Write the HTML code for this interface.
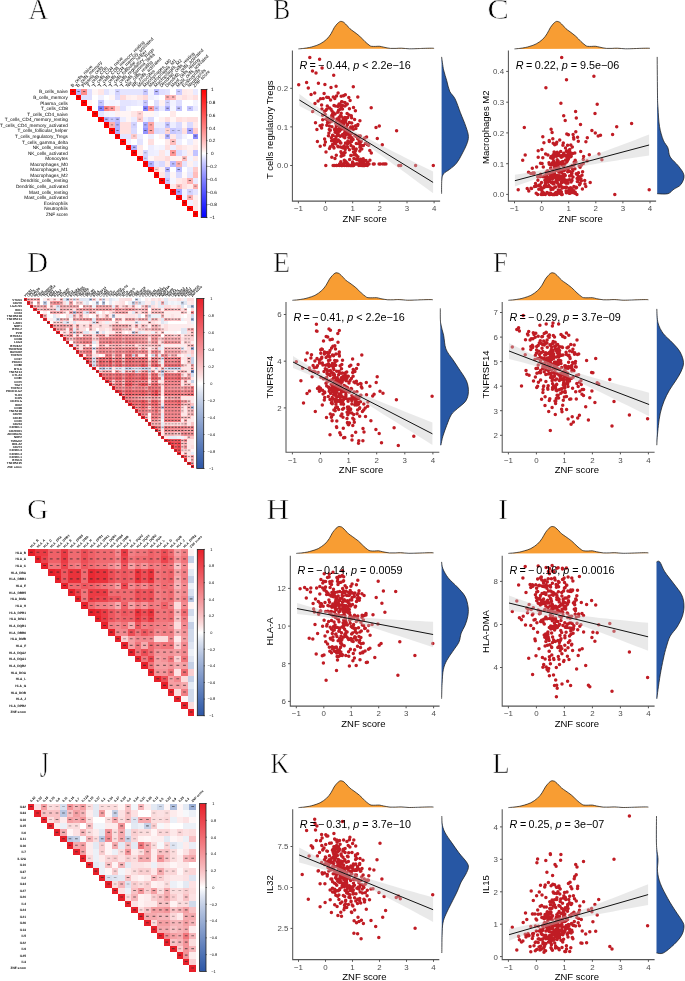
<!DOCTYPE html>
<html><head><meta charset="utf-8"><style>
html,body{margin:0;padding:0;background:#fff;}
svg{display:block;}
.tk{font-family:"Liberation Sans",sans-serif;font-size:7.9px;fill:#4D4D4D;}
.at{font-family:"Liberation Sans",sans-serif;font-size:9.5px;fill:#000;}
.rt{font-family:"Liberation Sans",sans-serif;font-size:10.8px;fill:#000;}
.lt{font-family:"Liberation Serif",serif;font-size:29px;fill:#000;stroke:#fff;stroke-width:0.6px;}
.hl{font-family:"Liberation Sans",sans-serif;fill:#000;text-rendering:geometricPrecision;}
</style></head><body>
<svg style="will-change:transform;filter:blur(0.3px)" width="685" height="981" viewBox="0 0 685 981">
<!-- panel B -->
<path d="M298.4,48.9 C299.3,48.8 302.0,48.6 303.8,48.4 C305.6,48.1 307.6,47.9 309.3,47.5 C310.9,47.2 312.1,46.9 313.9,46.3 C315.7,45.7 318.0,45.1 320.1,43.9 C322.2,42.8 324.8,41.0 326.6,39.3 C328.4,37.6 329.7,35.7 331.0,33.8 C332.2,31.8 333.2,29.3 334.2,27.7 C335.2,26.1 336.2,25.0 336.9,24.1 C337.7,23.3 338.0,23.0 338.6,22.5 C339.2,22.0 339.8,21.5 340.5,21.4 C341.1,21.3 341.8,21.5 342.4,21.7 C343.0,21.9 343.2,21.8 344.0,22.5 C344.8,23.2 346.3,24.7 347.3,25.8 C348.2,26.9 348.8,27.8 350.0,28.8 C351.1,29.8 352.4,30.6 354.0,31.8 C355.7,33.1 357.9,34.6 359.7,36.2 C361.5,37.9 363.4,40.0 364.9,41.5 C366.4,42.9 367.9,44.2 369.0,45.0 C370.0,45.9 370.3,46.1 371.4,46.3 C372.5,46.5 374.3,46.4 375.7,46.4 C377.2,46.4 378.5,46.1 379.8,46.3 C381.2,46.4 382.1,46.9 383.9,47.2 C385.7,47.6 388.4,48.2 390.4,48.4 C392.4,48.5 394.2,48.4 396.1,48.4 C398.0,48.3 399.3,48.1 401.5,48.2 C403.8,48.3 407.0,48.7 409.7,48.8 C412.4,48.8 415.6,48.7 417.8,48.6 C420.1,48.6 421.0,48.4 423.2,48.4 C425.5,48.3 429.6,48.2 431.4,48.2 C433.2,48.2 433.6,48.3 434.1,48.4 Z" fill="#F89D33" stroke="none"/>
<path d="M298.4,48.9 C299.3,48.8 302.0,48.6 303.8,48.4 C305.6,48.1 307.6,47.9 309.3,47.5 C310.9,47.2 312.1,46.9 313.9,46.3 C315.7,45.7 318.0,45.1 320.1,43.9 C322.2,42.8 324.8,41.0 326.6,39.3 C328.4,37.6 329.7,35.7 331.0,33.8 C332.2,31.8 333.2,29.3 334.2,27.7 C335.2,26.1 336.2,25.0 336.9,24.1 C337.7,23.3 338.0,23.0 338.6,22.5 C339.2,22.0 339.8,21.5 340.5,21.4 C341.1,21.3 341.8,21.5 342.4,21.7 C343.0,21.9 343.2,21.8 344.0,22.5 C344.8,23.2 346.3,24.7 347.3,25.8 C348.2,26.9 348.8,27.8 350.0,28.8 C351.1,29.8 352.4,30.6 354.0,31.8 C355.7,33.1 357.9,34.6 359.7,36.2 C361.5,37.9 363.4,40.0 364.9,41.5 C366.4,42.9 367.9,44.2 369.0,45.0 C370.0,45.9 370.3,46.1 371.4,46.3 C372.5,46.5 374.3,46.4 375.7,46.4 C377.2,46.4 378.5,46.1 379.8,46.3 C381.2,46.4 382.1,46.9 383.9,47.2 C385.7,47.6 388.4,48.2 390.4,48.4 C392.4,48.5 394.2,48.4 396.1,48.4 C398.0,48.3 399.3,48.1 401.5,48.2 C403.8,48.3 407.0,48.7 409.7,48.8 C412.4,48.8 415.6,48.7 417.8,48.6 C420.1,48.6 421.0,48.4 423.2,48.4 C425.5,48.3 429.6,48.2 431.4,48.2 C433.2,48.2 433.6,48.3 434.1,48.4" fill="none" stroke="#1a1a1a" stroke-width="0.75"/>
<path d="M441.6,56.9 C441.9,59.1 442.8,66.0 443.6,69.9 C444.5,73.9 445.7,77.0 446.7,80.6 C447.7,84.2 448.3,88.2 449.7,91.3 C451.1,94.3 453.3,95.3 455.1,98.9 C456.9,102.5 458.6,108.1 460.4,112.7 C462.2,117.3 464.5,122.5 465.8,126.4 C467.1,130.3 468.3,133.3 468.4,136.4 C468.5,139.5 467.6,141.9 466.5,144.8 C465.4,147.7 463.6,150.9 462.0,154.0 C460.4,157.1 458.7,160.5 456.6,163.1 C454.6,165.7 451.9,167.5 449.7,169.3 C447.5,171.1 444.9,172.0 443.6,173.8 C442.3,175.6 442.1,176.7 441.8,180.0 C441.5,183.3 441.6,191.4 441.6,193.7 L441.6,193.7 L441.6,56.9 Z" fill="#2757A4" stroke="none"/>
<path d="M441.6,56.9 C441.9,59.1 442.8,66.0 443.6,69.9 C444.5,73.9 445.7,77.0 446.7,80.6 C447.7,84.2 448.3,88.2 449.7,91.3 C451.1,94.3 453.3,95.3 455.1,98.9 C456.9,102.5 458.6,108.1 460.4,112.7 C462.2,117.3 464.5,122.5 465.8,126.4 C467.1,130.3 468.3,133.3 468.4,136.4 C468.5,139.5 467.6,141.9 466.5,144.8 C465.4,147.7 463.6,150.9 462.0,154.0 C460.4,157.1 458.7,160.5 456.6,163.1 C454.6,165.7 451.9,167.5 449.7,169.3 C447.5,171.1 444.9,172.0 443.6,173.8 C442.3,175.6 442.1,176.7 441.8,180.0 C441.5,183.3 441.6,191.4 441.6,193.7" fill="none" stroke="#1a1a1a" stroke-width="0.75"/>
<path d="M339.4 131.0h0M334.7 97.9h0M338.6 105.3h0M339.0 140.9h0M337.2 135.2h0M357.9 156.7h0M331.0 109.3h0M359.8 151.0h0M347.4 124.8h0M326.0 152.1h0M341.6 101.7h0M341.2 135.7h0M359.2 137.9h0M347.1 165.5h0M326.8 125.3h0M333.2 114.2h0M352.2 128.0h0M384.5 164.0h0M337.5 132.2h0M339.3 117.2h0M338.1 146.8h0M336.3 155.2h0M336.9 119.1h0M385.9 164.0h0M331.8 157.3h0M328.4 135.7h0M379.1 164.0h0M334.0 148.1h0M356.7 164.0h0M325.2 114.4h0M345.9 119.7h0M361.1 165.5h0M315.5 122.7h0M343.2 127.2h0M344.3 121.4h0M329.4 126.0h0M346.6 128.1h0M328.4 97.6h0M336.9 132.7h0M333.1 140.5h0M347.3 133.0h0M331.5 116.4h0M347.7 117.5h0M341.1 156.2h0M334.7 139.2h0M345.1 152.6h0M320.2 146.2h0M360.9 149.3h0M360.7 142.0h0M334.7 141.4h0M318.4 83.2h0M343.0 118.1h0M342.2 121.1h0M332.6 114.0h0M326.7 97.3h0M325.8 165.5h0M339.1 118.3h0M354.8 135.3h0M344.7 165.5h0M347.7 133.5h0M346.6 165.5h0M345.6 121.9h0M346.2 147.1h0M338.2 130.4h0M350.1 135.9h0M344.5 152.6h0M333.7 75.2h0M347.8 142.4h0M339.9 121.8h0M356.8 156.2h0M366.6 136.9h0M355.8 135.5h0M334.8 129.0h0M314.7 93.0h0M351.6 117.7h0M338.1 92.9h0M346.9 162.8h0M364.2 138.6h0M363.4 145.6h0M356.2 148.9h0M316.9 129.5h0M341.3 107.3h0M352.3 165.5h0M333.9 112.9h0M333.3 97.0h0M344.9 161.9h0M322.7 119.7h0M330.3 146.7h0M341.9 129.1h0M344.9 105.9h0M379.3 126.1h0M340.8 161.7h0M333.1 135.6h0M367.3 144.5h0M342.1 101.7h0M369.8 150.6h0M351.2 155.5h0M345.7 132.5h0M350.1 142.7h0M340.3 136.3h0M340.5 147.1h0M348.4 133.5h0M338.5 124.0h0M363.4 165.5h0M355.7 150.4h0M325.4 141.9h0M356.5 155.5h0M382.3 144.7h0M338.1 134.0h0M344.3 160.2h0M351.3 115.8h0M349.2 131.5h0M345.3 94.8h0M331.5 120.7h0M339.8 141.4h0M329.5 148.5h0M354.6 119.4h0M357.8 96.9h0M356.6 159.5h0M337.0 141.5h0M346.9 127.9h0M335.7 143.7h0M335.1 132.3h0M341.9 165.5h0M348.8 137.5h0M355.6 125.7h0M344.8 137.7h0M334.0 105.4h0M366.0 160.6h0M348.6 134.6h0M366.4 164.0h0M365.4 164.0h0M350.8 127.1h0M332.6 135.3h0M355.8 136.3h0M342.2 123.2h0M377.3 138.6h0M353.2 129.6h0M330.6 100.1h0M329.2 122.0h0M342.5 147.8h0M380.3 164.0h0M349.4 149.8h0M349.6 159.5h0M358.9 165.5h0M327.3 120.0h0M360.2 146.5h0M336.7 165.5h0M374.2 164.0h0M330.2 122.1h0M356.3 143.6h0M340.2 109.3h0M327.3 105.9h0M345.2 149.4h0M336.8 165.5h0M350.1 100.5h0M343.7 120.8h0M376.0 127.6h0M348.8 97.6h0M333.7 141.0h0M361.4 145.4h0M344.2 127.6h0M335.0 114.0h0M351.6 133.5h0M359.9 147.2h0M340.2 128.9h0M356.0 164.0h0M334.6 129.7h0M358.2 159.8h0M316.0 72.9h0M355.2 154.1h0M346.3 126.9h0M341.1 116.1h0M350.0 165.5h0M351.9 137.8h0M332.4 121.1h0M329.3 129.5h0M334.7 129.0h0M342.2 165.5h0M326.7 109.2h0M350.3 142.5h0M343.5 123.6h0M362.6 164.0h0M306.6 82.5h0M331.3 137.8h0M373.3 164.0h0M331.9 126.8h0M343.6 146.6h0M331.9 115.3h0M354.3 154.8h0M332.5 144.6h0M353.9 158.5h0M334.8 98.4h0M330.8 119.9h0M383.0 164.0h0M328.0 118.5h0M356.0 164.0h0M341.2 96.2h0M346.2 162.1h0M350.9 133.5h0M357.7 138.8h0M354.7 164.0h0M340.1 126.4h0M346.3 117.9h0M359.1 141.1h0M298.7 84.8h0M338.6 110.2h0M340.6 129.5h0M321.6 105.1h0M362.5 165.5h0M367.3 165.5h0M333.1 165.5h0M337.8 112.3h0M340.9 143.0h0M341.5 153.2h0M346.9 132.4h0M344.9 102.5h0M364.9 137.9h0M367.6 162.5h0M365.5 143.3h0M330.3 130.2h0M327.9 121.1h0M336.3 125.9h0M364.1 165.5h0M361.8 149.1h0M340.9 151.8h0M353.4 165.5h0M352.3 164.0h0M324.5 145.1h0M331.6 140.8h0M360.3 136.0h0M331.0 87.6h0M347.9 140.9h0M337.9 106.6h0M338.4 135.2h0M348.0 164.0h0M319.6 59.3h0M342.2 125.4h0M353.5 152.0h0M331.8 115.8h0M329.6 108.1h0M334.5 142.7h0M345.3 161.0h0M353.0 148.5h0M347.6 143.9h0M312.7 111.6h0M341.2 113.2h0M347.3 104.0h0M363.2 158.7h0M350.4 128.8h0M349.3 122.5h0M368.7 145.2h0M364.7 165.5h0M309.8 57.4h0M358.7 136.1h0M336.1 86.2h0M340.3 115.7h0M351.0 165.5h0M361.3 141.3h0M357.9 124.6h0M344.1 128.8h0M362.3 160.1h0M336.5 96.1h0M357.1 164.0h0M346.8 129.1h0M350.2 142.5h0M352.6 161.9h0M342.5 109.1h0M336.7 120.5h0M342.7 155.5h0M355.0 135.2h0M334.8 165.5h0M343.1 164.0h0M369.0 164.0h0M325.7 110.5h0M308.3 87.9h0M315.0 103.4h0M339.7 131.0h0M343.1 125.6h0M335.9 131.6h0M357.6 125.6h0M324.4 111.4h0M332.9 117.1h0M329.6 108.0h0M343.9 154.9h0M362.2 161.5h0M359.9 120.8h0M359.6 143.9h0M345.5 143.0h0M371.3 153.0h0M338.3 140.1h0M340.9 127.2h0M328.9 133.1h0M353.1 139.6h0M358.9 164.0h0M340.0 104.2h0M344.1 146.1h0M317.4 141.4h0M335.1 130.7h0M347.6 147.3h0M321.9 109.1h0M333.6 147.1h0M311.1 94.5h0M322.1 68.0h0M348.6 165.5h0M345.2 131.0h0M339.3 165.5h0M351.9 165.5h0M335.0 158.5h0M324.6 139.1h0M340.7 123.2h0M343.8 137.0h0M346.2 105.0h0M320.1 125.8h0M335.7 123.2h0M353.3 86.7h0M334.1 140.5h0M361.6 163.2h0M327.3 118.3h0M336.0 128.4h0M338.0 111.8h0M339.3 128.6h0M350.8 155.4h0M344.6 132.8h0M371.2 107.8h0M349.0 114.9h0M354.1 164.0h0M351.0 145.5h0M337.8 146.2h0M320.5 98.7h0M338.1 132.8h0M343.5 95.7h0M344.9 117.5h0M352.7 126.8h0M345.8 135.0h0M349.1 142.3h0M343.2 128.7h0M339.1 104.1h0M339.1 119.6h0M354.8 152.0h0M347.1 113.6h0M351.2 139.8h0M322.6 115.2h0M359.8 161.2h0M322.2 125.1h0M343.3 147.7h0M343.8 164.0h0M351.7 123.1h0M332.0 110.9h0M327.5 122.8h0M324.1 93.4h0M318.1 101.0h0M336.9 120.8h0M353.1 164.0h0M369.9 160.2h0M348.3 130.0h0M349.4 108.8h0M353.5 107.6h0M342.6 105.5h0M364.5 164.0h0M339.6 164.0h0M343.7 123.9h0M342.6 134.6h0M355.9 128.6h0M325.9 119.1h0M333.2 119.0h0M346.2 161.9h0M350.3 133.7h0M336.1 136.7h0M339.7 123.8h0M353.7 165.5h0M353.2 146.9h0M358.7 143.8h0M337.7 129.8h0M323.2 98.4h0M312.5 70.9h0M336.7 139.7h0M360.6 159.3h0M355.4 110.7h0M337.2 130.7h0M335.3 106.0h0M345.3 130.4h0M341.4 165.5h0M321.6 128.0h0M351.6 141.6h0M338.7 125.4h0M339.0 117.5h0M357.0 164.0h0M363.6 161.2h0M353.5 147.0h0M324.9 84.6h0M357.8 164.0h0M347.7 132.2h0M340.4 142.9h0M337.3 119.9h0M396.6 130.8h0M398.8 165.5h0M400.7 165.5h0M415.6 165.5h0M433.3 165.5h0" stroke="#C01C24" stroke-width="3.5" stroke-linecap="round" fill="none"/>
<path d="M299.4,94.1 L306.1,98.9 L312.8,103.6 L319.5,108.3 L326.1,113.0 L332.8,117.5 L339.5,122.0 L346.2,126.2 L352.9,130.2 L359.6,134.0 L366.2,137.6 L372.9,141.1 L379.6,144.6 L386.3,148.0 L393.0,151.4 L399.7,154.8 L406.4,158.2 L413.0,161.6 L419.7,164.9 L426.4,168.3 L433.1,171.6 L433.1,193.2 L426.4,188.3 L419.7,183.4 L413.0,178.5 L406.4,173.6 L399.7,168.8 L393.0,163.9 L386.3,159.1 L379.6,154.3 L372.9,149.5 L366.2,144.8 L359.6,140.2 L352.9,135.7 L346.2,131.5 L339.5,127.5 L332.8,123.7 L326.1,120.0 L319.5,116.4 L312.8,112.8 L306.1,109.4 L299.4,105.9 Z" fill="#C8C8C8" fill-opacity="0.4"/>
<line x1="299.4" y1="100.0" x2="433.1" y2="182.4" stroke="#111" stroke-width="1"/>
<path d="M292.4,50.4 V201.1 H440.1" fill="none" stroke="#555" stroke-width="1.05"/>
<line x1="298.4" y1="201.1" x2="298.4" y2="203.29999999999998" stroke="#555" stroke-width="1"/>
<text x="298.4" y="211.4" class="tk" text-anchor="middle">−1</text>
<line x1="325.5" y1="201.1" x2="325.5" y2="203.29999999999998" stroke="#555" stroke-width="1"/>
<text x="325.5" y="211.4" class="tk" text-anchor="middle">0</text>
<line x1="352.7" y1="201.1" x2="352.7" y2="203.29999999999998" stroke="#555" stroke-width="1"/>
<text x="352.7" y="211.4" class="tk" text-anchor="middle">1</text>
<line x1="379.8" y1="201.1" x2="379.8" y2="203.29999999999998" stroke="#555" stroke-width="1"/>
<text x="379.8" y="211.4" class="tk" text-anchor="middle">2</text>
<line x1="407.0" y1="201.1" x2="407.0" y2="203.29999999999998" stroke="#555" stroke-width="1"/>
<text x="407.0" y="211.4" class="tk" text-anchor="middle">3</text>
<line x1="434.1" y1="201.1" x2="434.1" y2="203.29999999999998" stroke="#555" stroke-width="1"/>
<text x="434.1" y="211.4" class="tk" text-anchor="middle">4</text>
<line x1="290.2" y1="165.5" x2="292.4" y2="165.5" stroke="#555" stroke-width="1"/>
<text x="288.1" y="168.3" class="tk" text-anchor="end">0.0</text>
<line x1="290.2" y1="126.9" x2="292.4" y2="126.9" stroke="#555" stroke-width="1"/>
<text x="288.1" y="129.8" class="tk" text-anchor="end">0.1</text>
<line x1="290.2" y1="88.3" x2="292.4" y2="88.3" stroke="#555" stroke-width="1"/>
<text x="288.1" y="91.1" class="tk" text-anchor="end">0.2</text>
<text x="364.6" y="221.8" class="at" text-anchor="middle">ZNF score</text>
<text transform="translate(273.3,129.7) rotate(-90)" class="at" text-anchor="middle">T cells regulatory Tregs</text>
<text x="299.6" y="69.1" class="rt"><tspan font-style="italic">R</tspan><tspan x="309.6">=</tspan><tspan x="318.0">−</tspan><tspan x="326.2">0.44, </tspan><tspan font-style="italic">p</tspan> &lt; 2.2e−16</text>
<!-- panel C -->
<path d="M514.5,48.9 C515.4,48.8 518.1,48.6 519.9,48.4 C521.7,48.1 523.7,47.9 525.3,47.5 C527.0,47.2 528.1,46.9 529.9,46.3 C531.8,45.7 534.1,45.1 536.2,43.9 C538.3,42.8 540.9,41.0 542.7,39.3 C544.5,37.6 545.8,35.7 547.0,33.8 C548.3,31.8 549.3,29.3 550.3,27.7 C551.3,26.1 552.3,25.0 553.0,24.1 C553.7,23.3 554.0,23.0 554.6,22.5 C555.2,22.0 555.9,21.5 556.5,21.4 C557.1,21.3 557.8,21.5 558.4,21.7 C559.0,21.9 559.2,21.8 560.0,22.5 C560.8,23.2 562.3,24.7 563.3,25.8 C564.3,26.9 564.9,27.8 566.0,28.8 C567.1,29.8 568.4,30.6 570.1,31.8 C571.7,33.1 573.9,34.6 575.7,36.2 C577.6,37.9 579.4,40.0 580.9,41.5 C582.4,42.9 583.9,44.2 585.0,45.0 C586.0,45.9 586.3,46.1 587.4,46.3 C588.5,46.5 590.3,46.4 591.7,46.4 C593.1,46.4 594.4,46.1 595.8,46.3 C597.2,46.4 598.1,46.9 599.9,47.2 C601.6,47.6 604.3,48.2 606.4,48.4 C608.4,48.5 610.2,48.4 612.1,48.4 C613.9,48.3 615.2,48.1 617.5,48.2 C619.7,48.3 622.9,48.7 625.6,48.8 C628.3,48.8 631.5,48.7 633.7,48.6 C636.0,48.6 636.9,48.4 639.2,48.4 C641.4,48.3 645.5,48.2 647.3,48.2 C649.1,48.2 649.5,48.3 650.0,48.4 Z" fill="#F89D33" stroke="none"/>
<path d="M514.5,48.9 C515.4,48.8 518.1,48.6 519.9,48.4 C521.7,48.1 523.7,47.9 525.3,47.5 C527.0,47.2 528.1,46.9 529.9,46.3 C531.8,45.7 534.1,45.1 536.2,43.9 C538.3,42.8 540.9,41.0 542.7,39.3 C544.5,37.6 545.8,35.7 547.0,33.8 C548.3,31.8 549.3,29.3 550.3,27.7 C551.3,26.1 552.3,25.0 553.0,24.1 C553.7,23.3 554.0,23.0 554.6,22.5 C555.2,22.0 555.9,21.5 556.5,21.4 C557.1,21.3 557.8,21.5 558.4,21.7 C559.0,21.9 559.2,21.8 560.0,22.5 C560.8,23.2 562.3,24.7 563.3,25.8 C564.3,26.9 564.9,27.8 566.0,28.8 C567.1,29.8 568.4,30.6 570.1,31.8 C571.7,33.1 573.9,34.6 575.7,36.2 C577.6,37.9 579.4,40.0 580.9,41.5 C582.4,42.9 583.9,44.2 585.0,45.0 C586.0,45.9 586.3,46.1 587.4,46.3 C588.5,46.5 590.3,46.4 591.7,46.4 C593.1,46.4 594.4,46.1 595.8,46.3 C597.2,46.4 598.1,46.9 599.9,47.2 C601.6,47.6 604.3,48.2 606.4,48.4 C608.4,48.5 610.2,48.4 612.1,48.4 C613.9,48.3 615.2,48.1 617.5,48.2 C619.7,48.3 622.9,48.7 625.6,48.8 C628.3,48.8 631.5,48.7 633.7,48.6 C636.0,48.6 636.9,48.4 639.2,48.4 C641.4,48.3 645.5,48.2 647.3,48.2 C649.1,48.2 649.5,48.3 650.0,48.4" fill="none" stroke="#1a1a1a" stroke-width="0.75"/>
<path d="M657.2,56.9 C657.2,63.4 657.4,87.4 657.5,95.9 C657.6,104.4 657.7,102.9 658.0,108.0 C658.3,113.1 658.6,121.0 659.5,126.4 C660.4,131.8 661.9,136.6 663.3,140.2 C664.7,143.8 666.8,145.0 667.9,147.8 C669.0,150.6 668.4,153.9 670.2,157.0 C672.0,160.1 676.3,163.1 678.6,166.2 C680.9,169.3 683.6,172.3 684.0,175.4 C684.4,178.5 682.6,182.2 680.9,184.5 C679.2,186.8 676.2,187.6 674.0,189.1 C671.8,190.6 670.7,192.9 667.9,193.7 C665.1,194.5 659.0,193.7 657.2,193.7 L657.2,193.7 L657.2,56.9 Z" fill="#2757A4" stroke="none"/>
<path d="M657.2,56.9 C657.2,63.4 657.4,87.4 657.5,95.9 C657.6,104.4 657.7,102.9 658.0,108.0 C658.3,113.1 658.6,121.0 659.5,126.4 C660.4,131.8 661.9,136.6 663.3,140.2 C664.7,143.8 666.8,145.0 667.9,147.8 C669.0,150.6 668.4,153.9 670.2,157.0 C672.0,160.1 676.3,163.1 678.6,166.2 C680.9,169.3 683.6,172.3 684.0,175.4 C684.4,178.5 682.6,182.2 680.9,184.5 C679.2,186.8 676.2,187.6 674.0,189.1 C671.8,190.6 670.7,192.9 667.9,193.7 C665.1,194.5 659.0,193.7 657.2,193.7" fill="none" stroke="#1a1a1a" stroke-width="0.75"/>
<path d="M555.4 176.0h0M550.7 157.8h0M554.6 162.7h0M555.0 163.2h0M553.2 143.2h0M573.9 186.4h0M547.0 186.6h0M575.8 187.2h0M563.4 174.8h0M542.1 163.6h0M557.7 175.4h0M557.2 166.7h0M575.2 192.2h0M563.1 170.8h0M542.9 194.4h0M549.3 141.6h0M568.2 152.8h0M600.5 135.3h0M553.5 177.6h0M555.3 165.1h0M554.1 164.9h0M552.3 181.8h0M553.0 183.7h0M601.9 159.8h0M547.9 186.2h0M544.5 186.9h0M595.0 113.5h0M550.0 186.9h0M572.7 153.4h0M541.2 194.4h0M561.9 157.1h0M577.1 178.4h0M531.6 188.6h0M559.2 190.6h0M560.3 176.6h0M545.4 182.6h0M562.6 170.2h0M544.4 186.1h0M553.0 175.5h0M549.2 140.6h0M563.3 165.8h0M547.6 185.9h0M563.7 153.3h0M557.2 177.1h0M550.7 168.0h0M561.2 162.2h0M536.2 186.3h0M576.9 194.4h0M576.7 174.3h0M550.7 168.4h0M534.5 186.6h0M559.0 167.0h0M558.2 155.6h0M548.7 185.4h0M542.8 157.8h0M541.9 149.4h0M555.2 154.8h0M570.8 145.0h0M560.7 151.6h0M563.7 115.7h0M562.6 170.0h0M561.7 57.6h0M562.2 161.8h0M554.2 187.7h0M566.1 191.0h0M560.5 185.8h0M549.7 172.3h0M563.9 164.1h0M555.9 192.5h0M572.8 192.4h0M582.6 171.7h0M571.9 173.5h0M550.8 178.5h0M530.8 173.6h0M567.6 145.2h0M554.2 172.7h0M562.9 161.6h0M580.2 183.6h0M579.5 184.7h0M572.2 165.6h0M533.0 172.9h0M557.3 161.7h0M568.3 159.3h0M549.9 164.4h0M549.3 164.2h0M560.9 193.2h0M538.8 189.2h0M546.4 172.1h0M557.9 164.4h0M560.9 191.5h0M595.3 132.9h0M556.8 181.6h0M549.2 181.4h0M583.3 159.6h0M558.1 160.8h0M585.8 186.4h0M567.2 151.0h0M561.7 172.4h0M566.1 183.2h0M556.4 179.7h0M556.5 193.2h0M564.4 182.0h0M554.5 173.4h0M579.4 178.9h0M571.7 175.7h0M541.5 182.4h0M572.5 168.9h0M598.2 136.0h0M554.2 176.8h0M560.4 178.0h0M567.3 161.1h0M565.2 120.5h0M561.3 178.8h0M547.5 170.7h0M555.8 192.7h0M545.6 153.9h0M570.6 156.8h0M573.8 139.1h0M572.7 171.1h0M553.0 189.2h0M562.9 155.0h0M551.8 164.1h0M551.2 188.0h0M558.0 191.7h0M564.8 164.3h0M571.6 173.1h0M560.9 103.3h0M550.0 194.4h0M582.0 175.3h0M564.6 174.5h0M582.4 189.1h0M581.4 180.7h0M566.8 134.0h0M548.7 180.3h0M571.8 179.7h0M558.3 190.1h0M593.9 76.3h0M569.2 157.3h0M546.6 175.3h0M545.3 184.3h0M558.6 169.7h0M597.2 104.3h0M565.4 182.4h0M565.6 159.9h0M574.9 193.2h0M543.4 192.7h0M576.3 173.7h0M552.7 178.5h0M590.2 182.5h0M546.2 174.3h0M572.3 147.1h0M556.3 168.1h0M543.4 176.7h0M561.3 157.2h0M552.8 170.5h0M566.1 187.5h0M559.8 177.4h0M591.9 130.6h0M564.9 187.5h0M549.8 177.2h0M577.4 174.6h0M560.2 186.1h0M551.0 189.4h0M567.7 169.8h0M575.9 162.1h0M556.2 170.6h0M572.1 189.0h0M550.7 181.5h0M574.2 162.3h0M532.3 168.2h0M571.2 156.2h0M562.4 156.4h0M557.1 153.4h0M566.0 155.3h0M567.9 183.3h0M548.5 177.6h0M545.3 194.4h0M550.7 193.2h0M558.3 193.1h0M542.8 136.8h0M566.4 187.0h0M559.5 193.2h0M578.7 177.3h0M522.7 160.2h0M547.4 179.4h0M589.3 154.8h0M547.9 182.2h0M559.6 175.7h0M547.9 154.9h0M570.3 154.0h0M548.6 179.6h0M570.0 152.0h0M550.8 157.4h0M546.9 181.9h0M599.0 153.9h0M544.1 176.0h0M572.0 180.4h0M557.2 152.3h0M562.2 176.1h0M566.9 181.2h0M573.7 190.8h0M570.7 187.7h0M556.1 143.7h0M562.3 188.1h0M575.2 160.2h0M518.2 189.7h0M554.6 167.7h0M556.6 164.9h0M537.7 194.4h0M578.5 172.7h0M583.3 163.5h0M549.2 194.4h0M553.9 177.1h0M556.9 194.4h0M557.5 163.9h0M562.9 145.3h0M560.9 164.1h0M580.9 178.8h0M583.6 156.5h0M581.5 165.1h0M546.3 172.1h0M543.9 142.8h0M552.3 194.4h0M580.1 167.2h0M577.9 181.5h0M557.0 179.6h0M569.4 179.7h0M568.4 134.7h0M540.6 176.6h0M547.6 186.0h0M576.3 118.0h0M547.0 192.6h0M564.0 155.2h0M553.9 157.0h0M554.5 166.8h0M564.0 176.8h0M535.5 183.5h0M558.2 179.9h0M569.5 154.6h0M547.9 193.2h0M545.9 87.7h0M550.5 175.5h0M561.3 182.1h0M569.1 192.5h0M563.6 176.9h0M528.8 190.9h0M557.2 159.7h0M563.3 143.1h0M579.2 166.0h0M566.5 79.7h0M565.3 175.6h0M584.7 180.4h0M580.7 151.6h0M525.2 154.9h0M574.7 162.7h0M552.1 132.4h0M556.3 143.9h0M567.1 157.7h0M577.3 181.4h0M573.9 165.3h0M560.1 190.3h0M578.3 141.3h0M552.5 173.2h0M573.1 134.6h0M562.8 165.8h0M566.3 192.8h0M568.7 154.7h0M558.5 153.3h0M552.8 138.7h0M558.8 185.6h0M571.1 182.0h0M550.8 174.4h0M559.2 186.5h0M585.0 184.1h0M541.8 190.6h0M524.3 127.4h0M531.0 188.3h0M555.7 187.1h0M559.1 179.6h0M552.0 175.6h0M573.6 137.5h0M540.5 163.2h0M549.0 162.7h0M545.7 177.4h0M560.0 169.9h0M578.2 176.8h0M575.9 187.9h0M575.6 111.4h0M561.5 194.4h0M587.3 137.8h0M554.3 194.4h0M557.0 175.4h0M544.9 180.3h0M569.1 188.2h0M574.9 168.8h0M556.0 167.8h0M560.2 155.8h0M533.5 174.0h0M551.2 156.5h0M563.6 165.8h0M537.9 180.2h0M549.6 193.2h0M527.2 188.6h0M538.2 150.7h0M564.6 169.0h0M561.2 156.1h0M555.4 177.8h0M567.9 180.3h0M551.1 129.3h0M540.7 174.2h0M556.8 142.2h0M559.9 163.1h0M562.2 194.4h0M536.2 193.2h0M551.7 174.7h0M569.4 189.9h0M550.2 193.2h0M577.6 137.2h0M543.3 167.0h0M552.0 164.7h0M554.1 174.5h0M555.3 175.3h0M566.8 162.0h0M560.7 170.2h0M587.1 161.0h0M565.0 155.7h0M570.1 193.2h0M567.0 151.6h0M553.9 184.0h0M536.6 167.0h0M554.1 152.1h0M559.5 184.9h0M561.0 156.9h0M568.8 153.6h0M561.8 182.8h0M565.1 179.8h0M559.2 172.2h0M555.2 193.2h0M555.1 182.0h0M570.8 166.8h0M563.1 179.5h0M567.2 191.1h0M538.6 185.6h0M575.8 131.8h0M538.2 157.3h0M559.3 176.2h0M559.8 185.1h0M567.7 171.8h0M548.1 178.2h0M543.5 187.7h0M540.1 184.8h0M534.2 173.0h0M553.0 159.1h0M569.1 193.2h0M585.9 141.8h0M564.3 170.5h0M565.5 147.9h0M569.5 171.3h0M558.7 167.0h0M580.5 124.4h0M555.6 193.2h0M559.7 140.1h0M558.6 171.6h0M571.9 192.1h0M541.9 193.2h0M549.3 173.5h0M562.3 187.0h0M566.3 151.2h0M552.2 173.8h0M555.7 178.0h0M569.7 149.5h0M569.2 167.6h0M574.8 153.1h0M553.7 161.2h0M539.3 176.4h0M528.5 172.2h0M552.7 162.6h0M576.6 187.5h0M571.4 175.1h0M553.3 194.4h0M551.3 182.4h0M561.4 191.9h0M557.4 183.0h0M537.7 176.8h0M567.6 168.2h0M554.7 144.7h0M555.0 194.4h0M573.0 176.9h0M579.6 176.7h0M569.6 176.0h0M541.0 187.5h0M573.8 192.2h0M563.7 166.6h0M556.5 156.2h0M553.3 154.8h0M612.6 134.4h0M614.8 194.4h0M616.7 126.8h0M631.6 123.4h0M649.2 189.8h0" stroke="#C01C24" stroke-width="3.5" stroke-linecap="round" fill="none"/>
<path d="M514.9,174.8 L521.6,173.7 L528.3,172.6 L535.0,171.4 L541.7,170.1 L548.5,168.7 L555.2,167.3 L561.9,165.6 L568.6,163.7 L575.3,161.6 L582.0,159.3 L588.7,157.0 L595.4,154.6 L602.1,152.2 L608.8,149.7 L615.5,147.2 L622.3,144.7 L629.0,142.2 L635.7,139.7 L642.4,137.1 L649.1,134.6 L649.1,155.4 L642.4,156.4 L635.7,157.5 L629.0,158.5 L622.3,159.6 L615.5,160.7 L608.8,161.7 L602.1,162.8 L595.4,164.0 L588.7,165.1 L582.0,166.4 L575.3,167.7 L568.6,169.2 L561.9,170.8 L555.2,172.7 L548.5,174.8 L541.7,177.0 L535.0,179.3 L528.3,181.7 L521.6,184.1 L514.9,186.5 Z" fill="#C8C8C8" fill-opacity="0.4"/>
<line x1="514.9" y1="180.7" x2="649.1" y2="145.0" stroke="#111" stroke-width="1"/>
<path d="M508.4,50.5 V201.1 H656.1" fill="none" stroke="#555" stroke-width="1.05"/>
<line x1="514.5" y1="201.1" x2="514.5" y2="203.29999999999998" stroke="#555" stroke-width="1"/>
<text x="514.5" y="211.4" class="tk" text-anchor="middle">−1</text>
<line x1="541.6" y1="201.1" x2="541.6" y2="203.29999999999998" stroke="#555" stroke-width="1"/>
<text x="541.6" y="211.4" class="tk" text-anchor="middle">0</text>
<line x1="568.7" y1="201.1" x2="568.7" y2="203.29999999999998" stroke="#555" stroke-width="1"/>
<text x="568.7" y="211.4" class="tk" text-anchor="middle">1</text>
<line x1="595.8" y1="201.1" x2="595.8" y2="203.29999999999998" stroke="#555" stroke-width="1"/>
<text x="595.8" y="211.4" class="tk" text-anchor="middle">2</text>
<line x1="622.9" y1="201.1" x2="622.9" y2="203.29999999999998" stroke="#555" stroke-width="1"/>
<text x="622.9" y="211.4" class="tk" text-anchor="middle">3</text>
<line x1="650.0" y1="201.1" x2="650.0" y2="203.29999999999998" stroke="#555" stroke-width="1"/>
<text x="650.0" y="211.4" class="tk" text-anchor="middle">4</text>
<line x1="506.2" y1="194.4" x2="508.4" y2="194.4" stroke="#555" stroke-width="1"/>
<text x="504.1" y="197.2" class="tk" text-anchor="end">0.0</text>
<line x1="506.2" y1="163.7" x2="508.4" y2="163.7" stroke="#555" stroke-width="1"/>
<text x="504.1" y="166.5" class="tk" text-anchor="end">0.1</text>
<line x1="506.2" y1="132.9" x2="508.4" y2="132.9" stroke="#555" stroke-width="1"/>
<text x="504.1" y="135.8" class="tk" text-anchor="end">0.2</text>
<line x1="506.2" y1="102.2" x2="508.4" y2="102.2" stroke="#555" stroke-width="1"/>
<text x="504.1" y="105.0" class="tk" text-anchor="end">0.3</text>
<line x1="506.2" y1="71.4" x2="508.4" y2="71.4" stroke="#555" stroke-width="1"/>
<text x="504.1" y="74.2" class="tk" text-anchor="end">0.4</text>
<text x="580.6" y="221.8" class="at" text-anchor="middle">ZNF score</text>
<text transform="translate(489.3,127.2) rotate(-90)" class="at" text-anchor="middle">Macrophages M2</text>
<text x="515.7" y="69.1" class="rt"><tspan font-style="italic">R</tspan><tspan x="526.1">=</tspan><tspan x="534.7">0.22, </tspan><tspan font-style="italic">p</tspan> = 9.5e−06</text>
<!-- panel E -->
<path d="M292.4,300.3 C293.3,300.2 296.1,300.0 298.0,299.8 C299.9,299.5 301.9,299.3 303.6,298.9 C305.4,298.6 306.5,298.3 308.4,297.7 C310.3,297.1 312.7,296.5 314.9,295.4 C317.1,294.2 319.8,292.4 321.6,290.7 C323.5,289.0 324.8,287.1 326.1,285.2 C327.4,283.2 328.5,280.7 329.5,279.1 C330.5,277.5 331.6,276.4 332.3,275.6 C333.1,274.7 333.4,274.4 334.0,273.9 C334.6,273.4 335.3,272.9 336.0,272.8 C336.6,272.7 337.3,272.9 337.9,273.1 C338.5,273.3 338.8,273.2 339.6,273.9 C340.5,274.6 341.9,276.1 343.0,277.2 C344.0,278.3 344.6,279.2 345.8,280.2 C347.0,281.2 348.3,282.0 350.0,283.2 C351.7,284.5 354.0,286.0 355.9,287.7 C357.8,289.3 359.7,291.4 361.2,292.9 C362.8,294.3 364.3,295.6 365.5,296.4 C366.6,297.3 366.8,297.5 368.0,297.7 C369.2,297.9 371.0,297.8 372.5,297.8 C373.9,297.8 375.3,297.6 376.7,297.7 C378.1,297.8 379.1,298.3 380.9,298.7 C382.7,299.0 385.6,299.6 387.7,299.8 C389.8,299.9 391.6,299.8 393.6,299.8 C395.5,299.7 396.8,299.5 399.2,299.6 C401.5,299.7 404.8,300.1 407.6,300.2 C410.4,300.2 413.7,300.1 416.0,300.0 C418.4,300.0 419.3,299.8 421.7,299.8 C424.0,299.7 428.2,299.6 430.1,299.6 C432.0,299.6 432.4,299.7 432.9,299.8 Z" fill="#F89D33" stroke="none"/>
<path d="M292.4,300.3 C293.3,300.2 296.1,300.0 298.0,299.8 C299.9,299.5 301.9,299.3 303.6,298.9 C305.4,298.6 306.5,298.3 308.4,297.7 C310.3,297.1 312.7,296.5 314.9,295.4 C317.1,294.2 319.8,292.4 321.6,290.7 C323.5,289.0 324.8,287.1 326.1,285.2 C327.4,283.2 328.5,280.7 329.5,279.1 C330.5,277.5 331.6,276.4 332.3,275.6 C333.1,274.7 333.4,274.4 334.0,273.9 C334.6,273.4 335.3,272.9 336.0,272.8 C336.6,272.7 337.3,272.9 337.9,273.1 C338.5,273.3 338.8,273.2 339.6,273.9 C340.5,274.6 341.9,276.1 343.0,277.2 C344.0,278.3 344.6,279.2 345.8,280.2 C347.0,281.2 348.3,282.0 350.0,283.2 C351.7,284.5 354.0,286.0 355.9,287.7 C357.8,289.3 359.7,291.4 361.2,292.9 C362.8,294.3 364.3,295.6 365.5,296.4 C366.6,297.3 366.8,297.5 368.0,297.7 C369.2,297.9 371.0,297.8 372.5,297.8 C373.9,297.8 375.3,297.6 376.7,297.7 C378.1,297.8 379.1,298.3 380.9,298.7 C382.7,299.0 385.6,299.6 387.7,299.8 C389.8,299.9 391.6,299.8 393.6,299.8 C395.5,299.7 396.8,299.5 399.2,299.6 C401.5,299.7 404.8,300.1 407.6,300.2 C410.4,300.2 413.7,300.1 416.0,300.0 C418.4,300.0 419.3,299.8 421.7,299.8 C424.0,299.7 428.2,299.6 430.1,299.6 C432.0,299.6 432.4,299.7 432.9,299.8" fill="none" stroke="#1a1a1a" stroke-width="0.75"/>
<path d="M440.3,308.4 C440.4,310.8 440.1,318.4 440.6,322.9 C441.2,327.4 442.7,330.9 443.6,335.2 C444.5,339.5 444.4,344.8 445.9,348.9 C447.4,353.0 450.6,356.3 452.8,359.6 C455.0,362.9 456.6,365.2 458.9,368.8 C461.2,372.4 464.9,377.2 466.5,381.0 C468.1,384.8 468.5,388.4 468.4,391.7 C468.3,395.0 467.6,398.1 465.8,400.9 C464.0,403.7 459.8,406.3 457.4,408.6 C455.0,410.9 453.1,411.9 451.3,414.7 C449.5,417.5 448.1,421.8 446.7,425.4 C445.3,429.0 443.9,432.8 442.9,436.1 C441.9,439.4 441.2,443.7 440.9,445.2 L440.3,445.2 L440.3,308.4 Z" fill="#2757A4" stroke="none"/>
<path d="M440.3,308.4 C440.4,310.8 440.1,318.4 440.6,322.9 C441.2,327.4 442.7,330.9 443.6,335.2 C444.5,339.5 444.4,344.8 445.9,348.9 C447.4,353.0 450.6,356.3 452.8,359.6 C455.0,362.9 456.6,365.2 458.9,368.8 C461.2,372.4 464.9,377.2 466.5,381.0 C468.1,384.8 468.5,388.4 468.4,391.7 C468.3,395.0 467.6,398.1 465.8,400.9 C464.0,403.7 459.8,406.3 457.4,408.6 C455.0,410.9 453.1,411.9 451.3,414.7 C449.5,417.5 448.1,421.8 446.7,425.4 C445.3,429.0 443.9,432.8 442.9,436.1 C441.9,439.4 441.2,443.7 440.9,445.2" fill="none" stroke="#1a1a1a" stroke-width="0.75"/>
<path d="M334.8 345.7h0M330.0 434.7h0M334.0 364.1h0M334.4 381.7h0M332.5 355.0h0M354.0 392.1h0M326.2 336.6h0M355.9 399.8h0M343.1 400.3h0M321.0 359.1h0M337.2 377.7h0M336.7 392.2h0M355.3 404.4h0M342.8 376.7h0M321.8 357.3h0M328.5 387.2h0M348.1 401.2h0M381.5 442.8h0M332.9 346.3h0M334.7 388.2h0M333.5 355.7h0M331.6 372.4h0M332.3 339.3h0M383.0 393.3h0M327.0 369.8h0M323.5 340.9h0M375.9 429.6h0M329.3 352.5h0M352.8 425.6h0M320.1 363.1h0M341.5 368.8h0M357.3 397.5h0M310.1 370.3h0M338.7 401.3h0M339.9 394.2h0M324.5 352.0h0M342.3 372.9h0M323.4 378.7h0M332.3 403.7h0M328.4 363.8h0M343.0 417.3h0M326.7 385.9h0M343.5 404.2h0M336.7 371.3h0M330.0 374.2h0M340.8 380.5h0M314.9 360.9h0M357.1 413.7h0M356.9 391.7h0M330.0 350.4h0M313.1 365.6h0M338.6 374.8h0M337.8 388.5h0M327.9 355.4h0M321.7 358.0h0M320.8 353.2h0M334.6 376.9h0M350.8 365.2h0M340.3 395.4h0M343.4 397.2h0M342.3 401.3h0M341.3 377.7h0M341.9 401.4h0M333.6 394.5h0M346.0 379.4h0M340.1 365.8h0M328.9 366.4h0M343.6 437.7h0M335.3 401.6h0M352.8 418.3h0M363.0 428.4h0M351.9 404.0h0M330.1 339.8h0M309.3 368.0h0M347.5 406.9h0M333.6 368.7h0M342.6 389.0h0M360.5 401.8h0M359.7 416.2h0M352.2 397.8h0M311.5 354.8h0M336.8 420.9h0M348.2 424.5h0M329.1 356.4h0M328.5 360.6h0M340.5 397.5h0M317.5 388.4h0M325.4 378.5h0M337.4 407.2h0M340.6 395.0h0M376.2 382.6h0M336.3 382.5h0M328.4 353.3h0M363.7 410.1h0M337.6 379.1h0M366.3 382.4h0M347.0 418.5h0M341.4 395.9h0M345.9 396.0h0M335.8 378.8h0M336.0 354.0h0M344.2 378.9h0M333.9 409.9h0M359.7 407.8h0M351.7 413.1h0M320.4 388.3h0M352.6 359.0h0M379.2 433.6h0M333.5 377.9h0M340.0 401.4h0M347.2 377.6h0M345.0 386.0h0M340.9 387.3h0M326.6 377.4h0M335.2 361.7h0M324.6 392.1h0M350.6 409.1h0M353.9 419.5h0M352.7 372.4h0M332.4 386.9h0M342.6 409.2h0M331.1 388.2h0M330.4 330.2h0M337.5 388.5h0M344.5 375.7h0M351.6 388.9h0M340.5 389.5h0M329.2 391.2h0M362.4 411.4h0M344.3 398.2h0M362.9 440.8h0M361.8 355.0h0M346.6 376.0h0M327.8 374.3h0M351.8 400.8h0M337.8 400.6h0M374.1 394.3h0M349.1 399.0h0M325.7 365.3h0M324.3 399.9h0M338.1 379.4h0M377.2 376.8h0M345.2 397.5h0M345.4 377.5h0M355.1 399.4h0M322.3 349.2h0M356.4 381.3h0M332.0 379.7h0M370.9 420.8h0M325.3 368.8h0M352.3 397.2h0M335.7 395.8h0M322.3 363.0h0M340.9 380.9h0M332.2 397.4h0M345.9 394.6h0M339.3 330.4h0M372.7 396.1h0M344.6 390.5h0M329.0 328.9h0M357.6 410.0h0M339.8 432.8h0M330.3 414.1h0M347.5 422.5h0M356.1 396.2h0M335.7 365.2h0M352.1 435.8h0M329.9 356.7h0M354.3 422.2h0M310.9 358.0h0M351.2 388.5h0M342.0 382.3h0M336.6 385.3h0M345.8 389.7h0M347.8 414.8h0M327.6 371.2h0M324.4 353.9h0M329.9 360.0h0M337.8 333.5h0M321.7 349.0h0M346.2 379.7h0M339.1 353.9h0M358.9 398.5h0M300.9 380.8h0M326.5 417.4h0M369.9 386.3h0M327.0 364.8h0M339.2 371.2h0M327.1 382.0h0M350.3 389.8h0M327.7 337.1h0M349.9 389.9h0M330.0 399.6h0M326.0 383.3h0M380.0 391.2h0M323.1 394.0h0M352.0 440.1h0M336.7 427.6h0M341.9 414.0h0M346.7 378.3h0M353.8 397.2h0M350.6 409.6h0M335.6 407.7h0M342.0 392.0h0M355.3 402.2h0M296.3 361.7h0M334.0 387.4h0M336.1 398.8h0M316.5 331.1h0M358.8 440.8h0M363.8 404.1h0M328.3 396.4h0M333.2 367.8h0M336.4 389.7h0M337.0 378.6h0M342.6 380.5h0M340.5 385.0h0M361.3 386.8h0M364.0 432.0h0M361.9 388.0h0M325.4 378.8h0M322.9 365.1h0M331.6 348.1h0M360.5 383.4h0M358.1 364.6h0M336.5 426.7h0M349.3 412.7h0M348.3 376.3h0M319.4 391.3h0M326.7 379.0h0M356.5 368.6h0M326.1 357.4h0M343.7 408.3h0M333.3 373.2h0M333.8 369.5h0M343.8 390.5h0M314.2 367.7h0M337.7 383.7h0M349.5 423.1h0M327.0 373.6h0M324.7 392.8h0M329.8 370.8h0M340.9 380.8h0M349.0 411.0h0M343.3 379.3h0M307.2 353.0h0M336.7 386.8h0M343.0 376.8h0M359.5 408.4h0M346.2 398.4h0M345.1 391.0h0M365.2 407.9h0M361.0 383.8h0M303.5 402.9h0M354.9 405.0h0M331.4 417.2h0M335.7 394.7h0M346.9 389.3h0M357.5 402.1h0M354.0 381.9h0M339.7 382.3h0M358.5 443.2h0M331.8 402.2h0M353.2 369.6h0M342.5 360.3h0M346.1 392.0h0M348.6 424.7h0M338.0 342.2h0M332.1 420.7h0M338.3 382.3h0M351.0 398.7h0M330.1 375.5h0M338.7 409.5h0M365.5 416.4h0M320.7 349.7h0M302.6 368.2h0M309.5 391.1h0M335.1 385.9h0M338.7 386.8h0M331.2 384.3h0M353.7 414.4h0M319.3 360.2h0M328.2 381.2h0M324.7 397.5h0M339.5 385.7h0M358.5 404.2h0M356.1 399.6h0M355.7 432.2h0M341.1 404.1h0M367.9 402.0h0M333.7 365.9h0M336.4 379.8h0M324.0 371.6h0M349.0 382.9h0M355.0 382.8h0M335.5 349.0h0M339.8 380.1h0M312.1 376.8h0M330.4 370.5h0M343.3 428.2h0M316.7 367.2h0M328.8 387.3h0M305.6 359.9h0M317.0 358.4h0M344.3 391.6h0M340.9 415.8h0M334.8 390.9h0M347.8 409.0h0M330.3 380.4h0M319.5 362.9h0M336.2 402.5h0M339.4 373.6h0M341.8 364.6h0M314.9 371.8h0M331.0 365.5h0M349.3 423.1h0M329.4 388.7h0M357.9 384.3h0M322.3 405.0h0M331.3 390.0h0M333.4 399.0h0M334.7 360.6h0M346.7 371.9h0M340.3 399.8h0M367.7 406.2h0M344.8 437.4h0M350.1 380.5h0M346.9 387.3h0M333.2 355.2h0M315.3 411.4h0M333.5 375.1h0M339.1 394.1h0M340.6 434.8h0M348.7 407.0h0M341.4 391.4h0M344.9 377.2h0M338.8 383.6h0M334.6 393.2h0M334.5 374.8h0M350.7 398.7h0M342.8 402.7h0M347.1 412.2h0M317.4 365.8h0M356.0 397.8h0M317.0 331.3h0M338.9 396.0h0M339.4 356.0h0M347.5 387.8h0M327.2 352.6h0M322.5 390.3h0M319.0 386.9h0M312.8 371.6h0M332.3 363.6h0M349.0 391.9h0M366.5 394.8h0M344.0 385.6h0M345.2 373.1h0M349.5 392.1h0M338.2 396.6h0M360.9 395.2h0M335.1 382.0h0M339.3 352.1h0M338.2 389.7h0M351.9 395.5h0M320.9 377.3h0M328.4 353.7h0M341.9 373.2h0M346.1 380.8h0M331.4 403.1h0M335.2 410.8h0M349.6 391.4h0M349.1 382.0h0M354.9 371.5h0M333.1 414.8h0M318.1 372.4h0M307.0 393.4h0M332.1 399.1h0M356.8 404.9h0M351.4 378.5h0M332.6 391.2h0M330.6 393.4h0M341.0 395.3h0M336.9 360.7h0M316.4 324.2h0M347.4 422.8h0M334.1 388.4h0M334.4 391.2h0M353.1 376.2h0M359.9 396.0h0M349.5 366.2h0M319.9 390.2h0M353.9 398.8h0M343.4 399.8h0M335.9 404.2h0M332.7 384.8h0M394.1 427.7h0M396.4 399.7h0M398.3 445.5h0M413.8 436.2h0M432.1 396.2h0" stroke="#C01C24" stroke-width="3.5" stroke-linecap="round" fill="none"/>
<path d="M293.0,356.1 L300.0,360.4 L306.9,364.6 L313.9,368.8 L320.9,372.9 L327.9,376.9 L334.8,380.8 L341.8,384.5 L348.8,387.9 L355.7,391.2 L362.7,394.2 L369.7,397.2 L376.6,400.1 L383.6,403.0 L390.6,405.8 L397.5,408.6 L404.5,411.4 L411.5,414.2 L418.5,417.0 L425.4,419.8 L432.4,422.6 L432.4,445.1 L425.4,440.6 L418.5,436.2 L411.5,431.8 L404.5,427.5 L397.5,423.1 L390.6,418.7 L383.6,414.4 L376.6,410.1 L369.7,405.8 L362.7,401.6 L355.7,397.5 L348.8,393.5 L341.8,389.8 L334.8,386.3 L327.9,383.0 L320.9,379.8 L313.9,376.8 L306.9,373.8 L300.0,370.8 L293.0,367.9 Z" fill="#C8C8C8" fill-opacity="0.4"/>
<line x1="293" y1="362" x2="432.4" y2="433.8" stroke="#111" stroke-width="1"/>
<path d="M286.0,302.0 V452.2 H439.3" fill="none" stroke="#555" stroke-width="1.05"/>
<line x1="292.4" y1="452.2" x2="292.4" y2="454.4" stroke="#555" stroke-width="1"/>
<text x="292.4" y="462.5" class="tk" text-anchor="middle">−1</text>
<line x1="320.5" y1="452.2" x2="320.5" y2="454.4" stroke="#555" stroke-width="1"/>
<text x="320.5" y="462.5" class="tk" text-anchor="middle">0</text>
<line x1="348.6" y1="452.2" x2="348.6" y2="454.4" stroke="#555" stroke-width="1"/>
<text x="348.6" y="462.5" class="tk" text-anchor="middle">1</text>
<line x1="376.7" y1="452.2" x2="376.7" y2="454.4" stroke="#555" stroke-width="1"/>
<text x="376.7" y="462.5" class="tk" text-anchor="middle">2</text>
<line x1="404.8" y1="452.2" x2="404.8" y2="454.4" stroke="#555" stroke-width="1"/>
<text x="404.8" y="462.5" class="tk" text-anchor="middle">3</text>
<line x1="432.9" y1="452.2" x2="432.9" y2="454.4" stroke="#555" stroke-width="1"/>
<text x="432.9" y="462.5" class="tk" text-anchor="middle">4</text>
<line x1="283.8" y1="407.9" x2="286.0" y2="407.9" stroke="#555" stroke-width="1"/>
<text x="281.7" y="410.8" class="tk" text-anchor="end">2</text>
<line x1="283.8" y1="361.2" x2="286.0" y2="361.2" stroke="#555" stroke-width="1"/>
<text x="281.7" y="364.1" class="tk" text-anchor="end">4</text>
<line x1="283.8" y1="314.5" x2="286.0" y2="314.5" stroke="#555" stroke-width="1"/>
<text x="281.7" y="317.4" class="tk" text-anchor="end">6</text>
<text x="361.0" y="472.9" class="at" text-anchor="middle">ZNF score</text>
<text transform="translate(273.0,377.0) rotate(-90)" class="at" text-anchor="middle">TNFRSF4</text>
<text x="293.6" y="320.8" class="rt"><tspan font-style="italic">R</tspan><tspan x="303.6">=</tspan><tspan x="312.0">−</tspan><tspan x="320.2">0.41, </tspan><tspan font-style="italic">p</tspan> &lt; 2.2e−16</text>
<!-- panel F -->
<path d="M508.4,300.3 C509.3,300.2 512.1,300.0 514.0,299.8 C515.9,299.5 517.9,299.3 519.6,298.9 C521.3,298.6 522.5,298.3 524.4,297.7 C526.2,297.1 528.6,296.5 530.8,295.4 C533.0,294.2 535.7,292.4 537.5,290.7 C539.4,289.0 540.7,287.1 542.0,285.2 C543.3,283.2 544.3,280.7 545.4,279.1 C546.4,277.5 547.4,276.4 548.2,275.6 C548.9,274.7 549.2,274.4 549.8,273.9 C550.4,273.4 551.1,272.9 551.8,272.8 C552.5,272.7 553.2,272.9 553.8,273.1 C554.4,273.3 554.6,273.2 555.4,273.9 C556.3,274.6 557.8,276.1 558.8,277.2 C559.8,278.3 560.4,279.2 561.6,280.2 C562.8,281.2 564.1,282.0 565.8,283.2 C567.5,284.5 569.8,286.0 571.7,287.7 C573.5,289.3 575.4,291.4 577.0,292.9 C578.6,294.3 580.1,295.6 581.2,296.4 C582.3,297.3 582.6,297.5 583.7,297.7 C584.9,297.9 586.8,297.8 588.2,297.8 C589.6,297.8 591.0,297.6 592.4,297.7 C593.8,297.8 594.8,298.3 596.6,298.7 C598.4,299.0 601.2,299.6 603.3,299.8 C605.4,299.9 607.3,299.8 609.2,299.8 C611.1,299.7 612.5,299.5 614.8,299.6 C617.1,299.7 620.4,300.1 623.2,300.2 C626.0,300.2 629.3,300.1 631.6,300.0 C633.9,300.0 634.9,299.8 637.2,299.8 C639.5,299.7 643.7,299.6 645.6,299.6 C647.5,299.6 647.9,299.7 648.4,299.8 Z" fill="#F89D33" stroke="none"/>
<path d="M508.4,300.3 C509.3,300.2 512.1,300.0 514.0,299.8 C515.9,299.5 517.9,299.3 519.6,298.9 C521.3,298.6 522.5,298.3 524.4,297.7 C526.2,297.1 528.6,296.5 530.8,295.4 C533.0,294.2 535.7,292.4 537.5,290.7 C539.4,289.0 540.7,287.1 542.0,285.2 C543.3,283.2 544.3,280.7 545.4,279.1 C546.4,277.5 547.4,276.4 548.2,275.6 C548.9,274.7 549.2,274.4 549.8,273.9 C550.4,273.4 551.1,272.9 551.8,272.8 C552.5,272.7 553.2,272.9 553.8,273.1 C554.4,273.3 554.6,273.2 555.4,273.9 C556.3,274.6 557.8,276.1 558.8,277.2 C559.8,278.3 560.4,279.2 561.6,280.2 C562.8,281.2 564.1,282.0 565.8,283.2 C567.5,284.5 569.8,286.0 571.7,287.7 C573.5,289.3 575.4,291.4 577.0,292.9 C578.6,294.3 580.1,295.6 581.2,296.4 C582.3,297.3 582.6,297.5 583.7,297.7 C584.9,297.9 586.8,297.8 588.2,297.8 C589.6,297.8 591.0,297.6 592.4,297.7 C593.8,297.8 594.8,298.3 596.6,298.7 C598.4,299.0 601.2,299.6 603.3,299.8 C605.4,299.9 607.3,299.8 609.2,299.8 C611.1,299.7 612.5,299.5 614.8,299.6 C617.1,299.7 620.4,300.1 623.2,300.2 C626.0,300.2 629.3,300.1 631.6,300.0 C633.9,300.0 634.9,299.8 637.2,299.8 C639.5,299.7 643.7,299.6 645.6,299.6 C647.5,299.6 647.9,299.7 648.4,299.8" fill="none" stroke="#1a1a1a" stroke-width="0.75"/>
<path d="M656.8,308.9 C657.0,311.2 656.9,318.8 658.0,322.9 C659.1,327.0 660.9,330.3 663.3,333.6 C665.7,336.9 669.7,339.7 672.5,342.8 C675.3,345.9 678.3,348.7 680.1,352.0 C681.9,355.3 683.4,359.4 683.5,362.7 C683.6,366.0 682.2,368.8 680.9,371.9 C679.6,374.9 677.4,377.9 675.5,381.0 C673.6,384.1 671.3,386.9 669.4,390.2 C667.5,393.5 665.6,397.1 664.1,400.9 C662.6,404.7 661.2,409.0 660.3,413.1 C659.3,417.2 658.9,421.3 658.4,425.4 C657.9,429.5 657.5,434.3 657.2,437.6 C656.9,440.9 656.9,443.9 656.8,445.2 L656.8,445.2 L656.8,308.9 Z" fill="#2757A4" stroke="none"/>
<path d="M656.8,308.9 C657.0,311.2 656.9,318.8 658.0,322.9 C659.1,327.0 660.9,330.3 663.3,333.6 C665.7,336.9 669.7,339.7 672.5,342.8 C675.3,345.9 678.3,348.7 680.1,352.0 C681.9,355.3 683.4,359.4 683.5,362.7 C683.6,366.0 682.2,368.8 680.9,371.9 C679.6,374.9 677.4,377.9 675.5,381.0 C673.6,384.1 671.3,386.9 669.4,390.2 C667.5,393.5 665.6,397.1 664.1,400.9 C662.6,404.7 661.2,409.0 660.3,413.1 C659.3,417.2 658.9,421.3 658.4,425.4 C657.9,429.5 657.5,434.3 657.2,437.6 C656.9,440.9 656.9,443.9 656.8,445.2" fill="none" stroke="#1a1a1a" stroke-width="0.75"/>
<path d="M550.7 351.2h0M545.9 381.4h0M549.8 398.7h0M550.3 430.4h0M548.4 369.6h0M569.7 350.9h0M542.0 358.0h0M571.7 365.4h0M558.9 349.8h0M536.9 373.3h0M553.0 323.1h0M552.6 383.7h0M571.1 368.1h0M558.6 324.1h0M537.7 358.6h0M544.3 357.9h0M563.9 382.7h0M597.2 382.8h0M548.7 411.4h0M550.6 377.4h0M549.4 335.0h0M547.5 357.9h0M548.1 366.5h0M598.7 384.0h0M542.9 351.6h0M539.4 354.4h0M591.6 372.5h0M545.1 396.7h0M568.6 362.3h0M536.0 368.4h0M557.4 353.0h0M573.1 377.2h0M526.0 370.4h0M554.6 367.4h0M555.7 388.6h0M540.3 340.7h0M558.1 368.9h0M539.3 343.0h0M548.2 385.7h0M544.2 333.5h0M558.9 375.0h0M542.5 336.4h0M559.3 352.9h0M552.5 389.2h0M545.8 354.8h0M556.6 379.1h0M530.8 346.5h0M572.9 349.3h0M572.6 362.6h0M545.8 342.8h0M529.1 375.3h0M554.4 362.2h0M553.6 358.6h0M543.7 340.9h0M537.6 368.3h0M536.7 346.4h0M550.4 355.8h0M566.6 409.6h0M556.1 390.2h0M559.2 360.3h0M558.1 395.2h0M557.1 395.3h0M557.7 351.6h0M549.5 357.7h0M561.8 375.3h0M556.0 365.1h0M544.8 368.1h0M559.4 380.6h0M551.2 373.6h0M568.6 366.5h0M578.7 353.9h0M567.7 383.7h0M545.9 361.9h0M525.2 354.7h0M563.3 400.3h0M549.4 358.4h0M558.4 352.0h0M576.3 398.9h0M575.5 361.4h0M568.0 386.6h0M527.5 334.0h0M552.6 343.6h0M564.0 379.9h0M545.0 405.6h0M544.4 366.8h0M556.3 398.4h0M533.5 380.9h0M541.3 363.1h0M553.2 341.6h0M556.4 369.1h0M591.9 391.1h0M552.1 407.4h0M544.2 371.7h0M579.4 415.2h0M553.5 355.7h0M582.0 394.3h0M562.8 372.0h0M557.2 368.2h0M561.7 374.4h0M551.7 347.1h0M551.8 355.7h0M560.0 376.2h0M549.8 360.5h0M575.4 366.7h0M567.5 347.7h0M536.3 353.3h0M568.4 347.1h0M594.9 402.4h0M549.4 367.7h0M555.8 401.1h0M563.0 355.1h0M560.8 393.3h0M556.8 390.8h0M542.5 344.4h0M551.1 375.3h0M540.5 372.8h0M566.4 354.4h0M569.7 378.7h0M568.5 355.8h0M548.2 370.4h0M558.4 354.9h0M546.9 342.9h0M546.3 359.7h0M553.3 335.4h0M560.4 377.9h0M567.4 378.1h0M556.3 366.1h0M545.1 342.9h0M578.2 386.6h0M560.2 378.7h0M578.6 374.7h0M577.5 354.6h0M562.4 379.7h0M543.7 386.1h0M567.6 376.3h0M553.6 353.9h0M589.8 397.8h0M564.9 369.8h0M541.6 399.3h0M540.2 357.3h0M553.9 363.8h0M592.9 372.8h0M561.0 363.6h0M561.2 355.2h0M570.8 399.0h0M538.2 345.6h0M572.2 416.7h0M547.9 374.1h0M586.6 360.6h0M541.2 343.6h0M568.1 418.9h0M551.6 353.3h0M538.2 365.0h0M556.7 384.3h0M548.0 358.2h0M561.7 367.4h0M555.2 342.2h0M588.4 420.1h0M560.4 378.9h0M544.8 362.8h0M573.4 422.1h0M555.6 345.8h0M546.1 332.3h0M563.3 385.1h0M571.8 368.3h0M551.5 369.9h0M567.9 368.5h0M545.8 374.6h0M570.1 358.5h0M526.8 374.2h0M567.0 347.7h0M557.9 361.5h0M552.4 326.1h0M561.6 409.2h0M563.6 373.3h0M543.5 386.4h0M540.3 360.5h0M545.8 352.7h0M553.6 385.5h0M537.6 386.2h0M562.0 411.8h0M554.9 362.0h0M574.7 352.7h0M516.8 329.5h0M542.4 358.3h0M585.7 406.8h0M542.9 366.2h0M555.0 401.0h0M542.9 392.4h0M566.1 352.2h0M543.6 364.9h0M565.7 366.1h0M545.9 366.1h0M541.8 336.7h0M595.7 358.5h0M539.0 372.5h0M567.8 381.7h0M552.5 379.1h0M557.7 344.4h0M562.5 347.5h0M569.5 381.0h0M566.4 333.1h0M551.4 364.0h0M557.8 395.4h0M571.1 424.3h0M512.3 347.1h0M549.8 357.2h0M551.9 376.7h0M532.4 347.6h0M574.5 354.3h0M579.5 382.1h0M544.2 345.1h0M549.1 335.1h0M552.2 355.5h0M552.9 377.2h0M558.4 360.2h0M556.4 357.1h0M577.0 340.0h0M579.8 391.2h0M577.7 418.0h0M541.3 352.7h0M538.8 351.3h0M547.5 370.1h0M576.2 366.9h0M573.9 370.8h0M552.3 343.5h0M565.1 391.2h0M564.1 386.9h0M535.3 355.5h0M542.6 368.5h0M572.3 351.7h0M542.0 348.3h0M559.5 369.6h0M549.2 337.2h0M549.7 353.6h0M559.6 350.6h0M530.1 340.0h0M553.6 368.6h0M565.3 375.0h0M542.9 359.0h0M540.6 380.1h0M545.6 367.4h0M556.8 351.5h0M564.8 365.7h0M559.1 389.7h0M523.2 315.6h0M552.6 387.6h0M558.9 356.7h0M575.2 363.2h0M562.0 346.9h0M560.9 388.9h0M580.9 380.8h0M576.8 383.5h0M519.4 331.1h0M570.6 367.3h0M547.3 353.6h0M551.6 354.3h0M562.7 336.4h0M573.3 363.0h0M569.8 357.2h0M555.5 386.2h0M574.3 362.8h0M547.7 388.1h0M569.0 355.2h0M558.3 364.6h0M561.9 388.8h0M564.4 397.1h0M553.9 366.6h0M547.9 358.7h0M554.1 376.6h0M566.8 378.9h0M545.9 365.7h0M554.5 376.0h0M581.3 384.5h0M536.6 350.0h0M518.6 327.7h0M525.5 339.8h0M551.0 374.1h0M554.5 337.1h0M547.1 340.0h0M569.5 378.2h0M535.2 337.3h0M544.0 368.2h0M540.6 370.4h0M555.4 380.0h0M574.2 345.0h0M571.8 371.0h0M571.5 366.8h0M556.9 363.9h0M583.6 389.5h0M549.6 352.2h0M552.3 350.2h0M539.9 325.3h0M564.8 388.0h0M570.8 344.6h0M551.3 349.6h0M555.6 403.4h0M528.0 334.9h0M546.3 332.4h0M559.1 346.7h0M532.6 347.5h0M544.7 354.8h0M521.5 386.0h0M532.9 346.4h0M560.2 363.3h0M556.7 384.5h0M550.6 357.6h0M563.6 382.9h0M546.2 323.9h0M535.4 376.9h0M552.1 380.8h0M555.3 414.5h0M557.7 374.0h0M530.8 349.5h0M546.9 359.4h0M565.1 384.1h0M545.2 343.7h0M573.6 370.2h0M538.2 336.2h0M547.1 362.3h0M549.3 400.6h0M550.6 365.1h0M562.5 391.9h0M556.1 350.4h0M583.5 395.4h0M560.6 373.5h0M565.8 371.9h0M562.7 405.2h0M549.1 369.5h0M531.2 338.8h0M549.3 373.2h0M554.9 369.0h0M556.4 363.1h0M564.5 385.7h0M557.3 373.4h0M560.7 360.7h0M554.6 373.4h0M550.4 362.2h0M550.4 366.0h0M566.5 396.6h0M558.6 397.9h0M562.9 336.3h0M533.3 332.7h0M571.7 378.2h0M532.9 338.8h0M554.7 346.2h0M555.2 348.8h0M563.3 378.6h0M543.1 389.4h0M538.4 382.3h0M534.9 359.4h0M528.7 331.5h0M548.2 336.2h0M564.8 376.5h0M582.2 389.4h0M559.8 346.8h0M561.0 334.6h0M565.3 392.6h0M554.0 356.7h0M576.6 375.4h0M550.9 369.8h0M555.1 372.3h0M554.0 372.2h0M567.7 373.2h0M536.7 387.4h0M544.3 359.4h0M557.8 352.8h0M561.9 355.3h0M547.3 347.2h0M551.0 357.0h0M565.4 368.1h0M564.9 337.5h0M570.7 378.4h0M548.9 359.2h0M534.0 334.6h0M522.9 348.9h0M547.9 389.3h0M572.6 388.3h0M567.2 381.6h0M548.5 364.6h0M546.4 369.6h0M556.8 349.0h0M552.8 351.6h0M532.3 345.2h0M563.2 379.1h0M550.0 344.8h0M550.3 345.3h0M568.8 335.3h0M575.7 391.7h0M565.3 373.9h0M535.8 333.2h0M569.7 399.2h0M559.2 363.3h0M551.8 359.4h0M548.5 360.8h0M609.8 379.5h0M612.0 426.0h0M614.0 401.4h0M629.4 414.9h0M647.6 418.8h0" stroke="#C01C24" stroke-width="3.5" stroke-linecap="round" fill="none"/>
<path d="M509.0,343.0 L516.0,346.6 L523.0,350.1 L530.0,353.6 L537.0,357.0 L544.0,360.2 L551.0,363.3 L558.0,366.1 L565.0,368.7 L572.0,371.1 L579.0,373.3 L586.1,375.4 L593.1,377.5 L600.1,379.5 L607.1,381.4 L614.1,383.3 L621.1,385.2 L628.1,387.1 L635.1,389.0 L642.1,390.8 L649.1,392.7 L649.1,416.3 L642.1,412.8 L635.1,409.3 L628.1,405.8 L621.1,402.4 L614.1,398.9 L607.1,395.5 L600.1,392.1 L593.1,388.7 L586.1,385.4 L579.0,382.2 L572.0,379.1 L565.0,376.1 L558.0,373.3 L551.0,370.8 L544.0,368.5 L537.0,366.4 L530.0,364.5 L523.0,362.6 L516.0,360.8 L509.0,359.0 Z" fill="#C8C8C8" fill-opacity="0.4"/>
<line x1="509" y1="351" x2="649.1" y2="404.5" stroke="#111" stroke-width="1"/>
<path d="M502.2,302.0 V452.2 H654.6" fill="none" stroke="#555" stroke-width="1.05"/>
<line x1="508.4" y1="452.2" x2="508.4" y2="454.4" stroke="#555" stroke-width="1"/>
<text x="508.4" y="462.5" class="tk" text-anchor="middle">−1</text>
<line x1="536.4" y1="452.2" x2="536.4" y2="454.4" stroke="#555" stroke-width="1"/>
<text x="536.4" y="462.5" class="tk" text-anchor="middle">0</text>
<line x1="564.4" y1="452.2" x2="564.4" y2="454.4" stroke="#555" stroke-width="1"/>
<text x="564.4" y="462.5" class="tk" text-anchor="middle">1</text>
<line x1="592.4" y1="452.2" x2="592.4" y2="454.4" stroke="#555" stroke-width="1"/>
<text x="592.4" y="462.5" class="tk" text-anchor="middle">2</text>
<line x1="620.4" y1="452.2" x2="620.4" y2="454.4" stroke="#555" stroke-width="1"/>
<text x="620.4" y="462.5" class="tk" text-anchor="middle">3</text>
<line x1="648.4" y1="452.2" x2="648.4" y2="454.4" stroke="#555" stroke-width="1"/>
<text x="648.4" y="462.5" class="tk" text-anchor="middle">4</text>
<line x1="500.0" y1="435.3" x2="502.2" y2="435.3" stroke="#555" stroke-width="1"/>
<text x="497.9" y="438.2" class="tk" text-anchor="end">2</text>
<line x1="500.0" y1="410.7" x2="502.2" y2="410.7" stroke="#555" stroke-width="1"/>
<text x="497.9" y="413.6" class="tk" text-anchor="end">3</text>
<line x1="500.0" y1="386.2" x2="502.2" y2="386.2" stroke="#555" stroke-width="1"/>
<text x="497.9" y="389.0" class="tk" text-anchor="end">4</text>
<line x1="500.0" y1="361.6" x2="502.2" y2="361.6" stroke="#555" stroke-width="1"/>
<text x="497.9" y="364.5" class="tk" text-anchor="end">5</text>
<line x1="500.0" y1="337.1" x2="502.2" y2="337.1" stroke="#555" stroke-width="1"/>
<text x="497.9" y="339.9" class="tk" text-anchor="end">6</text>
<line x1="500.0" y1="312.5" x2="502.2" y2="312.5" stroke="#555" stroke-width="1"/>
<text x="497.9" y="315.4" class="tk" text-anchor="end">7</text>
<text x="576.8" y="472.9" class="at" text-anchor="middle">ZNF score</text>
<text transform="translate(489.3,374.5) rotate(-90)" class="at" text-anchor="middle">TNFRSF14</text>
<text x="509.6" y="320.8" class="rt"><tspan font-style="italic">R</tspan><tspan x="519.6">=</tspan><tspan x="528.0">−</tspan><tspan x="536.2">0.29, </tspan><tspan font-style="italic">p</tspan> = 3.7e−09</text>
<!-- panel H -->
<path d="M296.3,553.4 C297.2,553.3 300.0,553.1 301.8,552.9 C303.6,552.6 305.6,552.4 307.3,552.1 C309.0,551.7 310.1,551.4 312.0,550.8 C313.8,550.3 316.1,549.7 318.3,548.6 C320.4,547.4 323.0,545.6 324.9,544.0 C326.7,542.3 328.0,540.5 329.3,538.6 C330.5,536.7 331.5,534.3 332.5,532.7 C333.6,531.1 334.6,530.0 335.3,529.2 C336.0,528.3 336.3,528.0 336.9,527.6 C337.5,527.1 338.2,526.6 338.9,526.5 C339.5,526.4 340.2,526.6 340.8,526.8 C341.4,526.9 341.6,526.9 342.4,527.6 C343.3,528.2 344.7,529.8 345.7,530.8 C346.7,531.8 347.3,532.8 348.5,533.8 C349.6,534.7 350.9,535.5 352.6,536.7 C354.2,537.9 356.5,539.5 358.4,541.0 C360.2,542.6 362.0,544.7 363.6,546.1 C365.1,547.6 366.6,548.8 367.7,549.6 C368.8,550.4 369.0,550.6 370.2,550.8 C371.3,551.1 373.1,551.0 374.6,551.0 C376.0,551.0 377.3,550.7 378.7,550.8 C380.1,551.0 381.0,551.4 382.8,551.8 C384.6,552.1 387.3,552.7 389.4,552.9 C391.4,553.0 393.3,552.9 395.2,552.9 C397.0,552.8 398.4,552.7 400.6,552.7 C402.9,552.8 406.1,553.2 408.9,553.3 C411.6,553.3 414.8,553.2 417.1,553.1 C419.4,553.1 420.3,552.9 422.6,552.9 C424.9,552.8 429.0,552.7 430.9,552.7 C432.7,552.7 433.1,552.8 433.6,552.9 Z" fill="#F89D33" stroke="none"/>
<path d="M296.3,553.4 C297.2,553.3 300.0,553.1 301.8,552.9 C303.6,552.6 305.6,552.4 307.3,552.1 C309.0,551.7 310.1,551.4 312.0,550.8 C313.8,550.3 316.1,549.7 318.3,548.6 C320.4,547.4 323.0,545.6 324.9,544.0 C326.7,542.3 328.0,540.5 329.3,538.6 C330.5,536.7 331.5,534.3 332.5,532.7 C333.6,531.1 334.6,530.0 335.3,529.2 C336.0,528.3 336.3,528.0 336.9,527.6 C337.5,527.1 338.2,526.6 338.9,526.5 C339.5,526.4 340.2,526.6 340.8,526.8 C341.4,526.9 341.6,526.9 342.4,527.6 C343.3,528.2 344.7,529.8 345.7,530.8 C346.7,531.8 347.3,532.8 348.5,533.8 C349.6,534.7 350.9,535.5 352.6,536.7 C354.2,537.9 356.5,539.5 358.4,541.0 C360.2,542.6 362.0,544.7 363.6,546.1 C365.1,547.6 366.6,548.8 367.7,549.6 C368.8,550.4 369.0,550.6 370.2,550.8 C371.3,551.1 373.1,551.0 374.6,551.0 C376.0,551.0 377.3,550.7 378.7,550.8 C380.1,551.0 381.0,551.4 382.8,551.8 C384.6,552.1 387.3,552.7 389.4,552.9 C391.4,553.0 393.3,552.9 395.2,552.9 C397.0,552.8 398.4,552.7 400.6,552.7 C402.9,552.8 406.1,553.2 408.9,553.3 C411.6,553.3 414.8,553.2 417.1,553.1 C419.4,553.1 420.3,552.9 422.6,552.9 C424.9,552.8 429.0,552.7 430.9,552.7 C432.7,552.7 433.1,552.8 433.6,552.9" fill="none" stroke="#1a1a1a" stroke-width="0.75"/>
<path d="M441.6,561.9 C441.8,563.0 441.8,566.1 442.9,568.8 C444.0,571.5 445.8,574.8 448.2,577.9 C450.6,581.0 454.6,584.0 457.4,587.1 C460.2,590.2 463.2,593.0 465.0,596.3 C466.8,599.6 467.6,603.7 468.1,607.0 C468.6,610.3 468.3,613.1 467.8,616.2 C467.3,619.3 466.1,622.6 465.0,625.4 C463.9,628.2 462.2,630.2 461.2,633.0 C460.2,635.8 460.3,639.2 458.9,642.2 C457.5,645.2 454.8,648.2 452.8,651.3 C450.8,654.3 448.3,657.4 446.7,660.5 C445.1,663.6 444.1,665.9 443.3,669.7 C442.5,673.5 442.4,678.6 442.1,683.4 C441.8,688.2 441.7,696.2 441.6,698.7 L441.6,698.7 L441.6,561.9 Z" fill="#2757A4" stroke="none"/>
<path d="M441.6,561.9 C441.8,563.0 441.8,566.1 442.9,568.8 C444.0,571.5 445.8,574.8 448.2,577.9 C450.6,581.0 454.6,584.0 457.4,587.1 C460.2,590.2 463.2,593.0 465.0,596.3 C466.8,599.6 467.6,603.7 468.1,607.0 C468.6,610.3 468.3,613.1 467.8,616.2 C467.3,619.3 466.1,622.6 465.0,625.4 C463.9,628.2 462.2,630.2 461.2,633.0 C460.2,635.8 460.3,639.2 458.9,642.2 C457.5,645.2 454.8,648.2 452.8,651.3 C450.8,654.3 448.3,657.4 446.7,660.5 C445.1,663.6 444.1,665.9 443.3,669.7 C442.5,673.5 442.4,678.6 442.1,683.4 C441.8,688.2 441.7,696.2 441.6,698.7" fill="none" stroke="#1a1a1a" stroke-width="0.75"/>
<path d="M337.8 649.7h0M333.0 637.0h0M336.9 605.0h0M337.4 627.6h0M335.5 601.6h0M356.5 601.5h0M329.3 647.2h0M358.4 597.6h0M345.9 632.8h0M324.2 573.7h0M340.0 598.7h0M339.6 629.0h0M357.8 616.1h0M345.5 611.8h0M325.0 602.6h0M331.5 584.6h0M350.7 606.0h0M383.4 591.0h0M335.9 599.3h0M337.7 619.0h0M336.5 651.2h0M334.6 651.3h0M335.3 608.4h0M384.9 612.3h0M330.1 583.5h0M326.7 626.0h0M377.9 624.1h0M332.3 633.4h0M355.3 631.3h0M323.4 663.0h0M344.3 599.7h0M359.7 640.3h0M313.6 608.9h0M341.6 605.1h0M342.7 607.9h0M327.6 643.9h0M345.1 585.7h0M326.6 594.5h0M335.3 601.9h0M331.4 628.9h0M345.8 655.4h0M329.8 651.2h0M346.2 622.8h0M339.5 611.4h0M333.0 630.6h0M343.6 580.8h0M318.3 601.6h0M359.6 598.3h0M359.3 600.2h0M333.0 640.3h0M316.6 588.0h0M341.4 605.1h0M340.6 646.9h0M331.0 595.9h0M324.9 588.4h0M324.0 589.9h0M337.5 591.9h0M353.3 653.5h0M343.1 622.7h0M346.2 631.5h0M345.0 615.9h0M344.0 614.1h0M344.7 592.4h0M336.6 597.1h0M348.6 639.6h0M343.0 596.1h0M332.0 581.2h0M346.3 610.0h0M338.3 651.4h0M355.4 637.2h0M365.3 628.2h0M354.4 657.9h0M333.1 616.0h0M312.8 638.9h0M350.1 600.0h0M336.5 598.5h0M345.4 618.9h0M362.8 652.8h0M362.1 615.3h0M354.8 636.7h0M315.0 624.5h0M339.7 591.4h0M350.9 638.5h0M332.2 646.7h0M331.6 595.0h0M343.3 581.3h0M320.9 579.5h0M328.6 594.4h0M340.3 576.4h0M343.4 625.5h0M378.2 581.3h0M339.2 576.2h0M331.5 620.6h0M366.0 613.4h0M340.5 647.4h0M368.5 649.3h0M349.7 605.0h0M344.2 645.8h0M348.6 612.9h0M338.7 603.8h0M338.9 611.7h0M346.9 595.6h0M336.9 577.6h0M362.0 617.5h0M354.3 596.4h0M323.7 581.2h0M355.1 631.7h0M381.1 643.6h0M336.5 670.4h0M342.8 605.6h0M349.8 594.4h0M347.7 606.8h0M343.7 576.7h0M329.8 581.8h0M338.2 595.9h0M327.8 611.2h0M353.2 641.4h0M356.4 617.1h0M355.2 607.1h0M335.3 614.5h0M345.4 624.3h0M334.1 622.1h0M333.5 596.7h0M340.3 655.6h0M347.3 625.1h0M354.1 617.4h0M343.3 599.8h0M332.3 596.2h0M364.7 628.6h0M347.1 632.0h0M365.1 651.0h0M364.1 595.5h0M349.3 603.7h0M330.9 606.3h0M354.4 638.0h0M340.6 643.3h0M376.2 597.4h0M351.7 618.7h0M328.9 599.9h0M327.5 577.4h0M340.9 652.0h0M379.2 645.2h0M347.9 608.1h0M348.1 602.4h0M357.5 646.2h0M325.6 611.6h0M358.9 636.5h0M335.0 627.4h0M373.0 614.7h0M328.5 605.8h0M354.9 593.1h0M338.6 600.1h0M325.6 581.4h0M343.7 637.1h0M335.2 603.2h0M348.6 651.8h0M342.2 655.4h0M374.8 657.5h0M347.3 600.8h0M332.0 607.3h0M360.0 659.8h0M342.6 588.5h0M333.3 592.0h0M350.2 623.3h0M358.5 627.7h0M338.6 615.1h0M354.6 650.0h0M333.0 572.3h0M356.8 633.1h0M314.4 612.0h0M353.8 628.3h0M344.8 634.6h0M339.5 638.7h0M348.5 609.9h0M350.4 649.2h0M330.7 638.9h0M327.5 631.8h0M333.0 595.1h0M340.6 641.3h0M325.0 635.9h0M348.9 610.5h0M341.9 644.6h0M361.3 631.0h0M304.6 587.5h0M329.6 602.3h0M372.1 624.5h0M330.2 582.4h0M342.0 627.0h0M330.2 627.2h0M352.9 660.7h0M330.8 611.5h0M352.5 604.5h0M333.1 630.1h0M329.1 577.1h0M381.9 603.2h0M326.3 591.5h0M354.6 649.8h0M339.6 608.4h0M344.6 608.3h0M349.4 665.9h0M356.3 621.5h0M353.2 626.1h0M338.5 656.5h0M344.7 605.4h0M357.8 580.2h0M300.1 588.8h0M336.9 636.5h0M339.0 621.8h0M319.8 586.6h0M361.1 643.7h0M366.0 615.1h0M331.4 611.6h0M336.2 609.7h0M339.3 582.5h0M339.9 652.4h0M345.3 591.8h0M343.3 610.2h0M363.6 625.6h0M366.3 662.5h0M364.2 615.6h0M328.6 621.5h0M326.1 680.3h0M334.6 647.6h0M362.8 651.9h0M360.5 647.4h0M339.3 631.1h0M351.9 641.0h0M350.9 586.2h0M322.7 588.0h0M329.9 613.6h0M359.0 590.8h0M329.3 573.9h0M346.4 605.8h0M336.3 647.0h0M336.8 605.2h0M346.5 587.5h0M317.6 633.6h0M340.6 615.8h0M352.1 597.5h0M330.1 587.6h0M327.9 593.0h0M332.8 604.0h0M343.7 620.1h0M351.6 634.0h0M346.0 594.9h0M310.8 588.1h0M339.6 627.9h0M345.8 635.3h0M361.9 593.8h0M348.9 595.6h0M347.8 637.9h0M367.4 662.2h0M363.4 620.1h0M307.1 589.4h0M357.3 598.5h0M334.4 595.2h0M338.6 652.5h0M349.5 617.3h0M360.0 632.0h0M356.5 640.0h0M342.5 570.8h0M360.9 622.3h0M334.8 607.6h0M355.7 628.4h0M345.3 601.1h0M348.7 592.5h0M351.2 626.4h0M340.9 616.5h0M335.1 624.9h0M341.1 642.1h0M353.6 624.6h0M333.1 604.8h0M341.6 615.7h0M367.8 630.9h0M324.0 655.1h0M306.3 598.1h0M313.1 603.5h0M338.1 584.1h0M341.5 632.8h0M334.3 647.9h0M356.2 665.5h0M322.6 626.2h0M331.3 614.4h0M327.9 605.5h0M342.4 654.7h0M360.9 637.5h0M358.5 598.3h0M358.2 620.1h0M343.9 625.9h0M370.1 635.2h0M336.7 653.0h0M339.3 650.1h0M327.1 624.6h0M351.6 592.5h0M357.5 595.3h0M338.4 619.2h0M342.6 602.2h0M315.5 599.0h0M333.5 589.2h0M346.1 636.5h0M320.0 603.3h0M331.9 592.6h0M309.2 638.2h0M320.3 611.1h0M347.1 612.1h0M343.7 607.0h0M337.7 602.8h0M350.5 605.0h0M333.4 591.9h0M322.8 583.1h0M339.1 606.2h0M342.3 575.5h0M344.6 629.3h0M318.3 613.1h0M334.0 605.5h0M351.9 639.5h0M332.4 648.9h0M360.3 653.3h0M325.5 587.0h0M334.3 630.0h0M336.4 647.3h0M337.7 578.7h0M349.3 609.4h0M343.1 611.6h0M369.9 648.3h0M347.5 611.2h0M352.6 632.9h0M349.5 612.6h0M336.2 614.7h0M318.7 614.3h0M336.4 608.9h0M341.9 639.6h0M343.4 627.6h0M351.3 639.8h0M344.2 607.9h0M347.6 601.7h0M341.6 597.9h0M337.5 660.1h0M337.5 581.2h0M353.3 625.8h0M345.6 621.0h0M349.7 620.3h0M320.7 611.1h0M358.4 593.5h0M320.4 606.4h0M341.7 609.2h0M342.2 595.3h0M350.2 590.4h0M330.3 638.3h0M325.7 641.7h0M322.3 655.7h0M316.2 654.0h0M335.3 606.7h0M351.6 617.0h0M368.7 625.6h0M346.7 609.6h0M347.9 610.8h0M352.1 592.8h0M341.0 582.2h0M363.2 643.3h0M338.0 584.5h0M342.1 592.6h0M341.0 636.2h0M354.5 615.2h0M324.1 620.3h0M331.5 652.8h0M344.7 615.6h0M348.8 656.3h0M334.5 611.9h0M338.1 640.7h0M352.2 627.6h0M351.7 600.0h0M357.4 617.5h0M336.0 634.1h0M321.4 603.7h0M310.5 592.0h0M335.1 592.5h0M359.3 642.3h0M354.0 594.0h0M335.6 617.4h0M333.6 626.6h0M343.8 591.0h0M339.8 600.5h0M319.8 594.0h0M350.1 615.0h0M337.1 656.5h0M337.4 603.0h0M355.6 606.2h0M362.3 625.1h0M352.1 584.1h0M323.2 606.2h0M356.4 584.8h0M346.1 591.2h0M338.8 631.2h0M335.7 634.2h0M395.7 591.4h0M397.9 675.2h0M399.8 641.7h0M414.9 655.6h0M432.8 643.6h0" stroke="#C01C24" stroke-width="3.5" stroke-linecap="round" fill="none"/>
<path d="M297.1,603.1 L303.9,605.0 L310.7,606.9 L317.5,608.7 L324.3,610.5 L331.1,612.2 L337.9,613.8 L344.7,615.2 L351.5,616.3 L358.3,617.1 L365.1,617.7 L371.9,618.3 L378.7,618.7 L385.5,619.2 L392.3,619.6 L399.1,619.9 L405.9,620.3 L412.7,620.7 L419.5,621.0 L426.3,621.4 L433.1,621.8 L433.1,647.2 L426.3,645.0 L419.5,642.8 L412.7,640.5 L405.9,638.3 L399.1,636.1 L392.3,633.9 L385.5,631.7 L378.7,629.5 L371.9,627.4 L365.1,625.4 L358.3,623.4 L351.5,621.6 L344.7,620.1 L337.9,618.9 L331.1,617.9 L324.3,617.0 L317.5,616.2 L310.7,615.5 L303.9,614.8 L297.1,614.1 Z" fill="#C8C8C8" fill-opacity="0.4"/>
<line x1="297.1" y1="608.6" x2="433.1" y2="634.5" stroke="#111" stroke-width="1"/>
<path d="M290.3,555.7 V706.1 H439.6" fill="none" stroke="#555" stroke-width="1.05"/>
<line x1="296.3" y1="706.1" x2="296.3" y2="708.3000000000001" stroke="#555" stroke-width="1"/>
<text x="296.3" y="716.4" class="tk" text-anchor="middle">−1</text>
<line x1="323.8" y1="706.1" x2="323.8" y2="708.3000000000001" stroke="#555" stroke-width="1"/>
<text x="323.8" y="716.4" class="tk" text-anchor="middle">0</text>
<line x1="351.2" y1="706.1" x2="351.2" y2="708.3000000000001" stroke="#555" stroke-width="1"/>
<text x="351.2" y="716.4" class="tk" text-anchor="middle">1</text>
<line x1="378.7" y1="706.1" x2="378.7" y2="708.3000000000001" stroke="#555" stroke-width="1"/>
<text x="378.7" y="716.4" class="tk" text-anchor="middle">2</text>
<line x1="406.1" y1="706.1" x2="406.1" y2="708.3000000000001" stroke="#555" stroke-width="1"/>
<text x="406.1" y="716.4" class="tk" text-anchor="middle">3</text>
<line x1="433.6" y1="706.1" x2="433.6" y2="708.3000000000001" stroke="#555" stroke-width="1"/>
<text x="433.6" y="716.4" class="tk" text-anchor="middle">4</text>
<line x1="288.1" y1="701.4" x2="290.3" y2="701.4" stroke="#555" stroke-width="1"/>
<text x="286.0" y="704.2" class="tk" text-anchor="end">6</text>
<line x1="288.1" y1="663.7" x2="290.3" y2="663.7" stroke="#555" stroke-width="1"/>
<text x="286.0" y="666.6" class="tk" text-anchor="end">8</text>
<line x1="288.1" y1="626.1" x2="290.3" y2="626.1" stroke="#555" stroke-width="1"/>
<text x="286.0" y="628.9" class="tk" text-anchor="end">10</text>
<line x1="288.1" y1="588.4" x2="290.3" y2="588.4" stroke="#555" stroke-width="1"/>
<text x="286.0" y="591.2" class="tk" text-anchor="end">12</text>
<text x="363.4" y="726.8" class="at" text-anchor="middle">ZNF score</text>
<text transform="translate(273.0,631.5) rotate(-90)" class="at" text-anchor="middle">HLA-A</text>
<text x="297.5" y="574.3" class="rt"><tspan font-style="italic">R</tspan><tspan x="307.5">=</tspan><tspan x="315.9">−</tspan><tspan x="324.1">0.14, </tspan><tspan font-style="italic">p</tspan> = 0.0059</text>
<!-- panel I -->
<path d="M508.4,553.4 C509.3,553.3 512.1,553.1 514.0,552.9 C515.9,552.6 517.9,552.4 519.6,552.1 C521.3,551.7 522.5,551.4 524.4,550.8 C526.2,550.3 528.6,549.7 530.8,548.6 C533.0,547.4 535.7,545.6 537.5,544.0 C539.4,542.3 540.7,540.5 542.0,538.6 C543.3,536.7 544.3,534.3 545.4,532.7 C546.4,531.1 547.4,530.0 548.2,529.2 C548.9,528.3 549.2,528.0 549.8,527.6 C550.4,527.1 551.1,526.6 551.8,526.5 C552.5,526.4 553.2,526.6 553.8,526.8 C554.4,526.9 554.6,526.9 555.4,527.6 C556.3,528.2 557.8,529.8 558.8,530.8 C559.8,531.8 560.4,532.8 561.6,533.8 C562.8,534.7 564.1,535.5 565.8,536.7 C567.5,537.9 569.8,539.5 571.7,541.0 C573.5,542.6 575.4,544.7 577.0,546.1 C578.6,547.6 580.1,548.8 581.2,549.6 C582.3,550.4 582.6,550.6 583.7,550.8 C584.9,551.1 586.8,551.0 588.2,551.0 C589.6,551.0 591.0,550.7 592.4,550.8 C593.8,551.0 594.8,551.4 596.6,551.8 C598.4,552.1 601.2,552.7 603.3,552.9 C605.4,553.0 607.3,552.9 609.2,552.9 C611.1,552.8 612.5,552.7 614.8,552.7 C617.1,552.8 620.4,553.2 623.2,553.3 C626.0,553.3 629.3,553.2 631.6,553.1 C633.9,553.1 634.9,552.9 637.2,552.9 C639.5,552.8 643.7,552.7 645.6,552.7 C647.5,552.7 647.9,552.8 648.4,552.9 Z" fill="#F89D33" stroke="none"/>
<path d="M508.4,553.4 C509.3,553.3 512.1,553.1 514.0,552.9 C515.9,552.6 517.9,552.4 519.6,552.1 C521.3,551.7 522.5,551.4 524.4,550.8 C526.2,550.3 528.6,549.7 530.8,548.6 C533.0,547.4 535.7,545.6 537.5,544.0 C539.4,542.3 540.7,540.5 542.0,538.6 C543.3,536.7 544.3,534.3 545.4,532.7 C546.4,531.1 547.4,530.0 548.2,529.2 C548.9,528.3 549.2,528.0 549.8,527.6 C550.4,527.1 551.1,526.6 551.8,526.5 C552.5,526.4 553.2,526.6 553.8,526.8 C554.4,526.9 554.6,526.9 555.4,527.6 C556.3,528.2 557.8,529.8 558.8,530.8 C559.8,531.8 560.4,532.8 561.6,533.8 C562.8,534.7 564.1,535.5 565.8,536.7 C567.5,537.9 569.8,539.5 571.7,541.0 C573.5,542.6 575.4,544.7 577.0,546.1 C578.6,547.6 580.1,548.8 581.2,549.6 C582.3,550.4 582.6,550.6 583.7,550.8 C584.9,551.1 586.8,551.0 588.2,551.0 C589.6,551.0 591.0,550.7 592.4,550.8 C593.8,551.0 594.8,551.4 596.6,551.8 C598.4,552.1 601.2,552.7 603.3,552.9 C605.4,553.0 607.3,552.9 609.2,552.9 C611.1,552.8 612.5,552.7 614.8,552.7 C617.1,552.8 620.4,553.2 623.2,553.3 C626.0,553.3 629.3,553.2 631.6,553.1 C633.9,553.1 634.9,552.9 637.2,552.9 C639.5,552.8 643.7,552.7 645.6,552.7 C647.5,552.7 647.9,552.8 648.4,552.9" fill="none" stroke="#1a1a1a" stroke-width="0.75"/>
<path d="M656.5,561.9 C657.0,561.9 658.4,560.2 659.8,561.9 C661.2,563.5 662.4,568.1 664.8,571.8 C667.2,575.5 671.2,580.2 674.0,584.0 C676.8,587.8 679.9,591.1 681.6,594.7 C683.3,598.3 683.9,601.9 684.0,605.5 C684.1,609.1 683.5,612.6 682.4,616.2 C681.2,619.8 679.1,623.6 677.1,626.9 C675.1,630.2 672.0,632.8 670.2,636.1 C668.4,639.4 667.5,643.0 666.4,646.8 C665.2,650.6 664.3,654.4 663.3,659.0 C662.3,663.6 661.2,669.2 660.3,674.3 C659.4,679.4 658.6,685.5 658.0,689.6 C657.4,693.7 657.1,697.2 656.9,698.7 L656.5,698.7 L656.5,561.9 Z" fill="#2757A4" stroke="none"/>
<path d="M656.5,561.9 C657.0,561.9 658.4,560.2 659.8,561.9 C661.2,563.5 662.4,568.1 664.8,571.8 C667.2,575.5 671.2,580.2 674.0,584.0 C676.8,587.8 679.9,591.1 681.6,594.7 C683.3,598.3 683.9,601.9 684.0,605.5 C684.1,609.1 683.5,612.6 682.4,616.2 C681.2,619.8 679.1,623.6 677.1,626.9 C675.1,630.2 672.0,632.8 670.2,636.1 C668.4,639.4 667.5,643.0 666.4,646.8 C665.2,650.6 664.3,654.4 663.3,659.0 C662.3,663.6 661.2,669.2 660.3,674.3 C659.4,679.4 658.6,685.5 658.0,689.6 C657.4,693.7 657.1,697.2 656.9,698.7" fill="none" stroke="#1a1a1a" stroke-width="0.75"/>
<path d="M550.7 626.0h0M545.9 593.0h0M549.8 585.7h0M550.3 585.8h0M548.4 571.4h0M569.7 628.0h0M542.0 593.4h0M571.7 628.2h0M558.9 659.3h0M536.9 622.8h0M553.0 607.4h0M552.6 637.1h0M571.1 623.1h0M558.6 586.7h0M537.7 591.5h0M544.3 593.6h0M563.9 606.2h0M597.2 632.7h0M548.7 668.4h0M550.6 587.0h0M549.4 656.8h0M547.5 603.1h0M548.1 611.2h0M598.7 624.8h0M542.9 600.3h0M539.4 613.7h0M591.6 600.5h0M545.1 646.0h0M568.6 597.0h0M536.0 655.8h0M557.4 585.0h0M573.1 633.3h0M526.0 592.5h0M554.6 577.9h0M555.7 680.1h0M540.3 613.6h0M558.1 598.6h0M539.3 585.2h0M548.2 578.8h0M544.2 592.8h0M558.9 600.3h0M542.5 603.7h0M559.3 606.5h0M552.5 609.0h0M545.8 585.1h0M556.6 608.3h0M530.8 587.5h0M572.9 581.0h0M572.6 590.0h0M545.8 616.9h0M529.1 604.4h0M554.4 593.7h0M553.6 628.5h0M543.7 664.4h0M537.6 632.2h0M536.7 592.0h0M550.4 615.3h0M566.6 626.0h0M556.1 594.1h0M559.2 645.8h0M558.1 567.7h0M557.1 611.9h0M557.7 621.6h0M549.5 568.6h0M561.8 648.5h0M556.0 625.6h0M544.8 609.5h0M559.4 642.6h0M551.2 619.1h0M568.6 602.1h0M578.7 616.2h0M567.7 617.5h0M545.9 585.1h0M525.2 566.5h0M563.3 579.3h0M549.4 675.8h0M558.4 581.6h0M576.3 600.0h0M575.5 608.8h0M568.0 647.8h0M527.5 612.8h0M552.6 616.2h0M564.0 660.6h0M545.0 580.2h0M544.4 586.8h0M556.3 612.3h0M533.5 628.6h0M541.3 577.1h0M553.2 595.3h0M556.4 587.3h0M591.9 637.4h0M552.1 565.5h0M544.2 610.5h0M579.4 576.5h0M553.5 675.1h0M582.0 613.4h0M562.8 612.5h0M557.2 688.3h0M561.7 632.6h0M551.7 647.6h0M551.8 654.9h0M560.0 635.5h0M549.8 644.7h0M575.4 610.8h0M567.5 604.3h0M536.3 597.6h0M568.4 642.5h0M594.9 641.2h0M549.4 573.8h0M555.8 621.3h0M563.0 615.2h0M560.8 630.4h0M556.8 599.5h0M542.5 586.3h0M551.1 591.3h0M540.5 595.5h0M566.4 598.1h0M569.7 623.0h0M568.5 600.8h0M548.2 637.1h0M558.4 610.5h0M546.9 588.3h0M546.3 637.0h0M553.3 592.5h0M560.4 605.6h0M567.4 656.3h0M556.3 667.6h0M545.1 659.1h0M578.2 655.5h0M560.2 605.5h0M578.6 614.1h0M577.5 590.2h0M562.4 568.3h0M543.7 619.2h0M567.6 681.3h0M553.6 658.5h0M589.8 686.7h0M564.9 635.7h0M541.6 620.2h0M540.2 578.1h0M553.9 659.4h0M592.9 632.2h0M561.0 620.6h0M561.2 617.6h0M570.8 634.6h0M538.2 566.1h0M572.2 623.4h0M547.9 607.7h0M586.6 604.4h0M541.2 600.6h0M568.1 576.9h0M551.6 647.0h0M538.2 610.0h0M556.7 626.3h0M548.0 610.7h0M561.7 592.4h0M555.2 628.6h0M588.4 685.3h0M560.4 612.1h0M544.8 637.2h0M573.4 603.0h0M555.6 606.3h0M546.1 567.4h0M563.3 601.3h0M571.8 644.3h0M551.5 601.2h0M567.9 590.9h0M545.8 605.9h0M570.1 618.2h0M526.8 607.9h0M567.0 627.6h0M557.9 640.6h0M552.4 583.2h0M561.6 604.0h0M563.6 661.6h0M543.5 582.8h0M540.3 605.1h0M545.8 602.0h0M553.6 607.2h0M537.6 579.0h0M562.0 683.9h0M554.9 611.9h0M574.7 604.7h0M516.8 601.0h0M542.4 657.6h0M585.7 665.6h0M542.9 601.2h0M555.0 579.7h0M542.9 667.2h0M566.1 632.3h0M543.6 598.9h0M565.7 609.1h0M545.9 594.4h0M541.8 580.1h0M595.7 605.0h0M539.0 648.7h0M567.8 623.9h0M552.5 642.5h0M557.7 612.2h0M562.5 579.5h0M569.5 591.3h0M566.4 567.9h0M551.4 578.8h0M557.8 586.1h0M571.1 591.4h0M512.3 611.5h0M549.8 611.6h0M551.9 594.7h0M532.4 584.7h0M574.5 602.2h0M579.5 650.1h0M544.2 635.1h0M549.1 640.6h0M552.2 571.0h0M552.9 612.1h0M558.4 591.7h0M556.4 612.2h0M577.0 623.2h0M579.8 626.3h0M577.7 629.7h0M541.3 602.7h0M538.8 585.8h0M547.5 645.3h0M576.2 617.2h0M573.9 625.7h0M552.3 620.7h0M565.1 597.9h0M564.1 578.0h0M535.3 640.8h0M542.6 601.3h0M572.3 590.8h0M542.0 585.9h0M559.5 664.4h0M549.2 596.0h0M549.7 618.5h0M559.6 624.3h0M530.1 584.6h0M553.6 639.9h0M565.3 608.1h0M542.9 586.1h0M540.6 621.5h0M545.6 634.1h0M556.8 568.3h0M564.8 645.2h0M559.1 582.2h0M523.2 616.3h0M552.6 605.1h0M558.9 625.5h0M575.2 614.3h0M562.0 609.2h0M560.9 646.6h0M580.9 624.7h0M576.8 595.8h0M519.4 617.7h0M570.6 685.6h0M547.3 600.7h0M551.6 633.1h0M562.7 604.5h0M573.3 629.2h0M569.8 640.7h0M555.5 618.1h0M574.3 609.2h0M547.7 600.3h0M569.0 659.4h0M558.3 656.6h0M561.9 653.8h0M564.4 587.9h0M553.9 606.7h0M547.9 634.3h0M554.1 618.7h0M566.8 585.2h0M545.9 641.5h0M554.5 623.3h0M581.3 602.5h0M536.6 588.2h0M518.6 585.0h0M525.5 625.0h0M551.0 610.5h0M554.5 685.5h0M547.1 618.8h0M569.5 635.9h0M535.2 619.5h0M544.0 581.4h0M540.6 611.3h0M555.4 618.2h0M574.2 601.9h0M571.8 578.0h0M571.5 644.9h0M556.9 595.4h0M583.6 632.0h0M549.6 659.8h0M552.3 626.6h0M539.9 598.1h0M564.8 622.7h0M570.8 631.1h0M551.3 611.0h0M555.6 620.0h0M528.0 609.3h0M546.3 638.0h0M559.1 599.6h0M532.6 674.6h0M544.7 603.4h0M521.5 619.7h0M532.9 586.3h0M560.2 650.8h0M556.7 685.3h0M550.6 598.4h0M563.6 591.0h0M546.2 667.0h0M535.4 594.8h0M552.1 603.9h0M555.3 641.6h0M557.7 597.8h0M530.8 625.5h0M546.9 585.7h0M565.1 587.5h0M545.2 618.7h0M573.6 628.6h0M538.2 603.3h0M547.1 669.5h0M549.3 627.5h0M550.6 610.2h0M562.5 568.9h0M556.1 584.6h0M583.5 615.6h0M560.6 640.3h0M565.8 606.4h0M562.7 612.6h0M549.1 651.2h0M531.2 609.5h0M549.3 651.2h0M554.9 625.7h0M556.4 696.8h0M564.5 582.6h0M557.3 627.5h0M560.7 648.6h0M554.6 630.1h0M550.4 663.7h0M550.4 615.1h0M566.5 585.1h0M558.6 606.8h0M562.9 625.6h0M533.3 607.8h0M571.7 616.2h0M532.9 614.0h0M554.7 628.9h0M555.2 612.2h0M563.3 608.9h0M543.1 622.2h0M538.4 599.0h0M534.9 639.0h0M528.7 658.2h0M548.2 670.9h0M564.8 607.2h0M582.2 648.7h0M559.8 616.3h0M561.0 638.7h0M565.3 627.3h0M554.0 608.3h0M576.6 669.1h0M550.9 629.1h0M555.1 580.0h0M554.0 571.7h0M567.7 613.5h0M536.7 600.8h0M544.3 624.1h0M557.8 647.4h0M561.9 596.0h0M547.3 582.0h0M551.0 599.2h0M565.4 602.8h0M564.9 637.7h0M570.7 589.9h0M548.9 602.7h0M534.0 619.9h0M522.9 578.1h0M547.9 632.0h0M572.6 650.5h0M567.2 612.9h0M548.5 638.6h0M546.4 638.7h0M556.8 597.4h0M552.8 606.6h0M532.3 615.0h0M563.2 599.2h0M550.0 606.0h0M550.3 591.0h0M568.8 596.4h0M575.7 599.0h0M565.3 650.3h0M535.8 584.7h0M569.7 616.3h0M559.2 602.0h0M551.8 608.9h0M548.5 591.0h0M609.8 623.6h0M612.0 691.2h0M614.0 631.3h0M629.4 652.0h0M647.6 677.6h0" stroke="#C01C24" stroke-width="3.5" stroke-linecap="round" fill="none"/>
<path d="M509.0,595.4 L516.0,597.9 L522.9,600.4 L529.9,602.9 L536.8,605.3 L543.8,607.5 L550.7,609.6 L557.7,611.4 L564.6,612.9 L571.6,614.2 L578.5,615.3 L585.5,616.2 L592.5,617.1 L599.4,617.9 L606.4,618.6 L613.3,619.4 L620.3,620.1 L627.2,620.8 L634.2,621.5 L641.1,622.2 L648.1,622.8 L648.1,650.8 L641.1,648.1 L634.2,645.4 L627.2,642.7 L620.3,640.0 L613.3,637.3 L606.4,634.7 L599.4,632.1 L592.5,629.5 L585.5,627.0 L578.5,624.5 L571.6,622.2 L564.6,620.1 L557.7,618.2 L550.7,616.7 L543.8,615.4 L536.8,614.2 L529.9,613.2 L522.9,612.3 L516.0,611.4 L509.0,610.6 Z" fill="#C8C8C8" fill-opacity="0.4"/>
<line x1="509" y1="603" x2="648.1" y2="636.8" stroke="#111" stroke-width="1"/>
<path d="M502.2,555.7 V706.1 H654.6" fill="none" stroke="#555" stroke-width="1.05"/>
<line x1="508.4" y1="706.1" x2="508.4" y2="708.3000000000001" stroke="#555" stroke-width="1"/>
<text x="508.4" y="716.4" class="tk" text-anchor="middle">−1</text>
<line x1="536.4" y1="706.1" x2="536.4" y2="708.3000000000001" stroke="#555" stroke-width="1"/>
<text x="536.4" y="716.4" class="tk" text-anchor="middle">0</text>
<line x1="564.4" y1="706.1" x2="564.4" y2="708.3000000000001" stroke="#555" stroke-width="1"/>
<text x="564.4" y="716.4" class="tk" text-anchor="middle">1</text>
<line x1="592.4" y1="706.1" x2="592.4" y2="708.3000000000001" stroke="#555" stroke-width="1"/>
<text x="592.4" y="716.4" class="tk" text-anchor="middle">2</text>
<line x1="620.4" y1="706.1" x2="620.4" y2="708.3000000000001" stroke="#555" stroke-width="1"/>
<text x="620.4" y="716.4" class="tk" text-anchor="middle">3</text>
<line x1="648.4" y1="706.1" x2="648.4" y2="708.3000000000001" stroke="#555" stroke-width="1"/>
<text x="648.4" y="716.4" class="tk" text-anchor="middle">4</text>
<line x1="500.0" y1="667.5" x2="502.2" y2="667.5" stroke="#555" stroke-width="1"/>
<text x="497.9" y="670.4" class="tk" text-anchor="end">4</text>
<line x1="500.0" y1="624.5" x2="502.2" y2="624.5" stroke="#555" stroke-width="1"/>
<text x="497.9" y="627.3" class="tk" text-anchor="end">6</text>
<line x1="500.0" y1="581.4" x2="502.2" y2="581.4" stroke="#555" stroke-width="1"/>
<text x="497.9" y="584.2" class="tk" text-anchor="end">8</text>
<text x="576.8" y="726.8" class="at" text-anchor="middle">ZNF score</text>
<text transform="translate(489.3,631.5) rotate(-90)" class="at" text-anchor="middle">HLA-DMA</text>
<text x="509.6" y="574.3" class="rt"><tspan font-style="italic">R</tspan><tspan x="519.6">=</tspan><tspan x="528.0">−</tspan><tspan x="536.2">0.16, </tspan><tspan font-style="italic">p</tspan> = 0.0016</text>
<!-- panel K -->
<path d="M298.5,807.6 C299.4,807.5 302.1,807.3 303.9,807.1 C305.7,806.8 307.6,806.6 309.3,806.3 C311.0,805.9 312.1,805.6 313.9,805.1 C315.7,804.5 318.0,803.9 320.1,802.8 C322.2,801.6 324.8,799.9 326.6,798.2 C328.4,796.6 329.6,794.7 330.9,792.9 C332.2,791.0 333.1,788.5 334.1,787.0 C335.1,785.4 336.1,784.3 336.8,783.5 C337.6,782.6 337.9,782.3 338.5,781.9 C339.0,781.4 339.7,780.9 340.4,780.8 C341.0,780.7 341.7,780.9 342.2,781.1 C342.8,781.2 343.1,781.2 343.9,781.9 C344.7,782.5 346.1,784.1 347.1,785.1 C348.1,786.1 348.7,787.1 349.8,788.0 C350.9,789.0 352.2,789.8 353.9,791.0 C355.5,792.2 357.7,793.7 359.5,795.3 C361.3,796.8 363.1,798.9 364.6,800.4 C366.2,801.8 367.6,803.1 368.7,803.8 C369.8,804.6 370.0,804.8 371.1,805.1 C372.3,805.3 374.1,805.2 375.4,805.2 C376.8,805.2 378.1,804.9 379.5,805.1 C380.9,805.2 381.8,805.7 383.6,806.0 C385.3,806.3 388.0,806.9 390.0,807.1 C392.1,807.2 393.9,807.1 395.7,807.1 C397.5,807.0 398.9,806.9 401.1,806.9 C403.4,807.0 406.5,807.4 409.2,807.5 C411.9,807.5 415.1,807.4 417.3,807.3 C419.6,807.3 420.4,807.1 422.7,807.1 C424.9,807.0 429.0,806.9 430.8,806.9 C432.6,806.9 433.1,807.0 433.5,807.1 Z" fill="#F89D33" stroke="none"/>
<path d="M298.5,807.6 C299.4,807.5 302.1,807.3 303.9,807.1 C305.7,806.8 307.6,806.6 309.3,806.3 C311.0,805.9 312.1,805.6 313.9,805.1 C315.7,804.5 318.0,803.9 320.1,802.8 C322.2,801.6 324.8,799.9 326.6,798.2 C328.4,796.6 329.6,794.7 330.9,792.9 C332.2,791.0 333.1,788.5 334.1,787.0 C335.1,785.4 336.1,784.3 336.8,783.5 C337.6,782.6 337.9,782.3 338.5,781.9 C339.0,781.4 339.7,780.9 340.4,780.8 C341.0,780.7 341.7,780.9 342.2,781.1 C342.8,781.2 343.1,781.2 343.9,781.9 C344.7,782.5 346.1,784.1 347.1,785.1 C348.1,786.1 348.7,787.1 349.8,788.0 C350.9,789.0 352.2,789.8 353.9,791.0 C355.5,792.2 357.7,793.7 359.5,795.3 C361.3,796.8 363.1,798.9 364.6,800.4 C366.2,801.8 367.6,803.1 368.7,803.8 C369.8,804.6 370.0,804.8 371.1,805.1 C372.3,805.3 374.1,805.2 375.4,805.2 C376.8,805.2 378.1,804.9 379.5,805.1 C380.9,805.2 381.8,805.7 383.6,806.0 C385.3,806.3 388.0,806.9 390.0,807.1 C392.1,807.2 393.9,807.1 395.7,807.1 C397.5,807.0 398.9,806.9 401.1,806.9 C403.4,807.0 406.5,807.4 409.2,807.5 C411.9,807.5 415.1,807.4 417.3,807.3 C419.6,807.3 420.4,807.1 422.7,807.1 C424.9,807.0 429.0,806.9 430.8,806.9 C432.6,806.9 433.1,807.0 433.5,807.1" fill="none" stroke="#1a1a1a" stroke-width="0.75"/>
<path d="M441.8,816.1 C441.9,817.6 441.8,822.5 442.4,825.3 C443.0,828.1 443.7,830.1 445.2,832.9 C446.7,835.7 449.0,838.8 451.3,842.1 C453.6,845.4 456.4,849.5 458.9,852.8 C461.4,856.1 464.9,859.6 466.5,862.0 C468.1,864.4 468.5,865.3 468.4,867.3 C468.3,869.3 467.0,871.8 465.8,874.2 C464.6,876.6 462.6,879.1 461.2,881.9 C459.8,884.7 459.0,887.4 457.4,891.0 C455.8,894.6 453.2,899.5 451.3,903.3 C449.4,907.1 447.4,910.7 446.0,914.0 C444.6,917.3 443.5,919.6 442.9,923.2 C442.2,926.8 442.3,930.4 442.1,935.4 C441.9,940.4 441.9,950.1 441.8,953.0 L441.8,953.0 L441.8,816.1 Z" fill="#2757A4" stroke="none"/>
<path d="M441.8,816.1 C441.9,817.6 441.8,822.5 442.4,825.3 C443.0,828.1 443.7,830.1 445.2,832.9 C446.7,835.7 449.0,838.8 451.3,842.1 C453.6,845.4 456.4,849.5 458.9,852.8 C461.4,856.1 464.9,859.6 466.5,862.0 C468.1,864.4 468.5,865.3 468.4,867.3 C468.3,869.3 467.0,871.8 465.8,874.2 C464.6,876.6 462.6,879.1 461.2,881.9 C459.8,884.7 459.0,887.4 457.4,891.0 C455.8,894.6 453.2,899.5 451.3,903.3 C449.4,907.1 447.4,910.7 446.0,914.0 C444.6,917.3 443.5,919.6 442.9,923.2 C442.2,926.8 442.3,930.4 442.1,935.4 C441.9,940.4 441.9,950.1 441.8,953.0" fill="none" stroke="#1a1a1a" stroke-width="0.75"/>
<path d="M339.3 849.7h0M334.6 860.3h0M338.5 879.3h0M338.9 895.0h0M337.1 906.5h0M357.7 880.2h0M330.9 879.0h0M359.5 900.5h0M347.2 878.7h0M326.0 861.9h0M341.5 916.2h0M341.1 853.9h0M359.0 921.4h0M346.9 841.6h0M326.8 851.1h0M333.2 873.8h0M352.0 852.6h0M384.1 896.6h0M337.4 855.5h0M339.2 867.2h0M338.0 849.1h0M336.2 848.4h0M336.8 885.2h0M385.6 910.6h0M331.7 858.2h0M328.4 865.9h0M378.8 937.6h0M333.9 833.6h0M356.5 922.7h0M325.1 902.4h0M345.7 900.2h0M360.9 871.1h0M315.5 830.1h0M343.0 875.7h0M344.1 879.8h0M329.3 859.7h0M346.4 881.1h0M328.3 861.1h0M336.9 890.8h0M333.0 857.3h0M347.2 866.7h0M331.4 912.4h0M347.6 876.6h0M341.0 867.4h0M334.6 856.0h0M345.0 890.3h0M320.1 883.7h0M360.7 903.0h0M360.4 871.3h0M334.6 883.3h0M318.4 870.8h0M342.9 851.1h0M342.1 887.1h0M332.6 881.8h0M326.7 863.0h0M325.8 857.7h0M339.0 850.7h0M354.6 897.8h0M344.5 905.3h0M347.5 876.8h0M346.4 862.2h0M345.4 904.1h0M346.1 884.0h0M338.1 862.7h0M350.0 871.2h0M344.4 870.8h0M333.6 869.9h0M347.7 891.7h0M339.8 888.8h0M356.6 858.5h0M366.3 909.3h0M355.6 856.2h0M334.7 892.6h0M314.7 819.3h0M351.4 912.0h0M338.0 841.1h0M346.7 892.9h0M363.9 887.6h0M363.2 886.0h0M356.0 893.8h0M316.9 826.1h0M341.1 868.5h0M352.2 905.0h0M333.8 854.2h0M333.2 852.6h0M344.7 896.6h0M322.7 850.1h0M330.3 862.1h0M341.7 856.0h0M344.8 859.7h0M379.0 892.5h0M340.6 877.9h0M333.1 848.9h0M367.0 880.1h0M341.9 902.0h0M369.5 899.7h0M351.0 887.0h0M345.6 878.4h0M349.9 837.2h0M340.2 876.6h0M340.4 861.6h0M348.2 845.6h0M338.4 859.6h0M363.1 875.1h0M355.5 855.1h0M325.4 857.1h0M356.3 876.1h0M381.9 879.0h0M338.0 860.9h0M344.2 886.7h0M351.1 901.3h0M349.1 877.7h0M345.1 848.4h0M331.4 868.0h0M339.7 849.3h0M329.4 855.7h0M354.4 885.2h0M357.6 933.8h0M356.4 874.9h0M336.9 872.5h0M346.7 907.4h0M335.7 857.7h0M335.0 866.8h0M341.8 864.1h0M348.6 887.9h0M355.4 875.0h0M344.7 882.8h0M333.9 846.8h0M365.8 883.6h0M348.4 904.4h0M366.2 881.8h0M365.2 884.3h0M350.6 880.4h0M332.6 891.9h0M355.6 859.4h0M342.1 886.0h0M377.0 859.8h0M353.0 892.3h0M330.5 862.9h0M329.2 863.5h0M342.4 868.2h0M380.0 843.3h0M349.2 885.8h0M349.4 839.8h0M358.7 869.0h0M327.3 874.6h0M360.0 858.5h0M336.6 852.4h0M373.9 870.0h0M330.1 890.0h0M356.1 869.6h0M340.1 877.3h0M327.3 864.3h0M345.1 875.4h0M336.7 866.4h0M349.9 847.0h0M343.6 865.1h0M375.7 926.6h0M348.7 852.7h0M333.6 863.6h0M361.1 880.4h0M344.0 909.8h0M334.9 859.1h0M351.5 887.7h0M359.7 863.6h0M340.1 861.5h0M355.8 863.9h0M334.6 873.0h0M358.0 917.2h0M316.3 840.5h0M355.0 870.5h0M346.2 880.6h0M341.0 881.5h0M349.8 894.7h0M351.7 912.6h0M332.4 888.2h0M329.2 864.1h0M334.6 839.1h0M342.1 862.8h0M326.7 836.0h0M350.2 897.8h0M343.4 849.2h0M362.4 893.0h0M306.6 830.6h0M331.3 843.0h0M373.0 888.8h0M331.8 861.9h0M343.5 850.2h0M331.8 878.9h0M354.1 920.8h0M332.4 850.3h0M353.8 840.1h0M334.7 904.7h0M330.7 859.7h0M382.7 917.3h0M328.0 867.4h0M355.8 900.9h0M341.0 854.7h0M346.0 884.9h0M350.7 880.0h0M357.5 903.4h0M354.5 864.4h0M340.0 879.8h0M346.1 881.1h0M358.9 882.7h0M302.2 874.4h0M338.5 868.7h0M340.4 903.3h0M321.6 862.5h0M362.3 888.9h0M367.1 895.8h0M333.0 868.4h0M337.7 881.2h0M340.7 861.0h0M341.4 870.4h0M346.7 883.8h0M344.8 877.1h0M364.7 900.0h0M367.3 890.2h0M365.3 892.8h0M330.2 899.8h0M327.8 835.9h0M336.2 875.4h0M363.9 899.3h0M361.6 877.1h0M340.8 912.3h0M353.2 886.6h0M352.2 870.8h0M324.5 864.6h0M331.5 862.6h0M360.1 892.1h0M330.9 870.1h0M347.8 875.2h0M337.8 865.3h0M338.3 890.8h0M347.8 869.3h0M319.5 852.6h0M342.1 883.6h0M353.3 890.1h0M331.8 862.1h0M329.6 843.2h0M334.4 846.8h0M345.1 890.5h0M352.9 889.4h0M347.4 886.2h0M312.7 848.1h0M341.1 873.6h0M347.2 867.9h0M363.0 860.2h0M350.2 871.7h0M349.1 867.8h0M368.4 880.3h0M364.5 902.0h0M309.1 856.0h0M358.5 887.0h0M336.0 876.8h0M340.1 844.2h0M350.9 866.1h0M361.1 938.7h0M357.7 899.3h0M343.9 874.5h0M362.0 884.7h0M336.4 884.8h0M356.9 888.3h0M346.6 882.8h0M350.1 886.8h0M352.5 866.1h0M342.3 872.7h0M336.6 878.9h0M342.6 878.0h0M354.9 879.7h0M334.7 889.3h0M343.0 883.9h0M368.8 875.8h0M325.7 844.5h0M308.3 899.3h0M315.0 823.3h0M339.6 882.4h0M343.0 857.3h0M335.8 895.2h0M357.4 866.7h0M324.4 859.7h0M332.9 866.1h0M329.6 867.9h0M343.8 877.1h0M362.0 868.5h0M359.7 898.4h0M359.4 887.1h0M345.3 880.8h0M371.0 920.4h0M338.2 866.7h0M340.8 870.6h0M328.8 871.0h0M352.9 906.1h0M358.7 889.0h0M339.9 872.3h0M344.0 872.2h0M317.4 856.1h0M335.0 890.6h0M347.4 856.2h0M321.8 845.4h0M333.5 851.5h0M311.2 845.8h0M322.1 837.9h0M348.4 861.6h0M345.1 852.6h0M339.2 863.3h0M351.8 874.0h0M334.9 855.3h0M324.6 873.0h0M340.6 874.1h0M343.7 867.8h0M346.0 885.9h0M320.1 906.7h0M335.6 877.7h0M353.2 893.9h0M334.0 850.4h0M361.4 920.3h0M327.2 875.9h0M335.9 840.1h0M337.9 915.4h0M339.2 874.1h0M350.6 890.4h0M344.5 907.9h0M370.9 888.9h0M348.9 894.3h0M353.9 933.2h0M350.9 889.7h0M337.7 896.2h0M320.5 840.7h0M338.0 867.6h0M343.3 895.4h0M344.8 868.6h0M352.6 843.6h0M345.6 900.9h0M348.9 897.2h0M343.0 873.6h0M339.0 868.1h0M339.0 866.0h0M354.6 910.0h0M346.9 872.5h0M351.0 901.8h0M322.5 874.1h0M359.6 864.5h0M322.1 872.7h0M343.2 861.3h0M343.7 879.0h0M351.5 873.7h0M331.9 862.2h0M327.4 851.2h0M324.0 847.9h0M318.1 871.0h0M336.8 840.0h0M352.9 866.1h0M369.7 869.0h0M348.1 856.8h0M349.3 886.0h0M353.3 879.2h0M342.5 869.7h0M364.3 879.1h0M339.5 840.4h0M343.6 840.0h0M342.5 821.6h0M355.7 846.1h0M325.8 834.7h0M333.1 866.0h0M346.1 891.3h0M350.1 875.2h0M336.0 871.8h0M339.6 889.7h0M353.5 883.3h0M353.0 869.0h0M358.5 879.8h0M337.6 851.9h0M323.2 848.9h0M312.5 847.0h0M336.6 845.4h0M360.4 884.6h0M355.2 876.6h0M337.1 842.2h0M335.2 849.4h0M345.2 904.3h0M341.3 867.8h0M321.6 834.6h0M351.4 867.2h0M338.6 846.9h0M338.9 899.6h0M356.8 870.3h0M363.4 923.4h0M353.4 864.0h0M324.9 883.7h0M357.6 853.8h0M347.5 888.6h0M340.3 866.6h0M337.2 862.2h0M396.2 897.4h0M398.4 896.0h0M400.3 898.8h0M415.1 928.2h0M432.7 894.8h0" stroke="#C01C24" stroke-width="3.5" stroke-linecap="round" fill="none"/>
<path d="M299.1,847.4 L305.8,851.0 L312.5,854.5 L319.2,858.0 L325.9,861.4 L332.6,864.7 L339.3,867.8 L346.0,870.7 L352.7,873.3 L359.4,875.7 L366.1,878.0 L372.8,880.1 L379.5,882.1 L386.2,884.1 L392.9,886.1 L399.6,888.0 L406.3,889.9 L413.0,891.8 L419.7,893.7 L426.4,895.6 L433.1,897.5 L433.1,922.0 L426.4,918.3 L419.7,914.7 L413.0,911.1 L406.3,907.6 L399.6,904.0 L392.9,900.4 L386.2,896.9 L379.5,893.4 L372.8,890.0 L366.1,886.6 L359.4,883.4 L352.7,880.3 L346.0,877.5 L339.3,874.8 L332.6,872.5 L325.9,870.3 L319.2,868.2 L312.5,866.2 L305.8,864.3 L299.1,862.4 Z" fill="#C8C8C8" fill-opacity="0.4"/>
<line x1="299.1" y1="854.9" x2="433.1" y2="909.7" stroke="#111" stroke-width="1"/>
<path d="M292.7,809.3 V959.6 H439.3" fill="none" stroke="#555" stroke-width="1.05"/>
<line x1="298.5" y1="959.6" x2="298.5" y2="961.8000000000001" stroke="#555" stroke-width="1"/>
<text x="298.5" y="969.9" class="tk" text-anchor="middle">−1</text>
<line x1="325.5" y1="959.6" x2="325.5" y2="961.8000000000001" stroke="#555" stroke-width="1"/>
<text x="325.5" y="969.9" class="tk" text-anchor="middle">0</text>
<line x1="352.5" y1="959.6" x2="352.5" y2="961.8000000000001" stroke="#555" stroke-width="1"/>
<text x="352.5" y="969.9" class="tk" text-anchor="middle">1</text>
<line x1="379.5" y1="959.6" x2="379.5" y2="961.8000000000001" stroke="#555" stroke-width="1"/>
<text x="379.5" y="969.9" class="tk" text-anchor="middle">2</text>
<line x1="406.5" y1="959.6" x2="406.5" y2="961.8000000000001" stroke="#555" stroke-width="1"/>
<text x="406.5" y="969.9" class="tk" text-anchor="middle">3</text>
<line x1="433.5" y1="959.6" x2="433.5" y2="961.8000000000001" stroke="#555" stroke-width="1"/>
<text x="433.5" y="969.9" class="tk" text-anchor="middle">4</text>
<line x1="290.5" y1="928.4" x2="292.7" y2="928.4" stroke="#555" stroke-width="1"/>
<text x="288.4" y="931.2" class="tk" text-anchor="end">2.5</text>
<line x1="290.5" y1="887.5" x2="292.7" y2="887.5" stroke="#555" stroke-width="1"/>
<text x="288.4" y="890.3" class="tk" text-anchor="end">5.0</text>
<line x1="290.5" y1="846.5" x2="292.7" y2="846.5" stroke="#555" stroke-width="1"/>
<text x="288.4" y="849.4" class="tk" text-anchor="end">7.5</text>
<text x="364.4" y="980.3" class="at" text-anchor="middle">ZNF score</text>
<text transform="translate(273.0,884.4) rotate(-90)" class="at" text-anchor="middle">IL32</text>
<text x="299.7" y="828.1" class="rt"><tspan font-style="italic">R</tspan><tspan x="309.7">=</tspan><tspan x="318.1">−</tspan><tspan x="326.3">0.31, </tspan><tspan font-style="italic">p</tspan> = 3.7e−10</text>
<!-- panel L -->
<path d="M508.4,807.6 C509.3,807.5 512.1,807.3 514.0,807.1 C515.9,806.8 517.9,806.6 519.6,806.3 C521.3,805.9 522.5,805.6 524.4,805.1 C526.2,804.5 528.6,803.9 530.8,802.8 C533.0,801.6 535.7,799.9 537.5,798.2 C539.4,796.6 540.7,794.7 542.0,792.9 C543.3,791.0 544.3,788.5 545.4,787.0 C546.4,785.4 547.4,784.3 548.2,783.5 C548.9,782.6 549.2,782.3 549.8,781.9 C550.4,781.4 551.1,780.9 551.8,780.8 C552.5,780.7 553.2,780.9 553.8,781.1 C554.4,781.2 554.6,781.2 555.4,781.9 C556.3,782.5 557.8,784.1 558.8,785.1 C559.8,786.1 560.4,787.1 561.6,788.0 C562.8,789.0 564.1,789.8 565.8,791.0 C567.5,792.2 569.8,793.7 571.7,795.3 C573.5,796.8 575.4,798.9 577.0,800.4 C578.6,801.8 580.1,803.1 581.2,803.8 C582.3,804.6 582.6,804.8 583.7,805.1 C584.9,805.3 586.8,805.2 588.2,805.2 C589.6,805.2 591.0,804.9 592.4,805.1 C593.8,805.2 594.8,805.7 596.6,806.0 C598.4,806.3 601.2,806.9 603.3,807.1 C605.4,807.2 607.3,807.1 609.2,807.1 C611.1,807.0 612.5,806.9 614.8,806.9 C617.1,807.0 620.4,807.4 623.2,807.5 C626.0,807.5 629.3,807.4 631.6,807.3 C633.9,807.3 634.9,807.1 637.2,807.1 C639.5,807.0 643.7,806.9 645.6,806.9 C647.5,806.9 647.9,807.0 648.4,807.1 Z" fill="#F89D33" stroke="none"/>
<path d="M508.4,807.6 C509.3,807.5 512.1,807.3 514.0,807.1 C515.9,806.8 517.9,806.6 519.6,806.3 C521.3,805.9 522.5,805.6 524.4,805.1 C526.2,804.5 528.6,803.9 530.8,802.8 C533.0,801.6 535.7,799.9 537.5,798.2 C539.4,796.6 540.7,794.7 542.0,792.9 C543.3,791.0 544.3,788.5 545.4,787.0 C546.4,785.4 547.4,784.3 548.2,783.5 C548.9,782.6 549.2,782.3 549.8,781.9 C550.4,781.4 551.1,780.9 551.8,780.8 C552.5,780.7 553.2,780.9 553.8,781.1 C554.4,781.2 554.6,781.2 555.4,781.9 C556.3,782.5 557.8,784.1 558.8,785.1 C559.8,786.1 560.4,787.1 561.6,788.0 C562.8,789.0 564.1,789.8 565.8,791.0 C567.5,792.2 569.8,793.7 571.7,795.3 C573.5,796.8 575.4,798.9 577.0,800.4 C578.6,801.8 580.1,803.1 581.2,803.8 C582.3,804.6 582.6,804.8 583.7,805.1 C584.9,805.3 586.8,805.2 588.2,805.2 C589.6,805.2 591.0,804.9 592.4,805.1 C593.8,805.2 594.8,805.7 596.6,806.0 C598.4,806.3 601.2,806.9 603.3,807.1 C605.4,807.2 607.3,807.1 609.2,807.1 C611.1,807.0 612.5,806.9 614.8,806.9 C617.1,807.0 620.4,807.4 623.2,807.5 C626.0,807.5 629.3,807.4 631.6,807.3 C633.9,807.3 634.9,807.1 637.2,807.1 C639.5,807.0 643.7,806.9 645.6,806.9 C647.5,806.9 647.9,807.0 648.4,807.1" fill="none" stroke="#1a1a1a" stroke-width="0.75"/>
<path d="M656.5,816.1 C656.5,821.0 656.2,838.1 656.5,845.2 C656.8,852.3 657.8,854.6 658.0,858.9 C658.2,863.2 657.1,867.1 657.5,871.2 C657.9,875.3 658.6,878.8 660.3,883.4 C662.0,888.0 665.4,894.1 667.9,898.7 C670.4,903.3 673.2,907.4 675.5,911.0 C677.8,914.6 680.2,917.6 681.6,920.1 C683.0,922.6 684.0,923.7 684.0,926.2 C684.0,928.8 683.3,932.4 681.6,935.4 C679.9,938.4 677.0,941.6 674.0,944.5 C671.0,947.4 666.2,951.6 663.3,953.0 C660.4,954.4 657.6,953.0 656.5,953.0 L656.5,953.0 L656.5,816.1 Z" fill="#2757A4" stroke="none"/>
<path d="M656.5,816.1 C656.5,821.0 656.2,838.1 656.5,845.2 C656.8,852.3 657.8,854.6 658.0,858.9 C658.2,863.2 657.1,867.1 657.5,871.2 C657.9,875.3 658.6,878.8 660.3,883.4 C662.0,888.0 665.4,894.1 667.9,898.7 C670.4,903.3 673.2,907.4 675.5,911.0 C677.8,914.6 680.2,917.6 681.6,920.1 C683.0,922.6 684.0,923.7 684.0,926.2 C684.0,928.8 683.3,932.4 681.6,935.4 C679.9,938.4 677.0,941.6 674.0,944.5 C671.0,947.4 666.2,951.6 663.3,953.0 C660.4,954.4 657.6,953.0 656.5,953.0" fill="none" stroke="#1a1a1a" stroke-width="0.75"/>
<path d="M550.7 932.0h0M545.9 943.4h0M549.8 912.1h0M550.3 941.9h0M548.4 882.4h0M569.7 896.3h0M542.0 934.6h0M571.7 903.4h0M558.9 886.0h0M536.9 862.8h0M553.0 938.4h0M552.6 902.2h0M571.1 904.6h0M558.6 926.3h0M537.7 910.0h0M544.3 918.7h0M563.9 895.8h0M597.2 915.1h0M548.7 926.0h0M550.6 917.4h0M549.4 925.0h0M547.5 926.1h0M548.1 938.4h0M598.7 899.4h0M542.9 925.3h0M539.4 931.0h0M591.6 908.5h0M545.1 914.5h0M568.6 928.8h0M536.0 919.0h0M557.4 924.6h0M573.1 913.7h0M526.0 937.1h0M554.6 905.1h0M555.7 907.4h0M540.3 929.5h0M558.1 929.1h0M539.3 891.9h0M548.2 916.2h0M544.2 944.1h0M558.9 921.2h0M542.5 930.6h0M559.3 906.1h0M552.5 927.7h0M545.8 938.7h0M556.6 893.6h0M530.8 951.8h0M572.9 938.7h0M572.6 924.8h0M545.8 935.2h0M529.1 935.4h0M554.4 923.3h0M553.6 903.3h0M543.7 947.9h0M537.6 859.0h0M536.7 920.0h0M550.4 937.3h0M566.6 928.0h0M556.1 930.5h0M559.2 949.8h0M558.1 913.3h0M557.1 939.6h0M557.7 930.8h0M549.5 942.0h0M561.8 930.3h0M556.0 921.9h0M544.8 945.4h0M559.4 888.0h0M551.2 943.4h0M568.6 925.9h0M578.7 912.6h0M567.7 904.5h0M545.9 923.7h0M525.2 934.2h0M563.3 909.4h0M549.4 918.8h0M558.4 937.5h0M576.3 900.9h0M575.5 926.1h0M568.0 936.9h0M527.5 935.6h0M552.6 932.8h0M564.0 914.6h0M545.0 922.8h0M544.4 937.7h0M556.3 917.2h0M533.5 933.4h0M541.3 949.2h0M553.2 891.9h0M556.4 923.1h0M591.9 911.8h0M552.1 908.1h0M544.2 947.1h0M579.4 925.7h0M553.5 905.7h0M582.0 943.2h0M562.8 934.7h0M557.2 887.2h0M561.7 908.6h0M551.7 940.5h0M551.8 924.0h0M560.0 906.3h0M549.8 938.4h0M575.4 914.2h0M567.5 911.3h0M536.3 931.1h0M568.4 883.4h0M594.9 904.6h0M549.4 928.8h0M555.8 918.9h0M563.0 926.9h0M560.8 934.5h0M556.8 926.5h0M542.5 938.9h0M551.1 885.7h0M540.5 885.3h0M566.4 925.4h0M569.7 951.5h0M568.5 924.4h0M548.2 913.8h0M558.4 932.2h0M546.9 914.1h0M546.3 915.4h0M553.3 934.1h0M560.4 925.2h0M567.4 934.6h0M556.3 929.5h0M545.1 943.7h0M578.2 922.8h0M560.2 888.9h0M578.6 918.6h0M577.5 888.5h0M562.4 913.2h0M543.7 947.7h0M567.6 919.4h0M553.6 931.4h0M589.8 931.7h0M564.9 926.9h0M541.6 905.4h0M540.2 906.2h0M553.9 930.5h0M592.9 921.7h0M561.0 921.3h0M561.2 913.5h0M570.8 886.8h0M538.2 939.0h0M572.2 932.1h0M547.9 927.2h0M586.6 942.8h0M541.2 931.5h0M568.1 908.4h0M551.6 949.1h0M538.2 914.2h0M556.7 932.8h0M548.0 929.9h0M561.7 925.5h0M555.2 925.5h0M588.4 909.9h0M560.4 931.0h0M544.8 950.7h0M573.4 895.8h0M555.6 925.0h0M546.1 917.7h0M563.3 914.6h0M571.8 888.8h0M551.5 925.1h0M567.9 926.9h0M545.8 860.6h0M570.1 882.3h0M526.8 919.4h0M567.0 891.9h0M557.9 891.7h0M552.4 950.2h0M561.6 929.7h0M563.6 916.4h0M543.5 917.2h0M540.3 939.4h0M545.8 924.9h0M553.6 939.9h0M537.6 935.1h0M562.0 947.6h0M554.9 931.0h0M574.7 876.4h0M516.8 950.1h0M542.4 917.7h0M585.7 933.9h0M542.9 943.8h0M555.0 864.5h0M542.9 941.9h0M566.1 920.7h0M543.6 935.3h0M565.7 951.6h0M545.9 930.9h0M541.8 917.5h0M595.7 931.3h0M539.0 947.1h0M567.8 933.1h0M552.5 915.8h0M557.7 937.2h0M562.5 903.3h0M569.5 902.7h0M566.4 945.8h0M551.4 944.8h0M557.8 923.8h0M571.1 932.9h0M512.3 927.2h0M549.8 901.7h0M551.9 935.0h0M532.4 913.9h0M574.5 898.7h0M579.5 910.3h0M544.2 907.0h0M549.1 931.6h0M552.2 916.4h0M552.9 933.9h0M558.4 935.7h0M556.4 887.2h0M577.0 866.9h0M579.8 906.0h0M577.7 886.2h0M541.3 933.5h0M538.8 938.8h0M547.5 914.2h0M576.2 874.8h0M573.9 912.3h0M552.3 919.8h0M565.1 916.9h0M564.1 933.1h0M535.3 950.8h0M542.6 925.9h0M572.3 937.4h0M542.0 895.0h0M559.5 916.5h0M549.2 913.0h0M549.7 908.5h0M559.6 937.4h0M530.1 946.6h0M553.6 893.1h0M565.3 907.7h0M542.9 926.0h0M540.6 914.0h0M545.6 950.7h0M556.8 899.4h0M564.8 914.0h0M559.1 911.5h0M523.2 922.6h0M552.6 875.5h0M558.9 905.6h0M575.2 914.0h0M562.0 933.3h0M560.9 854.5h0M580.9 943.0h0M576.8 917.4h0M519.4 939.7h0M570.6 932.8h0M547.3 937.7h0M551.6 928.5h0M562.7 941.9h0M573.3 925.6h0M569.8 915.5h0M555.5 948.1h0M574.3 921.4h0M547.7 929.0h0M569.0 925.4h0M558.3 929.5h0M561.9 927.6h0M564.4 932.3h0M553.9 939.7h0M547.9 918.9h0M554.1 925.7h0M566.8 918.8h0M545.9 897.5h0M554.5 899.7h0M581.3 919.6h0M536.6 895.8h0M518.6 936.3h0M525.5 913.0h0M551.0 947.8h0M554.5 884.7h0M547.1 927.8h0M569.5 929.1h0M535.2 942.6h0M544.0 952.2h0M540.6 946.3h0M555.4 934.7h0M574.2 878.7h0M571.8 914.0h0M571.5 923.5h0M556.9 897.8h0M583.6 901.7h0M549.6 935.6h0M552.3 937.9h0M539.9 950.0h0M564.8 921.6h0M570.8 947.7h0M551.3 908.7h0M555.6 946.1h0M528.0 933.4h0M546.3 906.9h0M559.1 934.6h0M532.6 933.8h0M544.7 887.1h0M521.5 941.9h0M532.9 914.1h0M560.2 901.5h0M556.7 947.4h0M550.6 918.9h0M563.6 939.2h0M546.2 922.8h0M535.4 926.1h0M552.1 900.0h0M555.3 923.1h0M557.7 918.2h0M530.8 926.5h0M546.9 872.2h0M565.1 910.0h0M545.2 884.9h0M573.6 925.3h0M538.2 942.6h0M547.1 912.2h0M549.3 937.0h0M550.6 919.2h0M562.5 919.1h0M556.1 866.2h0M583.5 861.6h0M560.6 860.3h0M565.8 899.4h0M562.7 920.3h0M549.1 926.5h0M531.2 891.0h0M549.3 941.4h0M554.9 930.0h0M556.4 936.5h0M564.5 892.5h0M557.3 921.0h0M560.7 899.0h0M554.6 893.2h0M550.4 854.4h0M550.4 904.7h0M566.5 949.1h0M558.6 948.5h0M562.9 921.6h0M533.3 900.4h0M571.7 930.3h0M532.9 936.1h0M554.7 943.1h0M555.2 931.9h0M563.3 911.6h0M543.1 928.3h0M538.4 926.2h0M534.9 913.9h0M528.7 935.8h0M548.2 937.2h0M564.8 951.5h0M582.2 931.0h0M559.8 894.1h0M561.0 940.3h0M565.3 929.5h0M554.0 938.2h0M576.6 914.5h0M550.9 914.3h0M555.1 936.0h0M554.0 938.2h0M567.7 905.8h0M536.7 949.4h0M544.3 923.1h0M557.8 935.2h0M561.9 924.3h0M547.3 911.7h0M551.0 912.2h0M565.4 897.6h0M564.9 930.8h0M570.7 916.3h0M548.9 937.9h0M534.0 945.8h0M522.9 940.9h0M547.9 920.8h0M572.6 913.9h0M567.2 919.3h0M548.5 942.0h0M546.4 927.0h0M556.8 914.8h0M552.8 884.2h0M532.3 938.5h0M563.2 897.9h0M550.0 923.7h0M550.3 853.7h0M568.8 899.4h0M575.7 864.4h0M565.3 898.8h0M535.8 942.1h0M569.7 930.2h0M559.2 918.8h0M551.8 938.9h0M548.5 917.9h0M609.8 946.5h0M612.0 949.1h0M614.0 859.3h0M629.4 815.9h0M647.6 925.8h0" stroke="#C01C24" stroke-width="3.5" stroke-linecap="round" fill="none"/>
<path d="M509.0,928.7 L516.0,927.4 L522.9,926.0 L529.9,924.6 L536.8,923.1 L543.8,921.6 L550.7,919.9 L557.7,918.0 L564.6,915.9 L571.6,913.5 L578.5,911.1 L585.5,908.5 L592.5,905.9 L599.4,903.3 L606.4,900.6 L613.3,897.9 L620.3,895.2 L627.2,892.4 L634.2,889.7 L641.1,886.9 L648.1,884.2 L648.1,905.0 L641.1,906.3 L634.2,907.5 L627.2,908.8 L620.3,910.1 L613.3,911.4 L606.4,912.7 L599.4,914.0 L592.5,915.4 L585.5,916.7 L578.5,918.2 L571.6,919.8 L564.6,921.5 L557.7,923.4 L550.7,925.5 L543.8,927.8 L536.8,930.2 L529.9,932.8 L522.9,935.4 L516.0,938.0 L509.0,940.7 Z" fill="#C8C8C8" fill-opacity="0.4"/>
<line x1="509" y1="934.7" x2="648.1" y2="894.6" stroke="#111" stroke-width="1"/>
<path d="M502.2,809.3 V959.6 H654.6" fill="none" stroke="#555" stroke-width="1.05"/>
<line x1="508.4" y1="959.6" x2="508.4" y2="961.8000000000001" stroke="#555" stroke-width="1"/>
<text x="508.4" y="969.9" class="tk" text-anchor="middle">−1</text>
<line x1="536.4" y1="959.6" x2="536.4" y2="961.8000000000001" stroke="#555" stroke-width="1"/>
<text x="536.4" y="969.9" class="tk" text-anchor="middle">0</text>
<line x1="564.4" y1="959.6" x2="564.4" y2="961.8000000000001" stroke="#555" stroke-width="1"/>
<text x="564.4" y="969.9" class="tk" text-anchor="middle">1</text>
<line x1="592.4" y1="959.6" x2="592.4" y2="961.8000000000001" stroke="#555" stroke-width="1"/>
<text x="592.4" y="969.9" class="tk" text-anchor="middle">2</text>
<line x1="620.4" y1="959.6" x2="620.4" y2="961.8000000000001" stroke="#555" stroke-width="1"/>
<text x="620.4" y="969.9" class="tk" text-anchor="middle">3</text>
<line x1="648.4" y1="959.6" x2="648.4" y2="961.8000000000001" stroke="#555" stroke-width="1"/>
<text x="648.4" y="969.9" class="tk" text-anchor="middle">4</text>
<line x1="500.0" y1="956.6" x2="502.2" y2="956.6" stroke="#555" stroke-width="1"/>
<text x="497.9" y="959.5" class="tk" text-anchor="end">0</text>
<line x1="500.0" y1="924.2" x2="502.2" y2="924.2" stroke="#555" stroke-width="1"/>
<text x="497.9" y="927.0" class="tk" text-anchor="end">1</text>
<line x1="500.0" y1="891.8" x2="502.2" y2="891.8" stroke="#555" stroke-width="1"/>
<text x="497.9" y="894.6" class="tk" text-anchor="end">2</text>
<line x1="500.0" y1="859.3" x2="502.2" y2="859.3" stroke="#555" stroke-width="1"/>
<text x="497.9" y="862.2" class="tk" text-anchor="end">3</text>
<line x1="500.0" y1="826.9" x2="502.2" y2="826.9" stroke="#555" stroke-width="1"/>
<text x="497.9" y="829.8" class="tk" text-anchor="end">4</text>
<text x="576.8" y="980.3" class="at" text-anchor="middle">ZNF score</text>
<text transform="translate(489.3,884.4) rotate(-90)" class="at" text-anchor="middle">IL15</text>
<text x="509.6" y="828.1" class="rt"><tspan font-style="italic">R</tspan><tspan x="520.0">=</tspan><tspan x="528.6">0.25, </tspan><tspan font-style="italic">p</tspan> = 3e−07</text>
<text transform="translate(28.53,19.40) scale(0.946,1.029)" class="lt">A</text>
<text transform="translate(273.24,19.20) scale(0.877,1.008)" class="lt">B</text>
<text transform="translate(487.52,18.91) scale(1.101,1.014)" class="lt">C</text>
<text transform="translate(27.02,271.90) scale(1.008,1.013)" class="lt">D</text>
<text transform="translate(273.06,271.90) scale(0.969,0.997)" class="lt">E</text>
<text transform="translate(493.10,271.90) scale(0.922,1.013)" class="lt">F</text>
<text transform="translate(27.02,518.91) scale(1.019,1.009)" class="lt">G</text>
<text transform="translate(266.35,518.90) scale(1.097,0.987)" class="lt">H</text>
<text transform="translate(497.88,519.00) scale(1.048,0.997)" class="lt">I</text>
<text transform="translate(39.65,776.55) scale(0.778,1.202)" class="lt">J</text>
<text transform="translate(270.21,772.80) scale(0.913,1.003)" class="lt">K</text>
<text transform="translate(492.14,772.60) scale(0.988,1.003)" class="lt">L</text>
<g shape-rendering="crispEdges"><path fill="#FF0000" d="M70.20 89.00h5.57v5.57h-5.57zM75.77 94.56h5.57v5.57h-5.57zM81.33 100.13h5.57v5.57h-5.57zM86.90 105.69h5.57v5.57h-5.57zM92.46 111.26h5.57v5.57h-5.57zM98.03 116.83h5.57v5.57h-5.57zM103.59 122.39h5.57v5.57h-5.57zM109.16 127.96h5.57v5.57h-5.57zM114.72 133.52h5.57v5.57h-5.57zM120.28 139.09h5.57v5.57h-5.57zM125.85 144.65h5.57v5.57h-5.57zM131.42 150.22h5.57v5.57h-5.57zM136.98 155.78h5.57v5.57h-5.57zM142.55 161.34h5.57v5.57h-5.57zM148.11 166.91h5.57v5.57h-5.57zM153.68 172.48h5.57v5.57h-5.57zM159.24 178.04h5.57v5.57h-5.57zM164.81 183.61h5.57v5.57h-5.57zM170.37 189.17h5.57v5.57h-5.57zM175.94 194.74h5.57v5.57h-5.57zM181.50 200.30h5.57v5.57h-5.57zM187.06 205.87h5.57v5.57h-5.57zM192.63 211.43h5.57v5.57h-5.57z"/><path fill="#BCBCFF" d="M75.77 89.00h5.57v5.57h-5.57zM153.68 89.00h5.57v5.57h-5.57zM114.72 116.83h5.57v5.57h-5.57zM170.37 161.34h5.57v5.57h-5.57zM175.94 166.91h5.57v5.57h-5.57z"/><path fill="#FF8C8C" d="M81.33 89.00h5.57v5.57h-5.57z"/><path fill="#DFDFFF" d="M86.90 89.00h5.57v5.57h-5.57zM159.24 89.00h5.57v5.57h-5.57zM81.33 94.56h5.57v5.57h-5.57zM86.90 94.56h5.57v5.57h-5.57zM153.68 100.13h5.57v5.57h-5.57zM175.94 100.13h5.57v5.57h-5.57zM120.28 105.69h5.57v5.57h-5.57zM159.24 127.96h5.57v5.57h-5.57zM175.94 133.52h5.57v5.57h-5.57z"/><path fill="#FFF5F5" d="M92.46 89.00h5.57v5.57h-5.57zM109.16 94.56h5.57v5.57h-5.57zM86.90 100.13h5.57v5.57h-5.57zM120.28 111.26h5.57v5.57h-5.57zM125.85 111.26h5.57v5.57h-5.57zM142.55 111.26h5.57v5.57h-5.57zM148.11 111.26h5.57v5.57h-5.57zM125.85 116.83h5.57v5.57h-5.57zM170.37 116.83h5.57v5.57h-5.57zM181.50 122.39h5.57v5.57h-5.57zM148.11 155.78h5.57v5.57h-5.57zM170.37 172.48h5.57v5.57h-5.57z"/><path fill="#FFE6E6" d="M98.03 89.00h5.57v5.57h-5.57zM136.98 94.56h5.57v5.57h-5.57zM131.42 111.26h5.57v5.57h-5.57zM181.50 116.83h5.57v5.57h-5.57zM159.24 150.22h5.57v5.57h-5.57zM153.68 155.78h5.57v5.57h-5.57zM159.24 155.78h5.57v5.57h-5.57zM159.24 172.48h5.57v5.57h-5.57zM192.63 200.30h5.57v5.57h-5.57z"/><path fill="#E4E4FF" d="M103.59 89.00h5.57v5.57h-5.57zM120.28 89.00h5.57v5.57h-5.57zM125.85 89.00h5.57v5.57h-5.57zM131.42 89.00h5.57v5.57h-5.57zM136.98 89.00h5.57v5.57h-5.57zM164.81 89.00h5.57v5.57h-5.57zM120.28 100.13h5.57v5.57h-5.57zM125.85 100.13h5.57v5.57h-5.57zM98.03 111.26h5.57v5.57h-5.57zM120.28 133.52h5.57v5.57h-5.57zM125.85 133.52h5.57v5.57h-5.57zM136.98 139.09h5.57v5.57h-5.57zM153.68 161.34h5.57v5.57h-5.57zM181.50 161.34h5.57v5.57h-5.57zM187.06 172.48h5.57v5.57h-5.57zM192.63 189.17h5.57v5.57h-5.57z"/><path fill="#F3F3FF" d="M109.16 89.00h5.57v5.57h-5.57zM148.11 89.00h5.57v5.57h-5.57zM109.16 100.13h5.57v5.57h-5.57zM170.37 100.13h5.57v5.57h-5.57zM192.63 100.13h5.57v5.57h-5.57zM103.59 111.26h5.57v5.57h-5.57zM181.50 133.52h5.57v5.57h-5.57zM159.24 144.65h5.57v5.57h-5.57zM164.81 150.22h5.57v5.57h-5.57zM187.06 155.78h5.57v5.57h-5.57zM181.50 189.17h5.57v5.57h-5.57zM181.50 194.74h5.57v5.57h-5.57z"/><path fill="#D3D3FF" d="M114.72 89.00h5.57v5.57h-5.57zM164.81 100.13h5.57v5.57h-5.57zM131.42 122.39h5.57v5.57h-5.57zM175.94 127.96h5.57v5.57h-5.57zM142.55 150.22h5.57v5.57h-5.57zM142.55 155.78h5.57v5.57h-5.57zM187.06 189.17h5.57v5.57h-5.57z"/><path fill="#C7C7FF" d="M142.55 89.00h5.57v5.57h-5.57zM98.03 100.13h5.57v5.57h-5.57zM142.55 100.13h5.57v5.57h-5.57zM153.68 105.69h5.57v5.57h-5.57zM187.06 105.69h5.57v5.57h-5.57zM109.16 116.83h5.57v5.57h-5.57zM170.37 127.96h5.57v5.57h-5.57zM164.81 178.04h5.57v5.57h-5.57z"/><path fill="#FFFFFF" d="M170.37 89.00h5.57v5.57h-5.57zM92.46 94.56h5.57v5.57h-5.57zM103.59 94.56h5.57v5.57h-5.57zM159.24 94.56h5.57v5.57h-5.57zM92.46 100.13h5.57v5.57h-5.57zM148.11 100.13h5.57v5.57h-5.57zM181.50 100.13h5.57v5.57h-5.57zM187.06 100.13h5.57v5.57h-5.57zM92.46 105.69h5.57v5.57h-5.57zM131.42 105.69h5.57v5.57h-5.57zM136.98 105.69h5.57v5.57h-5.57zM181.50 105.69h5.57v5.57h-5.57zM159.24 111.26h5.57v5.57h-5.57zM164.81 111.26h5.57v5.57h-5.57zM175.94 111.26h5.57v5.57h-5.57zM181.50 111.26h5.57v5.57h-5.57zM187.06 111.26h5.57v5.57h-5.57zM192.63 111.26h5.57v5.57h-5.57zM153.68 116.83h5.57v5.57h-5.57zM136.98 122.39h5.57v5.57h-5.57zM136.98 127.96h5.57v5.57h-5.57zM142.55 133.52h5.57v5.57h-5.57zM153.68 133.52h5.57v5.57h-5.57zM187.06 133.52h5.57v5.57h-5.57zM131.42 139.09h5.57v5.57h-5.57zM142.55 139.09h5.57v5.57h-5.57zM153.68 139.09h5.57v5.57h-5.57zM159.24 139.09h5.57v5.57h-5.57zM181.50 139.09h5.57v5.57h-5.57zM142.55 144.65h5.57v5.57h-5.57zM170.37 166.91h5.57v5.57h-5.57zM181.50 166.91h5.57v5.57h-5.57z"/><path fill="#CCCCFF" d="M175.94 89.00h5.57v5.57h-5.57z"/><path fill="#FFE9E9" d="M181.50 89.00h5.57v5.57h-5.57zM175.94 94.56h5.57v5.57h-5.57zM187.06 94.56h5.57v5.57h-5.57zM170.37 111.26h5.57v5.57h-5.57zM192.63 122.39h5.57v5.57h-5.57zM170.37 133.52h5.57v5.57h-5.57zM164.81 139.09h5.57v5.57h-5.57zM136.98 144.65h5.57v5.57h-5.57zM181.50 144.65h5.57v5.57h-5.57zM192.63 144.65h5.57v5.57h-5.57zM136.98 150.22h5.57v5.57h-5.57zM192.63 155.78h5.57v5.57h-5.57zM164.81 161.34h5.57v5.57h-5.57zM175.94 178.04h5.57v5.57h-5.57zM170.37 183.61h5.57v5.57h-5.57zM192.63 205.87h5.57v5.57h-5.57z"/><path fill="#FFEDED" d="M187.06 89.00h5.57v5.57h-5.57zM125.85 94.56h5.57v5.57h-5.57zM187.06 150.22h5.57v5.57h-5.57zM187.06 183.61h5.57v5.57h-5.57zM192.63 194.74h5.57v5.57h-5.57z"/><path fill="#EAEAFF" d="M192.63 89.00h5.57v5.57h-5.57zM159.24 105.69h5.57v5.57h-5.57zM192.63 105.69h5.57v5.57h-5.57zM187.06 166.91h5.57v5.57h-5.57zM192.63 178.04h5.57v5.57h-5.57z"/><path fill="#F0F0FF" d="M98.03 94.56h5.57v5.57h-5.57zM148.11 94.56h5.57v5.57h-5.57zM153.68 150.22h5.57v5.57h-5.57zM187.06 200.30h5.57v5.57h-5.57z"/><path fill="#DADAFF" d="M114.72 94.56h5.57v5.57h-5.57zM148.11 116.83h5.57v5.57h-5.57zM175.94 122.39h5.57v5.57h-5.57zM187.06 122.39h5.57v5.57h-5.57zM131.42 127.96h5.57v5.57h-5.57zM153.68 127.96h5.57v5.57h-5.57zM175.94 150.22h5.57v5.57h-5.57zM159.24 161.34h5.57v5.57h-5.57zM164.81 172.48h5.57v5.57h-5.57zM175.94 172.48h5.57v5.57h-5.57z"/><path fill="#FFD9D9" d="M120.28 94.56h5.57v5.57h-5.57zM142.55 94.56h5.57v5.57h-5.57zM114.72 105.69h5.57v5.57h-5.57zM164.81 155.78h5.57v5.57h-5.57z"/><path fill="#FFF1F1" d="M131.42 94.56h5.57v5.57h-5.57zM159.24 100.13h5.57v5.57h-5.57zM114.72 111.26h5.57v5.57h-5.57zM159.24 116.83h5.57v5.57h-5.57zM159.24 133.52h5.57v5.57h-5.57zM192.63 139.09h5.57v5.57h-5.57zM187.06 144.65h5.57v5.57h-5.57zM170.37 155.78h5.57v5.57h-5.57zM175.94 155.78h5.57v5.57h-5.57zM187.06 161.34h5.57v5.57h-5.57zM159.24 166.91h5.57v5.57h-5.57z"/><path fill="#F6F6FF" d="M153.68 94.56h5.57v5.57h-5.57zM103.59 100.13h5.57v5.57h-5.57zM114.72 100.13h5.57v5.57h-5.57zM125.85 105.69h5.57v5.57h-5.57zM170.37 105.69h5.57v5.57h-5.57zM109.16 111.26h5.57v5.57h-5.57zM153.68 111.26h5.57v5.57h-5.57zM153.68 144.65h5.57v5.57h-5.57zM170.37 178.04h5.57v5.57h-5.57z"/><path fill="#FFB0B0" d="M164.81 94.56h5.57v5.57h-5.57zM109.16 122.39h5.57v5.57h-5.57zM175.94 161.34h5.57v5.57h-5.57zM187.06 178.04h5.57v5.57h-5.57zM192.63 183.61h5.57v5.57h-5.57zM187.06 194.74h5.57v5.57h-5.57z"/><path fill="#FFB8B8" d="M170.37 94.56h5.57v5.57h-5.57z"/><path fill="#FFDFDF" d="M181.50 94.56h5.57v5.57h-5.57zM192.63 94.56h5.57v5.57h-5.57zM164.81 116.83h5.57v5.57h-5.57zM175.94 116.83h5.57v5.57h-5.57zM187.06 116.83h5.57v5.57h-5.57zM192.63 116.83h5.57v5.57h-5.57zM120.28 122.39h5.57v5.57h-5.57zM125.85 122.39h5.57v5.57h-5.57zM120.28 127.96h5.57v5.57h-5.57zM125.85 127.96h5.57v5.57h-5.57zM181.50 127.96h5.57v5.57h-5.57zM148.11 139.09h5.57v5.57h-5.57zM164.81 144.65h5.57v5.57h-5.57zM175.94 144.65h5.57v5.57h-5.57zM181.50 178.04h5.57v5.57h-5.57zM181.50 183.61h5.57v5.57h-5.57z"/><path fill="#E7E7FF" d="M131.42 100.13h5.57v5.57h-5.57z"/><path fill="#EDEDFF" d="M136.98 100.13h5.57v5.57h-5.57zM120.28 116.83h5.57v5.57h-5.57zM131.42 116.83h5.57v5.57h-5.57zM142.55 116.83h5.57v5.57h-5.57zM153.68 122.39h5.57v5.57h-5.57zM159.24 122.39h5.57v5.57h-5.57zM170.37 122.39h5.57v5.57h-5.57zM136.98 133.52h5.57v5.57h-5.57zM148.11 133.52h5.57v5.57h-5.57zM125.85 139.09h5.57v5.57h-5.57zM175.94 139.09h5.57v5.57h-5.57zM187.06 139.09h5.57v5.57h-5.57zM148.11 144.65h5.57v5.57h-5.57zM170.37 144.65h5.57v5.57h-5.57zM148.11 150.22h5.57v5.57h-5.57zM181.50 150.22h5.57v5.57h-5.57zM192.63 161.34h5.57v5.57h-5.57z"/><path fill="#8181FF" d="M98.03 105.69h5.57v5.57h-5.57zM142.55 105.69h5.57v5.57h-5.57z"/><path fill="#FF8181" d="M103.59 105.69h5.57v5.57h-5.57z"/><path fill="#FF9898" d="M109.16 105.69h5.57v5.57h-5.57zM148.11 105.69h5.57v5.57h-5.57zM170.37 150.22h5.57v5.57h-5.57z"/><path fill="#B2B2FF" d="M164.81 105.69h5.57v5.57h-5.57zM103.59 116.83h5.57v5.57h-5.57zM114.72 122.39h5.57v5.57h-5.57zM114.72 127.96h5.57v5.57h-5.57zM164.81 133.52h5.57v5.57h-5.57zM131.42 144.65h5.57v5.57h-5.57zM148.11 161.34h5.57v5.57h-5.57zM164.81 166.91h5.57v5.57h-5.57z"/><path fill="#C3C3FF" d="M175.94 105.69h5.57v5.57h-5.57zM164.81 122.39h5.57v5.57h-5.57zM192.63 150.22h5.57v5.57h-5.57z"/><path fill="#FFD3D3" d="M136.98 111.26h5.57v5.57h-5.57zM164.81 127.96h5.57v5.57h-5.57zM153.68 166.91h5.57v5.57h-5.57z"/><path fill="#FFCBCB" d="M136.98 116.83h5.57v5.57h-5.57zM192.63 127.96h5.57v5.57h-5.57zM131.42 133.52h5.57v5.57h-5.57zM192.63 166.91h5.57v5.57h-5.57z"/><path fill="#A8A8FF" d="M142.55 122.39h5.57v5.57h-5.57zM187.06 127.96h5.57v5.57h-5.57zM175.94 189.17h5.57v5.57h-5.57z"/><path fill="#FFA4A4" d="M148.11 122.39h5.57v5.57h-5.57zM148.11 127.96h5.57v5.57h-5.57z"/><path fill="#9494FF" d="M142.55 127.96h5.57v5.57h-5.57z"/><path fill="#8B8BFF" d="M192.63 133.52h5.57v5.57h-5.57z"/><path fill="#FFBDBD" d="M170.37 139.09h5.57v5.57h-5.57zM181.50 155.78h5.57v5.57h-5.57zM192.63 172.48h5.57v5.57h-5.57zM175.94 183.61h5.57v5.57h-5.57z"/><path fill="#FFF9F9" d="M181.50 172.48h5.57v5.57h-5.57z"/></g>
<g fill="#2a2a2a"><path fill-opacity="0.6" d="M71.81 91.03h2.34v0.95h-2.34zM77.38 91.03h2.34v0.95h-2.34zM82.94 91.03h2.34v0.95h-2.34zM155.29 91.03h2.34v0.95h-2.34zM77.38 96.60h2.34v0.95h-2.34zM166.42 96.60h2.34v0.95h-2.34zM171.98 96.60h2.34v0.95h-2.34zM82.94 102.16h2.34v0.95h-2.34zM88.51 107.73h2.34v0.95h-2.34zM99.64 107.73h2.34v0.95h-2.34zM105.20 107.73h2.34v0.95h-2.34zM110.77 107.73h2.34v0.95h-2.34zM144.16 107.73h2.34v0.95h-2.34zM149.72 107.73h2.34v0.95h-2.34zM166.42 107.73h2.34v0.95h-2.34zM177.55 107.73h2.34v0.95h-2.34zM94.07 113.29h2.34v0.95h-2.34zM99.64 118.86h2.34v0.95h-2.34zM105.20 118.86h2.34v0.95h-2.34zM116.33 118.86h2.34v0.95h-2.34zM105.20 124.42h2.34v0.95h-2.34zM110.77 124.42h2.34v0.95h-2.34zM116.33 124.42h2.34v0.95h-2.34zM144.16 124.42h2.34v0.95h-2.34zM149.72 124.42h2.34v0.95h-2.34zM166.42 124.42h2.34v0.95h-2.34zM110.77 129.99h2.34v0.95h-2.34zM116.33 129.99h2.34v0.95h-2.34zM144.16 129.99h2.34v0.95h-2.34zM149.72 129.99h2.34v0.95h-2.34zM188.68 129.99h2.34v0.95h-2.34zM116.33 135.55h2.34v0.95h-2.34zM166.42 135.55h2.34v0.95h-2.34zM194.24 135.55h2.34v0.95h-2.34zM121.90 141.12h2.34v0.95h-2.34zM171.98 141.12h2.34v0.95h-2.34zM127.46 146.68h2.34v0.95h-2.34zM133.03 146.68h2.34v0.95h-2.34zM133.03 152.25h2.34v0.95h-2.34zM171.98 152.25h2.34v0.95h-2.34zM138.59 157.81h2.34v0.95h-2.34zM183.11 157.81h2.34v0.95h-2.34zM144.16 163.38h2.34v0.95h-2.34zM149.72 163.38h2.34v0.95h-2.34zM171.98 163.38h2.34v0.95h-2.34zM177.55 163.38h2.34v0.95h-2.34zM149.72 168.94h2.34v0.95h-2.34zM166.42 168.94h2.34v0.95h-2.34zM177.55 168.94h2.34v0.95h-2.34zM155.29 174.51h2.34v0.95h-2.34zM160.85 180.07h2.34v0.95h-2.34zM188.68 180.07h2.34v0.95h-2.34zM166.42 185.64h2.34v0.95h-2.34zM177.55 185.64h2.34v0.95h-2.34zM194.24 185.64h2.34v0.95h-2.34zM171.98 191.20h2.34v0.95h-2.34zM177.55 191.20h2.34v0.95h-2.34zM177.55 196.77h2.34v0.95h-2.34zM188.68 196.77h2.34v0.95h-2.34zM183.11 202.33h2.34v0.95h-2.34zM188.68 207.90h2.34v0.95h-2.34zM194.24 213.46h2.34v0.95h-2.34z"/><path fill-opacity="0.3" d="M116.33 91.03h2.34v0.95h-2.34zM144.16 91.03h2.34v0.95h-2.34zM177.55 91.03h2.34v0.95h-2.34zM99.64 102.16h2.34v0.95h-2.34zM144.16 102.16h2.34v0.95h-2.34zM166.42 102.16h2.34v0.95h-2.34zM155.29 107.73h2.34v0.95h-2.34zM188.68 107.73h2.34v0.95h-2.34zM138.59 113.29h2.34v0.95h-2.34zM110.77 118.86h2.34v0.95h-2.34zM138.59 118.86h2.34v0.95h-2.34zM133.03 124.42h2.34v0.95h-2.34zM166.42 129.99h2.34v0.95h-2.34zM171.98 129.99h2.34v0.95h-2.34zM177.55 129.99h2.34v0.95h-2.34zM133.03 135.55h2.34v0.95h-2.34zM144.16 152.25h2.34v0.95h-2.34zM144.16 157.81h2.34v0.95h-2.34zM155.29 168.94h2.34v0.95h-2.34zM166.42 180.07h2.34v0.95h-2.34zM188.68 191.20h2.34v0.95h-2.34z"/></g>
<text transform="translate(67.90,93.43) scale(0.1)" text-anchor="end" class="hl" font-size="47.0" font-weight="normal">B_cells_naive</text>
<text transform="translate(67.90,98.99) scale(0.1)" text-anchor="end" class="hl" font-size="47.0" font-weight="normal">B_cells_memory</text>
<text transform="translate(67.90,104.56) scale(0.1)" text-anchor="end" class="hl" font-size="47.0" font-weight="normal">Plasma_cells</text>
<text transform="translate(67.90,110.12) scale(0.1)" text-anchor="end" class="hl" font-size="47.0" font-weight="normal">T_cells_CD8</text>
<text transform="translate(67.90,115.69) scale(0.1)" text-anchor="end" class="hl" font-size="47.0" font-weight="normal">T_cells_CD4_naive</text>
<text transform="translate(67.90,121.25) scale(0.1)" text-anchor="end" class="hl" font-size="47.0" font-weight="normal">T_cells_CD4_memory_resting</text>
<text transform="translate(67.90,126.82) scale(0.1)" text-anchor="end" class="hl" font-size="47.0" font-weight="normal">T_cells_CD4_memory_activated</text>
<text transform="translate(67.90,132.38) scale(0.1)" text-anchor="end" class="hl" font-size="47.0" font-weight="normal">T_cells_follicular_helper</text>
<text transform="translate(67.90,137.95) scale(0.1)" text-anchor="end" class="hl" font-size="47.0" font-weight="normal">T_cells_regulatory_Tregs</text>
<text transform="translate(67.90,143.51) scale(0.1)" text-anchor="end" class="hl" font-size="47.0" font-weight="normal">T_cells_gamma_delta</text>
<text transform="translate(67.90,149.08) scale(0.1)" text-anchor="end" class="hl" font-size="47.0" font-weight="normal">NK_cells_resting</text>
<text transform="translate(67.90,154.64) scale(0.1)" text-anchor="end" class="hl" font-size="47.0" font-weight="normal">NK_cells_activated</text>
<text transform="translate(67.90,160.21) scale(0.1)" text-anchor="end" class="hl" font-size="47.0" font-weight="normal">Monocytes</text>
<text transform="translate(67.90,165.77) scale(0.1)" text-anchor="end" class="hl" font-size="47.0" font-weight="normal">Macrophages_M0</text>
<text transform="translate(67.90,171.34) scale(0.1)" text-anchor="end" class="hl" font-size="47.0" font-weight="normal">Macrophages_M1</text>
<text transform="translate(67.90,176.90) scale(0.1)" text-anchor="end" class="hl" font-size="47.0" font-weight="normal">Macrophages_M2</text>
<text transform="translate(67.90,182.47) scale(0.1)" text-anchor="end" class="hl" font-size="47.0" font-weight="normal">Dendritic_cells_resting</text>
<text transform="translate(67.90,188.03) scale(0.1)" text-anchor="end" class="hl" font-size="47.0" font-weight="normal">Dendritic_cells_activated</text>
<text transform="translate(67.90,193.60) scale(0.1)" text-anchor="end" class="hl" font-size="47.0" font-weight="normal">Mast_cells_resting</text>
<text transform="translate(67.90,199.16) scale(0.1)" text-anchor="end" class="hl" font-size="47.0" font-weight="normal">Mast_cells_activated</text>
<text transform="translate(67.90,204.73) scale(0.1)" text-anchor="end" class="hl" font-size="47.0" font-weight="normal">Eosinophils</text>
<text transform="translate(67.90,210.29) scale(0.1)" text-anchor="end" class="hl" font-size="47.0" font-weight="normal">Neutrophils</text>
<text transform="translate(67.90,215.86) scale(0.1)" text-anchor="end" class="hl" font-size="47.0" font-weight="normal">ZNF score</text>
<text transform="translate(72.38,87.40) rotate(-45) scale(0.1)" class="hl" font-size="47.0" font-weight="normal">B_cells_naive</text>
<text transform="translate(77.95,87.40) rotate(-45) scale(0.1)" class="hl" font-size="47.0" font-weight="normal">B_cells_memory</text>
<text transform="translate(83.51,87.40) rotate(-45) scale(0.1)" class="hl" font-size="47.0" font-weight="normal">Plasma_cells</text>
<text transform="translate(89.08,87.40) rotate(-45) scale(0.1)" class="hl" font-size="47.0" font-weight="normal">T_cells_CD8</text>
<text transform="translate(94.64,87.40) rotate(-45) scale(0.1)" class="hl" font-size="47.0" font-weight="normal">T_cells_CD4_naive</text>
<text transform="translate(100.21,87.40) rotate(-45) scale(0.1)" class="hl" font-size="47.0" font-weight="normal">T_cells_CD4_memory_resting</text>
<text transform="translate(105.77,87.40) rotate(-45) scale(0.1)" class="hl" font-size="47.0" font-weight="normal">T_cells_CD4_memory_activated</text>
<text transform="translate(111.34,87.40) rotate(-45) scale(0.1)" class="hl" font-size="47.0" font-weight="normal">T_cells_follicular_helper</text>
<text transform="translate(116.90,87.40) rotate(-45) scale(0.1)" class="hl" font-size="47.0" font-weight="normal">T_cells_regulatory_Tregs</text>
<text transform="translate(122.47,87.40) rotate(-45) scale(0.1)" class="hl" font-size="47.0" font-weight="normal">T_cells_gamma_delta</text>
<text transform="translate(128.03,87.40) rotate(-45) scale(0.1)" class="hl" font-size="47.0" font-weight="normal">NK_cells_resting</text>
<text transform="translate(133.60,87.40) rotate(-45) scale(0.1)" class="hl" font-size="47.0" font-weight="normal">NK_cells_activated</text>
<text transform="translate(139.16,87.40) rotate(-45) scale(0.1)" class="hl" font-size="47.0" font-weight="normal">Monocytes</text>
<text transform="translate(144.73,87.40) rotate(-45) scale(0.1)" class="hl" font-size="47.0" font-weight="normal">Macrophages_M0</text>
<text transform="translate(150.29,87.40) rotate(-45) scale(0.1)" class="hl" font-size="47.0" font-weight="normal">Macrophages_M1</text>
<text transform="translate(155.86,87.40) rotate(-45) scale(0.1)" class="hl" font-size="47.0" font-weight="normal">Macrophages_M2</text>
<text transform="translate(161.42,87.40) rotate(-45) scale(0.1)" class="hl" font-size="47.0" font-weight="normal">Dendritic_cells_resting</text>
<text transform="translate(166.99,87.40) rotate(-45) scale(0.1)" class="hl" font-size="47.0" font-weight="normal">Dendritic_cells_activated</text>
<text transform="translate(172.55,87.40) rotate(-45) scale(0.1)" class="hl" font-size="47.0" font-weight="normal">Mast_cells_resting</text>
<text transform="translate(178.12,87.40) rotate(-45) scale(0.1)" class="hl" font-size="47.0" font-weight="normal">Mast_cells_activated</text>
<text transform="translate(183.68,87.40) rotate(-45) scale(0.1)" class="hl" font-size="47.0" font-weight="normal">Eosinophils</text>
<text transform="translate(189.25,87.40) rotate(-45) scale(0.1)" class="hl" font-size="47.0" font-weight="normal">Neutrophils</text>
<text transform="translate(194.81,87.40) rotate(-45) scale(0.1)" class="hl" font-size="47.0" font-weight="normal">ZNF score</text>
<defs><linearGradient id="g7089" x1="0" y1="0" x2="0" y2="1"><stop offset="0.0" stop-color="#FF0000"/><stop offset="0.05" stop-color="#FF1515"/><stop offset="0.1" stop-color="#FF2A2A"/><stop offset="0.15" stop-color="#FF3F3F"/><stop offset="0.2" stop-color="#FF5656"/><stop offset="0.25" stop-color="#FF6D6D"/><stop offset="0.3" stop-color="#FF8484"/><stop offset="0.35" stop-color="#FF9E9E"/><stop offset="0.4" stop-color="#FFB9B9"/><stop offset="0.45" stop-color="#FFD7D7"/><stop offset="0.5" stop-color="#FFFFFF"/><stop offset="0.55" stop-color="#D7D7FF"/><stop offset="0.6" stop-color="#B9B9FF"/><stop offset="0.65" stop-color="#9E9EFF"/><stop offset="0.7" stop-color="#8484FF"/><stop offset="0.75" stop-color="#6D6DFF"/><stop offset="0.8" stop-color="#5656FF"/><stop offset="0.85" stop-color="#3F3FFF"/><stop offset="0.9" stop-color="#2A2AFF"/><stop offset="0.95" stop-color="#1515FF"/><stop offset="1.0" stop-color="#0000FF"/></linearGradient></defs>
<rect x="201.2" y="89.4" width="5.5" height="128.2" fill="url(#g7089)" stroke="#222" stroke-width="0.8"/>
<line x1="206.39999999999998" y1="89.40" x2="207.6" y2="89.40" stroke="#222" stroke-width="0.6"/>
<text transform="translate(212.20,91.09) scale(0.1)" class="hl" text-anchor="middle" font-size="47.0">1</text>
<line x1="206.39999999999998" y1="102.22" x2="207.6" y2="102.22" stroke="#222" stroke-width="0.6"/>
<text transform="translate(212.20,103.91) scale(0.1)" class="hl" text-anchor="middle" font-size="47.0">0.8</text>
<line x1="206.39999999999998" y1="115.04" x2="207.6" y2="115.04" stroke="#222" stroke-width="0.6"/>
<text transform="translate(212.20,116.73) scale(0.1)" class="hl" text-anchor="middle" font-size="47.0">0.6</text>
<line x1="206.39999999999998" y1="127.86" x2="207.6" y2="127.86" stroke="#222" stroke-width="0.6"/>
<text transform="translate(212.20,129.55) scale(0.1)" class="hl" text-anchor="middle" font-size="47.0">0.4</text>
<line x1="206.39999999999998" y1="140.68" x2="207.6" y2="140.68" stroke="#222" stroke-width="0.6"/>
<text transform="translate(212.20,142.37) scale(0.1)" class="hl" text-anchor="middle" font-size="47.0">0.2</text>
<line x1="206.39999999999998" y1="153.50" x2="207.6" y2="153.50" stroke="#222" stroke-width="0.6"/>
<text transform="translate(212.20,155.19) scale(0.1)" class="hl" text-anchor="middle" font-size="47.0">0</text>
<line x1="206.39999999999998" y1="166.32" x2="207.6" y2="166.32" stroke="#222" stroke-width="0.6"/>
<text transform="translate(212.20,168.01) scale(0.1)" class="hl" text-anchor="middle" font-size="47.0">−0.2</text>
<line x1="206.39999999999998" y1="179.14" x2="207.6" y2="179.14" stroke="#222" stroke-width="0.6"/>
<text transform="translate(212.20,180.83) scale(0.1)" class="hl" text-anchor="middle" font-size="47.0">−0.4</text>
<line x1="206.39999999999998" y1="191.96" x2="207.6" y2="191.96" stroke="#222" stroke-width="0.6"/>
<text transform="translate(212.20,193.65) scale(0.1)" class="hl" text-anchor="middle" font-size="47.0">−0.6</text>
<line x1="206.39999999999998" y1="204.78" x2="207.6" y2="204.78" stroke="#222" stroke-width="0.6"/>
<text transform="translate(212.20,206.47) scale(0.1)" class="hl" text-anchor="middle" font-size="47.0">−0.8</text>
<line x1="206.39999999999998" y1="217.60" x2="207.6" y2="217.60" stroke="#222" stroke-width="0.6"/>
<text transform="translate(212.20,219.29) scale(0.1)" class="hl" text-anchor="middle" font-size="47.0">−1</text>
<g shape-rendering="crispEdges"><path fill="#E8202A" d="M23.60 298.10h3.27v3.27h-3.27zM26.87 301.37h3.27v3.27h-3.27zM30.15 304.65h3.27v3.27h-3.27zM33.42 307.92h3.27v3.27h-3.27zM36.69 311.19h3.27v3.27h-3.27zM39.97 314.47h3.27v3.27h-3.27zM43.24 317.74h3.27v3.27h-3.27zM46.51 321.01h3.27v3.27h-3.27zM49.78 324.28h3.27v3.27h-3.27zM53.06 327.56h3.27v3.27h-3.27zM56.33 330.83h3.27v3.27h-3.27zM59.60 334.10h3.27v3.27h-3.27zM62.88 337.38h3.27v3.27h-3.27zM66.15 340.65h3.27v3.27h-3.27zM69.42 343.92h3.27v3.27h-3.27zM72.69 347.20h3.27v3.27h-3.27zM75.97 350.47h3.27v3.27h-3.27zM79.24 353.74h3.27v3.27h-3.27zM82.51 357.01h3.27v3.27h-3.27zM85.79 360.29h3.27v3.27h-3.27zM89.06 363.56h3.27v3.27h-3.27zM92.33 366.83h3.27v3.27h-3.27zM95.61 370.11h3.27v3.27h-3.27zM98.88 373.38h3.27v3.27h-3.27zM102.15 376.65h3.27v3.27h-3.27zM105.43 379.93h3.27v3.27h-3.27zM108.70 383.20h3.27v3.27h-3.27zM111.97 386.47h3.27v3.27h-3.27zM115.24 389.74h3.27v3.27h-3.27zM118.52 393.02h3.27v3.27h-3.27zM121.79 396.29h3.27v3.27h-3.27zM125.06 399.56h3.27v3.27h-3.27zM128.34 402.84h3.27v3.27h-3.27zM131.61 406.11h3.27v3.27h-3.27zM134.88 409.38h3.27v3.27h-3.27zM138.16 412.66h3.27v3.27h-3.27zM141.43 415.93h3.27v3.27h-3.27zM144.70 419.20h3.27v3.27h-3.27zM147.97 422.47h3.27v3.27h-3.27zM151.25 425.75h3.27v3.27h-3.27zM154.52 429.02h3.27v3.27h-3.27zM157.79 432.29h3.27v3.27h-3.27zM161.07 435.57h3.27v3.27h-3.27zM164.34 438.84h3.27v3.27h-3.27zM167.61 442.11h3.27v3.27h-3.27zM170.88 445.38h3.27v3.27h-3.27zM174.16 448.66h3.27v3.27h-3.27zM177.43 451.93h3.27v3.27h-3.27zM180.70 455.20h3.27v3.27h-3.27zM183.98 458.48h3.27v3.27h-3.27zM187.25 461.75h3.27v3.27h-3.27zM190.52 465.02h3.27v3.27h-3.27z"/><path fill="#F7AFB3" d="M26.87 298.10h3.27v3.27h-3.27zM30.15 298.10h3.27v3.27h-3.27zM30.15 301.37h3.27v3.27h-3.27zM36.69 301.37h3.27v3.27h-3.27zM59.60 301.37h3.27v3.27h-3.27zM161.07 301.37h3.27v3.27h-3.27zM33.42 304.65h3.27v3.27h-3.27zM36.69 304.65h3.27v3.27h-3.27zM59.60 304.65h3.27v3.27h-3.27zM62.88 304.65h3.27v3.27h-3.27zM69.42 304.65h3.27v3.27h-3.27zM72.69 304.65h3.27v3.27h-3.27zM75.97 304.65h3.27v3.27h-3.27zM82.51 304.65h3.27v3.27h-3.27zM89.06 304.65h3.27v3.27h-3.27zM98.88 304.65h3.27v3.27h-3.27zM102.15 304.65h3.27v3.27h-3.27zM105.43 304.65h3.27v3.27h-3.27zM115.24 304.65h3.27v3.27h-3.27zM43.24 307.92h3.27v3.27h-3.27zM59.60 307.92h3.27v3.27h-3.27zM75.97 307.92h3.27v3.27h-3.27zM121.79 307.92h3.27v3.27h-3.27zM164.34 307.92h3.27v3.27h-3.27zM49.78 311.19h3.27v3.27h-3.27zM56.33 311.19h3.27v3.27h-3.27zM75.97 311.19h3.27v3.27h-3.27zM79.24 311.19h3.27v3.27h-3.27zM89.06 311.19h3.27v3.27h-3.27zM115.24 311.19h3.27v3.27h-3.27zM118.52 311.19h3.27v3.27h-3.27zM125.06 311.19h3.27v3.27h-3.27zM144.70 311.19h3.27v3.27h-3.27zM43.24 314.47h3.27v3.27h-3.27zM79.24 314.47h3.27v3.27h-3.27zM59.60 317.74h3.27v3.27h-3.27zM66.15 317.74h3.27v3.27h-3.27zM75.97 317.74h3.27v3.27h-3.27zM118.52 317.74h3.27v3.27h-3.27zM138.16 317.74h3.27v3.27h-3.27zM141.43 317.74h3.27v3.27h-3.27zM144.70 317.74h3.27v3.27h-3.27zM164.34 317.74h3.27v3.27h-3.27zM56.33 324.28h3.27v3.27h-3.27zM111.97 324.28h3.27v3.27h-3.27zM118.52 324.28h3.27v3.27h-3.27zM121.79 324.28h3.27v3.27h-3.27zM154.52 324.28h3.27v3.27h-3.27zM111.97 327.56h3.27v3.27h-3.27zM118.52 327.56h3.27v3.27h-3.27zM151.25 327.56h3.27v3.27h-3.27zM154.52 327.56h3.27v3.27h-3.27zM69.42 330.83h3.27v3.27h-3.27zM75.97 330.83h3.27v3.27h-3.27zM75.97 334.10h3.27v3.27h-3.27zM85.79 334.10h3.27v3.27h-3.27zM121.79 334.10h3.27v3.27h-3.27zM134.88 334.10h3.27v3.27h-3.27zM138.16 334.10h3.27v3.27h-3.27zM157.79 334.10h3.27v3.27h-3.27zM72.69 337.38h3.27v3.27h-3.27zM167.61 337.38h3.27v3.27h-3.27zM170.88 337.38h3.27v3.27h-3.27zM174.16 337.38h3.27v3.27h-3.27zM177.43 337.38h3.27v3.27h-3.27zM72.69 340.65h3.27v3.27h-3.27zM75.97 343.92h3.27v3.27h-3.27zM98.88 343.92h3.27v3.27h-3.27zM115.24 343.92h3.27v3.27h-3.27zM190.52 343.92h3.27v3.27h-3.27zM75.97 347.20h3.27v3.27h-3.27zM95.61 347.20h3.27v3.27h-3.27zM111.97 347.20h3.27v3.27h-3.27zM154.52 347.20h3.27v3.27h-3.27zM164.34 347.20h3.27v3.27h-3.27z"/><path fill="#F8BABD" d="M33.42 298.10h3.27v3.27h-3.27zM59.60 298.10h3.27v3.27h-3.27zM39.97 304.65h3.27v3.27h-3.27zM49.78 304.65h3.27v3.27h-3.27zM66.15 304.65h3.27v3.27h-3.27zM108.70 304.65h3.27v3.27h-3.27zM125.06 304.65h3.27v3.27h-3.27zM131.61 304.65h3.27v3.27h-3.27zM46.51 307.92h3.27v3.27h-3.27zM62.88 307.92h3.27v3.27h-3.27zM66.15 307.92h3.27v3.27h-3.27zM92.33 307.92h3.27v3.27h-3.27zM134.88 307.92h3.27v3.27h-3.27zM141.43 307.92h3.27v3.27h-3.27zM151.25 307.92h3.27v3.27h-3.27zM154.52 307.92h3.27v3.27h-3.27zM167.61 307.92h3.27v3.27h-3.27zM170.88 307.92h3.27v3.27h-3.27zM177.43 307.92h3.27v3.27h-3.27zM92.33 311.19h3.27v3.27h-3.27zM151.25 311.19h3.27v3.27h-3.27zM154.52 311.19h3.27v3.27h-3.27zM157.79 311.19h3.27v3.27h-3.27zM161.07 311.19h3.27v3.27h-3.27zM180.70 311.19h3.27v3.27h-3.27zM72.69 314.47h3.27v3.27h-3.27zM95.61 314.47h3.27v3.27h-3.27zM105.43 314.47h3.27v3.27h-3.27zM144.70 314.47h3.27v3.27h-3.27zM161.07 314.47h3.27v3.27h-3.27zM151.25 317.74h3.27v3.27h-3.27zM154.52 317.74h3.27v3.27h-3.27zM167.61 317.74h3.27v3.27h-3.27zM177.43 317.74h3.27v3.27h-3.27zM95.61 321.01h3.27v3.27h-3.27zM66.15 324.28h3.27v3.27h-3.27zM141.43 324.28h3.27v3.27h-3.27zM151.25 324.28h3.27v3.27h-3.27zM62.88 327.56h3.27v3.27h-3.27zM89.06 327.56h3.27v3.27h-3.27zM144.70 327.56h3.27v3.27h-3.27zM157.79 327.56h3.27v3.27h-3.27zM187.25 327.56h3.27v3.27h-3.27zM79.24 330.83h3.27v3.27h-3.27zM161.07 330.83h3.27v3.27h-3.27zM190.52 330.83h3.27v3.27h-3.27zM66.15 334.10h3.27v3.27h-3.27zM164.34 334.10h3.27v3.27h-3.27zM167.61 334.10h3.27v3.27h-3.27zM177.43 334.10h3.27v3.27h-3.27zM190.52 334.10h3.27v3.27h-3.27zM89.06 343.92h3.27v3.27h-3.27zM102.15 343.92h3.27v3.27h-3.27zM108.70 343.92h3.27v3.27h-3.27zM111.97 343.92h3.27v3.27h-3.27zM118.52 343.92h3.27v3.27h-3.27zM125.06 343.92h3.27v3.27h-3.27zM131.61 343.92h3.27v3.27h-3.27zM154.52 343.92h3.27v3.27h-3.27zM167.61 347.20h3.27v3.27h-3.27zM170.88 347.20h3.27v3.27h-3.27zM174.16 347.20h3.27v3.27h-3.27zM177.43 347.20h3.27v3.27h-3.27zM157.79 350.47h3.27v3.27h-3.27z"/><path fill="#F6A5A9" d="M36.69 298.10h3.27v3.27h-3.27zM49.78 301.37h3.27v3.27h-3.27zM69.42 301.37h3.27v3.27h-3.27zM43.24 304.65h3.27v3.27h-3.27zM95.61 304.65h3.27v3.27h-3.27zM144.70 304.65h3.27v3.27h-3.27zM79.24 307.92h3.27v3.27h-3.27zM82.51 307.92h3.27v3.27h-3.27zM85.79 307.92h3.27v3.27h-3.27zM95.61 307.92h3.27v3.27h-3.27zM98.88 307.92h3.27v3.27h-3.27zM102.15 307.92h3.27v3.27h-3.27zM105.43 307.92h3.27v3.27h-3.27zM108.70 307.92h3.27v3.27h-3.27zM118.52 307.92h3.27v3.27h-3.27zM131.61 307.92h3.27v3.27h-3.27zM144.70 307.92h3.27v3.27h-3.27zM53.06 311.19h3.27v3.27h-3.27zM59.60 311.19h3.27v3.27h-3.27zM69.42 311.19h3.27v3.27h-3.27zM121.79 311.19h3.27v3.27h-3.27zM72.69 317.74h3.27v3.27h-3.27zM79.24 317.74h3.27v3.27h-3.27zM115.24 317.74h3.27v3.27h-3.27zM125.06 317.74h3.27v3.27h-3.27zM128.34 317.74h3.27v3.27h-3.27zM131.61 317.74h3.27v3.27h-3.27zM53.06 324.28h3.27v3.27h-3.27zM59.60 324.28h3.27v3.27h-3.27zM62.88 324.28h3.27v3.27h-3.27zM69.42 324.28h3.27v3.27h-3.27zM75.97 324.28h3.27v3.27h-3.27zM89.06 324.28h3.27v3.27h-3.27zM115.24 324.28h3.27v3.27h-3.27zM125.06 324.28h3.27v3.27h-3.27zM134.88 324.28h3.27v3.27h-3.27zM56.33 327.56h3.27v3.27h-3.27zM59.60 327.56h3.27v3.27h-3.27zM115.24 327.56h3.27v3.27h-3.27zM190.52 327.56h3.27v3.27h-3.27zM82.51 334.10h3.27v3.27h-3.27zM89.06 334.10h3.27v3.27h-3.27zM95.61 334.10h3.27v3.27h-3.27zM98.88 334.10h3.27v3.27h-3.27zM108.70 334.10h3.27v3.27h-3.27zM111.97 334.10h3.27v3.27h-3.27zM128.34 334.10h3.27v3.27h-3.27zM131.61 334.10h3.27v3.27h-3.27zM141.43 334.10h3.27v3.27h-3.27zM144.70 334.10h3.27v3.27h-3.27zM151.25 334.10h3.27v3.27h-3.27zM154.52 334.10h3.27v3.27h-3.27zM121.79 337.38h3.27v3.27h-3.27zM144.70 337.38h3.27v3.27h-3.27zM164.34 337.38h3.27v3.27h-3.27zM121.79 347.20h3.27v3.27h-3.27zM141.43 347.20h3.27v3.27h-3.27zM95.61 350.47h3.27v3.27h-3.27zM111.97 350.47h3.27v3.27h-3.27zM167.61 350.47h3.27v3.27h-3.27zM170.88 350.47h3.27v3.27h-3.27zM174.16 350.47h3.27v3.27h-3.27zM177.43 350.47h3.27v3.27h-3.27z"/><path fill="#FFFFFF" d="M39.97 298.10h3.27v3.27h-3.27zM131.61 298.10h3.27v3.27h-3.27zM141.43 298.10h3.27v3.27h-3.27zM33.42 301.37h3.27v3.27h-3.27zM39.97 301.37h3.27v3.27h-3.27zM89.06 301.37h3.27v3.27h-3.27zM98.88 301.37h3.27v3.27h-3.27zM105.43 301.37h3.27v3.27h-3.27zM125.06 301.37h3.27v3.27h-3.27zM79.24 304.65h3.27v3.27h-3.27zM183.98 304.65h3.27v3.27h-3.27zM147.97 307.92h3.27v3.27h-3.27zM187.25 307.92h3.27v3.27h-3.27zM39.97 311.19h3.27v3.27h-3.27zM46.51 311.19h3.27v3.27h-3.27zM98.88 311.19h3.27v3.27h-3.27zM49.78 314.47h3.27v3.27h-3.27zM59.60 314.47h3.27v3.27h-3.27zM62.88 314.47h3.27v3.27h-3.27zM89.06 314.47h3.27v3.27h-3.27zM141.43 314.47h3.27v3.27h-3.27zM183.98 314.47h3.27v3.27h-3.27zM111.97 317.74h3.27v3.27h-3.27zM49.78 321.01h3.27v3.27h-3.27zM167.61 321.01h3.27v3.27h-3.27zM170.88 321.01h3.27v3.27h-3.27zM174.16 321.01h3.27v3.27h-3.27zM177.43 321.01h3.27v3.27h-3.27zM180.70 321.01h3.27v3.27h-3.27zM183.98 321.01h3.27v3.27h-3.27zM85.79 327.56h3.27v3.27h-3.27zM95.61 327.56h3.27v3.27h-3.27zM125.06 330.83h3.27v3.27h-3.27zM177.43 330.83h3.27v3.27h-3.27zM161.07 334.10h3.27v3.27h-3.27zM69.42 340.65h3.27v3.27h-3.27zM92.33 343.92h3.27v3.27h-3.27zM98.88 353.74h3.27v3.27h-3.27zM147.97 353.74h3.27v3.27h-3.27zM161.07 396.29h3.27v3.27h-3.27zM147.97 412.66h3.27v3.27h-3.27zM147.97 419.20h3.27v3.27h-3.27z"/><path fill="#FDECED" d="M43.24 298.10h3.27v3.27h-3.27zM56.33 298.10h3.27v3.27h-3.27zM105.43 298.10h3.27v3.27h-3.27zM144.70 298.10h3.27v3.27h-3.27zM154.52 298.10h3.27v3.27h-3.27zM161.07 298.10h3.27v3.27h-3.27zM167.61 298.10h3.27v3.27h-3.27zM170.88 298.10h3.27v3.27h-3.27zM174.16 298.10h3.27v3.27h-3.27zM180.70 298.10h3.27v3.27h-3.27zM115.24 301.37h3.27v3.27h-3.27zM144.70 301.37h3.27v3.27h-3.27zM147.97 301.37h3.27v3.27h-3.27zM154.52 301.37h3.27v3.27h-3.27zM187.25 301.37h3.27v3.27h-3.27zM134.88 304.65h3.27v3.27h-3.27zM154.52 304.65h3.27v3.27h-3.27zM170.88 304.65h3.27v3.27h-3.27zM174.16 304.65h3.27v3.27h-3.27zM161.07 307.92h3.27v3.27h-3.27zM43.24 311.19h3.27v3.27h-3.27zM66.15 311.19h3.27v3.27h-3.27zM128.34 311.19h3.27v3.27h-3.27zM164.34 311.19h3.27v3.27h-3.27zM167.61 311.19h3.27v3.27h-3.27zM170.88 311.19h3.27v3.27h-3.27zM174.16 311.19h3.27v3.27h-3.27zM177.43 311.19h3.27v3.27h-3.27zM56.33 314.47h3.27v3.27h-3.27zM82.51 314.47h3.27v3.27h-3.27zM98.88 314.47h3.27v3.27h-3.27zM108.70 314.47h3.27v3.27h-3.27zM115.24 314.47h3.27v3.27h-3.27zM118.52 314.47h3.27v3.27h-3.27zM121.79 314.47h3.27v3.27h-3.27zM134.88 314.47h3.27v3.27h-3.27zM164.34 314.47h3.27v3.27h-3.27zM167.61 314.47h3.27v3.27h-3.27zM174.16 314.47h3.27v3.27h-3.27zM177.43 314.47h3.27v3.27h-3.27zM187.25 314.47h3.27v3.27h-3.27zM46.51 317.74h3.27v3.27h-3.27zM49.78 317.74h3.27v3.27h-3.27zM121.79 317.74h3.27v3.27h-3.27zM183.98 317.74h3.27v3.27h-3.27zM187.25 317.74h3.27v3.27h-3.27zM69.42 321.01h3.27v3.27h-3.27zM75.97 321.01h3.27v3.27h-3.27zM79.24 321.01h3.27v3.27h-3.27zM82.51 321.01h3.27v3.27h-3.27zM85.79 321.01h3.27v3.27h-3.27zM102.15 321.01h3.27v3.27h-3.27zM108.70 321.01h3.27v3.27h-3.27zM111.97 321.01h3.27v3.27h-3.27zM118.52 321.01h3.27v3.27h-3.27zM125.06 321.01h3.27v3.27h-3.27zM128.34 321.01h3.27v3.27h-3.27zM131.61 321.01h3.27v3.27h-3.27zM141.43 321.01h3.27v3.27h-3.27zM144.70 321.01h3.27v3.27h-3.27zM154.52 321.01h3.27v3.27h-3.27zM187.25 321.01h3.27v3.27h-3.27zM147.97 324.28h3.27v3.27h-3.27zM161.07 324.28h3.27v3.27h-3.27zM167.61 324.28h3.27v3.27h-3.27zM170.88 324.28h3.27v3.27h-3.27zM174.16 324.28h3.27v3.27h-3.27zM177.43 324.28h3.27v3.27h-3.27zM180.70 324.28h3.27v3.27h-3.27zM183.98 324.28h3.27v3.27h-3.27zM187.25 324.28h3.27v3.27h-3.27zM190.52 324.28h3.27v3.27h-3.27zM66.15 327.56h3.27v3.27h-3.27zM105.43 327.56h3.27v3.27h-3.27zM131.61 327.56h3.27v3.27h-3.27zM167.61 327.56h3.27v3.27h-3.27zM170.88 327.56h3.27v3.27h-3.27zM174.16 327.56h3.27v3.27h-3.27zM177.43 327.56h3.27v3.27h-3.27zM59.60 330.83h3.27v3.27h-3.27zM89.06 330.83h3.27v3.27h-3.27zM98.88 330.83h3.27v3.27h-3.27zM108.70 330.83h3.27v3.27h-3.27zM111.97 330.83h3.27v3.27h-3.27zM121.79 330.83h3.27v3.27h-3.27zM128.34 330.83h3.27v3.27h-3.27zM144.70 330.83h3.27v3.27h-3.27zM147.97 330.83h3.27v3.27h-3.27zM157.79 330.83h3.27v3.27h-3.27zM72.69 334.10h3.27v3.27h-3.27zM79.24 334.10h3.27v3.27h-3.27zM180.70 334.10h3.27v3.27h-3.27zM180.70 340.65h3.27v3.27h-3.27zM190.52 340.65h3.27v3.27h-3.27zM85.79 343.92h3.27v3.27h-3.27zM95.61 343.92h3.27v3.27h-3.27zM164.34 343.92h3.27v3.27h-3.27zM167.61 343.92h3.27v3.27h-3.27zM170.88 343.92h3.27v3.27h-3.27zM174.16 343.92h3.27v3.27h-3.27zM177.43 343.92h3.27v3.27h-3.27zM180.70 343.92h3.27v3.27h-3.27zM183.98 343.92h3.27v3.27h-3.27zM147.97 347.20h3.27v3.27h-3.27zM183.98 347.20h3.27v3.27h-3.27zM92.33 350.47h3.27v3.27h-3.27zM161.07 350.47h3.27v3.27h-3.27z"/><path fill="#FAD1D3" d="M46.51 298.10h3.27v3.27h-3.27zM53.06 298.10h3.27v3.27h-3.27zM69.42 298.10h3.27v3.27h-3.27zM75.97 298.10h3.27v3.27h-3.27zM92.33 298.10h3.27v3.27h-3.27zM98.88 298.10h3.27v3.27h-3.27zM75.97 301.37h3.27v3.27h-3.27zM79.24 301.37h3.27v3.27h-3.27zM134.88 301.37h3.27v3.27h-3.27zM121.79 304.65h3.27v3.27h-3.27zM141.43 304.65h3.27v3.27h-3.27zM62.88 311.19h3.27v3.27h-3.27zM111.97 311.19h3.27v3.27h-3.27zM183.98 311.19h3.27v3.27h-3.27zM134.88 317.74h3.27v3.27h-3.27zM53.06 321.01h3.27v3.27h-3.27zM56.33 321.01h3.27v3.27h-3.27zM59.60 321.01h3.27v3.27h-3.27zM115.24 321.01h3.27v3.27h-3.27zM82.51 324.28h3.27v3.27h-3.27zM98.88 324.28h3.27v3.27h-3.27zM108.70 324.28h3.27v3.27h-3.27zM144.70 324.28h3.27v3.27h-3.27zM157.79 324.28h3.27v3.27h-3.27zM121.79 327.56h3.27v3.27h-3.27zM125.06 327.56h3.27v3.27h-3.27zM138.16 327.56h3.27v3.27h-3.27zM141.43 327.56h3.27v3.27h-3.27zM147.97 327.56h3.27v3.27h-3.27zM161.07 327.56h3.27v3.27h-3.27zM62.88 330.83h3.27v3.27h-3.27zM154.52 330.83h3.27v3.27h-3.27zM147.97 334.10h3.27v3.27h-3.27zM174.16 334.10h3.27v3.27h-3.27zM183.98 334.10h3.27v3.27h-3.27zM187.25 334.10h3.27v3.27h-3.27zM92.33 337.38h3.27v3.27h-3.27zM157.79 337.38h3.27v3.27h-3.27zM183.98 337.38h3.27v3.27h-3.27zM187.25 337.38h3.27v3.27h-3.27zM190.52 337.38h3.27v3.27h-3.27zM147.97 340.65h3.27v3.27h-3.27zM187.25 340.65h3.27v3.27h-3.27zM121.79 343.92h3.27v3.27h-3.27zM138.16 343.92h3.27v3.27h-3.27zM147.97 343.92h3.27v3.27h-3.27zM138.16 347.20h3.27v3.27h-3.27zM151.25 347.20h3.27v3.27h-3.27zM180.70 350.47h3.27v3.27h-3.27zM183.98 350.47h3.27v3.27h-3.27z"/><path fill="#FCE3E5" d="M49.78 298.10h3.27v3.27h-3.27zM118.52 298.10h3.27v3.27h-3.27zM121.79 298.10h3.27v3.27h-3.27zM151.25 298.10h3.27v3.27h-3.27zM118.52 301.37h3.27v3.27h-3.27zM190.52 301.37h3.27v3.27h-3.27zM85.79 314.47h3.27v3.27h-3.27zM125.06 314.47h3.27v3.27h-3.27zM128.34 314.47h3.27v3.27h-3.27zM131.61 314.47h3.27v3.27h-3.27zM170.88 314.47h3.27v3.27h-3.27zM66.15 330.83h3.27v3.27h-3.27z"/><path fill="#E0E6F2" d="M62.88 298.10h3.27v3.27h-3.27zM79.24 298.10h3.27v3.27h-3.27zM82.51 298.10h3.27v3.27h-3.27zM108.70 298.10h3.27v3.27h-3.27zM85.79 301.37h3.27v3.27h-3.27zM151.25 301.37h3.27v3.27h-3.27zM164.34 301.37h3.27v3.27h-3.27zM183.98 301.37h3.27v3.27h-3.27zM180.70 304.65h3.27v3.27h-3.27zM187.25 304.65h3.27v3.27h-3.27zM56.33 307.92h3.27v3.27h-3.27zM82.51 311.19h3.27v3.27h-3.27zM131.61 311.19h3.27v3.27h-3.27zM138.16 314.47h3.27v3.27h-3.27zM92.33 317.74h3.27v3.27h-3.27zM147.97 317.74h3.27v3.27h-3.27zM161.07 317.74h3.27v3.27h-3.27zM62.88 321.01h3.27v3.27h-3.27zM72.69 321.01h3.27v3.27h-3.27zM161.07 321.01h3.27v3.27h-3.27zM180.70 327.56h3.27v3.27h-3.27zM183.98 327.56h3.27v3.27h-3.27zM82.51 330.83h3.27v3.27h-3.27zM85.79 330.83h3.27v3.27h-3.27zM102.15 330.83h3.27v3.27h-3.27zM138.16 330.83h3.27v3.27h-3.27zM180.70 330.83h3.27v3.27h-3.27zM92.33 340.65h3.27v3.27h-3.27zM72.69 343.92h3.27v3.27h-3.27zM157.79 347.20h3.27v3.27h-3.27z"/><path fill="#B4C3DF" d="M66.15 298.10h3.27v3.27h-3.27zM102.15 301.37h3.27v3.27h-3.27zM111.97 314.47h3.27v3.27h-3.27zM131.61 330.83h3.27v3.27h-3.27z"/><path fill="#D4DCED" d="M72.69 298.10h3.27v3.27h-3.27zM102.15 298.10h3.27v3.27h-3.27zM138.16 301.37h3.27v3.27h-3.27zM56.33 304.65h3.27v3.27h-3.27zM147.97 304.65h3.27v3.27h-3.27zM85.79 311.19h3.27v3.27h-3.27zM147.97 314.47h3.27v3.27h-3.27zM190.52 314.47h3.27v3.27h-3.27zM66.15 321.01h3.27v3.27h-3.27zM92.33 321.01h3.27v3.27h-3.27zM134.88 321.01h3.27v3.27h-3.27zM180.70 347.20h3.27v3.27h-3.27z"/><path fill="#E5EAF4" d="M85.79 298.10h3.27v3.27h-3.27zM164.34 298.10h3.27v3.27h-3.27zM108.70 301.37h3.27v3.27h-3.27zM141.43 301.37h3.27v3.27h-3.27zM157.79 301.37h3.27v3.27h-3.27zM111.97 304.65h3.27v3.27h-3.27zM157.79 304.65h3.27v3.27h-3.27zM161.07 304.65h3.27v3.27h-3.27zM53.06 314.47h3.27v3.27h-3.27zM69.42 314.47h3.27v3.27h-3.27zM72.69 327.56h3.27v3.27h-3.27zM183.98 330.83h3.27v3.27h-3.27z"/><path fill="#BECBE4" d="M89.06 298.10h3.27v3.27h-3.27zM43.24 301.37h3.27v3.27h-3.27zM95.61 301.37h3.27v3.27h-3.27zM131.61 301.37h3.27v3.27h-3.27z"/><path fill="#F3F5FA" d="M95.61 298.10h3.27v3.27h-3.27zM115.24 298.10h3.27v3.27h-3.27zM92.33 301.37h3.27v3.27h-3.27zM167.61 301.37h3.27v3.27h-3.27zM174.16 301.37h3.27v3.27h-3.27z"/><path fill="#EDF1F7" d="M111.97 298.10h3.27v3.27h-3.27zM138.16 298.10h3.27v3.27h-3.27zM183.98 298.10h3.27v3.27h-3.27zM66.15 301.37h3.27v3.27h-3.27zM82.51 301.37h3.27v3.27h-3.27zM128.34 301.37h3.27v3.27h-3.27zM170.88 301.37h3.27v3.27h-3.27zM177.43 301.37h3.27v3.27h-3.27zM92.33 304.65h3.27v3.27h-3.27zM95.61 311.19h3.27v3.27h-3.27zM151.25 314.47h3.27v3.27h-3.27zM154.52 314.47h3.27v3.27h-3.27zM157.79 314.47h3.27v3.27h-3.27zM53.06 317.74h3.27v3.27h-3.27zM180.70 317.74h3.27v3.27h-3.27zM105.43 321.01h3.27v3.27h-3.27zM138.16 321.01h3.27v3.27h-3.27zM164.34 321.01h3.27v3.27h-3.27zM190.52 321.01h3.27v3.27h-3.27zM92.33 330.83h3.27v3.27h-3.27zM141.43 330.83h3.27v3.27h-3.27zM151.25 330.83h3.27v3.27h-3.27zM161.07 343.92h3.27v3.27h-3.27zM161.07 347.20h3.27v3.27h-3.27z"/><path fill="#FCDEDF" d="M125.06 298.10h3.27v3.27h-3.27zM128.34 298.10h3.27v3.27h-3.27zM157.79 298.10h3.27v3.27h-3.27zM177.43 298.10h3.27v3.27h-3.27zM187.25 298.10h3.27v3.27h-3.27zM190.52 298.10h3.27v3.27h-3.27zM62.88 301.37h3.27v3.27h-3.27zM121.79 301.37h3.27v3.27h-3.27zM53.06 304.65h3.27v3.27h-3.27zM118.52 304.65h3.27v3.27h-3.27zM128.34 304.65h3.27v3.27h-3.27zM151.25 304.65h3.27v3.27h-3.27zM164.34 304.65h3.27v3.27h-3.27zM167.61 304.65h3.27v3.27h-3.27zM177.43 304.65h3.27v3.27h-3.27zM72.69 307.92h3.27v3.27h-3.27zM180.70 307.92h3.27v3.27h-3.27zM190.52 307.92h3.27v3.27h-3.27zM102.15 311.19h3.27v3.27h-3.27zM108.70 311.19h3.27v3.27h-3.27zM138.16 311.19h3.27v3.27h-3.27zM66.15 314.47h3.27v3.27h-3.27zM75.97 314.47h3.27v3.27h-3.27zM102.15 314.47h3.27v3.27h-3.27zM157.79 317.74h3.27v3.27h-3.27zM89.06 321.01h3.27v3.27h-3.27zM98.88 321.01h3.27v3.27h-3.27zM151.25 321.01h3.27v3.27h-3.27zM72.69 324.28h3.27v3.27h-3.27zM79.24 324.28h3.27v3.27h-3.27zM85.79 324.28h3.27v3.27h-3.27zM92.33 324.28h3.27v3.27h-3.27zM95.61 324.28h3.27v3.27h-3.27zM102.15 324.28h3.27v3.27h-3.27zM105.43 324.28h3.27v3.27h-3.27zM131.61 324.28h3.27v3.27h-3.27zM138.16 324.28h3.27v3.27h-3.27zM164.34 324.28h3.27v3.27h-3.27zM79.24 327.56h3.27v3.27h-3.27zM82.51 327.56h3.27v3.27h-3.27zM92.33 327.56h3.27v3.27h-3.27zM98.88 327.56h3.27v3.27h-3.27zM102.15 327.56h3.27v3.27h-3.27zM108.70 327.56h3.27v3.27h-3.27zM134.88 327.56h3.27v3.27h-3.27zM164.34 327.56h3.27v3.27h-3.27zM187.25 330.83h3.27v3.27h-3.27zM92.33 334.10h3.27v3.27h-3.27zM105.43 334.10h3.27v3.27h-3.27zM147.97 337.38h3.27v3.27h-3.27zM180.70 337.38h3.27v3.27h-3.27zM95.61 340.65h3.27v3.27h-3.27zM157.79 340.65h3.27v3.27h-3.27zM79.24 343.92h3.27v3.27h-3.27zM105.43 343.92h3.27v3.27h-3.27zM134.88 343.92h3.27v3.27h-3.27zM79.24 347.20h3.27v3.27h-3.27zM187.25 347.20h3.27v3.27h-3.27zM147.97 350.47h3.27v3.27h-3.27zM187.25 350.47h3.27v3.27h-3.27z"/><path fill="#C9D3E8" d="M134.88 298.10h3.27v3.27h-3.27zM180.70 301.37h3.27v3.27h-3.27zM56.33 317.74h3.27v3.27h-3.27zM72.69 330.83h3.27v3.27h-3.27zM92.33 347.20h3.27v3.27h-3.27z"/><path fill="#FEF6F6" d="M147.97 298.10h3.27v3.27h-3.27zM46.51 301.37h3.27v3.27h-3.27zM72.69 301.37h3.27v3.27h-3.27zM111.97 301.37h3.27v3.27h-3.27zM46.51 304.65h3.27v3.27h-3.27zM105.43 311.19h3.27v3.27h-3.27zM147.97 311.19h3.27v3.27h-3.27zM187.25 311.19h3.27v3.27h-3.27zM92.33 314.47h3.27v3.27h-3.27zM180.70 314.47h3.27v3.27h-3.27zM69.42 317.74h3.27v3.27h-3.27zM121.79 321.01h3.27v3.27h-3.27zM105.43 330.83h3.27v3.27h-3.27zM167.61 330.83h3.27v3.27h-3.27zM170.88 330.83h3.27v3.27h-3.27z"/><path fill="#F49196" d="M53.06 301.37h3.27v3.27h-3.27zM56.33 301.37h3.27v3.27h-3.27zM115.24 307.92h3.27v3.27h-3.27zM69.42 327.56h3.27v3.27h-3.27zM69.42 334.10h3.27v3.27h-3.27zM115.24 334.10h3.27v3.27h-3.27zM118.52 334.10h3.27v3.27h-3.27zM75.97 337.38h3.27v3.27h-3.27zM79.24 337.38h3.27v3.27h-3.27zM85.79 337.38h3.27v3.27h-3.27zM98.88 337.38h3.27v3.27h-3.27zM102.15 337.38h3.27v3.27h-3.27zM105.43 337.38h3.27v3.27h-3.27zM111.97 337.38h3.27v3.27h-3.27zM128.34 337.38h3.27v3.27h-3.27zM131.61 337.38h3.27v3.27h-3.27zM134.88 337.38h3.27v3.27h-3.27zM154.52 337.38h3.27v3.27h-3.27zM79.24 340.65h3.27v3.27h-3.27zM111.97 340.65h3.27v3.27h-3.27zM134.88 340.65h3.27v3.27h-3.27zM141.43 340.65h3.27v3.27h-3.27zM154.52 340.65h3.27v3.27h-3.27zM164.34 340.65h3.27v3.27h-3.27zM82.51 347.20h3.27v3.27h-3.27zM85.79 347.20h3.27v3.27h-3.27zM89.06 347.20h3.27v3.27h-3.27zM98.88 347.20h3.27v3.27h-3.27zM102.15 347.20h3.27v3.27h-3.27zM108.70 347.20h3.27v3.27h-3.27zM115.24 347.20h3.27v3.27h-3.27zM118.52 347.20h3.27v3.27h-3.27zM125.06 347.20h3.27v3.27h-3.27zM128.34 347.20h3.27v3.27h-3.27zM131.61 347.20h3.27v3.27h-3.27zM79.24 350.47h3.27v3.27h-3.27zM105.43 350.47h3.27v3.27h-3.27zM134.88 350.47h3.27v3.27h-3.27zM144.70 350.47h3.27v3.27h-3.27zM151.25 350.47h3.27v3.27h-3.27z"/><path fill="#F9C5C8" d="M85.79 304.65h3.27v3.27h-3.27zM36.69 307.92h3.27v3.27h-3.27zM39.97 307.92h3.27v3.27h-3.27zM49.78 307.92h3.27v3.27h-3.27zM53.06 307.92h3.27v3.27h-3.27zM69.42 307.92h3.27v3.27h-3.27zM111.97 307.92h3.27v3.27h-3.27zM138.16 307.92h3.27v3.27h-3.27zM157.79 307.92h3.27v3.27h-3.27zM174.16 307.92h3.27v3.27h-3.27zM183.98 307.92h3.27v3.27h-3.27zM134.88 311.19h3.27v3.27h-3.27zM141.43 311.19h3.27v3.27h-3.27zM62.88 317.74h3.27v3.27h-3.27zM170.88 317.74h3.27v3.27h-3.27zM174.16 317.74h3.27v3.27h-3.27zM147.97 321.01h3.27v3.27h-3.27zM128.34 324.28h3.27v3.27h-3.27zM75.97 327.56h3.27v3.27h-3.27zM128.34 327.56h3.27v3.27h-3.27zM115.24 330.83h3.27v3.27h-3.27zM118.52 330.83h3.27v3.27h-3.27zM134.88 330.83h3.27v3.27h-3.27zM62.88 334.10h3.27v3.27h-3.27zM170.88 334.10h3.27v3.27h-3.27zM69.42 337.38h3.27v3.27h-3.27zM95.61 337.38h3.27v3.27h-3.27zM161.07 337.38h3.27v3.27h-3.27zM161.07 340.65h3.27v3.27h-3.27zM183.98 340.65h3.27v3.27h-3.27zM82.51 343.92h3.27v3.27h-3.27zM128.34 343.92h3.27v3.27h-3.27zM141.43 343.92h3.27v3.27h-3.27zM144.70 343.92h3.27v3.27h-3.27zM151.25 343.92h3.27v3.27h-3.27zM157.79 343.92h3.27v3.27h-3.27zM187.25 343.92h3.27v3.27h-3.27zM144.70 347.20h3.27v3.27h-3.27zM190.52 350.47h3.27v3.27h-3.27z"/><path fill="#F6F8FB" d="M138.16 304.65h3.27v3.27h-3.27zM46.51 314.47h3.27v3.27h-3.27zM164.34 330.83h3.27v3.27h-3.27zM174.16 330.83h3.27v3.27h-3.27z"/><path fill="#A0B3D7" d="M190.52 304.65h3.27v3.27h-3.27zM190.52 317.74h3.27v3.27h-3.27z"/><path fill="#F59B9F" d="M89.06 307.92h3.27v3.27h-3.27zM125.06 307.92h3.27v3.27h-3.27zM128.34 307.92h3.27v3.27h-3.27zM82.51 317.74h3.27v3.27h-3.27zM85.79 317.74h3.27v3.27h-3.27zM89.06 317.74h3.27v3.27h-3.27zM95.61 317.74h3.27v3.27h-3.27zM98.88 317.74h3.27v3.27h-3.27zM102.15 317.74h3.27v3.27h-3.27zM105.43 317.74h3.27v3.27h-3.27zM108.70 317.74h3.27v3.27h-3.27zM102.15 334.10h3.27v3.27h-3.27zM125.06 334.10h3.27v3.27h-3.27zM66.15 337.38h3.27v3.27h-3.27zM138.16 337.38h3.27v3.27h-3.27zM141.43 337.38h3.27v3.27h-3.27zM151.25 337.38h3.27v3.27h-3.27zM75.97 340.65h3.27v3.27h-3.27zM121.79 340.65h3.27v3.27h-3.27zM138.16 340.65h3.27v3.27h-3.27zM144.70 340.65h3.27v3.27h-3.27zM151.25 340.65h3.27v3.27h-3.27zM167.61 340.65h3.27v3.27h-3.27zM170.88 340.65h3.27v3.27h-3.27zM174.16 340.65h3.27v3.27h-3.27zM177.43 340.65h3.27v3.27h-3.27zM105.43 347.20h3.27v3.27h-3.27zM134.88 347.20h3.27v3.27h-3.27zM121.79 350.47h3.27v3.27h-3.27zM138.16 350.47h3.27v3.27h-3.27zM164.34 350.47h3.27v3.27h-3.27z"/><path fill="#AABBDB" d="M72.69 311.19h3.27v3.27h-3.27zM95.61 330.83h3.27v3.27h-3.27z"/><path fill="#F3878D" d="M190.52 311.19h3.27v3.27h-3.27zM82.51 337.38h3.27v3.27h-3.27zM89.06 337.38h3.27v3.27h-3.27zM108.70 337.38h3.27v3.27h-3.27zM115.24 337.38h3.27v3.27h-3.27zM118.52 337.38h3.27v3.27h-3.27zM125.06 337.38h3.27v3.27h-3.27zM89.06 340.65h3.27v3.27h-3.27zM98.88 340.65h3.27v3.27h-3.27zM102.15 340.65h3.27v3.27h-3.27zM105.43 340.65h3.27v3.27h-3.27zM115.24 340.65h3.27v3.27h-3.27zM118.52 340.65h3.27v3.27h-3.27zM125.06 340.65h3.27v3.27h-3.27zM131.61 340.65h3.27v3.27h-3.27zM82.51 350.47h3.27v3.27h-3.27zM98.88 350.47h3.27v3.27h-3.27zM102.15 350.47h3.27v3.27h-3.27zM108.70 350.47h3.27v3.27h-3.27zM115.24 350.47h3.27v3.27h-3.27zM118.52 350.47h3.27v3.27h-3.27zM125.06 350.47h3.27v3.27h-3.27zM131.61 350.47h3.27v3.27h-3.27zM141.43 350.47h3.27v3.27h-3.27zM154.52 350.47h3.27v3.27h-3.27z"/><path fill="#FEF2F3" d="M157.79 321.01h3.27v3.27h-3.27z"/><path fill="#F27E83" d="M82.51 340.65h3.27v3.27h-3.27zM85.79 340.65h3.27v3.27h-3.27zM128.34 340.65h3.27v3.27h-3.27zM85.79 350.47h3.27v3.27h-3.27zM128.34 350.47h3.27v3.27h-3.27z"/><path fill="#F1747B" d="M108.70 340.65h3.27v3.27h-3.27zM89.06 350.47h3.27v3.27h-3.27z"/><path fill="#8EA4CF" d="M190.52 347.20h3.27v3.27h-3.27z"/><path fill="#FCE6E7" d="M82.51 353.74h3.27v3.27h-3.27zM92.33 353.74h3.27v3.27h-3.27zM95.61 353.74h3.27v3.27h-3.27zM121.79 353.74h3.27v3.27h-3.27zM138.16 353.74h3.27v3.27h-3.27zM141.43 353.74h3.27v3.27h-3.27zM177.43 353.74h3.27v3.27h-3.27zM183.98 353.74h3.27v3.27h-3.27zM147.97 357.01h3.27v3.27h-3.27zM180.70 357.01h3.27v3.27h-3.27zM183.98 357.01h3.27v3.27h-3.27zM183.98 360.29h3.27v3.27h-3.27zM161.07 363.56h3.27v3.27h-3.27zM187.25 363.56h3.27v3.27h-3.27zM111.97 366.83h3.27v3.27h-3.27zM151.25 366.83h3.27v3.27h-3.27zM157.79 366.83h3.27v3.27h-3.27zM180.70 366.83h3.27v3.27h-3.27zM183.98 366.83h3.27v3.27h-3.27zM187.25 366.83h3.27v3.27h-3.27zM154.52 370.11h3.27v3.27h-3.27zM174.16 370.11h3.27v3.27h-3.27zM187.25 370.11h3.27v3.27h-3.27zM183.98 373.38h3.27v3.27h-3.27zM190.52 376.65h3.27v3.27h-3.27zM147.97 379.93h3.27v3.27h-3.27zM157.79 379.93h3.27v3.27h-3.27zM161.07 379.93h3.27v3.27h-3.27zM180.70 379.93h3.27v3.27h-3.27zM187.25 379.93h3.27v3.27h-3.27zM180.70 383.20h3.27v3.27h-3.27zM190.52 383.20h3.27v3.27h-3.27zM161.07 386.47h3.27v3.27h-3.27zM161.07 389.74h3.27v3.27h-3.27zM161.07 393.02h3.27v3.27h-3.27zM180.70 396.29h3.27v3.27h-3.27zM183.98 396.29h3.27v3.27h-3.27zM187.25 396.29h3.27v3.27h-3.27zM190.52 396.29h3.27v3.27h-3.27zM161.07 399.56h3.27v3.27h-3.27zM190.52 399.56h3.27v3.27h-3.27zM183.98 406.11h3.27v3.27h-3.27zM161.07 409.38h3.27v3.27h-3.27zM183.98 409.38h3.27v3.27h-3.27zM180.70 412.66h3.27v3.27h-3.27zM183.98 412.66h3.27v3.27h-3.27zM190.52 415.93h3.27v3.27h-3.27zM180.70 419.20h3.27v3.27h-3.27zM187.25 419.20h3.27v3.27h-3.27zM190.52 419.20h3.27v3.27h-3.27zM187.25 422.47h3.27v3.27h-3.27zM161.07 429.02h3.27v3.27h-3.27zM161.07 432.29h3.27v3.27h-3.27zM164.34 435.57h3.27v3.27h-3.27zM183.98 435.57h3.27v3.27h-3.27zM187.25 438.84h3.27v3.27h-3.27zM190.52 438.84h3.27v3.27h-3.27zM187.25 442.11h3.27v3.27h-3.27zM190.52 442.11h3.27v3.27h-3.27zM187.25 445.38h3.27v3.27h-3.27zM180.70 451.93h3.27v3.27h-3.27zM187.25 451.93h3.27v3.27h-3.27zM187.25 458.48h3.27v3.27h-3.27z"/><path fill="#F4969B" d="M85.79 353.74h3.27v3.27h-3.27zM89.06 353.74h3.27v3.27h-3.27zM144.70 353.74h3.27v3.27h-3.27zM154.52 353.74h3.27v3.27h-3.27zM161.07 353.74h3.27v3.27h-3.27zM164.34 353.74h3.27v3.27h-3.27zM95.61 357.01h3.27v3.27h-3.27zM95.61 360.29h3.27v3.27h-3.27zM111.97 360.29h3.27v3.27h-3.27zM95.61 363.56h3.27v3.27h-3.27zM111.97 363.56h3.27v3.27h-3.27zM121.79 363.56h3.27v3.27h-3.27zM131.61 370.11h3.27v3.27h-3.27zM144.70 370.11h3.27v3.27h-3.27zM121.79 373.38h3.27v3.27h-3.27zM121.79 376.65h3.27v3.27h-3.27zM183.98 376.65h3.27v3.27h-3.27zM151.25 379.93h3.27v3.27h-3.27zM131.61 386.47h3.27v3.27h-3.27zM167.61 386.47h3.27v3.27h-3.27zM170.88 386.47h3.27v3.27h-3.27zM174.16 386.47h3.27v3.27h-3.27zM177.43 386.47h3.27v3.27h-3.27zM183.98 386.47h3.27v3.27h-3.27zM180.70 389.74h3.27v3.27h-3.27zM121.79 393.02h3.27v3.27h-3.27zM131.61 396.29h3.27v3.27h-3.27zM134.88 396.29h3.27v3.27h-3.27zM157.79 399.56h3.27v3.27h-3.27zM183.98 399.56h3.27v3.27h-3.27zM147.97 402.84h3.27v3.27h-3.27zM157.79 402.84h3.27v3.27h-3.27zM134.88 406.11h3.27v3.27h-3.27zM157.79 406.11h3.27v3.27h-3.27zM144.70 412.66h3.27v3.27h-3.27zM157.79 412.66h3.27v3.27h-3.27zM151.25 419.20h3.27v3.27h-3.27zM154.52 419.20h3.27v3.27h-3.27zM187.25 425.75h3.27v3.27h-3.27zM157.79 429.02h3.27v3.27h-3.27zM167.61 429.02h3.27v3.27h-3.27zM170.88 429.02h3.27v3.27h-3.27zM174.16 429.02h3.27v3.27h-3.27zM177.43 429.02h3.27v3.27h-3.27zM180.70 429.02h3.27v3.27h-3.27zM190.52 429.02h3.27v3.27h-3.27zM180.70 432.29h3.27v3.27h-3.27zM187.25 432.29h3.27v3.27h-3.27zM190.52 432.29h3.27v3.27h-3.27zM183.98 445.38h3.27v3.27h-3.27z"/><path fill="#FEF3F4" d="M102.15 353.74h3.27v3.27h-3.27zM180.70 353.74h3.27v3.27h-3.27zM180.70 360.29h3.27v3.27h-3.27zM95.61 366.83h3.27v3.27h-3.27zM111.97 370.11h3.27v3.27h-3.27zM147.97 415.93h3.27v3.27h-3.27zM190.52 448.66h3.27v3.27h-3.27z"/><path fill="#F3888E" d="M105.43 353.74h3.27v3.27h-3.27zM108.70 353.74h3.27v3.27h-3.27zM115.24 353.74h3.27v3.27h-3.27zM118.52 353.74h3.27v3.27h-3.27zM134.88 353.74h3.27v3.27h-3.27zM134.88 357.01h3.27v3.27h-3.27zM151.25 357.01h3.27v3.27h-3.27zM154.52 357.01h3.27v3.27h-3.27zM167.61 357.01h3.27v3.27h-3.27zM170.88 357.01h3.27v3.27h-3.27zM174.16 357.01h3.27v3.27h-3.27zM167.61 360.29h3.27v3.27h-3.27zM170.88 360.29h3.27v3.27h-3.27zM174.16 360.29h3.27v3.27h-3.27zM157.79 363.56h3.27v3.27h-3.27zM111.97 373.38h3.27v3.27h-3.27zM111.97 376.65h3.27v3.27h-3.27zM157.79 376.65h3.27v3.27h-3.27zM115.24 379.93h3.27v3.27h-3.27zM118.52 379.93h3.27v3.27h-3.27zM134.88 379.93h3.27v3.27h-3.27zM138.16 379.93h3.27v3.27h-3.27zM141.43 379.93h3.27v3.27h-3.27zM144.70 379.93h3.27v3.27h-3.27zM154.52 379.93h3.27v3.27h-3.27zM164.34 379.93h3.27v3.27h-3.27zM167.61 379.93h3.27v3.27h-3.27zM170.88 379.93h3.27v3.27h-3.27zM174.16 379.93h3.27v3.27h-3.27zM177.43 379.93h3.27v3.27h-3.27zM134.88 383.20h3.27v3.27h-3.27zM167.61 383.20h3.27v3.27h-3.27zM170.88 383.20h3.27v3.27h-3.27zM174.16 383.20h3.27v3.27h-3.27zM177.43 383.20h3.27v3.27h-3.27zM115.24 386.47h3.27v3.27h-3.27zM118.52 386.47h3.27v3.27h-3.27zM134.88 386.47h3.27v3.27h-3.27zM138.16 386.47h3.27v3.27h-3.27zM141.43 386.47h3.27v3.27h-3.27zM157.79 386.47h3.27v3.27h-3.27zM164.34 386.47h3.27v3.27h-3.27zM121.79 389.74h3.27v3.27h-3.27zM147.97 389.74h3.27v3.27h-3.27zM157.79 389.74h3.27v3.27h-3.27zM183.98 389.74h3.27v3.27h-3.27zM187.25 389.74h3.27v3.27h-3.27zM147.97 393.02h3.27v3.27h-3.27zM157.79 393.02h3.27v3.27h-3.27zM180.70 393.02h3.27v3.27h-3.27zM183.98 393.02h3.27v3.27h-3.27zM125.06 396.29h3.27v3.27h-3.27zM128.34 396.29h3.27v3.27h-3.27zM138.16 406.11h3.27v3.27h-3.27zM144.70 406.11h3.27v3.27h-3.27zM151.25 406.11h3.27v3.27h-3.27zM164.34 406.11h3.27v3.27h-3.27zM167.61 406.11h3.27v3.27h-3.27zM170.88 406.11h3.27v3.27h-3.27zM174.16 406.11h3.27v3.27h-3.27zM177.43 406.11h3.27v3.27h-3.27zM138.16 409.38h3.27v3.27h-3.27zM144.70 409.38h3.27v3.27h-3.27zM151.25 409.38h3.27v3.27h-3.27zM164.34 409.38h3.27v3.27h-3.27zM167.61 409.38h3.27v3.27h-3.27zM170.88 409.38h3.27v3.27h-3.27zM174.16 409.38h3.27v3.27h-3.27zM177.43 409.38h3.27v3.27h-3.27zM141.43 412.66h3.27v3.27h-3.27zM151.25 412.66h3.27v3.27h-3.27zM154.52 412.66h3.27v3.27h-3.27zM164.34 412.66h3.27v3.27h-3.27zM167.61 412.66h3.27v3.27h-3.27zM170.88 412.66h3.27v3.27h-3.27zM174.16 412.66h3.27v3.27h-3.27zM177.43 412.66h3.27v3.27h-3.27zM164.34 415.93h3.27v3.27h-3.27zM167.61 415.93h3.27v3.27h-3.27zM170.88 415.93h3.27v3.27h-3.27zM174.16 415.93h3.27v3.27h-3.27zM177.43 415.93h3.27v3.27h-3.27zM157.79 425.75h3.27v3.27h-3.27zM167.61 425.75h3.27v3.27h-3.27zM170.88 425.75h3.27v3.27h-3.27zM174.16 425.75h3.27v3.27h-3.27zM177.43 425.75h3.27v3.27h-3.27zM180.70 425.75h3.27v3.27h-3.27zM183.98 425.75h3.27v3.27h-3.27zM190.52 425.75h3.27v3.27h-3.27zM164.34 429.02h3.27v3.27h-3.27zM183.98 432.29h3.27v3.27h-3.27zM183.98 438.84h3.27v3.27h-3.27z"/><path fill="#FBD3D5" d="M111.97 353.74h3.27v3.27h-3.27zM167.61 353.74h3.27v3.27h-3.27zM190.52 353.74h3.27v3.27h-3.27zM147.97 360.29h3.27v3.27h-3.27zM157.79 360.29h3.27v3.27h-3.27zM147.97 363.56h3.27v3.27h-3.27zM183.98 363.56h3.27v3.27h-3.27zM98.88 370.11h3.27v3.27h-3.27zM118.52 370.11h3.27v3.27h-3.27zM138.16 370.11h3.27v3.27h-3.27zM167.61 370.11h3.27v3.27h-3.27zM170.88 370.11h3.27v3.27h-3.27zM147.97 373.38h3.27v3.27h-3.27zM157.79 373.38h3.27v3.27h-3.27zM180.70 373.38h3.27v3.27h-3.27zM147.97 376.65h3.27v3.27h-3.27zM111.97 379.93h3.27v3.27h-3.27zM161.07 383.20h3.27v3.27h-3.27zM147.97 406.11h3.27v3.27h-3.27zM180.70 406.11h3.27v3.27h-3.27zM180.70 409.38h3.27v3.27h-3.27zM164.34 422.47h3.27v3.27h-3.27zM167.61 422.47h3.27v3.27h-3.27zM174.16 422.47h3.27v3.27h-3.27zM180.70 422.47h3.27v3.27h-3.27zM180.70 448.66h3.27v3.27h-3.27zM183.98 448.66h3.27v3.27h-3.27zM187.25 455.20h3.27v3.27h-3.27z"/><path fill="#F17B81" d="M125.06 353.74h3.27v3.27h-3.27zM128.34 353.74h3.27v3.27h-3.27zM89.06 357.01h3.27v3.27h-3.27zM105.43 357.01h3.27v3.27h-3.27zM115.24 357.01h3.27v3.27h-3.27zM118.52 357.01h3.27v3.27h-3.27zM138.16 357.01h3.27v3.27h-3.27zM144.70 357.01h3.27v3.27h-3.27zM164.34 357.01h3.27v3.27h-3.27zM177.43 357.01h3.27v3.27h-3.27zM89.06 360.29h3.27v3.27h-3.27zM105.43 360.29h3.27v3.27h-3.27zM131.61 360.29h3.27v3.27h-3.27zM134.88 360.29h3.27v3.27h-3.27zM138.16 360.29h3.27v3.27h-3.27zM144.70 360.29h3.27v3.27h-3.27zM151.25 360.29h3.27v3.27h-3.27zM154.52 360.29h3.27v3.27h-3.27zM164.34 360.29h3.27v3.27h-3.27zM177.43 360.29h3.27v3.27h-3.27zM105.43 363.56h3.27v3.27h-3.27zM134.88 363.56h3.27v3.27h-3.27zM138.16 363.56h3.27v3.27h-3.27zM102.15 373.38h3.27v3.27h-3.27zM105.43 373.38h3.27v3.27h-3.27zM134.88 373.38h3.27v3.27h-3.27zM138.16 373.38h3.27v3.27h-3.27zM167.61 373.38h3.27v3.27h-3.27zM170.88 373.38h3.27v3.27h-3.27zM174.16 373.38h3.27v3.27h-3.27zM108.70 379.93h3.27v3.27h-3.27zM131.61 379.93h3.27v3.27h-3.27zM115.24 383.20h3.27v3.27h-3.27zM131.61 383.20h3.27v3.27h-3.27zM164.34 383.20h3.27v3.27h-3.27zM125.06 386.47h3.27v3.27h-3.27zM128.34 386.47h3.27v3.27h-3.27zM147.97 386.47h3.27v3.27h-3.27zM151.25 386.47h3.27v3.27h-3.27zM154.52 386.47h3.27v3.27h-3.27zM190.52 386.47h3.27v3.27h-3.27zM164.34 389.74h3.27v3.27h-3.27zM167.61 389.74h3.27v3.27h-3.27zM170.88 389.74h3.27v3.27h-3.27zM174.16 389.74h3.27v3.27h-3.27zM177.43 389.74h3.27v3.27h-3.27zM190.52 389.74h3.27v3.27h-3.27zM167.61 393.02h3.27v3.27h-3.27zM170.88 393.02h3.27v3.27h-3.27zM174.16 393.02h3.27v3.27h-3.27zM177.43 393.02h3.27v3.27h-3.27zM187.25 393.02h3.27v3.27h-3.27zM138.16 402.84h3.27v3.27h-3.27zM164.34 402.84h3.27v3.27h-3.27zM167.61 402.84h3.27v3.27h-3.27zM170.88 402.84h3.27v3.27h-3.27zM174.16 402.84h3.27v3.27h-3.27zM154.52 406.11h3.27v3.27h-3.27zM141.43 409.38h3.27v3.27h-3.27zM151.25 415.93h3.27v3.27h-3.27zM154.52 415.93h3.27v3.27h-3.27zM164.34 419.20h3.27v3.27h-3.27zM167.61 419.20h3.27v3.27h-3.27zM170.88 419.20h3.27v3.27h-3.27zM174.16 419.20h3.27v3.27h-3.27zM177.43 419.20h3.27v3.27h-3.27zM164.34 425.75h3.27v3.27h-3.27z"/><path fill="#D6DEEE" d="M131.61 353.74h3.27v3.27h-3.27zM92.33 357.01h3.27v3.27h-3.27zM161.07 357.01h3.27v3.27h-3.27zM92.33 360.29h3.27v3.27h-3.27zM92.33 363.56h3.27v3.27h-3.27zM138.16 366.83h3.27v3.27h-3.27zM147.97 366.83h3.27v3.27h-3.27zM154.52 366.83h3.27v3.27h-3.27zM164.34 366.83h3.27v3.27h-3.27zM134.88 370.11h3.27v3.27h-3.27zM147.97 370.11h3.27v3.27h-3.27zM161.07 373.38h3.27v3.27h-3.27zM190.52 373.38h3.27v3.27h-3.27z"/><path fill="#DCE3F0" d="M151.25 353.74h3.27v3.27h-3.27zM105.43 366.83h3.27v3.27h-3.27zM115.24 366.83h3.27v3.27h-3.27zM118.52 366.83h3.27v3.27h-3.27zM131.61 366.83h3.27v3.27h-3.27zM134.88 366.83h3.27v3.27h-3.27zM161.07 425.75h3.27v3.27h-3.27z"/><path fill="#E7ECF5" d="M157.79 353.74h3.27v3.27h-3.27zM187.25 353.74h3.27v3.27h-3.27zM161.07 360.29h3.27v3.27h-3.27zM121.79 366.83h3.27v3.27h-3.27zM121.79 370.11h3.27v3.27h-3.27zM161.07 376.65h3.27v3.27h-3.27zM161.07 402.84h3.27v3.27h-3.27zM161.07 412.66h3.27v3.27h-3.27zM161.07 415.93h3.27v3.27h-3.27zM161.07 422.47h3.27v3.27h-3.27zM167.61 435.57h3.27v3.27h-3.27zM170.88 435.57h3.27v3.27h-3.27zM174.16 435.57h3.27v3.27h-3.27zM190.52 451.93h3.27v3.27h-3.27z"/><path fill="#F7B3B6" d="M170.88 353.74h3.27v3.27h-3.27zM174.16 353.74h3.27v3.27h-3.27zM111.97 357.01h3.27v3.27h-3.27zM157.79 357.01h3.27v3.27h-3.27zM187.25 357.01h3.27v3.27h-3.27zM121.79 360.29h3.27v3.27h-3.27zM180.70 363.56h3.27v3.27h-3.27zM161.07 366.83h3.27v3.27h-3.27zM190.52 366.83h3.27v3.27h-3.27zM102.15 370.11h3.27v3.27h-3.27zM105.43 370.11h3.27v3.27h-3.27zM108.70 370.11h3.27v3.27h-3.27zM180.70 370.11h3.27v3.27h-3.27zM187.25 373.38h3.27v3.27h-3.27zM121.79 383.20h3.27v3.27h-3.27zM180.70 386.47h3.27v3.27h-3.27zM144.70 396.29h3.27v3.27h-3.27zM164.34 396.29h3.27v3.27h-3.27zM170.88 396.29h3.27v3.27h-3.27zM147.97 399.56h3.27v3.27h-3.27zM180.70 402.84h3.27v3.27h-3.27zM187.25 402.84h3.27v3.27h-3.27zM187.25 406.11h3.27v3.27h-3.27zM190.52 409.38h3.27v3.27h-3.27zM190.52 412.66h3.27v3.27h-3.27zM144.70 415.93h3.27v3.27h-3.27zM157.79 419.20h3.27v3.27h-3.27zM151.25 422.47h3.27v3.27h-3.27zM154.52 422.47h3.27v3.27h-3.27zM157.79 422.47h3.27v3.27h-3.27zM164.34 432.29h3.27v3.27h-3.27zM167.61 432.29h3.27v3.27h-3.27zM170.88 432.29h3.27v3.27h-3.27zM180.70 438.84h3.27v3.27h-3.27zM183.98 442.11h3.27v3.27h-3.27zM183.98 451.93h3.27v3.27h-3.27zM190.52 458.48h3.27v3.27h-3.27z"/><path fill="#F06E74" d="M85.79 357.01h3.27v3.27h-3.27zM98.88 357.01h3.27v3.27h-3.27zM102.15 357.01h3.27v3.27h-3.27zM125.06 357.01h3.27v3.27h-3.27zM128.34 357.01h3.27v3.27h-3.27zM131.61 357.01h3.27v3.27h-3.27zM141.43 357.01h3.27v3.27h-3.27zM102.15 360.29h3.27v3.27h-3.27zM115.24 360.29h3.27v3.27h-3.27zM118.52 360.29h3.27v3.27h-3.27zM125.06 360.29h3.27v3.27h-3.27zM128.34 360.29h3.27v3.27h-3.27zM141.43 360.29h3.27v3.27h-3.27zM98.88 363.56h3.27v3.27h-3.27zM102.15 363.56h3.27v3.27h-3.27zM115.24 363.56h3.27v3.27h-3.27zM125.06 363.56h3.27v3.27h-3.27zM128.34 363.56h3.27v3.27h-3.27zM131.61 363.56h3.27v3.27h-3.27zM144.70 363.56h3.27v3.27h-3.27zM151.25 363.56h3.27v3.27h-3.27zM164.34 363.56h3.27v3.27h-3.27zM167.61 363.56h3.27v3.27h-3.27zM170.88 363.56h3.27v3.27h-3.27zM174.16 363.56h3.27v3.27h-3.27zM177.43 363.56h3.27v3.27h-3.27zM108.70 373.38h3.27v3.27h-3.27zM115.24 373.38h3.27v3.27h-3.27zM118.52 373.38h3.27v3.27h-3.27zM125.06 373.38h3.27v3.27h-3.27zM131.61 373.38h3.27v3.27h-3.27zM144.70 373.38h3.27v3.27h-3.27zM151.25 373.38h3.27v3.27h-3.27zM154.52 373.38h3.27v3.27h-3.27zM164.34 373.38h3.27v3.27h-3.27zM177.43 373.38h3.27v3.27h-3.27zM105.43 376.65h3.27v3.27h-3.27zM131.61 376.65h3.27v3.27h-3.27zM134.88 376.65h3.27v3.27h-3.27zM138.16 376.65h3.27v3.27h-3.27zM167.61 376.65h3.27v3.27h-3.27zM170.88 376.65h3.27v3.27h-3.27zM174.16 376.65h3.27v3.27h-3.27zM125.06 379.93h3.27v3.27h-3.27zM128.34 379.93h3.27v3.27h-3.27zM118.52 383.20h3.27v3.27h-3.27zM138.16 383.20h3.27v3.27h-3.27zM151.25 383.20h3.27v3.27h-3.27zM131.61 389.74h3.27v3.27h-3.27zM134.88 389.74h3.27v3.27h-3.27zM138.16 389.74h3.27v3.27h-3.27zM144.70 389.74h3.27v3.27h-3.27zM131.61 393.02h3.27v3.27h-3.27zM134.88 393.02h3.27v3.27h-3.27zM138.16 393.02h3.27v3.27h-3.27zM144.70 393.02h3.27v3.27h-3.27zM164.34 393.02h3.27v3.27h-3.27zM190.52 393.02h3.27v3.27h-3.27zM131.61 399.56h3.27v3.27h-3.27zM134.88 399.56h3.27v3.27h-3.27zM138.16 399.56h3.27v3.27h-3.27zM144.70 399.56h3.27v3.27h-3.27zM164.34 399.56h3.27v3.27h-3.27zM167.61 399.56h3.27v3.27h-3.27zM170.88 399.56h3.27v3.27h-3.27zM174.16 399.56h3.27v3.27h-3.27zM131.61 402.84h3.27v3.27h-3.27zM134.88 402.84h3.27v3.27h-3.27zM144.70 402.84h3.27v3.27h-3.27zM151.25 402.84h3.27v3.27h-3.27zM177.43 402.84h3.27v3.27h-3.27zM141.43 406.11h3.27v3.27h-3.27zM154.52 409.38h3.27v3.27h-3.27zM154.52 425.75h3.27v3.27h-3.27zM183.98 455.20h3.27v3.27h-3.27z"/><path fill="#EF6168" d="M108.70 357.01h3.27v3.27h-3.27zM98.88 360.29h3.27v3.27h-3.27zM108.70 363.56h3.27v3.27h-3.27zM118.52 363.56h3.27v3.27h-3.27zM128.34 373.38h3.27v3.27h-3.27zM141.43 373.38h3.27v3.27h-3.27zM108.70 376.65h3.27v3.27h-3.27zM115.24 376.65h3.27v3.27h-3.27zM118.52 376.65h3.27v3.27h-3.27zM125.06 376.65h3.27v3.27h-3.27zM128.34 376.65h3.27v3.27h-3.27zM144.70 376.65h3.27v3.27h-3.27zM151.25 376.65h3.27v3.27h-3.27zM154.52 376.65h3.27v3.27h-3.27zM164.34 376.65h3.27v3.27h-3.27zM177.43 376.65h3.27v3.27h-3.27zM144.70 383.20h3.27v3.27h-3.27zM154.52 383.20h3.27v3.27h-3.27zM125.06 389.74h3.27v3.27h-3.27zM128.34 389.74h3.27v3.27h-3.27zM141.43 389.74h3.27v3.27h-3.27zM151.25 389.74h3.27v3.27h-3.27zM125.06 393.02h3.27v3.27h-3.27zM128.34 393.02h3.27v3.27h-3.27zM141.43 393.02h3.27v3.27h-3.27zM151.25 393.02h3.27v3.27h-3.27zM128.34 399.56h3.27v3.27h-3.27zM151.25 399.56h3.27v3.27h-3.27zM154.52 399.56h3.27v3.27h-3.27zM177.43 399.56h3.27v3.27h-3.27zM141.43 402.84h3.27v3.27h-3.27zM154.52 402.84h3.27v3.27h-3.27zM174.16 445.38h3.27v3.27h-3.27z"/><path fill="#F9C3C5" d="M121.79 357.01h3.27v3.27h-3.27zM187.25 360.29h3.27v3.27h-3.27zM128.34 370.11h3.27v3.27h-3.27zM157.79 370.11h3.27v3.27h-3.27zM164.34 370.11h3.27v3.27h-3.27zM177.43 370.11h3.27v3.27h-3.27zM183.98 370.11h3.27v3.27h-3.27zM121.79 379.93h3.27v3.27h-3.27zM147.97 383.20h3.27v3.27h-3.27zM183.98 383.20h3.27v3.27h-3.27zM187.25 383.20h3.27v3.27h-3.27zM147.97 396.29h3.27v3.27h-3.27zM157.79 396.29h3.27v3.27h-3.27zM187.25 399.56h3.27v3.27h-3.27zM183.98 402.84h3.27v3.27h-3.27zM190.52 402.84h3.27v3.27h-3.27zM187.25 409.38h3.27v3.27h-3.27zM187.25 412.66h3.27v3.27h-3.27zM180.70 415.93h3.27v3.27h-3.27zM183.98 415.93h3.27v3.27h-3.27zM187.25 415.93h3.27v3.27h-3.27zM183.98 422.47h3.27v3.27h-3.27zM190.52 422.47h3.27v3.27h-3.27zM174.16 432.29h3.27v3.27h-3.27zM177.43 432.29h3.27v3.27h-3.27zM187.25 435.57h3.27v3.27h-3.27zM190.52 435.57h3.27v3.27h-3.27zM180.70 442.11h3.27v3.27h-3.27zM180.70 445.38h3.27v3.27h-3.27z"/><path fill="#C6D1E7" d="M190.52 357.01h3.27v3.27h-3.27zM190.52 360.29h3.27v3.27h-3.27zM98.88 366.83h3.27v3.27h-3.27zM108.70 366.83h3.27v3.27h-3.27zM125.06 366.83h3.27v3.27h-3.27zM128.34 366.83h3.27v3.27h-3.27zM141.43 366.83h3.27v3.27h-3.27zM144.70 366.83h3.27v3.27h-3.27zM167.61 366.83h3.27v3.27h-3.27zM170.88 366.83h3.27v3.27h-3.27zM174.16 366.83h3.27v3.27h-3.27zM177.43 366.83h3.27v3.27h-3.27zM190.52 379.93h3.27v3.27h-3.27z"/><path fill="#ED545C" d="M108.70 360.29h3.27v3.27h-3.27zM141.43 363.56h3.27v3.27h-3.27zM154.52 363.56h3.27v3.27h-3.27zM141.43 376.65h3.27v3.27h-3.27zM125.06 383.20h3.27v3.27h-3.27zM128.34 383.20h3.27v3.27h-3.27zM141.43 383.20h3.27v3.27h-3.27zM118.52 389.74h3.27v3.27h-3.27zM141.43 399.56h3.27v3.27h-3.27zM170.88 438.84h3.27v3.27h-3.27zM174.16 438.84h3.27v3.27h-3.27zM177.43 438.84h3.27v3.27h-3.27zM174.16 442.11h3.27v3.27h-3.27z"/><path fill="#F6A4A8" d="M190.52 363.56h3.27v3.27h-3.27zM115.24 370.11h3.27v3.27h-3.27zM125.06 370.11h3.27v3.27h-3.27zM141.43 370.11h3.27v3.27h-3.27zM151.25 370.11h3.27v3.27h-3.27zM180.70 376.65h3.27v3.27h-3.27zM187.25 376.65h3.27v3.27h-3.27zM183.98 379.93h3.27v3.27h-3.27zM111.97 383.20h3.27v3.27h-3.27zM157.79 383.20h3.27v3.27h-3.27zM121.79 386.47h3.27v3.27h-3.27zM144.70 386.47h3.27v3.27h-3.27zM187.25 386.47h3.27v3.27h-3.27zM138.16 396.29h3.27v3.27h-3.27zM141.43 396.29h3.27v3.27h-3.27zM151.25 396.29h3.27v3.27h-3.27zM154.52 396.29h3.27v3.27h-3.27zM167.61 396.29h3.27v3.27h-3.27zM174.16 396.29h3.27v3.27h-3.27zM177.43 396.29h3.27v3.27h-3.27zM180.70 399.56h3.27v3.27h-3.27zM147.97 409.38h3.27v3.27h-3.27zM157.79 409.38h3.27v3.27h-3.27zM157.79 415.93h3.27v3.27h-3.27zM183.98 419.20h3.27v3.27h-3.27zM183.98 429.02h3.27v3.27h-3.27zM187.25 429.02h3.27v3.27h-3.27zM190.52 455.20h3.27v3.27h-3.27zM190.52 461.75h3.27v3.27h-3.27z"/><path fill="#B7C5E1" d="M102.15 366.83h3.27v3.27h-3.27zM161.07 406.11h3.27v3.27h-3.27z"/><path fill="#A9BADB" d="M161.07 370.11h3.27v3.27h-3.27zM190.52 406.11h3.27v3.27h-3.27z"/><path fill="#6A87C0" d="M190.52 370.11h3.27v3.27h-3.27z"/><path fill="#EC4850" d="M154.52 389.74h3.27v3.27h-3.27zM154.52 393.02h3.27v3.27h-3.27zM167.61 438.84h3.27v3.27h-3.27zM170.88 442.11h3.27v3.27h-3.27zM177.43 442.11h3.27v3.27h-3.27zM177.43 445.38h3.27v3.27h-3.27zM177.43 448.66h3.27v3.27h-3.27z"/><path fill="#F4F6FA" d="M161.07 419.20h3.27v3.27h-3.27z"/><path fill="#FBDBDC" d="M170.88 422.47h3.27v3.27h-3.27zM177.43 422.47h3.27v3.27h-3.27zM190.52 445.38h3.27v3.27h-3.27zM187.25 448.66h3.27v3.27h-3.27z"/><path fill="#EFF2F8" d="M177.43 435.57h3.27v3.27h-3.27zM180.70 435.57h3.27v3.27h-3.27z"/></g>
<g fill="#2a2a2a"><path fill-opacity="0.9" d="M24.24 299.17h1.99v0.81h-1.99zM27.51 302.44h1.99v0.81h-1.99zM30.79 305.72h1.99v0.81h-1.99zM34.06 308.99h1.99v0.81h-1.99zM37.33 312.26h1.99v0.81h-1.99zM40.60 315.53h1.99v0.81h-1.99zM43.88 318.81h1.99v0.81h-1.99zM47.15 322.08h1.99v0.81h-1.99zM50.42 325.35h1.99v0.81h-1.99zM53.70 328.63h1.99v0.81h-1.99zM56.97 331.90h1.99v0.81h-1.99zM60.24 335.17h1.99v0.81h-1.99zM63.52 338.45h1.99v0.81h-1.99zM66.79 341.72h1.99v0.81h-1.99zM70.06 344.99h1.99v0.81h-1.99zM73.33 348.26h1.99v0.81h-1.99zM76.61 351.54h1.99v0.81h-1.99zM79.88 354.81h1.99v0.81h-1.99zM83.15 358.08h1.99v0.81h-1.99zM86.43 361.36h1.99v0.81h-1.99zM89.70 364.63h1.99v0.81h-1.99zM92.97 367.90h1.99v0.81h-1.99zM96.25 371.18h1.99v0.81h-1.99zM99.52 374.45h1.99v0.81h-1.99zM102.79 377.72h1.99v0.81h-1.99zM106.06 380.99h1.99v0.81h-1.99zM109.34 384.27h1.99v0.81h-1.99zM112.61 387.54h1.99v0.81h-1.99zM115.88 390.81h1.99v0.81h-1.99zM119.16 394.09h1.99v0.81h-1.99zM122.43 397.36h1.99v0.81h-1.99zM125.70 400.63h1.99v0.81h-1.99zM128.98 403.91h1.99v0.81h-1.99zM132.25 407.18h1.99v0.81h-1.99zM135.52 410.45h1.99v0.81h-1.99zM138.79 413.72h1.99v0.81h-1.99zM142.07 417.00h1.99v0.81h-1.99zM145.34 420.27h1.99v0.81h-1.99zM148.61 423.54h1.99v0.81h-1.99zM151.89 426.82h1.99v0.81h-1.99zM155.16 430.09h1.99v0.81h-1.99zM158.43 433.36h1.99v0.81h-1.99zM161.71 436.64h1.99v0.81h-1.99zM164.98 439.91h1.99v0.81h-1.99zM168.25 443.18h1.99v0.81h-1.99zM171.52 446.45h1.99v0.81h-1.99zM174.80 449.73h1.99v0.81h-1.99zM178.07 453.00h1.99v0.81h-1.99zM181.34 456.27h1.99v0.81h-1.99zM184.62 459.55h1.99v0.81h-1.99zM187.89 462.82h1.99v0.81h-1.99zM191.16 466.09h1.99v0.81h-1.99z"/><path fill-opacity="0.8" d="M27.51 299.17h1.99v0.81h-1.99zM30.79 299.17h1.99v0.81h-1.99zM34.06 299.17h1.99v0.81h-1.99zM37.33 299.17h1.99v0.81h-1.99zM60.24 299.17h1.99v0.81h-1.99zM66.79 299.17h1.99v0.81h-1.99zM89.70 299.17h1.99v0.81h-1.99zM135.52 299.17h1.99v0.81h-1.99zM30.79 302.44h1.99v0.81h-1.99zM37.33 302.44h1.99v0.81h-1.99zM43.88 302.44h1.99v0.81h-1.99zM50.42 302.44h1.99v0.81h-1.99zM53.70 302.44h1.99v0.81h-1.99zM56.97 302.44h1.99v0.81h-1.99zM60.24 302.44h1.99v0.81h-1.99zM70.06 302.44h1.99v0.81h-1.99zM96.25 302.44h1.99v0.81h-1.99zM102.79 302.44h1.99v0.81h-1.99zM132.25 302.44h1.99v0.81h-1.99zM161.71 302.44h1.99v0.81h-1.99zM181.34 302.44h1.99v0.81h-1.99zM34.06 305.72h1.99v0.81h-1.99zM37.33 305.72h1.99v0.81h-1.99zM40.60 305.72h1.99v0.81h-1.99zM43.88 305.72h1.99v0.81h-1.99zM50.42 305.72h1.99v0.81h-1.99zM60.24 305.72h1.99v0.81h-1.99zM63.52 305.72h1.99v0.81h-1.99zM66.79 305.72h1.99v0.81h-1.99zM70.06 305.72h1.99v0.81h-1.99zM73.33 305.72h1.99v0.81h-1.99zM76.61 305.72h1.99v0.81h-1.99zM83.15 305.72h1.99v0.81h-1.99zM86.43 305.72h1.99v0.81h-1.99zM89.70 305.72h1.99v0.81h-1.99zM96.25 305.72h1.99v0.81h-1.99zM99.52 305.72h1.99v0.81h-1.99zM102.79 305.72h1.99v0.81h-1.99zM106.06 305.72h1.99v0.81h-1.99zM109.34 305.72h1.99v0.81h-1.99zM115.88 305.72h1.99v0.81h-1.99zM125.70 305.72h1.99v0.81h-1.99zM132.25 305.72h1.99v0.81h-1.99zM145.34 305.72h1.99v0.81h-1.99zM191.16 305.72h1.99v0.81h-1.99zM37.33 308.99h1.99v0.81h-1.99zM40.60 308.99h1.99v0.81h-1.99zM43.88 308.99h1.99v0.81h-1.99zM47.15 308.99h1.99v0.81h-1.99zM50.42 308.99h1.99v0.81h-1.99zM53.70 308.99h1.99v0.81h-1.99zM60.24 308.99h1.99v0.81h-1.99zM63.52 308.99h1.99v0.81h-1.99zM66.79 308.99h1.99v0.81h-1.99zM70.06 308.99h1.99v0.81h-1.99zM76.61 308.99h1.99v0.81h-1.99zM79.88 308.99h1.99v0.81h-1.99zM83.15 308.99h1.99v0.81h-1.99zM86.43 308.99h1.99v0.81h-1.99zM89.70 308.99h1.99v0.81h-1.99zM92.97 308.99h1.99v0.81h-1.99zM96.25 308.99h1.99v0.81h-1.99zM99.52 308.99h1.99v0.81h-1.99zM102.79 308.99h1.99v0.81h-1.99zM106.06 308.99h1.99v0.81h-1.99zM109.34 308.99h1.99v0.81h-1.99zM112.61 308.99h1.99v0.81h-1.99zM115.88 308.99h1.99v0.81h-1.99zM119.16 308.99h1.99v0.81h-1.99zM122.43 308.99h1.99v0.81h-1.99zM125.70 308.99h1.99v0.81h-1.99zM128.98 308.99h1.99v0.81h-1.99zM132.25 308.99h1.99v0.81h-1.99zM135.52 308.99h1.99v0.81h-1.99zM138.79 308.99h1.99v0.81h-1.99zM142.07 308.99h1.99v0.81h-1.99zM145.34 308.99h1.99v0.81h-1.99zM151.89 308.99h1.99v0.81h-1.99zM155.16 308.99h1.99v0.81h-1.99zM158.43 308.99h1.99v0.81h-1.99zM164.98 308.99h1.99v0.81h-1.99zM168.25 308.99h1.99v0.81h-1.99zM171.52 308.99h1.99v0.81h-1.99zM174.80 308.99h1.99v0.81h-1.99zM178.07 308.99h1.99v0.81h-1.99zM184.62 308.99h1.99v0.81h-1.99zM50.42 312.26h1.99v0.81h-1.99zM53.70 312.26h1.99v0.81h-1.99zM56.97 312.26h1.99v0.81h-1.99zM60.24 312.26h1.99v0.81h-1.99zM70.06 312.26h1.99v0.81h-1.99zM73.33 312.26h1.99v0.81h-1.99zM76.61 312.26h1.99v0.81h-1.99zM79.88 312.26h1.99v0.81h-1.99zM89.70 312.26h1.99v0.81h-1.99zM92.97 312.26h1.99v0.81h-1.99zM115.88 312.26h1.99v0.81h-1.99zM119.16 312.26h1.99v0.81h-1.99zM122.43 312.26h1.99v0.81h-1.99zM125.70 312.26h1.99v0.81h-1.99zM135.52 312.26h1.99v0.81h-1.99zM142.07 312.26h1.99v0.81h-1.99zM145.34 312.26h1.99v0.81h-1.99zM151.89 312.26h1.99v0.81h-1.99zM155.16 312.26h1.99v0.81h-1.99zM158.43 312.26h1.99v0.81h-1.99zM161.71 312.26h1.99v0.81h-1.99zM181.34 312.26h1.99v0.81h-1.99zM191.16 312.26h1.99v0.81h-1.99zM43.88 315.53h1.99v0.81h-1.99zM73.33 315.53h1.99v0.81h-1.99zM79.88 315.53h1.99v0.81h-1.99zM96.25 315.53h1.99v0.81h-1.99zM106.06 315.53h1.99v0.81h-1.99zM112.61 315.53h1.99v0.81h-1.99zM145.34 315.53h1.99v0.81h-1.99zM161.71 315.53h1.99v0.81h-1.99zM56.97 318.81h1.99v0.81h-1.99zM60.24 318.81h1.99v0.81h-1.99zM63.52 318.81h1.99v0.81h-1.99zM66.79 318.81h1.99v0.81h-1.99zM73.33 318.81h1.99v0.81h-1.99zM76.61 318.81h1.99v0.81h-1.99zM79.88 318.81h1.99v0.81h-1.99zM83.15 318.81h1.99v0.81h-1.99zM86.43 318.81h1.99v0.81h-1.99zM89.70 318.81h1.99v0.81h-1.99zM96.25 318.81h1.99v0.81h-1.99zM99.52 318.81h1.99v0.81h-1.99zM102.79 318.81h1.99v0.81h-1.99zM106.06 318.81h1.99v0.81h-1.99zM109.34 318.81h1.99v0.81h-1.99zM115.88 318.81h1.99v0.81h-1.99zM119.16 318.81h1.99v0.81h-1.99zM125.70 318.81h1.99v0.81h-1.99zM128.98 318.81h1.99v0.81h-1.99zM132.25 318.81h1.99v0.81h-1.99zM138.79 318.81h1.99v0.81h-1.99zM142.07 318.81h1.99v0.81h-1.99zM145.34 318.81h1.99v0.81h-1.99zM151.89 318.81h1.99v0.81h-1.99zM155.16 318.81h1.99v0.81h-1.99zM164.98 318.81h1.99v0.81h-1.99zM168.25 318.81h1.99v0.81h-1.99zM171.52 318.81h1.99v0.81h-1.99zM174.80 318.81h1.99v0.81h-1.99zM178.07 318.81h1.99v0.81h-1.99zM191.16 318.81h1.99v0.81h-1.99zM96.25 322.08h1.99v0.81h-1.99zM148.61 322.08h1.99v0.81h-1.99zM53.70 325.35h1.99v0.81h-1.99zM56.97 325.35h1.99v0.81h-1.99zM60.24 325.35h1.99v0.81h-1.99zM63.52 325.35h1.99v0.81h-1.99zM66.79 325.35h1.99v0.81h-1.99zM70.06 325.35h1.99v0.81h-1.99zM76.61 325.35h1.99v0.81h-1.99zM89.70 325.35h1.99v0.81h-1.99zM112.61 325.35h1.99v0.81h-1.99zM115.88 325.35h1.99v0.81h-1.99zM119.16 325.35h1.99v0.81h-1.99zM122.43 325.35h1.99v0.81h-1.99zM125.70 325.35h1.99v0.81h-1.99zM128.98 325.35h1.99v0.81h-1.99zM135.52 325.35h1.99v0.81h-1.99zM142.07 325.35h1.99v0.81h-1.99zM151.89 325.35h1.99v0.81h-1.99zM155.16 325.35h1.99v0.81h-1.99zM56.97 328.63h1.99v0.81h-1.99zM60.24 328.63h1.99v0.81h-1.99zM63.52 328.63h1.99v0.81h-1.99zM70.06 328.63h1.99v0.81h-1.99zM76.61 328.63h1.99v0.81h-1.99zM89.70 328.63h1.99v0.81h-1.99zM112.61 328.63h1.99v0.81h-1.99zM115.88 328.63h1.99v0.81h-1.99zM119.16 328.63h1.99v0.81h-1.99zM128.98 328.63h1.99v0.81h-1.99zM145.34 328.63h1.99v0.81h-1.99zM151.89 328.63h1.99v0.81h-1.99zM155.16 328.63h1.99v0.81h-1.99zM158.43 328.63h1.99v0.81h-1.99zM187.89 328.63h1.99v0.81h-1.99zM191.16 328.63h1.99v0.81h-1.99zM70.06 331.90h1.99v0.81h-1.99zM73.33 331.90h1.99v0.81h-1.99zM76.61 331.90h1.99v0.81h-1.99zM79.88 331.90h1.99v0.81h-1.99zM96.25 331.90h1.99v0.81h-1.99zM115.88 331.90h1.99v0.81h-1.99zM119.16 331.90h1.99v0.81h-1.99zM132.25 331.90h1.99v0.81h-1.99zM135.52 331.90h1.99v0.81h-1.99zM161.71 331.90h1.99v0.81h-1.99zM191.16 331.90h1.99v0.81h-1.99zM63.52 335.17h1.99v0.81h-1.99zM66.79 335.17h1.99v0.81h-1.99zM70.06 335.17h1.99v0.81h-1.99zM76.61 335.17h1.99v0.81h-1.99zM83.15 335.17h1.99v0.81h-1.99zM86.43 335.17h1.99v0.81h-1.99zM89.70 335.17h1.99v0.81h-1.99zM96.25 335.17h1.99v0.81h-1.99zM99.52 335.17h1.99v0.81h-1.99zM102.79 335.17h1.99v0.81h-1.99zM109.34 335.17h1.99v0.81h-1.99zM112.61 335.17h1.99v0.81h-1.99zM115.88 335.17h1.99v0.81h-1.99zM119.16 335.17h1.99v0.81h-1.99zM122.43 335.17h1.99v0.81h-1.99zM125.70 335.17h1.99v0.81h-1.99zM128.98 335.17h1.99v0.81h-1.99zM132.25 335.17h1.99v0.81h-1.99zM135.52 335.17h1.99v0.81h-1.99zM138.79 335.17h1.99v0.81h-1.99zM142.07 335.17h1.99v0.81h-1.99zM145.34 335.17h1.99v0.81h-1.99zM151.89 335.17h1.99v0.81h-1.99zM155.16 335.17h1.99v0.81h-1.99zM158.43 335.17h1.99v0.81h-1.99zM164.98 335.17h1.99v0.81h-1.99zM168.25 335.17h1.99v0.81h-1.99zM171.52 335.17h1.99v0.81h-1.99zM178.07 335.17h1.99v0.81h-1.99zM191.16 335.17h1.99v0.81h-1.99zM66.79 338.45h1.99v0.81h-1.99zM70.06 338.45h1.99v0.81h-1.99zM73.33 338.45h1.99v0.81h-1.99zM76.61 338.45h1.99v0.81h-1.99zM79.88 338.45h1.99v0.81h-1.99zM83.15 338.45h1.99v0.81h-1.99zM86.43 338.45h1.99v0.81h-1.99zM89.70 338.45h1.99v0.81h-1.99zM96.25 338.45h1.99v0.81h-1.99zM99.52 338.45h1.99v0.81h-1.99zM102.79 338.45h1.99v0.81h-1.99zM106.06 338.45h1.99v0.81h-1.99zM109.34 338.45h1.99v0.81h-1.99zM112.61 338.45h1.99v0.81h-1.99zM115.88 338.45h1.99v0.81h-1.99zM119.16 338.45h1.99v0.81h-1.99zM122.43 338.45h1.99v0.81h-1.99zM125.70 338.45h1.99v0.81h-1.99zM128.98 338.45h1.99v0.81h-1.99zM132.25 338.45h1.99v0.81h-1.99zM135.52 338.45h1.99v0.81h-1.99zM138.79 338.45h1.99v0.81h-1.99zM142.07 338.45h1.99v0.81h-1.99zM145.34 338.45h1.99v0.81h-1.99zM151.89 338.45h1.99v0.81h-1.99zM155.16 338.45h1.99v0.81h-1.99zM161.71 338.45h1.99v0.81h-1.99zM164.98 338.45h1.99v0.81h-1.99zM168.25 338.45h1.99v0.81h-1.99zM171.52 338.45h1.99v0.81h-1.99zM174.80 338.45h1.99v0.81h-1.99zM178.07 338.45h1.99v0.81h-1.99zM73.33 341.72h1.99v0.81h-1.99zM76.61 341.72h1.99v0.81h-1.99zM79.88 341.72h1.99v0.81h-1.99zM83.15 341.72h1.99v0.81h-1.99zM86.43 341.72h1.99v0.81h-1.99zM89.70 341.72h1.99v0.81h-1.99zM99.52 341.72h1.99v0.81h-1.99zM102.79 341.72h1.99v0.81h-1.99zM106.06 341.72h1.99v0.81h-1.99zM109.34 341.72h1.99v0.81h-1.99zM112.61 341.72h1.99v0.81h-1.99zM115.88 341.72h1.99v0.81h-1.99zM119.16 341.72h1.99v0.81h-1.99zM122.43 341.72h1.99v0.81h-1.99zM125.70 341.72h1.99v0.81h-1.99zM128.98 341.72h1.99v0.81h-1.99zM132.25 341.72h1.99v0.81h-1.99zM135.52 341.72h1.99v0.81h-1.99zM138.79 341.72h1.99v0.81h-1.99zM142.07 341.72h1.99v0.81h-1.99zM145.34 341.72h1.99v0.81h-1.99zM151.89 341.72h1.99v0.81h-1.99zM155.16 341.72h1.99v0.81h-1.99zM161.71 341.72h1.99v0.81h-1.99zM164.98 341.72h1.99v0.81h-1.99zM168.25 341.72h1.99v0.81h-1.99zM171.52 341.72h1.99v0.81h-1.99zM174.80 341.72h1.99v0.81h-1.99zM178.07 341.72h1.99v0.81h-1.99zM184.62 341.72h1.99v0.81h-1.99zM76.61 344.99h1.99v0.81h-1.99zM83.15 344.99h1.99v0.81h-1.99zM89.70 344.99h1.99v0.81h-1.99zM99.52 344.99h1.99v0.81h-1.99zM102.79 344.99h1.99v0.81h-1.99zM109.34 344.99h1.99v0.81h-1.99zM112.61 344.99h1.99v0.81h-1.99zM115.88 344.99h1.99v0.81h-1.99zM119.16 344.99h1.99v0.81h-1.99zM125.70 344.99h1.99v0.81h-1.99zM128.98 344.99h1.99v0.81h-1.99zM132.25 344.99h1.99v0.81h-1.99zM142.07 344.99h1.99v0.81h-1.99zM145.34 344.99h1.99v0.81h-1.99zM151.89 344.99h1.99v0.81h-1.99zM155.16 344.99h1.99v0.81h-1.99zM158.43 344.99h1.99v0.81h-1.99zM187.89 344.99h1.99v0.81h-1.99zM191.16 344.99h1.99v0.81h-1.99zM76.61 348.26h1.99v0.81h-1.99zM83.15 348.26h1.99v0.81h-1.99zM86.43 348.26h1.99v0.81h-1.99zM89.70 348.26h1.99v0.81h-1.99zM92.97 348.26h1.99v0.81h-1.99zM96.25 348.26h1.99v0.81h-1.99zM99.52 348.26h1.99v0.81h-1.99zM102.79 348.26h1.99v0.81h-1.99zM106.06 348.26h1.99v0.81h-1.99zM109.34 348.26h1.99v0.81h-1.99zM112.61 348.26h1.99v0.81h-1.99zM115.88 348.26h1.99v0.81h-1.99zM119.16 348.26h1.99v0.81h-1.99zM122.43 348.26h1.99v0.81h-1.99zM125.70 348.26h1.99v0.81h-1.99zM128.98 348.26h1.99v0.81h-1.99zM132.25 348.26h1.99v0.81h-1.99zM135.52 348.26h1.99v0.81h-1.99zM142.07 348.26h1.99v0.81h-1.99zM145.34 348.26h1.99v0.81h-1.99zM155.16 348.26h1.99v0.81h-1.99zM164.98 348.26h1.99v0.81h-1.99zM168.25 348.26h1.99v0.81h-1.99zM171.52 348.26h1.99v0.81h-1.99zM174.80 348.26h1.99v0.81h-1.99zM178.07 348.26h1.99v0.81h-1.99zM191.16 348.26h1.99v0.81h-1.99zM79.88 351.54h1.99v0.81h-1.99zM83.15 351.54h1.99v0.81h-1.99zM86.43 351.54h1.99v0.81h-1.99zM89.70 351.54h1.99v0.81h-1.99zM96.25 351.54h1.99v0.81h-1.99zM99.52 351.54h1.99v0.81h-1.99zM102.79 351.54h1.99v0.81h-1.99zM106.06 351.54h1.99v0.81h-1.99zM109.34 351.54h1.99v0.81h-1.99zM112.61 351.54h1.99v0.81h-1.99zM115.88 351.54h1.99v0.81h-1.99zM119.16 351.54h1.99v0.81h-1.99zM122.43 351.54h1.99v0.81h-1.99zM125.70 351.54h1.99v0.81h-1.99zM128.98 351.54h1.99v0.81h-1.99zM132.25 351.54h1.99v0.81h-1.99zM135.52 351.54h1.99v0.81h-1.99zM138.79 351.54h1.99v0.81h-1.99zM142.07 351.54h1.99v0.81h-1.99zM145.34 351.54h1.99v0.81h-1.99zM151.89 351.54h1.99v0.81h-1.99zM155.16 351.54h1.99v0.81h-1.99zM158.43 351.54h1.99v0.81h-1.99zM164.98 351.54h1.99v0.81h-1.99zM168.25 351.54h1.99v0.81h-1.99zM171.52 351.54h1.99v0.81h-1.99zM174.80 351.54h1.99v0.81h-1.99zM178.07 351.54h1.99v0.81h-1.99zM86.43 354.81h1.99v0.81h-1.99zM89.70 354.81h1.99v0.81h-1.99zM106.06 354.81h1.99v0.81h-1.99zM109.34 354.81h1.99v0.81h-1.99zM115.88 354.81h1.99v0.81h-1.99zM119.16 354.81h1.99v0.81h-1.99zM125.70 354.81h1.99v0.81h-1.99zM128.98 354.81h1.99v0.81h-1.99zM135.52 354.81h1.99v0.81h-1.99zM145.34 354.81h1.99v0.81h-1.99zM155.16 354.81h1.99v0.81h-1.99zM161.71 354.81h1.99v0.81h-1.99zM164.98 354.81h1.99v0.81h-1.99zM171.52 354.81h1.99v0.81h-1.99zM174.80 354.81h1.99v0.81h-1.99zM86.43 358.08h1.99v0.81h-1.99zM89.70 358.08h1.99v0.81h-1.99zM96.25 358.08h1.99v0.81h-1.99zM99.52 358.08h1.99v0.81h-1.99zM102.79 358.08h1.99v0.81h-1.99zM106.06 358.08h1.99v0.81h-1.99zM109.34 358.08h1.99v0.81h-1.99zM112.61 358.08h1.99v0.81h-1.99zM115.88 358.08h1.99v0.81h-1.99zM119.16 358.08h1.99v0.81h-1.99zM122.43 358.08h1.99v0.81h-1.99zM125.70 358.08h1.99v0.81h-1.99zM128.98 358.08h1.99v0.81h-1.99zM132.25 358.08h1.99v0.81h-1.99zM135.52 358.08h1.99v0.81h-1.99zM138.79 358.08h1.99v0.81h-1.99zM142.07 358.08h1.99v0.81h-1.99zM145.34 358.08h1.99v0.81h-1.99zM151.89 358.08h1.99v0.81h-1.99zM155.16 358.08h1.99v0.81h-1.99zM158.43 358.08h1.99v0.81h-1.99zM164.98 358.08h1.99v0.81h-1.99zM168.25 358.08h1.99v0.81h-1.99zM171.52 358.08h1.99v0.81h-1.99zM174.80 358.08h1.99v0.81h-1.99zM178.07 358.08h1.99v0.81h-1.99zM187.89 358.08h1.99v0.81h-1.99zM89.70 361.36h1.99v0.81h-1.99zM96.25 361.36h1.99v0.81h-1.99zM99.52 361.36h1.99v0.81h-1.99zM102.79 361.36h1.99v0.81h-1.99zM106.06 361.36h1.99v0.81h-1.99zM109.34 361.36h1.99v0.81h-1.99zM112.61 361.36h1.99v0.81h-1.99zM115.88 361.36h1.99v0.81h-1.99zM119.16 361.36h1.99v0.81h-1.99zM122.43 361.36h1.99v0.81h-1.99zM125.70 361.36h1.99v0.81h-1.99zM128.98 361.36h1.99v0.81h-1.99zM132.25 361.36h1.99v0.81h-1.99zM135.52 361.36h1.99v0.81h-1.99zM138.79 361.36h1.99v0.81h-1.99zM142.07 361.36h1.99v0.81h-1.99zM145.34 361.36h1.99v0.81h-1.99zM151.89 361.36h1.99v0.81h-1.99zM155.16 361.36h1.99v0.81h-1.99zM164.98 361.36h1.99v0.81h-1.99zM168.25 361.36h1.99v0.81h-1.99zM171.52 361.36h1.99v0.81h-1.99zM174.80 361.36h1.99v0.81h-1.99zM178.07 361.36h1.99v0.81h-1.99zM187.89 361.36h1.99v0.81h-1.99zM96.25 364.63h1.99v0.81h-1.99zM99.52 364.63h1.99v0.81h-1.99zM102.79 364.63h1.99v0.81h-1.99zM106.06 364.63h1.99v0.81h-1.99zM109.34 364.63h1.99v0.81h-1.99zM112.61 364.63h1.99v0.81h-1.99zM115.88 364.63h1.99v0.81h-1.99zM119.16 364.63h1.99v0.81h-1.99zM122.43 364.63h1.99v0.81h-1.99zM125.70 364.63h1.99v0.81h-1.99zM128.98 364.63h1.99v0.81h-1.99zM132.25 364.63h1.99v0.81h-1.99zM135.52 364.63h1.99v0.81h-1.99zM138.79 364.63h1.99v0.81h-1.99zM142.07 364.63h1.99v0.81h-1.99zM145.34 364.63h1.99v0.81h-1.99zM151.89 364.63h1.99v0.81h-1.99zM155.16 364.63h1.99v0.81h-1.99zM158.43 364.63h1.99v0.81h-1.99zM164.98 364.63h1.99v0.81h-1.99zM168.25 364.63h1.99v0.81h-1.99zM171.52 364.63h1.99v0.81h-1.99zM174.80 364.63h1.99v0.81h-1.99zM178.07 364.63h1.99v0.81h-1.99zM181.34 364.63h1.99v0.81h-1.99zM191.16 364.63h1.99v0.81h-1.99zM99.52 367.90h1.99v0.81h-1.99zM102.79 367.90h1.99v0.81h-1.99zM109.34 367.90h1.99v0.81h-1.99zM125.70 367.90h1.99v0.81h-1.99zM128.98 367.90h1.99v0.81h-1.99zM142.07 367.90h1.99v0.81h-1.99zM145.34 367.90h1.99v0.81h-1.99zM161.71 367.90h1.99v0.81h-1.99zM168.25 367.90h1.99v0.81h-1.99zM171.52 367.90h1.99v0.81h-1.99zM174.80 367.90h1.99v0.81h-1.99zM178.07 367.90h1.99v0.81h-1.99zM191.16 367.90h1.99v0.81h-1.99zM102.79 371.18h1.99v0.81h-1.99zM106.06 371.18h1.99v0.81h-1.99zM109.34 371.18h1.99v0.81h-1.99zM115.88 371.18h1.99v0.81h-1.99zM125.70 371.18h1.99v0.81h-1.99zM128.98 371.18h1.99v0.81h-1.99zM132.25 371.18h1.99v0.81h-1.99zM142.07 371.18h1.99v0.81h-1.99zM145.34 371.18h1.99v0.81h-1.99zM151.89 371.18h1.99v0.81h-1.99zM158.43 371.18h1.99v0.81h-1.99zM161.71 371.18h1.99v0.81h-1.99zM164.98 371.18h1.99v0.81h-1.99zM178.07 371.18h1.99v0.81h-1.99zM181.34 371.18h1.99v0.81h-1.99zM184.62 371.18h1.99v0.81h-1.99zM191.16 371.18h1.99v0.81h-1.99zM102.79 374.45h1.99v0.81h-1.99zM106.06 374.45h1.99v0.81h-1.99zM109.34 374.45h1.99v0.81h-1.99zM112.61 374.45h1.99v0.81h-1.99zM115.88 374.45h1.99v0.81h-1.99zM119.16 374.45h1.99v0.81h-1.99zM122.43 374.45h1.99v0.81h-1.99zM125.70 374.45h1.99v0.81h-1.99zM128.98 374.45h1.99v0.81h-1.99zM132.25 374.45h1.99v0.81h-1.99zM135.52 374.45h1.99v0.81h-1.99zM138.79 374.45h1.99v0.81h-1.99zM142.07 374.45h1.99v0.81h-1.99zM145.34 374.45h1.99v0.81h-1.99zM151.89 374.45h1.99v0.81h-1.99zM155.16 374.45h1.99v0.81h-1.99zM164.98 374.45h1.99v0.81h-1.99zM168.25 374.45h1.99v0.81h-1.99zM171.52 374.45h1.99v0.81h-1.99zM174.80 374.45h1.99v0.81h-1.99zM178.07 374.45h1.99v0.81h-1.99zM187.89 374.45h1.99v0.81h-1.99zM106.06 377.72h1.99v0.81h-1.99zM109.34 377.72h1.99v0.81h-1.99zM112.61 377.72h1.99v0.81h-1.99zM115.88 377.72h1.99v0.81h-1.99zM119.16 377.72h1.99v0.81h-1.99zM122.43 377.72h1.99v0.81h-1.99zM125.70 377.72h1.99v0.81h-1.99zM128.98 377.72h1.99v0.81h-1.99zM132.25 377.72h1.99v0.81h-1.99zM135.52 377.72h1.99v0.81h-1.99zM138.79 377.72h1.99v0.81h-1.99zM142.07 377.72h1.99v0.81h-1.99zM145.34 377.72h1.99v0.81h-1.99zM151.89 377.72h1.99v0.81h-1.99zM155.16 377.72h1.99v0.81h-1.99zM158.43 377.72h1.99v0.81h-1.99zM164.98 377.72h1.99v0.81h-1.99zM168.25 377.72h1.99v0.81h-1.99zM171.52 377.72h1.99v0.81h-1.99zM174.80 377.72h1.99v0.81h-1.99zM178.07 377.72h1.99v0.81h-1.99zM181.34 377.72h1.99v0.81h-1.99zM184.62 377.72h1.99v0.81h-1.99zM187.89 377.72h1.99v0.81h-1.99zM109.34 380.99h1.99v0.81h-1.99zM115.88 380.99h1.99v0.81h-1.99zM119.16 380.99h1.99v0.81h-1.99zM122.43 380.99h1.99v0.81h-1.99zM125.70 380.99h1.99v0.81h-1.99zM128.98 380.99h1.99v0.81h-1.99zM132.25 380.99h1.99v0.81h-1.99zM135.52 380.99h1.99v0.81h-1.99zM138.79 380.99h1.99v0.81h-1.99zM142.07 380.99h1.99v0.81h-1.99zM145.34 380.99h1.99v0.81h-1.99zM151.89 380.99h1.99v0.81h-1.99zM155.16 380.99h1.99v0.81h-1.99zM164.98 380.99h1.99v0.81h-1.99zM168.25 380.99h1.99v0.81h-1.99zM171.52 380.99h1.99v0.81h-1.99zM174.80 380.99h1.99v0.81h-1.99zM178.07 380.99h1.99v0.81h-1.99zM184.62 380.99h1.99v0.81h-1.99zM112.61 384.27h1.99v0.81h-1.99zM115.88 384.27h1.99v0.81h-1.99zM119.16 384.27h1.99v0.81h-1.99zM122.43 384.27h1.99v0.81h-1.99zM125.70 384.27h1.99v0.81h-1.99zM128.98 384.27h1.99v0.81h-1.99zM132.25 384.27h1.99v0.81h-1.99zM135.52 384.27h1.99v0.81h-1.99zM138.79 384.27h1.99v0.81h-1.99zM142.07 384.27h1.99v0.81h-1.99zM145.34 384.27h1.99v0.81h-1.99zM148.61 384.27h1.99v0.81h-1.99zM151.89 384.27h1.99v0.81h-1.99zM155.16 384.27h1.99v0.81h-1.99zM158.43 384.27h1.99v0.81h-1.99zM164.98 384.27h1.99v0.81h-1.99zM168.25 384.27h1.99v0.81h-1.99zM171.52 384.27h1.99v0.81h-1.99zM174.80 384.27h1.99v0.81h-1.99zM178.07 384.27h1.99v0.81h-1.99zM184.62 384.27h1.99v0.81h-1.99zM187.89 384.27h1.99v0.81h-1.99zM115.88 387.54h1.99v0.81h-1.99zM119.16 387.54h1.99v0.81h-1.99zM122.43 387.54h1.99v0.81h-1.99zM125.70 387.54h1.99v0.81h-1.99zM128.98 387.54h1.99v0.81h-1.99zM132.25 387.54h1.99v0.81h-1.99zM135.52 387.54h1.99v0.81h-1.99zM138.79 387.54h1.99v0.81h-1.99zM142.07 387.54h1.99v0.81h-1.99zM145.34 387.54h1.99v0.81h-1.99zM148.61 387.54h1.99v0.81h-1.99zM151.89 387.54h1.99v0.81h-1.99zM155.16 387.54h1.99v0.81h-1.99zM158.43 387.54h1.99v0.81h-1.99zM164.98 387.54h1.99v0.81h-1.99zM168.25 387.54h1.99v0.81h-1.99zM171.52 387.54h1.99v0.81h-1.99zM174.80 387.54h1.99v0.81h-1.99zM178.07 387.54h1.99v0.81h-1.99zM181.34 387.54h1.99v0.81h-1.99zM184.62 387.54h1.99v0.81h-1.99zM187.89 387.54h1.99v0.81h-1.99zM191.16 387.54h1.99v0.81h-1.99zM119.16 390.81h1.99v0.81h-1.99zM122.43 390.81h1.99v0.81h-1.99zM125.70 390.81h1.99v0.81h-1.99zM128.98 390.81h1.99v0.81h-1.99zM132.25 390.81h1.99v0.81h-1.99zM135.52 390.81h1.99v0.81h-1.99zM138.79 390.81h1.99v0.81h-1.99zM142.07 390.81h1.99v0.81h-1.99zM145.34 390.81h1.99v0.81h-1.99zM148.61 390.81h1.99v0.81h-1.99zM151.89 390.81h1.99v0.81h-1.99zM155.16 390.81h1.99v0.81h-1.99zM158.43 390.81h1.99v0.81h-1.99zM164.98 390.81h1.99v0.81h-1.99zM168.25 390.81h1.99v0.81h-1.99zM171.52 390.81h1.99v0.81h-1.99zM174.80 390.81h1.99v0.81h-1.99zM178.07 390.81h1.99v0.81h-1.99zM181.34 390.81h1.99v0.81h-1.99zM184.62 390.81h1.99v0.81h-1.99zM187.89 390.81h1.99v0.81h-1.99zM191.16 390.81h1.99v0.81h-1.99zM122.43 394.09h1.99v0.81h-1.99zM125.70 394.09h1.99v0.81h-1.99zM128.98 394.09h1.99v0.81h-1.99zM132.25 394.09h1.99v0.81h-1.99zM135.52 394.09h1.99v0.81h-1.99zM138.79 394.09h1.99v0.81h-1.99zM142.07 394.09h1.99v0.81h-1.99zM145.34 394.09h1.99v0.81h-1.99zM148.61 394.09h1.99v0.81h-1.99zM151.89 394.09h1.99v0.81h-1.99zM155.16 394.09h1.99v0.81h-1.99zM158.43 394.09h1.99v0.81h-1.99zM164.98 394.09h1.99v0.81h-1.99zM168.25 394.09h1.99v0.81h-1.99zM171.52 394.09h1.99v0.81h-1.99zM174.80 394.09h1.99v0.81h-1.99zM178.07 394.09h1.99v0.81h-1.99zM181.34 394.09h1.99v0.81h-1.99zM184.62 394.09h1.99v0.81h-1.99zM187.89 394.09h1.99v0.81h-1.99zM191.16 394.09h1.99v0.81h-1.99zM125.70 397.36h1.99v0.81h-1.99zM128.98 397.36h1.99v0.81h-1.99zM132.25 397.36h1.99v0.81h-1.99zM135.52 397.36h1.99v0.81h-1.99zM138.79 397.36h1.99v0.81h-1.99zM142.07 397.36h1.99v0.81h-1.99zM145.34 397.36h1.99v0.81h-1.99zM148.61 397.36h1.99v0.81h-1.99zM151.89 397.36h1.99v0.81h-1.99zM155.16 397.36h1.99v0.81h-1.99zM158.43 397.36h1.99v0.81h-1.99zM164.98 397.36h1.99v0.81h-1.99zM168.25 397.36h1.99v0.81h-1.99zM171.52 397.36h1.99v0.81h-1.99zM174.80 397.36h1.99v0.81h-1.99zM178.07 397.36h1.99v0.81h-1.99zM128.98 400.63h1.99v0.81h-1.99zM132.25 400.63h1.99v0.81h-1.99zM135.52 400.63h1.99v0.81h-1.99zM138.79 400.63h1.99v0.81h-1.99zM142.07 400.63h1.99v0.81h-1.99zM145.34 400.63h1.99v0.81h-1.99zM148.61 400.63h1.99v0.81h-1.99zM151.89 400.63h1.99v0.81h-1.99zM155.16 400.63h1.99v0.81h-1.99zM158.43 400.63h1.99v0.81h-1.99zM164.98 400.63h1.99v0.81h-1.99zM168.25 400.63h1.99v0.81h-1.99zM171.52 400.63h1.99v0.81h-1.99zM174.80 400.63h1.99v0.81h-1.99zM178.07 400.63h1.99v0.81h-1.99zM181.34 400.63h1.99v0.81h-1.99zM184.62 400.63h1.99v0.81h-1.99zM187.89 400.63h1.99v0.81h-1.99zM132.25 403.91h1.99v0.81h-1.99zM135.52 403.91h1.99v0.81h-1.99zM138.79 403.91h1.99v0.81h-1.99zM142.07 403.91h1.99v0.81h-1.99zM145.34 403.91h1.99v0.81h-1.99zM148.61 403.91h1.99v0.81h-1.99zM151.89 403.91h1.99v0.81h-1.99zM155.16 403.91h1.99v0.81h-1.99zM158.43 403.91h1.99v0.81h-1.99zM164.98 403.91h1.99v0.81h-1.99zM168.25 403.91h1.99v0.81h-1.99zM171.52 403.91h1.99v0.81h-1.99zM174.80 403.91h1.99v0.81h-1.99zM178.07 403.91h1.99v0.81h-1.99zM181.34 403.91h1.99v0.81h-1.99zM184.62 403.91h1.99v0.81h-1.99zM187.89 403.91h1.99v0.81h-1.99zM135.52 407.18h1.99v0.81h-1.99zM138.79 407.18h1.99v0.81h-1.99zM142.07 407.18h1.99v0.81h-1.99zM145.34 407.18h1.99v0.81h-1.99zM151.89 407.18h1.99v0.81h-1.99zM155.16 407.18h1.99v0.81h-1.99zM158.43 407.18h1.99v0.81h-1.99zM161.71 407.18h1.99v0.81h-1.99zM164.98 407.18h1.99v0.81h-1.99zM168.25 407.18h1.99v0.81h-1.99zM171.52 407.18h1.99v0.81h-1.99zM174.80 407.18h1.99v0.81h-1.99zM178.07 407.18h1.99v0.81h-1.99zM187.89 407.18h1.99v0.81h-1.99zM191.16 407.18h1.99v0.81h-1.99zM138.79 410.45h1.99v0.81h-1.99zM142.07 410.45h1.99v0.81h-1.99zM145.34 410.45h1.99v0.81h-1.99zM148.61 410.45h1.99v0.81h-1.99zM151.89 410.45h1.99v0.81h-1.99zM155.16 410.45h1.99v0.81h-1.99zM158.43 410.45h1.99v0.81h-1.99zM164.98 410.45h1.99v0.81h-1.99zM168.25 410.45h1.99v0.81h-1.99zM171.52 410.45h1.99v0.81h-1.99zM174.80 410.45h1.99v0.81h-1.99zM178.07 410.45h1.99v0.81h-1.99zM187.89 410.45h1.99v0.81h-1.99zM191.16 410.45h1.99v0.81h-1.99zM142.07 413.72h1.99v0.81h-1.99zM145.34 413.72h1.99v0.81h-1.99zM151.89 413.72h1.99v0.81h-1.99zM155.16 413.72h1.99v0.81h-1.99zM158.43 413.72h1.99v0.81h-1.99zM164.98 413.72h1.99v0.81h-1.99zM168.25 413.72h1.99v0.81h-1.99zM171.52 413.72h1.99v0.81h-1.99zM174.80 413.72h1.99v0.81h-1.99zM178.07 413.72h1.99v0.81h-1.99zM187.89 413.72h1.99v0.81h-1.99zM191.16 413.72h1.99v0.81h-1.99zM145.34 417.00h1.99v0.81h-1.99zM151.89 417.00h1.99v0.81h-1.99zM155.16 417.00h1.99v0.81h-1.99zM158.43 417.00h1.99v0.81h-1.99zM164.98 417.00h1.99v0.81h-1.99zM168.25 417.00h1.99v0.81h-1.99zM171.52 417.00h1.99v0.81h-1.99zM174.80 417.00h1.99v0.81h-1.99zM178.07 417.00h1.99v0.81h-1.99zM181.34 417.00h1.99v0.81h-1.99zM184.62 417.00h1.99v0.81h-1.99zM187.89 417.00h1.99v0.81h-1.99zM151.89 420.27h1.99v0.81h-1.99zM155.16 420.27h1.99v0.81h-1.99zM158.43 420.27h1.99v0.81h-1.99zM164.98 420.27h1.99v0.81h-1.99zM168.25 420.27h1.99v0.81h-1.99zM171.52 420.27h1.99v0.81h-1.99zM174.80 420.27h1.99v0.81h-1.99zM178.07 420.27h1.99v0.81h-1.99zM184.62 420.27h1.99v0.81h-1.99zM151.89 423.54h1.99v0.81h-1.99zM155.16 423.54h1.99v0.81h-1.99zM158.43 423.54h1.99v0.81h-1.99zM184.62 423.54h1.99v0.81h-1.99zM155.16 426.82h1.99v0.81h-1.99zM158.43 426.82h1.99v0.81h-1.99zM164.98 426.82h1.99v0.81h-1.99zM168.25 426.82h1.99v0.81h-1.99zM171.52 426.82h1.99v0.81h-1.99zM174.80 426.82h1.99v0.81h-1.99zM178.07 426.82h1.99v0.81h-1.99zM181.34 426.82h1.99v0.81h-1.99zM184.62 426.82h1.99v0.81h-1.99zM187.89 426.82h1.99v0.81h-1.99zM191.16 426.82h1.99v0.81h-1.99zM158.43 430.09h1.99v0.81h-1.99zM164.98 430.09h1.99v0.81h-1.99zM168.25 430.09h1.99v0.81h-1.99zM171.52 430.09h1.99v0.81h-1.99zM174.80 430.09h1.99v0.81h-1.99zM178.07 430.09h1.99v0.81h-1.99zM181.34 430.09h1.99v0.81h-1.99zM184.62 430.09h1.99v0.81h-1.99zM187.89 430.09h1.99v0.81h-1.99zM191.16 430.09h1.99v0.81h-1.99zM164.98 433.36h1.99v0.81h-1.99zM168.25 433.36h1.99v0.81h-1.99zM171.52 433.36h1.99v0.81h-1.99zM174.80 433.36h1.99v0.81h-1.99zM178.07 433.36h1.99v0.81h-1.99zM181.34 433.36h1.99v0.81h-1.99zM184.62 433.36h1.99v0.81h-1.99zM187.89 433.36h1.99v0.81h-1.99zM191.16 433.36h1.99v0.81h-1.99zM187.89 436.64h1.99v0.81h-1.99zM168.25 439.91h1.99v0.81h-1.99zM171.52 439.91h1.99v0.81h-1.99zM174.80 439.91h1.99v0.81h-1.99zM178.07 439.91h1.99v0.81h-1.99zM181.34 439.91h1.99v0.81h-1.99zM184.62 439.91h1.99v0.81h-1.99zM171.52 443.18h1.99v0.81h-1.99zM174.80 443.18h1.99v0.81h-1.99zM178.07 443.18h1.99v0.81h-1.99zM181.34 443.18h1.99v0.81h-1.99zM184.62 443.18h1.99v0.81h-1.99zM174.80 446.45h1.99v0.81h-1.99zM178.07 446.45h1.99v0.81h-1.99zM181.34 446.45h1.99v0.81h-1.99zM184.62 446.45h1.99v0.81h-1.99zM178.07 449.73h1.99v0.81h-1.99zM184.62 453.00h1.99v0.81h-1.99zM184.62 456.27h1.99v0.81h-1.99zM191.16 456.27h1.99v0.81h-1.99zM191.16 459.55h1.99v0.81h-1.99zM191.16 462.82h1.99v0.81h-1.99z"/><path fill-opacity="0.5" d="M47.15 299.17h1.99v0.81h-1.99zM53.70 299.17h1.99v0.81h-1.99zM70.06 299.17h1.99v0.81h-1.99zM73.33 299.17h1.99v0.81h-1.99zM76.61 299.17h1.99v0.81h-1.99zM92.97 299.17h1.99v0.81h-1.99zM99.52 299.17h1.99v0.81h-1.99zM102.79 299.17h1.99v0.81h-1.99zM76.61 302.44h1.99v0.81h-1.99zM79.88 302.44h1.99v0.81h-1.99zM135.52 302.44h1.99v0.81h-1.99zM138.79 302.44h1.99v0.81h-1.99zM56.97 305.72h1.99v0.81h-1.99zM122.43 305.72h1.99v0.81h-1.99zM142.07 305.72h1.99v0.81h-1.99zM148.61 305.72h1.99v0.81h-1.99zM63.52 312.26h1.99v0.81h-1.99zM86.43 312.26h1.99v0.81h-1.99zM112.61 312.26h1.99v0.81h-1.99zM184.62 312.26h1.99v0.81h-1.99zM148.61 315.53h1.99v0.81h-1.99zM135.52 318.81h1.99v0.81h-1.99zM53.70 322.08h1.99v0.81h-1.99zM56.97 322.08h1.99v0.81h-1.99zM60.24 322.08h1.99v0.81h-1.99zM66.79 322.08h1.99v0.81h-1.99zM92.97 322.08h1.99v0.81h-1.99zM115.88 322.08h1.99v0.81h-1.99zM135.52 322.08h1.99v0.81h-1.99zM83.15 325.35h1.99v0.81h-1.99zM99.52 325.35h1.99v0.81h-1.99zM109.34 325.35h1.99v0.81h-1.99zM145.34 325.35h1.99v0.81h-1.99zM158.43 325.35h1.99v0.81h-1.99zM122.43 328.63h1.99v0.81h-1.99zM125.70 328.63h1.99v0.81h-1.99zM138.79 328.63h1.99v0.81h-1.99zM142.07 328.63h1.99v0.81h-1.99zM148.61 328.63h1.99v0.81h-1.99zM161.71 328.63h1.99v0.81h-1.99zM63.52 331.90h1.99v0.81h-1.99zM155.16 331.90h1.99v0.81h-1.99zM148.61 335.17h1.99v0.81h-1.99zM174.80 335.17h1.99v0.81h-1.99zM184.62 335.17h1.99v0.81h-1.99zM187.89 335.17h1.99v0.81h-1.99zM92.97 338.45h1.99v0.81h-1.99zM158.43 338.45h1.99v0.81h-1.99zM184.62 338.45h1.99v0.81h-1.99zM187.89 338.45h1.99v0.81h-1.99zM148.61 341.72h1.99v0.81h-1.99zM187.89 341.72h1.99v0.81h-1.99zM122.43 344.99h1.99v0.81h-1.99zM138.79 344.99h1.99v0.81h-1.99zM148.61 344.99h1.99v0.81h-1.99zM138.79 348.26h1.99v0.81h-1.99zM151.89 348.26h1.99v0.81h-1.99zM181.34 348.26h1.99v0.81h-1.99zM181.34 351.54h1.99v0.81h-1.99zM184.62 351.54h1.99v0.81h-1.99zM112.61 354.81h1.99v0.81h-1.99zM132.25 354.81h1.99v0.81h-1.99zM151.89 354.81h1.99v0.81h-1.99zM168.25 354.81h1.99v0.81h-1.99zM92.97 358.08h1.99v0.81h-1.99zM161.71 358.08h1.99v0.81h-1.99zM92.97 361.36h1.99v0.81h-1.99zM148.61 361.36h1.99v0.81h-1.99zM158.43 361.36h1.99v0.81h-1.99zM92.97 364.63h1.99v0.81h-1.99zM148.61 364.63h1.99v0.81h-1.99zM184.62 364.63h1.99v0.81h-1.99zM106.06 367.90h1.99v0.81h-1.99zM115.88 367.90h1.99v0.81h-1.99zM119.16 367.90h1.99v0.81h-1.99zM132.25 367.90h1.99v0.81h-1.99zM135.52 367.90h1.99v0.81h-1.99zM138.79 367.90h1.99v0.81h-1.99zM148.61 367.90h1.99v0.81h-1.99zM155.16 367.90h1.99v0.81h-1.99zM164.98 367.90h1.99v0.81h-1.99zM99.52 371.18h1.99v0.81h-1.99zM119.16 371.18h1.99v0.81h-1.99zM135.52 371.18h1.99v0.81h-1.99zM138.79 371.18h1.99v0.81h-1.99zM148.61 371.18h1.99v0.81h-1.99zM168.25 371.18h1.99v0.81h-1.99zM171.52 371.18h1.99v0.81h-1.99zM148.61 374.45h1.99v0.81h-1.99zM158.43 374.45h1.99v0.81h-1.99zM161.71 374.45h1.99v0.81h-1.99zM181.34 374.45h1.99v0.81h-1.99zM148.61 377.72h1.99v0.81h-1.99zM112.61 380.99h1.99v0.81h-1.99zM161.71 384.27h1.99v0.81h-1.99zM148.61 407.18h1.99v0.81h-1.99zM181.34 407.18h1.99v0.81h-1.99zM181.34 410.45h1.99v0.81h-1.99zM164.98 423.54h1.99v0.81h-1.99zM168.25 423.54h1.99v0.81h-1.99zM171.52 423.54h1.99v0.81h-1.99zM174.80 423.54h1.99v0.81h-1.99zM178.07 423.54h1.99v0.81h-1.99zM181.34 423.54h1.99v0.81h-1.99zM161.71 426.82h1.99v0.81h-1.99zM181.34 449.73h1.99v0.81h-1.99zM184.62 449.73h1.99v0.81h-1.99zM187.89 449.73h1.99v0.81h-1.99zM187.89 456.27h1.99v0.81h-1.99z"/></g>
<text transform="translate(22.00,300.79) scale(0.1)" text-anchor="end" class="hl" font-size="30.0" font-weight="bold">VTCN1</text>
<text transform="translate(22.00,304.06) scale(0.1)" text-anchor="end" class="hl" font-size="30.0" font-weight="bold">CD276</text>
<text transform="translate(22.00,307.33) scale(0.1)" text-anchor="end" class="hl" font-size="30.0" font-weight="bold">LGALS9</text>
<text transform="translate(22.00,310.61) scale(0.1)" text-anchor="end" class="hl" font-size="30.0" font-weight="bold">IDO1</text>
<text transform="translate(22.00,313.88) scale(0.1)" text-anchor="end" class="hl" font-size="30.0" font-weight="bold">CD44</text>
<text transform="translate(22.00,317.15) scale(0.1)" text-anchor="end" class="hl" font-size="30.0" font-weight="bold">TNFRSF18</text>
<text transform="translate(22.00,320.42) scale(0.1)" text-anchor="end" class="hl" font-size="30.0" font-weight="bold">TNFRSF14</text>
<text transform="translate(22.00,323.70) scale(0.1)" text-anchor="end" class="hl" font-size="30.0" font-weight="bold">LAIR1</text>
<text transform="translate(22.00,326.97) scale(0.1)" text-anchor="end" class="hl" font-size="30.0" font-weight="bold">NRP1</text>
<text transform="translate(22.00,330.24) scale(0.1)" text-anchor="end" class="hl" font-size="30.0" font-weight="bold">BTNL2</text>
<text transform="translate(22.00,333.52) scale(0.1)" text-anchor="end" class="hl" font-size="30.0" font-weight="bold">PVR</text>
<text transform="translate(22.00,336.79) scale(0.1)" text-anchor="end" class="hl" font-size="30.0" font-weight="bold">BTN2A1</text>
<text transform="translate(22.00,340.06) scale(0.1)" text-anchor="end" class="hl" font-size="30.0" font-weight="bold">CD48</text>
<text transform="translate(22.00,343.34) scale(0.1)" text-anchor="end" class="hl" font-size="30.0" font-weight="bold">LAG3</text>
<text transform="translate(22.00,346.61) scale(0.1)" text-anchor="end" class="hl" font-size="30.0" font-weight="bold">BTN3A2</text>
<text transform="translate(22.00,349.88) scale(0.1)" text-anchor="end" class="hl" font-size="30.0" font-weight="bold">TNFRSF8</text>
<text transform="translate(22.00,353.15) scale(0.1)" text-anchor="end" class="hl" font-size="30.0" font-weight="bold">HAVCR2</text>
<text transform="translate(22.00,356.43) scale(0.1)" text-anchor="end" class="hl" font-size="30.0" font-weight="bold">TNFSF9</text>
<text transform="translate(22.00,359.70) scale(0.1)" text-anchor="end" class="hl" font-size="30.0" font-weight="bold">CD27</text>
<text transform="translate(22.00,362.97) scale(0.1)" text-anchor="end" class="hl" font-size="30.0" font-weight="bold">PDCD1</text>
<text transform="translate(22.00,366.25) scale(0.1)" text-anchor="end" class="hl" font-size="30.0" font-weight="bold">CD86</text>
<text transform="translate(22.00,369.52) scale(0.1)" text-anchor="end" class="hl" font-size="30.0" font-weight="bold">BTLA</text>
<text transform="translate(22.00,372.79) scale(0.1)" text-anchor="end" class="hl" font-size="30.0" font-weight="bold">TNFSF14</text>
<text transform="translate(22.00,376.07) scale(0.1)" text-anchor="end" class="hl" font-size="30.0" font-weight="bold">CTLA4</text>
<text transform="translate(22.00,379.34) scale(0.1)" text-anchor="end" class="hl" font-size="30.0" font-weight="bold">CD80</text>
<text transform="translate(22.00,382.61) scale(0.1)" text-anchor="end" class="hl" font-size="30.0" font-weight="bold">CD70</text>
<text transform="translate(22.00,385.88) scale(0.1)" text-anchor="end" class="hl" font-size="30.0" font-weight="bold">TIGIT</text>
<text transform="translate(22.00,389.16) scale(0.1)" text-anchor="end" class="hl" font-size="30.0" font-weight="bold">TNFSF4</text>
<text transform="translate(22.00,392.43) scale(0.1)" text-anchor="end" class="hl" font-size="30.0" font-weight="bold">PDCD1LG2</text>
<text transform="translate(22.00,395.70) scale(0.1)" text-anchor="end" class="hl" font-size="30.0" font-weight="bold">TLR4</text>
<text transform="translate(22.00,398.98) scale(0.1)" text-anchor="end" class="hl" font-size="30.0" font-weight="bold">ICOS</text>
<text transform="translate(22.00,402.25) scale(0.1)" text-anchor="end" class="hl" font-size="30.0" font-weight="bold">CD40LG</text>
<text transform="translate(22.00,405.52) scale(0.1)" text-anchor="end" class="hl" font-size="30.0" font-weight="bold">IDO2</text>
<text transform="translate(22.00,408.80) scale(0.1)" text-anchor="end" class="hl" font-size="30.0" font-weight="bold">CD28</text>
<text transform="translate(22.00,412.07) scale(0.1)" text-anchor="end" class="hl" font-size="30.0" font-weight="bold">TNFSF18</text>
<text transform="translate(22.00,415.34) scale(0.1)" text-anchor="end" class="hl" font-size="30.0" font-weight="bold">CD200</text>
<text transform="translate(22.00,418.61) scale(0.1)" text-anchor="end" class="hl" font-size="30.0" font-weight="bold">CD160</text>
<text transform="translate(22.00,421.89) scale(0.1)" text-anchor="end" class="hl" font-size="30.0" font-weight="bold">CD40</text>
<text transform="translate(22.00,425.16) scale(0.1)" text-anchor="end" class="hl" font-size="30.0" font-weight="bold">CD244</text>
<text transform="translate(22.00,428.43) scale(0.1)" text-anchor="end" class="hl" font-size="30.0" font-weight="bold">KIR3DL1</text>
<text transform="translate(22.00,431.71) scale(0.1)" text-anchor="end" class="hl" font-size="30.0" font-weight="bold">CD200R1</text>
<text transform="translate(22.00,434.98) scale(0.1)" text-anchor="end" class="hl" font-size="30.0" font-weight="bold">ADORA2A</text>
<text transform="translate(22.00,438.25) scale(0.1)" text-anchor="end" class="hl" font-size="30.0" font-weight="bold">NRP2</text>
<text transform="translate(22.00,441.53) scale(0.1)" text-anchor="end" class="hl" font-size="30.0" font-weight="bold">TMIGD2</text>
<text transform="translate(22.00,444.80) scale(0.1)" text-anchor="end" class="hl" font-size="30.0" font-weight="bold">HHLA2</text>
<text transform="translate(22.00,448.07) scale(0.1)" text-anchor="end" class="hl" font-size="30.0" font-weight="bold">CD274</text>
<text transform="translate(22.00,451.34) scale(0.1)" text-anchor="end" class="hl" font-size="30.0" font-weight="bold">KIR2DL3</text>
<text transform="translate(22.00,454.62) scale(0.1)" text-anchor="end" class="hl" font-size="30.0" font-weight="bold">KIR2DL4</text>
<text transform="translate(22.00,457.89) scale(0.1)" text-anchor="end" class="hl" font-size="30.0" font-weight="bold">KIR2DL1</text>
<text transform="translate(22.00,461.16) scale(0.1)" text-anchor="end" class="hl" font-size="30.0" font-weight="bold">BTNL9</text>
<text transform="translate(22.00,464.44) scale(0.1)" text-anchor="end" class="hl" font-size="30.0" font-weight="bold">TNFRSF25</text>
<text transform="translate(22.00,467.71) scale(0.1)" text-anchor="end" class="hl" font-size="30.0" font-weight="bold">ZNF score</text>
<text transform="translate(25.24,297.10) rotate(-45) scale(0.1)" class="hl" font-size="30.0" font-weight="bold">VTCN1</text>
<text transform="translate(28.51,297.10) rotate(-45) scale(0.1)" class="hl" font-size="30.0" font-weight="bold">CD276</text>
<text transform="translate(31.78,297.10) rotate(-45) scale(0.1)" class="hl" font-size="30.0" font-weight="bold">LGALS9</text>
<text transform="translate(35.06,297.10) rotate(-45) scale(0.1)" class="hl" font-size="30.0" font-weight="bold">IDO1</text>
<text transform="translate(38.33,297.10) rotate(-45) scale(0.1)" class="hl" font-size="30.0" font-weight="bold">CD44</text>
<text transform="translate(41.60,297.10) rotate(-45) scale(0.1)" class="hl" font-size="30.0" font-weight="bold">TNFRSF18</text>
<text transform="translate(44.87,297.10) rotate(-45) scale(0.1)" class="hl" font-size="30.0" font-weight="bold">TNFRSF14</text>
<text transform="translate(48.15,297.10) rotate(-45) scale(0.1)" class="hl" font-size="30.0" font-weight="bold">LAIR1</text>
<text transform="translate(51.42,297.10) rotate(-45) scale(0.1)" class="hl" font-size="30.0" font-weight="bold">NRP1</text>
<text transform="translate(54.69,297.10) rotate(-45) scale(0.1)" class="hl" font-size="30.0" font-weight="bold">BTNL2</text>
<text transform="translate(57.97,297.10) rotate(-45) scale(0.1)" class="hl" font-size="30.0" font-weight="bold">PVR</text>
<text transform="translate(61.24,297.10) rotate(-45) scale(0.1)" class="hl" font-size="30.0" font-weight="bold">BTN2A1</text>
<text transform="translate(64.51,297.10) rotate(-45) scale(0.1)" class="hl" font-size="30.0" font-weight="bold">CD48</text>
<text transform="translate(67.79,297.10) rotate(-45) scale(0.1)" class="hl" font-size="30.0" font-weight="bold">LAG3</text>
<text transform="translate(71.06,297.10) rotate(-45) scale(0.1)" class="hl" font-size="30.0" font-weight="bold">BTN3A2</text>
<text transform="translate(74.33,297.10) rotate(-45) scale(0.1)" class="hl" font-size="30.0" font-weight="bold">TNFRSF8</text>
<text transform="translate(77.60,297.10) rotate(-45) scale(0.1)" class="hl" font-size="30.0" font-weight="bold">HAVCR2</text>
<text transform="translate(80.88,297.10) rotate(-45) scale(0.1)" class="hl" font-size="30.0" font-weight="bold">TNFSF9</text>
<text transform="translate(84.15,297.10) rotate(-45) scale(0.1)" class="hl" font-size="30.0" font-weight="bold">CD27</text>
<text transform="translate(87.42,297.10) rotate(-45) scale(0.1)" class="hl" font-size="30.0" font-weight="bold">PDCD1</text>
<text transform="translate(90.70,297.10) rotate(-45) scale(0.1)" class="hl" font-size="30.0" font-weight="bold">CD86</text>
<text transform="translate(93.97,297.10) rotate(-45) scale(0.1)" class="hl" font-size="30.0" font-weight="bold">BTLA</text>
<text transform="translate(97.24,297.10) rotate(-45) scale(0.1)" class="hl" font-size="30.0" font-weight="bold">TNFSF14</text>
<text transform="translate(100.52,297.10) rotate(-45) scale(0.1)" class="hl" font-size="30.0" font-weight="bold">CTLA4</text>
<text transform="translate(103.79,297.10) rotate(-45) scale(0.1)" class="hl" font-size="30.0" font-weight="bold">CD80</text>
<text transform="translate(107.06,297.10) rotate(-45) scale(0.1)" class="hl" font-size="30.0" font-weight="bold">CD70</text>
<text transform="translate(110.33,297.10) rotate(-45) scale(0.1)" class="hl" font-size="30.0" font-weight="bold">TIGIT</text>
<text transform="translate(113.61,297.10) rotate(-45) scale(0.1)" class="hl" font-size="30.0" font-weight="bold">TNFSF4</text>
<text transform="translate(116.88,297.10) rotate(-45) scale(0.1)" class="hl" font-size="30.0" font-weight="bold">PDCD1LG2</text>
<text transform="translate(120.15,297.10) rotate(-45) scale(0.1)" class="hl" font-size="30.0" font-weight="bold">TLR4</text>
<text transform="translate(123.43,297.10) rotate(-45) scale(0.1)" class="hl" font-size="30.0" font-weight="bold">ICOS</text>
<text transform="translate(126.70,297.10) rotate(-45) scale(0.1)" class="hl" font-size="30.0" font-weight="bold">CD40LG</text>
<text transform="translate(129.97,297.10) rotate(-45) scale(0.1)" class="hl" font-size="30.0" font-weight="bold">IDO2</text>
<text transform="translate(133.25,297.10) rotate(-45) scale(0.1)" class="hl" font-size="30.0" font-weight="bold">CD28</text>
<text transform="translate(136.52,297.10) rotate(-45) scale(0.1)" class="hl" font-size="30.0" font-weight="bold">TNFSF18</text>
<text transform="translate(139.79,297.10) rotate(-45) scale(0.1)" class="hl" font-size="30.0" font-weight="bold">CD200</text>
<text transform="translate(143.06,297.10) rotate(-45) scale(0.1)" class="hl" font-size="30.0" font-weight="bold">CD160</text>
<text transform="translate(146.34,297.10) rotate(-45) scale(0.1)" class="hl" font-size="30.0" font-weight="bold">CD40</text>
<text transform="translate(149.61,297.10) rotate(-45) scale(0.1)" class="hl" font-size="30.0" font-weight="bold">CD244</text>
<text transform="translate(152.88,297.10) rotate(-45) scale(0.1)" class="hl" font-size="30.0" font-weight="bold">KIR3DL1</text>
<text transform="translate(156.16,297.10) rotate(-45) scale(0.1)" class="hl" font-size="30.0" font-weight="bold">CD200R1</text>
<text transform="translate(159.43,297.10) rotate(-45) scale(0.1)" class="hl" font-size="30.0" font-weight="bold">ADORA2A</text>
<text transform="translate(162.70,297.10) rotate(-45) scale(0.1)" class="hl" font-size="30.0" font-weight="bold">NRP2</text>
<text transform="translate(165.98,297.10) rotate(-45) scale(0.1)" class="hl" font-size="30.0" font-weight="bold">TMIGD2</text>
<text transform="translate(169.25,297.10) rotate(-45) scale(0.1)" class="hl" font-size="30.0" font-weight="bold">HHLA2</text>
<text transform="translate(172.52,297.10) rotate(-45) scale(0.1)" class="hl" font-size="30.0" font-weight="bold">CD274</text>
<text transform="translate(175.79,297.10) rotate(-45) scale(0.1)" class="hl" font-size="30.0" font-weight="bold">KIR2DL3</text>
<text transform="translate(179.07,297.10) rotate(-45) scale(0.1)" class="hl" font-size="30.0" font-weight="bold">KIR2DL4</text>
<text transform="translate(182.34,297.10) rotate(-45) scale(0.1)" class="hl" font-size="30.0" font-weight="bold">KIR2DL1</text>
<text transform="translate(185.61,297.10) rotate(-45) scale(0.1)" class="hl" font-size="30.0" font-weight="bold">BTNL9</text>
<text transform="translate(188.89,297.10) rotate(-45) scale(0.1)" class="hl" font-size="30.0" font-weight="bold">TNFRSF25</text>
<text transform="translate(192.16,297.10) rotate(-45) scale(0.1)" class="hl" font-size="30.0" font-weight="bold">ZNF score</text>
<defs><linearGradient id="g23298" x1="0" y1="0" x2="0" y2="1"><stop offset="0.0" stop-color="#E8202A"/><stop offset="0.05" stop-color="#EA323B"/><stop offset="0.1" stop-color="#EC444D"/><stop offset="0.15" stop-color="#EE575F"/><stop offset="0.2" stop-color="#F06B71"/><stop offset="0.25" stop-color="#F27F85"/><stop offset="0.3" stop-color="#F49499"/><stop offset="0.35" stop-color="#F6AAAE"/><stop offset="0.4" stop-color="#F9C1C4"/><stop offset="0.45" stop-color="#FBDCDD"/><stop offset="0.5" stop-color="#FFFFFF"/><stop offset="0.55" stop-color="#DEE4F1"/><stop offset="0.6" stop-color="#C5D0E6"/><stop offset="0.65" stop-color="#AEBEDD"/><stop offset="0.7" stop-color="#9AAED4"/><stop offset="0.75" stop-color="#869ECC"/><stop offset="0.8" stop-color="#738FC4"/><stop offset="0.85" stop-color="#6080BC"/><stop offset="0.9" stop-color="#4E72B5"/><stop offset="0.95" stop-color="#3D64AD"/><stop offset="1.0" stop-color="#2C56A6"/></linearGradient></defs>
<rect x="196.7" y="298.5" width="7.0" height="170.0" fill="url(#g23298)" stroke="#222" stroke-width="0.8"/>
<line x1="203.39999999999998" y1="298.50" x2="204.6" y2="298.50" stroke="#222" stroke-width="0.6"/>
<text transform="translate(211.30,299.90) scale(0.1)" class="hl" text-anchor="middle" font-size="39.0">1</text>
<line x1="203.39999999999998" y1="315.50" x2="204.6" y2="315.50" stroke="#222" stroke-width="0.6"/>
<text transform="translate(211.30,316.90) scale(0.1)" class="hl" text-anchor="middle" font-size="39.0">0.8</text>
<line x1="203.39999999999998" y1="332.50" x2="204.6" y2="332.50" stroke="#222" stroke-width="0.6"/>
<text transform="translate(211.30,333.90) scale(0.1)" class="hl" text-anchor="middle" font-size="39.0">0.6</text>
<line x1="203.39999999999998" y1="349.50" x2="204.6" y2="349.50" stroke="#222" stroke-width="0.6"/>
<text transform="translate(211.30,350.90) scale(0.1)" class="hl" text-anchor="middle" font-size="39.0">0.4</text>
<line x1="203.39999999999998" y1="366.50" x2="204.6" y2="366.50" stroke="#222" stroke-width="0.6"/>
<text transform="translate(211.30,367.90) scale(0.1)" class="hl" text-anchor="middle" font-size="39.0">0.2</text>
<line x1="203.39999999999998" y1="383.50" x2="204.6" y2="383.50" stroke="#222" stroke-width="0.6"/>
<text transform="translate(211.30,384.90) scale(0.1)" class="hl" text-anchor="middle" font-size="39.0">0</text>
<line x1="203.39999999999998" y1="400.50" x2="204.6" y2="400.50" stroke="#222" stroke-width="0.6"/>
<text transform="translate(211.30,401.90) scale(0.1)" class="hl" text-anchor="middle" font-size="39.0">−0.2</text>
<line x1="203.39999999999998" y1="417.50" x2="204.6" y2="417.50" stroke="#222" stroke-width="0.6"/>
<text transform="translate(211.30,418.90) scale(0.1)" class="hl" text-anchor="middle" font-size="39.0">−0.4</text>
<line x1="203.39999999999998" y1="434.50" x2="204.6" y2="434.50" stroke="#222" stroke-width="0.6"/>
<text transform="translate(211.30,435.90) scale(0.1)" class="hl" text-anchor="middle" font-size="39.0">−0.6</text>
<line x1="203.39999999999998" y1="451.50" x2="204.6" y2="451.50" stroke="#222" stroke-width="0.6"/>
<text transform="translate(211.30,452.90) scale(0.1)" class="hl" text-anchor="middle" font-size="39.0">−0.8</text>
<line x1="203.39999999999998" y1="468.50" x2="204.6" y2="468.50" stroke="#222" stroke-width="0.6"/>
<text transform="translate(211.30,469.90) scale(0.1)" class="hl" text-anchor="middle" font-size="39.0">−1</text>
<g shape-rendering="crispEdges"><path fill="#E8202A" d="M27.95 549.20h6.66v6.66h-6.66zM34.61 555.86h6.66v6.66h-6.66zM41.27 562.52h6.66v6.66h-6.66zM47.93 569.18h6.66v6.66h-6.66zM54.59 575.84h6.66v6.66h-6.66zM61.25 582.50h6.66v6.66h-6.66zM67.91 589.16h6.66v6.66h-6.66zM74.57 595.82h6.66v6.66h-6.66zM81.23 602.48h6.66v6.66h-6.66zM87.89 609.14h6.66v6.66h-6.66zM94.55 615.80h6.66v6.66h-6.66zM101.21 622.46h6.66v6.66h-6.66zM107.87 629.12h6.66v6.66h-6.66zM114.53 635.78h6.66v6.66h-6.66zM121.19 642.44h6.66v6.66h-6.66zM127.85 649.10h6.66v6.66h-6.66zM134.51 655.76h6.66v6.66h-6.66zM141.17 662.42h6.66v6.66h-6.66zM147.83 669.08h6.66v6.66h-6.66zM154.49 675.74h6.66v6.66h-6.66zM161.15 682.40h6.66v6.66h-6.66zM167.81 689.06h6.66v6.66h-6.66zM174.47 695.72h6.66v6.66h-6.66zM181.13 702.38h6.66v6.66h-6.66zM187.79 709.04h6.66v6.66h-6.66z"/><path fill="#EB3B44" d="M34.61 549.20h6.66v6.66h-6.66zM41.27 549.20h6.66v6.66h-6.66zM61.25 549.20h6.66v6.66h-6.66zM121.19 549.20h6.66v6.66h-6.66zM61.25 555.86h6.66v6.66h-6.66zM87.89 589.16h6.66v6.66h-6.66zM94.55 589.16h6.66v6.66h-6.66zM101.21 589.16h6.66v6.66h-6.66zM87.89 595.82h6.66v6.66h-6.66zM101.21 609.14h6.66v6.66h-6.66zM101.21 615.80h6.66v6.66h-6.66zM134.51 615.80h6.66v6.66h-6.66zM147.83 615.80h6.66v6.66h-6.66z"/><path fill="#EF6168" d="M47.93 549.20h6.66v6.66h-6.66zM54.59 549.20h6.66v6.66h-6.66zM87.89 549.20h6.66v6.66h-6.66zM147.83 549.20h6.66v6.66h-6.66zM47.93 555.86h6.66v6.66h-6.66zM54.59 555.86h6.66v6.66h-6.66zM87.89 555.86h6.66v6.66h-6.66zM147.83 555.86h6.66v6.66h-6.66zM167.81 555.86h6.66v6.66h-6.66zM114.53 569.18h6.66v6.66h-6.66zM127.85 569.18h6.66v6.66h-6.66zM167.81 569.18h6.66v6.66h-6.66zM114.53 575.84h6.66v6.66h-6.66zM127.85 575.84h6.66v6.66h-6.66zM167.81 575.84h6.66v6.66h-6.66zM87.89 582.50h6.66v6.66h-6.66zM121.19 602.48h6.66v6.66h-6.66zM161.15 602.48h6.66v6.66h-6.66zM127.85 609.14h6.66v6.66h-6.66zM121.19 615.80h6.66v6.66h-6.66zM127.85 615.80h6.66v6.66h-6.66z"/><path fill="#F06B71" d="M67.91 549.20h6.66v6.66h-6.66zM74.57 549.20h6.66v6.66h-6.66zM94.55 549.20h6.66v6.66h-6.66zM101.21 549.20h6.66v6.66h-6.66zM107.87 549.20h6.66v6.66h-6.66zM154.49 549.20h6.66v6.66h-6.66zM167.81 549.20h6.66v6.66h-6.66zM67.91 555.86h6.66v6.66h-6.66zM74.57 555.86h6.66v6.66h-6.66zM94.55 555.86h6.66v6.66h-6.66zM101.21 555.86h6.66v6.66h-6.66zM107.87 555.86h6.66v6.66h-6.66zM134.51 555.86h6.66v6.66h-6.66zM141.17 555.86h6.66v6.66h-6.66zM154.49 555.86h6.66v6.66h-6.66zM87.89 562.52h6.66v6.66h-6.66zM161.15 562.52h6.66v6.66h-6.66zM81.23 569.18h6.66v6.66h-6.66zM161.15 569.18h6.66v6.66h-6.66zM81.23 575.84h6.66v6.66h-6.66zM161.15 575.84h6.66v6.66h-6.66zM67.91 582.50h6.66v6.66h-6.66zM74.57 582.50h6.66v6.66h-6.66zM94.55 582.50h6.66v6.66h-6.66zM147.83 582.50h6.66v6.66h-6.66zM161.15 582.50h6.66v6.66h-6.66zM107.87 589.16h6.66v6.66h-6.66zM114.53 589.16h6.66v6.66h-6.66zM121.19 589.16h6.66v6.66h-6.66zM127.85 589.16h6.66v6.66h-6.66zM167.81 589.16h6.66v6.66h-6.66zM121.19 595.82h6.66v6.66h-6.66zM127.85 595.82h6.66v6.66h-6.66zM167.81 595.82h6.66v6.66h-6.66zM87.89 602.48h6.66v6.66h-6.66zM114.53 609.14h6.66v6.66h-6.66zM167.81 609.14h6.66v6.66h-6.66zM181.13 609.14h6.66v6.66h-6.66zM114.53 615.80h6.66v6.66h-6.66zM167.81 615.80h6.66v6.66h-6.66zM147.83 629.12h6.66v6.66h-6.66zM147.83 642.44h6.66v6.66h-6.66zM147.83 649.10h6.66v6.66h-6.66zM181.13 669.08h6.66v6.66h-6.66z"/><path fill="#ED4E56" d="M81.23 549.20h6.66v6.66h-6.66zM161.15 549.20h6.66v6.66h-6.66zM81.23 555.86h6.66v6.66h-6.66zM107.87 569.18h6.66v6.66h-6.66zM141.17 569.18h6.66v6.66h-6.66zM107.87 575.84h6.66v6.66h-6.66zM141.17 575.84h6.66v6.66h-6.66zM134.51 589.16h6.66v6.66h-6.66zM147.83 589.16h6.66v6.66h-6.66zM134.51 595.82h6.66v6.66h-6.66zM147.83 595.82h6.66v6.66h-6.66zM141.17 609.14h6.66v6.66h-6.66zM127.85 629.12h6.66v6.66h-6.66zM141.17 649.10h6.66v6.66h-6.66zM161.15 675.74h6.66v6.66h-6.66z"/><path fill="#F3898F" d="M114.53 549.20h6.66v6.66h-6.66zM107.87 562.52h6.66v6.66h-6.66zM181.13 562.52h6.66v6.66h-6.66zM127.85 582.50h6.66v6.66h-6.66zM141.17 582.50h6.66v6.66h-6.66zM181.13 582.50h6.66v6.66h-6.66zM181.13 589.16h6.66v6.66h-6.66zM107.87 602.48h6.66v6.66h-6.66zM181.13 602.48h6.66v6.66h-6.66zM114.53 622.46h6.66v6.66h-6.66zM167.81 622.46h6.66v6.66h-6.66zM181.13 622.46h6.66v6.66h-6.66zM114.53 629.12h6.66v6.66h-6.66zM121.19 629.12h6.66v6.66h-6.66zM154.49 629.12h6.66v6.66h-6.66zM134.51 635.78h6.66v6.66h-6.66zM141.17 635.78h6.66v6.66h-6.66zM147.83 635.78h6.66v6.66h-6.66zM167.81 635.78h6.66v6.66h-6.66zM181.13 642.44h6.66v6.66h-6.66zM181.13 649.10h6.66v6.66h-6.66zM174.47 675.74h6.66v6.66h-6.66z"/><path fill="#F27F85" d="M127.85 549.20h6.66v6.66h-6.66zM181.13 549.20h6.66v6.66h-6.66zM114.53 555.86h6.66v6.66h-6.66zM74.57 562.52h6.66v6.66h-6.66zM134.51 562.52h6.66v6.66h-6.66zM154.49 562.52h6.66v6.66h-6.66zM181.13 569.18h6.66v6.66h-6.66zM181.13 575.84h6.66v6.66h-6.66zM107.87 582.50h6.66v6.66h-6.66zM154.49 582.50h6.66v6.66h-6.66zM154.49 589.16h6.66v6.66h-6.66zM154.49 595.82h6.66v6.66h-6.66zM181.13 595.82h6.66v6.66h-6.66zM94.55 602.48h6.66v6.66h-6.66zM101.21 602.48h6.66v6.66h-6.66zM134.51 602.48h6.66v6.66h-6.66zM154.49 602.48h6.66v6.66h-6.66zM167.81 602.48h6.66v6.66h-6.66zM181.13 615.80h6.66v6.66h-6.66zM107.87 622.46h6.66v6.66h-6.66zM141.17 622.46h6.66v6.66h-6.66zM154.49 622.46h6.66v6.66h-6.66zM161.15 622.46h6.66v6.66h-6.66zM161.15 629.12h6.66v6.66h-6.66zM167.81 629.12h6.66v6.66h-6.66zM154.49 642.44h6.66v6.66h-6.66zM181.13 689.06h6.66v6.66h-6.66z"/><path fill="#F1757B" d="M134.51 549.20h6.66v6.66h-6.66zM141.17 549.20h6.66v6.66h-6.66zM127.85 555.86h6.66v6.66h-6.66zM181.13 555.86h6.66v6.66h-6.66zM47.93 562.52h6.66v6.66h-6.66zM54.59 562.52h6.66v6.66h-6.66zM67.91 562.52h6.66v6.66h-6.66zM94.55 562.52h6.66v6.66h-6.66zM101.21 562.52h6.66v6.66h-6.66zM147.83 562.52h6.66v6.66h-6.66zM167.81 562.52h6.66v6.66h-6.66zM154.49 569.18h6.66v6.66h-6.66zM154.49 575.84h6.66v6.66h-6.66zM101.21 582.50h6.66v6.66h-6.66zM134.51 582.50h6.66v6.66h-6.66zM167.81 582.50h6.66v6.66h-6.66zM81.23 589.16h6.66v6.66h-6.66zM161.15 589.16h6.66v6.66h-6.66zM81.23 595.82h6.66v6.66h-6.66zM161.15 595.82h6.66v6.66h-6.66zM147.83 602.48h6.66v6.66h-6.66zM154.49 609.14h6.66v6.66h-6.66zM161.15 609.14h6.66v6.66h-6.66zM154.49 615.80h6.66v6.66h-6.66zM161.15 615.80h6.66v6.66h-6.66zM121.19 622.46h6.66v6.66h-6.66zM147.83 622.46h6.66v6.66h-6.66zM134.51 629.12h6.66v6.66h-6.66zM134.51 642.44h6.66v6.66h-6.66zM161.15 642.44h6.66v6.66h-6.66zM167.81 642.44h6.66v6.66h-6.66zM134.51 649.10h6.66v6.66h-6.66zM141.17 655.76h6.66v6.66h-6.66zM167.81 655.76h6.66v6.66h-6.66zM181.13 655.76h6.66v6.66h-6.66zM147.83 662.42h6.66v6.66h-6.66zM167.81 669.08h6.66v6.66h-6.66z"/><path fill="#F59FA3" d="M174.47 549.20h6.66v6.66h-6.66zM114.53 562.52h6.66v6.66h-6.66zM127.85 562.52h6.66v6.66h-6.66zM174.47 569.18h6.66v6.66h-6.66zM114.53 582.50h6.66v6.66h-6.66zM174.47 589.16h6.66v6.66h-6.66zM174.47 595.82h6.66v6.66h-6.66zM127.85 602.48h6.66v6.66h-6.66zM127.85 635.78h6.66v6.66h-6.66zM181.13 635.78h6.66v6.66h-6.66zM127.85 642.44h6.66v6.66h-6.66zM174.47 649.10h6.66v6.66h-6.66zM154.49 655.76h6.66v6.66h-6.66zM154.49 662.42h6.66v6.66h-6.66zM161.15 662.42h6.66v6.66h-6.66zM181.13 662.42h6.66v6.66h-6.66zM167.81 675.74h6.66v6.66h-6.66zM167.81 682.40h6.66v6.66h-6.66zM174.47 682.40h6.66v6.66h-6.66z"/><path fill="#FEF2F2" d="M187.79 549.20h6.66v6.66h-6.66zM187.79 602.48h6.66v6.66h-6.66z"/><path fill="#EC444D" d="M41.27 555.86h6.66v6.66h-6.66zM121.19 555.86h6.66v6.66h-6.66zM161.15 555.86h6.66v6.66h-6.66zM61.25 562.52h6.66v6.66h-6.66zM121.19 582.50h6.66v6.66h-6.66zM74.57 589.16h6.66v6.66h-6.66zM94.55 595.82h6.66v6.66h-6.66zM101.21 595.82h6.66v6.66h-6.66zM147.83 655.76h6.66v6.66h-6.66z"/><path fill="#F49499" d="M174.47 555.86h6.66v6.66h-6.66zM141.17 562.52h6.66v6.66h-6.66zM141.17 602.48h6.66v6.66h-6.66zM181.13 629.12h6.66v6.66h-6.66zM154.49 649.10h6.66v6.66h-6.66zM161.15 649.10h6.66v6.66h-6.66zM167.81 649.10h6.66v6.66h-6.66zM161.15 655.76h6.66v6.66h-6.66zM167.81 662.42h6.66v6.66h-6.66zM154.49 669.08h6.66v6.66h-6.66zM161.15 669.08h6.66v6.66h-6.66z"/><path fill="#C5D0E6" d="M187.79 555.86h6.66v6.66h-6.66zM187.79 575.84h6.66v6.66h-6.66zM187.79 622.46h6.66v6.66h-6.66zM187.79 662.42h6.66v6.66h-6.66zM187.79 675.74h6.66v6.66h-6.66z"/><path fill="#EE575F" d="M81.23 562.52h6.66v6.66h-6.66zM121.19 562.52h6.66v6.66h-6.66zM61.25 569.18h6.66v6.66h-6.66zM121.19 569.18h6.66v6.66h-6.66zM61.25 575.84h6.66v6.66h-6.66zM121.19 575.84h6.66v6.66h-6.66zM81.23 582.50h6.66v6.66h-6.66zM141.17 589.16h6.66v6.66h-6.66zM107.87 595.82h6.66v6.66h-6.66zM114.53 595.82h6.66v6.66h-6.66zM141.17 595.82h6.66v6.66h-6.66zM107.87 609.14h6.66v6.66h-6.66zM121.19 609.14h6.66v6.66h-6.66zM107.87 615.80h6.66v6.66h-6.66zM141.17 615.80h6.66v6.66h-6.66zM134.51 622.46h6.66v6.66h-6.66zM141.17 629.12h6.66v6.66h-6.66z"/><path fill="#F9C1C4" d="M174.47 562.52h6.66v6.66h-6.66zM174.47 615.80h6.66v6.66h-6.66z"/><path fill="#FEF5F6" d="M187.79 562.52h6.66v6.66h-6.66zM181.13 695.72h6.66v6.66h-6.66z"/><path fill="#E92933" d="M54.59 569.18h6.66v6.66h-6.66zM87.89 569.18h6.66v6.66h-6.66zM87.89 575.84h6.66v6.66h-6.66zM94.55 609.14h6.66v6.66h-6.66z"/><path fill="#EA323B" d="M67.91 569.18h6.66v6.66h-6.66zM74.57 569.18h6.66v6.66h-6.66zM94.55 569.18h6.66v6.66h-6.66zM101.21 569.18h6.66v6.66h-6.66zM134.51 569.18h6.66v6.66h-6.66zM147.83 569.18h6.66v6.66h-6.66zM67.91 575.84h6.66v6.66h-6.66zM74.57 575.84h6.66v6.66h-6.66zM94.55 575.84h6.66v6.66h-6.66zM101.21 575.84h6.66v6.66h-6.66zM134.51 575.84h6.66v6.66h-6.66zM147.83 575.84h6.66v6.66h-6.66zM134.51 609.14h6.66v6.66h-6.66zM147.83 609.14h6.66v6.66h-6.66z"/><path fill="#E3E9F3" d="M187.79 569.18h6.66v6.66h-6.66zM187.79 682.40h6.66v6.66h-6.66z"/><path fill="#F6AAAE" d="M174.47 575.84h6.66v6.66h-6.66zM114.53 602.48h6.66v6.66h-6.66zM127.85 622.46h6.66v6.66h-6.66zM141.17 642.44h6.66v6.66h-6.66zM174.47 662.42h6.66v6.66h-6.66zM181.13 682.40h6.66v6.66h-6.66z"/><path fill="#F7B5B9" d="M174.47 582.50h6.66v6.66h-6.66zM174.47 609.14h6.66v6.66h-6.66zM174.47 629.12h6.66v6.66h-6.66z"/><path fill="#ECF0F7" d="M187.79 582.50h6.66v6.66h-6.66zM187.79 615.80h6.66v6.66h-6.66zM187.79 649.10h6.66v6.66h-6.66z"/><path fill="#D8E0EF" d="M187.79 589.16h6.66v6.66h-6.66z"/><path fill="#B9C7E2" d="M187.79 595.82h6.66v6.66h-6.66z"/><path fill="#FBDCDD" d="M174.47 602.48h6.66v6.66h-6.66zM174.47 622.46h6.66v6.66h-6.66zM154.49 635.78h6.66v6.66h-6.66zM161.15 635.78h6.66v6.66h-6.66zM181.13 675.74h6.66v6.66h-6.66zM174.47 689.06h6.66v6.66h-6.66zM187.79 702.38h6.66v6.66h-6.66z"/><path fill="#D1DAEB" d="M187.79 609.14h6.66v6.66h-6.66zM187.79 629.12h6.66v6.66h-6.66zM187.79 635.78h6.66v6.66h-6.66zM187.79 689.06h6.66v6.66h-6.66zM187.79 695.72h6.66v6.66h-6.66z"/><path fill="#FACED0" d="M121.19 635.78h6.66v6.66h-6.66zM174.47 642.44h6.66v6.66h-6.66zM174.47 655.76h6.66v6.66h-6.66zM187.79 669.08h6.66v6.66h-6.66z"/><path fill="#FDEBEC" d="M174.47 635.78h6.66v6.66h-6.66z"/><path fill="#DEE4F1" d="M187.79 642.44h6.66v6.66h-6.66zM187.79 655.76h6.66v6.66h-6.66z"/><path fill="#FCE1E3" d="M174.47 669.08h6.66v6.66h-6.66z"/></g>
<g fill="#2a2a2a"><path fill-opacity="0.7" d="M29.88 551.63h2.80v1.13h-2.80zM36.54 558.29h2.80v1.13h-2.80zM43.20 564.95h2.80v1.13h-2.80zM49.86 571.61h2.80v1.13h-2.80zM56.52 578.27h2.80v1.13h-2.80zM63.18 584.93h2.80v1.13h-2.80zM69.84 591.59h2.80v1.13h-2.80zM76.50 598.25h2.80v1.13h-2.80zM83.16 604.91h2.80v1.13h-2.80zM89.82 611.57h2.80v1.13h-2.80zM96.48 618.23h2.80v1.13h-2.80zM103.14 624.89h2.80v1.13h-2.80zM109.80 631.55h2.80v1.13h-2.80zM116.46 638.21h2.80v1.13h-2.80zM123.12 644.87h2.80v1.13h-2.80zM129.78 651.53h2.80v1.13h-2.80zM136.44 658.19h2.80v1.13h-2.80zM143.10 664.85h2.80v1.13h-2.80zM149.76 671.51h2.80v1.13h-2.80zM156.42 678.17h2.80v1.13h-2.80zM163.08 684.83h2.80v1.13h-2.80zM169.74 691.49h2.80v1.13h-2.80zM176.40 698.15h2.80v1.13h-2.80zM183.06 704.81h2.80v1.13h-2.80zM189.72 711.47h2.80v1.13h-2.80z"/><path fill-opacity="0.6" d="M36.54 551.63h2.80v1.13h-2.80zM43.20 551.63h2.80v1.13h-2.80zM49.86 551.63h2.80v1.13h-2.80zM56.52 551.63h2.80v1.13h-2.80zM63.18 551.63h2.80v1.13h-2.80zM69.84 551.63h2.80v1.13h-2.80zM76.50 551.63h2.80v1.13h-2.80zM83.16 551.63h2.80v1.13h-2.80zM89.82 551.63h2.80v1.13h-2.80zM96.48 551.63h2.80v1.13h-2.80zM103.14 551.63h2.80v1.13h-2.80zM109.80 551.63h2.80v1.13h-2.80zM116.46 551.63h2.80v1.13h-2.80zM123.12 551.63h2.80v1.13h-2.80zM129.78 551.63h2.80v1.13h-2.80zM136.44 551.63h2.80v1.13h-2.80zM143.10 551.63h2.80v1.13h-2.80zM149.76 551.63h2.80v1.13h-2.80zM156.42 551.63h2.80v1.13h-2.80zM163.08 551.63h2.80v1.13h-2.80zM169.74 551.63h2.80v1.13h-2.80zM176.40 551.63h2.80v1.13h-2.80zM183.06 551.63h2.80v1.13h-2.80zM43.20 558.29h2.80v1.13h-2.80zM49.86 558.29h2.80v1.13h-2.80zM56.52 558.29h2.80v1.13h-2.80zM63.18 558.29h2.80v1.13h-2.80zM69.84 558.29h2.80v1.13h-2.80zM76.50 558.29h2.80v1.13h-2.80zM83.16 558.29h2.80v1.13h-2.80zM89.82 558.29h2.80v1.13h-2.80zM96.48 558.29h2.80v1.13h-2.80zM103.14 558.29h2.80v1.13h-2.80zM109.80 558.29h2.80v1.13h-2.80zM116.46 558.29h2.80v1.13h-2.80zM123.12 558.29h2.80v1.13h-2.80zM129.78 558.29h2.80v1.13h-2.80zM136.44 558.29h2.80v1.13h-2.80zM143.10 558.29h2.80v1.13h-2.80zM149.76 558.29h2.80v1.13h-2.80zM156.42 558.29h2.80v1.13h-2.80zM163.08 558.29h2.80v1.13h-2.80zM169.74 558.29h2.80v1.13h-2.80zM176.40 558.29h2.80v1.13h-2.80zM183.06 558.29h2.80v1.13h-2.80zM49.86 564.95h2.80v1.13h-2.80zM56.52 564.95h2.80v1.13h-2.80zM63.18 564.95h2.80v1.13h-2.80zM69.84 564.95h2.80v1.13h-2.80zM76.50 564.95h2.80v1.13h-2.80zM83.16 564.95h2.80v1.13h-2.80zM89.82 564.95h2.80v1.13h-2.80zM96.48 564.95h2.80v1.13h-2.80zM103.14 564.95h2.80v1.13h-2.80zM109.80 564.95h2.80v1.13h-2.80zM116.46 564.95h2.80v1.13h-2.80zM123.12 564.95h2.80v1.13h-2.80zM129.78 564.95h2.80v1.13h-2.80zM136.44 564.95h2.80v1.13h-2.80zM143.10 564.95h2.80v1.13h-2.80zM149.76 564.95h2.80v1.13h-2.80zM156.42 564.95h2.80v1.13h-2.80zM163.08 564.95h2.80v1.13h-2.80zM169.74 564.95h2.80v1.13h-2.80zM176.40 564.95h2.80v1.13h-2.80zM183.06 564.95h2.80v1.13h-2.80zM56.52 571.61h2.80v1.13h-2.80zM63.18 571.61h2.80v1.13h-2.80zM69.84 571.61h2.80v1.13h-2.80zM76.50 571.61h2.80v1.13h-2.80zM83.16 571.61h2.80v1.13h-2.80zM89.82 571.61h2.80v1.13h-2.80zM96.48 571.61h2.80v1.13h-2.80zM103.14 571.61h2.80v1.13h-2.80zM109.80 571.61h2.80v1.13h-2.80zM116.46 571.61h2.80v1.13h-2.80zM123.12 571.61h2.80v1.13h-2.80zM129.78 571.61h2.80v1.13h-2.80zM136.44 571.61h2.80v1.13h-2.80zM143.10 571.61h2.80v1.13h-2.80zM149.76 571.61h2.80v1.13h-2.80zM156.42 571.61h2.80v1.13h-2.80zM163.08 571.61h2.80v1.13h-2.80zM169.74 571.61h2.80v1.13h-2.80zM176.40 571.61h2.80v1.13h-2.80zM183.06 571.61h2.80v1.13h-2.80zM63.18 578.27h2.80v1.13h-2.80zM69.84 578.27h2.80v1.13h-2.80zM76.50 578.27h2.80v1.13h-2.80zM83.16 578.27h2.80v1.13h-2.80zM89.82 578.27h2.80v1.13h-2.80zM96.48 578.27h2.80v1.13h-2.80zM103.14 578.27h2.80v1.13h-2.80zM109.80 578.27h2.80v1.13h-2.80zM116.46 578.27h2.80v1.13h-2.80zM123.12 578.27h2.80v1.13h-2.80zM129.78 578.27h2.80v1.13h-2.80zM136.44 578.27h2.80v1.13h-2.80zM143.10 578.27h2.80v1.13h-2.80zM149.76 578.27h2.80v1.13h-2.80zM156.42 578.27h2.80v1.13h-2.80zM163.08 578.27h2.80v1.13h-2.80zM169.74 578.27h2.80v1.13h-2.80zM176.40 578.27h2.80v1.13h-2.80zM183.06 578.27h2.80v1.13h-2.80zM69.84 584.93h2.80v1.13h-2.80zM76.50 584.93h2.80v1.13h-2.80zM83.16 584.93h2.80v1.13h-2.80zM89.82 584.93h2.80v1.13h-2.80zM96.48 584.93h2.80v1.13h-2.80zM103.14 584.93h2.80v1.13h-2.80zM109.80 584.93h2.80v1.13h-2.80zM116.46 584.93h2.80v1.13h-2.80zM123.12 584.93h2.80v1.13h-2.80zM129.78 584.93h2.80v1.13h-2.80zM136.44 584.93h2.80v1.13h-2.80zM143.10 584.93h2.80v1.13h-2.80zM149.76 584.93h2.80v1.13h-2.80zM156.42 584.93h2.80v1.13h-2.80zM163.08 584.93h2.80v1.13h-2.80zM169.74 584.93h2.80v1.13h-2.80zM176.40 584.93h2.80v1.13h-2.80zM183.06 584.93h2.80v1.13h-2.80zM76.50 591.59h2.80v1.13h-2.80zM83.16 591.59h2.80v1.13h-2.80zM89.82 591.59h2.80v1.13h-2.80zM96.48 591.59h2.80v1.13h-2.80zM103.14 591.59h2.80v1.13h-2.80zM109.80 591.59h2.80v1.13h-2.80zM116.46 591.59h2.80v1.13h-2.80zM123.12 591.59h2.80v1.13h-2.80zM129.78 591.59h2.80v1.13h-2.80zM136.44 591.59h2.80v1.13h-2.80zM143.10 591.59h2.80v1.13h-2.80zM149.76 591.59h2.80v1.13h-2.80zM156.42 591.59h2.80v1.13h-2.80zM163.08 591.59h2.80v1.13h-2.80zM169.74 591.59h2.80v1.13h-2.80zM176.40 591.59h2.80v1.13h-2.80zM183.06 591.59h2.80v1.13h-2.80zM83.16 598.25h2.80v1.13h-2.80zM89.82 598.25h2.80v1.13h-2.80zM96.48 598.25h2.80v1.13h-2.80zM103.14 598.25h2.80v1.13h-2.80zM109.80 598.25h2.80v1.13h-2.80zM116.46 598.25h2.80v1.13h-2.80zM123.12 598.25h2.80v1.13h-2.80zM129.78 598.25h2.80v1.13h-2.80zM136.44 598.25h2.80v1.13h-2.80zM143.10 598.25h2.80v1.13h-2.80zM149.76 598.25h2.80v1.13h-2.80zM156.42 598.25h2.80v1.13h-2.80zM163.08 598.25h2.80v1.13h-2.80zM169.74 598.25h2.80v1.13h-2.80zM176.40 598.25h2.80v1.13h-2.80zM183.06 598.25h2.80v1.13h-2.80zM189.72 598.25h2.80v1.13h-2.80zM89.82 604.91h2.80v1.13h-2.80zM96.48 604.91h2.80v1.13h-2.80zM103.14 604.91h2.80v1.13h-2.80zM109.80 604.91h2.80v1.13h-2.80zM116.46 604.91h2.80v1.13h-2.80zM123.12 604.91h2.80v1.13h-2.80zM129.78 604.91h2.80v1.13h-2.80zM136.44 604.91h2.80v1.13h-2.80zM143.10 604.91h2.80v1.13h-2.80zM149.76 604.91h2.80v1.13h-2.80zM156.42 604.91h2.80v1.13h-2.80zM163.08 604.91h2.80v1.13h-2.80zM169.74 604.91h2.80v1.13h-2.80zM183.06 604.91h2.80v1.13h-2.80zM96.48 611.57h2.80v1.13h-2.80zM103.14 611.57h2.80v1.13h-2.80zM109.80 611.57h2.80v1.13h-2.80zM116.46 611.57h2.80v1.13h-2.80zM123.12 611.57h2.80v1.13h-2.80zM129.78 611.57h2.80v1.13h-2.80zM136.44 611.57h2.80v1.13h-2.80zM143.10 611.57h2.80v1.13h-2.80zM149.76 611.57h2.80v1.13h-2.80zM156.42 611.57h2.80v1.13h-2.80zM163.08 611.57h2.80v1.13h-2.80zM169.74 611.57h2.80v1.13h-2.80zM176.40 611.57h2.80v1.13h-2.80zM183.06 611.57h2.80v1.13h-2.80zM103.14 618.23h2.80v1.13h-2.80zM109.80 618.23h2.80v1.13h-2.80zM116.46 618.23h2.80v1.13h-2.80zM123.12 618.23h2.80v1.13h-2.80zM129.78 618.23h2.80v1.13h-2.80zM136.44 618.23h2.80v1.13h-2.80zM143.10 618.23h2.80v1.13h-2.80zM149.76 618.23h2.80v1.13h-2.80zM156.42 618.23h2.80v1.13h-2.80zM163.08 618.23h2.80v1.13h-2.80zM169.74 618.23h2.80v1.13h-2.80zM176.40 618.23h2.80v1.13h-2.80zM183.06 618.23h2.80v1.13h-2.80zM109.80 624.89h2.80v1.13h-2.80zM116.46 624.89h2.80v1.13h-2.80zM123.12 624.89h2.80v1.13h-2.80zM129.78 624.89h2.80v1.13h-2.80zM136.44 624.89h2.80v1.13h-2.80zM143.10 624.89h2.80v1.13h-2.80zM149.76 624.89h2.80v1.13h-2.80zM156.42 624.89h2.80v1.13h-2.80zM163.08 624.89h2.80v1.13h-2.80zM169.74 624.89h2.80v1.13h-2.80zM183.06 624.89h2.80v1.13h-2.80zM116.46 631.55h2.80v1.13h-2.80zM123.12 631.55h2.80v1.13h-2.80zM129.78 631.55h2.80v1.13h-2.80zM136.44 631.55h2.80v1.13h-2.80zM143.10 631.55h2.80v1.13h-2.80zM149.76 631.55h2.80v1.13h-2.80zM156.42 631.55h2.80v1.13h-2.80zM163.08 631.55h2.80v1.13h-2.80zM169.74 631.55h2.80v1.13h-2.80zM176.40 631.55h2.80v1.13h-2.80zM183.06 631.55h2.80v1.13h-2.80zM129.78 638.21h2.80v1.13h-2.80zM136.44 638.21h2.80v1.13h-2.80zM143.10 638.21h2.80v1.13h-2.80zM149.76 638.21h2.80v1.13h-2.80zM169.74 638.21h2.80v1.13h-2.80zM183.06 638.21h2.80v1.13h-2.80zM129.78 644.87h2.80v1.13h-2.80zM136.44 644.87h2.80v1.13h-2.80zM143.10 644.87h2.80v1.13h-2.80zM149.76 644.87h2.80v1.13h-2.80zM156.42 644.87h2.80v1.13h-2.80zM163.08 644.87h2.80v1.13h-2.80zM169.74 644.87h2.80v1.13h-2.80zM183.06 644.87h2.80v1.13h-2.80zM136.44 651.53h2.80v1.13h-2.80zM143.10 651.53h2.80v1.13h-2.80zM149.76 651.53h2.80v1.13h-2.80zM156.42 651.53h2.80v1.13h-2.80zM163.08 651.53h2.80v1.13h-2.80zM169.74 651.53h2.80v1.13h-2.80zM176.40 651.53h2.80v1.13h-2.80zM183.06 651.53h2.80v1.13h-2.80zM143.10 658.19h2.80v1.13h-2.80zM149.76 658.19h2.80v1.13h-2.80zM156.42 658.19h2.80v1.13h-2.80zM163.08 658.19h2.80v1.13h-2.80zM169.74 658.19h2.80v1.13h-2.80zM183.06 658.19h2.80v1.13h-2.80zM149.76 664.85h2.80v1.13h-2.80zM156.42 664.85h2.80v1.13h-2.80zM163.08 664.85h2.80v1.13h-2.80zM169.74 664.85h2.80v1.13h-2.80zM176.40 664.85h2.80v1.13h-2.80zM183.06 664.85h2.80v1.13h-2.80zM156.42 671.51h2.80v1.13h-2.80zM163.08 671.51h2.80v1.13h-2.80zM169.74 671.51h2.80v1.13h-2.80zM183.06 671.51h2.80v1.13h-2.80zM163.08 678.17h2.80v1.13h-2.80zM169.74 678.17h2.80v1.13h-2.80zM176.40 678.17h2.80v1.13h-2.80zM169.74 684.83h2.80v1.13h-2.80zM176.40 684.83h2.80v1.13h-2.80zM183.06 684.83h2.80v1.13h-2.80zM183.06 691.49h2.80v1.13h-2.80z"/><path fill-opacity="0.4" d="M123.12 638.21h2.80v1.13h-2.80zM176.40 644.87h2.80v1.13h-2.80zM176.40 658.19h2.80v1.13h-2.80z"/></g>
<text transform="translate(26.15,553.65) scale(0.1)" text-anchor="end" class="hl" font-size="32.0" font-weight="bold">HLA_B</text>
<text transform="translate(26.15,560.31) scale(0.1)" text-anchor="end" class="hl" font-size="32.0" font-weight="bold">HLA_A</text>
<text transform="translate(26.15,566.97) scale(0.1)" text-anchor="end" class="hl" font-size="32.0" font-weight="bold">HLA_C</text>
<text transform="translate(26.15,573.63) scale(0.1)" text-anchor="end" class="hl" font-size="32.0" font-weight="bold">HLA_DRA</text>
<text transform="translate(26.15,580.29) scale(0.1)" text-anchor="end" class="hl" font-size="32.0" font-weight="bold">HLA_DRB1</text>
<text transform="translate(26.15,586.95) scale(0.1)" text-anchor="end" class="hl" font-size="32.0" font-weight="bold">HLA_E</text>
<text transform="translate(26.15,593.61) scale(0.1)" text-anchor="end" class="hl" font-size="32.0" font-weight="bold">HLA_DRB5</text>
<text transform="translate(26.15,600.27) scale(0.1)" text-anchor="end" class="hl" font-size="32.0" font-weight="bold">HLA_DMA</text>
<text transform="translate(26.15,606.93) scale(0.1)" text-anchor="end" class="hl" font-size="32.0" font-weight="bold">HLA_H</text>
<text transform="translate(26.15,613.59) scale(0.1)" text-anchor="end" class="hl" font-size="32.0" font-weight="bold">HLA_DPB1</text>
<text transform="translate(26.15,620.25) scale(0.1)" text-anchor="end" class="hl" font-size="32.0" font-weight="bold">HLA_DPA1</text>
<text transform="translate(26.15,626.91) scale(0.1)" text-anchor="end" class="hl" font-size="32.0" font-weight="bold">HLA_DQB1</text>
<text transform="translate(26.15,633.57) scale(0.1)" text-anchor="end" class="hl" font-size="32.0" font-weight="bold">HLA_DRB6</text>
<text transform="translate(26.15,640.23) scale(0.1)" text-anchor="end" class="hl" font-size="32.0" font-weight="bold">HLA_DMB</text>
<text transform="translate(26.15,646.89) scale(0.1)" text-anchor="end" class="hl" font-size="32.0" font-weight="bold">HLA_F</text>
<text transform="translate(26.15,653.55) scale(0.1)" text-anchor="end" class="hl" font-size="32.0" font-weight="bold">HLA_DQA2</text>
<text transform="translate(26.15,660.21) scale(0.1)" text-anchor="end" class="hl" font-size="32.0" font-weight="bold">HLA_DQA1</text>
<text transform="translate(26.15,666.87) scale(0.1)" text-anchor="end" class="hl" font-size="32.0" font-weight="bold">HLA_DQB2</text>
<text transform="translate(26.15,673.53) scale(0.1)" text-anchor="end" class="hl" font-size="32.0" font-weight="bold">HLA_DOA</text>
<text transform="translate(26.15,680.19) scale(0.1)" text-anchor="end" class="hl" font-size="32.0" font-weight="bold">HLA_L</text>
<text transform="translate(26.15,686.85) scale(0.1)" text-anchor="end" class="hl" font-size="32.0" font-weight="bold">HLA_G</text>
<text transform="translate(26.15,693.51) scale(0.1)" text-anchor="end" class="hl" font-size="32.0" font-weight="bold">HLA_DOB</text>
<text transform="translate(26.15,700.17) scale(0.1)" text-anchor="end" class="hl" font-size="32.0" font-weight="bold">HLA_J</text>
<text transform="translate(26.15,706.83) scale(0.1)" text-anchor="end" class="hl" font-size="32.0" font-weight="bold">HLA_DPB2</text>
<text transform="translate(26.15,713.49) scale(0.1)" text-anchor="end" class="hl" font-size="32.0" font-weight="bold">ZNF score</text>
<text transform="translate(31.28,547.90) rotate(-45) scale(0.1)" class="hl" font-size="32.0" font-weight="bold">HLA_B</text>
<text transform="translate(37.94,547.90) rotate(-45) scale(0.1)" class="hl" font-size="32.0" font-weight="bold">HLA_A</text>
<text transform="translate(44.60,547.90) rotate(-45) scale(0.1)" class="hl" font-size="32.0" font-weight="bold">HLA_C</text>
<text transform="translate(51.26,547.90) rotate(-45) scale(0.1)" class="hl" font-size="32.0" font-weight="bold">HLA_DRA</text>
<text transform="translate(57.92,547.90) rotate(-45) scale(0.1)" class="hl" font-size="32.0" font-weight="bold">HLA_DRB1</text>
<text transform="translate(64.58,547.90) rotate(-45) scale(0.1)" class="hl" font-size="32.0" font-weight="bold">HLA_E</text>
<text transform="translate(71.24,547.90) rotate(-45) scale(0.1)" class="hl" font-size="32.0" font-weight="bold">HLA_DRB5</text>
<text transform="translate(77.90,547.90) rotate(-45) scale(0.1)" class="hl" font-size="32.0" font-weight="bold">HLA_DMA</text>
<text transform="translate(84.56,547.90) rotate(-45) scale(0.1)" class="hl" font-size="32.0" font-weight="bold">HLA_H</text>
<text transform="translate(91.22,547.90) rotate(-45) scale(0.1)" class="hl" font-size="32.0" font-weight="bold">HLA_DPB1</text>
<text transform="translate(97.88,547.90) rotate(-45) scale(0.1)" class="hl" font-size="32.0" font-weight="bold">HLA_DPA1</text>
<text transform="translate(104.54,547.90) rotate(-45) scale(0.1)" class="hl" font-size="32.0" font-weight="bold">HLA_DQB1</text>
<text transform="translate(111.20,547.90) rotate(-45) scale(0.1)" class="hl" font-size="32.0" font-weight="bold">HLA_DRB6</text>
<text transform="translate(117.86,547.90) rotate(-45) scale(0.1)" class="hl" font-size="32.0" font-weight="bold">HLA_DMB</text>
<text transform="translate(124.52,547.90) rotate(-45) scale(0.1)" class="hl" font-size="32.0" font-weight="bold">HLA_F</text>
<text transform="translate(131.18,547.90) rotate(-45) scale(0.1)" class="hl" font-size="32.0" font-weight="bold">HLA_DQA2</text>
<text transform="translate(137.84,547.90) rotate(-45) scale(0.1)" class="hl" font-size="32.0" font-weight="bold">HLA_DQA1</text>
<text transform="translate(144.50,547.90) rotate(-45) scale(0.1)" class="hl" font-size="32.0" font-weight="bold">HLA_DQB2</text>
<text transform="translate(151.16,547.90) rotate(-45) scale(0.1)" class="hl" font-size="32.0" font-weight="bold">HLA_DOA</text>
<text transform="translate(157.82,547.90) rotate(-45) scale(0.1)" class="hl" font-size="32.0" font-weight="bold">HLA_L</text>
<text transform="translate(164.48,547.90) rotate(-45) scale(0.1)" class="hl" font-size="32.0" font-weight="bold">HLA_G</text>
<text transform="translate(171.14,547.90) rotate(-45) scale(0.1)" class="hl" font-size="32.0" font-weight="bold">HLA_DOB</text>
<text transform="translate(177.80,547.90) rotate(-45) scale(0.1)" class="hl" font-size="32.0" font-weight="bold">HLA_J</text>
<text transform="translate(184.46,547.90) rotate(-45) scale(0.1)" class="hl" font-size="32.0" font-weight="bold">HLA_DPB2</text>
<text transform="translate(191.12,547.90) rotate(-45) scale(0.1)" class="hl" font-size="32.0" font-weight="bold">ZNF score</text>
<defs><linearGradient id="g27549" x1="0" y1="0" x2="0" y2="1"><stop offset="0.0" stop-color="#E8202A"/><stop offset="0.05" stop-color="#EA323B"/><stop offset="0.1" stop-color="#EC444D"/><stop offset="0.15" stop-color="#EE575F"/><stop offset="0.2" stop-color="#F06B71"/><stop offset="0.25" stop-color="#F27F85"/><stop offset="0.3" stop-color="#F49499"/><stop offset="0.35" stop-color="#F6AAAE"/><stop offset="0.4" stop-color="#F9C1C4"/><stop offset="0.45" stop-color="#FBDCDD"/><stop offset="0.5" stop-color="#FFFFFF"/><stop offset="0.55" stop-color="#DEE4F1"/><stop offset="0.6" stop-color="#C5D0E6"/><stop offset="0.65" stop-color="#AEBEDD"/><stop offset="0.7" stop-color="#9AAED4"/><stop offset="0.75" stop-color="#869ECC"/><stop offset="0.8" stop-color="#738FC4"/><stop offset="0.85" stop-color="#6080BC"/><stop offset="0.9" stop-color="#4E72B5"/><stop offset="0.95" stop-color="#3D64AD"/><stop offset="1.0" stop-color="#2C56A6"/></linearGradient></defs>
<rect x="197.3" y="549.4" width="6.8" height="166.3" fill="url(#g27549)" stroke="#222" stroke-width="0.8"/>
<line x1="203.8" y1="549.40" x2="205.00000000000003" y2="549.40" stroke="#222" stroke-width="0.6"/>
<text transform="translate(211.40,550.80) scale(0.1)" class="hl" text-anchor="middle" font-size="39.0">1</text>
<line x1="203.8" y1="566.03" x2="205.00000000000003" y2="566.03" stroke="#222" stroke-width="0.6"/>
<text transform="translate(211.40,567.43) scale(0.1)" class="hl" text-anchor="middle" font-size="39.0">0.8</text>
<line x1="203.8" y1="582.66" x2="205.00000000000003" y2="582.66" stroke="#222" stroke-width="0.6"/>
<text transform="translate(211.40,584.06) scale(0.1)" class="hl" text-anchor="middle" font-size="39.0">0.6</text>
<line x1="203.8" y1="599.29" x2="205.00000000000003" y2="599.29" stroke="#222" stroke-width="0.6"/>
<text transform="translate(211.40,600.69) scale(0.1)" class="hl" text-anchor="middle" font-size="39.0">0.4</text>
<line x1="203.8" y1="615.92" x2="205.00000000000003" y2="615.92" stroke="#222" stroke-width="0.6"/>
<text transform="translate(211.40,617.32) scale(0.1)" class="hl" text-anchor="middle" font-size="39.0">0.2</text>
<line x1="203.8" y1="632.55" x2="205.00000000000003" y2="632.55" stroke="#222" stroke-width="0.6"/>
<text transform="translate(211.40,633.95) scale(0.1)" class="hl" text-anchor="middle" font-size="39.0">0</text>
<line x1="203.8" y1="649.18" x2="205.00000000000003" y2="649.18" stroke="#222" stroke-width="0.6"/>
<text transform="translate(211.40,650.58) scale(0.1)" class="hl" text-anchor="middle" font-size="39.0">−0.2</text>
<line x1="203.8" y1="665.81" x2="205.00000000000003" y2="665.81" stroke="#222" stroke-width="0.6"/>
<text transform="translate(211.40,667.21) scale(0.1)" class="hl" text-anchor="middle" font-size="39.0">−0.4</text>
<line x1="203.8" y1="682.44" x2="205.00000000000003" y2="682.44" stroke="#222" stroke-width="0.6"/>
<text transform="translate(211.40,683.84) scale(0.1)" class="hl" text-anchor="middle" font-size="39.0">−0.6</text>
<line x1="203.8" y1="699.07" x2="205.00000000000003" y2="699.07" stroke="#222" stroke-width="0.6"/>
<text transform="translate(211.40,700.47) scale(0.1)" class="hl" text-anchor="middle" font-size="39.0">−0.8</text>
<line x1="203.8" y1="715.70" x2="205.00000000000003" y2="715.70" stroke="#222" stroke-width="0.6"/>
<text transform="translate(211.40,717.10) scale(0.1)" class="hl" text-anchor="middle" font-size="39.0">−1</text>
<g shape-rendering="crispEdges"><path fill="#E8202A" d="M27.95 803.60h6.46v6.46h-6.46zM34.41 810.06h6.46v6.46h-6.46zM40.87 816.52h6.46v6.46h-6.46zM47.33 822.98h6.46v6.46h-6.46zM53.79 829.44h6.46v6.46h-6.46zM60.25 835.90h6.46v6.46h-6.46zM66.71 842.36h6.46v6.46h-6.46zM73.17 848.82h6.46v6.46h-6.46zM79.63 855.28h6.46v6.46h-6.46zM86.09 861.74h6.46v6.46h-6.46zM92.55 868.20h6.46v6.46h-6.46zM99.01 874.66h6.46v6.46h-6.46zM105.47 881.12h6.46v6.46h-6.46zM111.93 887.58h6.46v6.46h-6.46zM118.39 894.04h6.46v6.46h-6.46zM124.85 900.50h6.46v6.46h-6.46zM131.31 906.96h6.46v6.46h-6.46zM137.77 913.42h6.46v6.46h-6.46zM144.23 919.88h6.46v6.46h-6.46zM150.69 926.34h6.46v6.46h-6.46zM157.15 932.80h6.46v6.46h-6.46zM163.61 939.26h6.46v6.46h-6.46zM170.07 945.72h6.46v6.46h-6.46zM176.53 952.18h6.46v6.46h-6.46zM182.99 958.64h6.46v6.46h-6.46zM189.45 965.10h6.46v6.46h-6.46z"/><path fill="#FCE1E3" d="M34.41 803.60h6.46v6.46h-6.46zM118.39 810.06h6.46v6.46h-6.46zM131.31 810.06h6.46v6.46h-6.46zM157.15 810.06h6.46v6.46h-6.46zM182.99 816.52h6.46v6.46h-6.46zM73.17 829.44h6.46v6.46h-6.46zM182.99 829.44h6.46v6.46h-6.46zM182.99 848.82h6.46v6.46h-6.46zM118.39 855.28h6.46v6.46h-6.46zM131.31 861.74h6.46v6.46h-6.46zM137.77 861.74h6.46v6.46h-6.46zM157.15 861.74h6.46v6.46h-6.46zM163.61 874.66h6.46v6.46h-6.46zM182.99 874.66h6.46v6.46h-6.46zM189.45 881.12h6.46v6.46h-6.46zM118.39 887.58h6.46v6.46h-6.46zM176.53 894.04h6.46v6.46h-6.46zM189.45 894.04h6.46v6.46h-6.46zM131.31 900.50h6.46v6.46h-6.46z"/><path fill="#F59FA3" d="M40.87 803.60h6.46v6.46h-6.46zM79.63 803.60h6.46v6.46h-6.46zM73.17 810.06h6.46v6.46h-6.46zM99.01 810.06h6.46v6.46h-6.46zM66.71 816.52h6.46v6.46h-6.46zM79.63 842.36h6.46v6.46h-6.46zM79.63 848.82h6.46v6.46h-6.46zM150.69 887.58h6.46v6.46h-6.46zM150.69 906.96h6.46v6.46h-6.46zM157.15 906.96h6.46v6.46h-6.46zM182.99 906.96h6.46v6.46h-6.46zM157.15 919.88h6.46v6.46h-6.46zM163.61 919.88h6.46v6.46h-6.46zM182.99 919.88h6.46v6.46h-6.46zM170.07 932.80h6.46v6.46h-6.46z"/><path fill="#FBDCDD" d="M47.33 803.60h6.46v6.46h-6.46zM86.09 803.60h6.46v6.46h-6.46zM99.01 803.60h6.46v6.46h-6.46zM105.47 803.60h6.46v6.46h-6.46zM111.93 803.60h6.46v6.46h-6.46zM150.69 810.06h6.46v6.46h-6.46zM163.61 810.06h6.46v6.46h-6.46zM47.33 816.52h6.46v6.46h-6.46zM86.09 816.52h6.46v6.46h-6.46zM105.47 816.52h6.46v6.46h-6.46zM118.39 816.52h6.46v6.46h-6.46zM150.69 816.52h6.46v6.46h-6.46zM157.15 816.52h6.46v6.46h-6.46zM66.71 822.98h6.46v6.46h-6.46zM73.17 822.98h6.46v6.46h-6.46zM86.09 829.44h6.46v6.46h-6.46zM111.93 829.44h6.46v6.46h-6.46zM137.77 829.44h6.46v6.46h-6.46zM144.23 829.44h6.46v6.46h-6.46zM189.45 829.44h6.46v6.46h-6.46zM92.55 835.90h6.46v6.46h-6.46zM111.93 835.90h6.46v6.46h-6.46zM150.69 842.36h6.46v6.46h-6.46zM118.39 848.82h6.46v6.46h-6.46zM137.77 848.82h6.46v6.46h-6.46zM170.07 848.82h6.46v6.46h-6.46zM86.09 855.28h6.46v6.46h-6.46zM131.31 855.28h6.46v6.46h-6.46zM170.07 855.28h6.46v6.46h-6.46zM131.31 868.20h6.46v6.46h-6.46zM182.99 868.20h6.46v6.46h-6.46zM111.93 881.12h6.46v6.46h-6.46zM137.77 881.12h6.46v6.46h-6.46zM163.61 881.12h6.46v6.46h-6.46zM157.15 887.58h6.46v6.46h-6.46zM170.07 887.58h6.46v6.46h-6.46zM176.53 887.58h6.46v6.46h-6.46zM189.45 887.58h6.46v6.46h-6.46zM124.85 894.04h6.46v6.46h-6.46zM176.53 900.50h6.46v6.46h-6.46zM182.99 900.50h6.46v6.46h-6.46zM137.77 906.96h6.46v6.46h-6.46zM150.69 919.88h6.46v6.46h-6.46zM189.45 939.26h6.46v6.46h-6.46z"/><path fill="#FBD6D8" d="M53.79 803.60h6.46v6.46h-6.46zM163.61 816.52h6.46v6.46h-6.46zM157.15 829.44h6.46v6.46h-6.46zM163.61 829.44h6.46v6.46h-6.46zM176.53 829.44h6.46v6.46h-6.46zM131.31 835.90h6.46v6.46h-6.46zM163.61 842.36h6.46v6.46h-6.46zM105.47 855.28h6.46v6.46h-6.46zM163.61 868.20h6.46v6.46h-6.46zM170.07 868.20h6.46v6.46h-6.46zM189.45 868.20h6.46v6.46h-6.46zM170.07 913.42h6.46v6.46h-6.46z"/><path fill="#D8E0EF" d="M60.25 803.60h6.46v6.46h-6.46zM105.47 874.66h6.46v6.46h-6.46z"/><path fill="#F49499" d="M66.71 803.60h6.46v6.46h-6.46zM79.63 816.52h6.46v6.46h-6.46zM118.39 822.98h6.46v6.46h-6.46zM105.47 829.44h6.46v6.46h-6.46zM124.85 848.82h6.46v6.46h-6.46zM157.15 855.28h6.46v6.46h-6.46zM137.77 887.58h6.46v6.46h-6.46zM163.61 906.96h6.46v6.46h-6.46zM182.99 939.26h6.46v6.46h-6.46zM182.99 945.72h6.46v6.46h-6.46zM182.99 952.18h6.46v6.46h-6.46z"/><path fill="#F7B5B9" d="M73.17 803.60h6.46v6.46h-6.46zM137.77 803.60h6.46v6.46h-6.46zM79.63 810.06h6.46v6.46h-6.46zM79.63 829.44h6.46v6.46h-6.46zM86.09 835.90h6.46v6.46h-6.46zM182.99 855.28h6.46v6.46h-6.46zM118.39 861.74h6.46v6.46h-6.46zM150.69 874.66h6.46v6.46h-6.46zM118.39 881.12h6.46v6.46h-6.46zM131.31 894.04h6.46v6.46h-6.46zM176.53 906.96h6.46v6.46h-6.46zM157.15 913.42h6.46v6.46h-6.46zM163.61 913.42h6.46v6.46h-6.46zM170.07 919.88h6.46v6.46h-6.46zM176.53 919.88h6.46v6.46h-6.46zM189.45 919.88h6.46v6.46h-6.46zM176.53 926.34h6.46v6.46h-6.46zM189.45 932.80h6.46v6.46h-6.46zM176.53 939.26h6.46v6.46h-6.46zM189.45 945.72h6.46v6.46h-6.46z"/><path fill="#E3E9F3" d="M92.55 803.60h6.46v6.46h-6.46zM150.69 803.60h6.46v6.46h-6.46zM182.99 803.60h6.46v6.46h-6.46zM92.55 810.06h6.46v6.46h-6.46zM131.31 822.98h6.46v6.46h-6.46zM99.01 829.44h6.46v6.46h-6.46zM124.85 829.44h6.46v6.46h-6.46zM163.61 835.90h6.46v6.46h-6.46zM92.55 842.36h6.46v6.46h-6.46zM118.39 842.36h6.46v6.46h-6.46zM131.31 842.36h6.46v6.46h-6.46zM92.55 861.74h6.46v6.46h-6.46zM124.85 861.74h6.46v6.46h-6.46zM118.39 874.66h6.46v6.46h-6.46zM182.99 881.12h6.46v6.46h-6.46z"/><path fill="#FEF2F2" d="M118.39 803.60h6.46v6.46h-6.46zM163.61 822.98h6.46v6.46h-6.46zM137.77 835.90h6.46v6.46h-6.46zM150.69 881.12h6.46v6.46h-6.46zM137.77 894.04h6.46v6.46h-6.46zM137.77 900.50h6.46v6.46h-6.46zM170.07 900.50h6.46v6.46h-6.46z"/><path fill="#F9C1C4" d="M124.85 803.60h6.46v6.46h-6.46zM40.87 810.06h6.46v6.46h-6.46zM47.33 810.06h6.46v6.46h-6.46zM53.79 810.06h6.46v6.46h-6.46zM66.71 810.06h6.46v6.46h-6.46zM124.85 810.06h6.46v6.46h-6.46zM53.79 816.52h6.46v6.46h-6.46zM124.85 816.52h6.46v6.46h-6.46zM86.09 822.98h6.46v6.46h-6.46zM189.45 835.90h6.46v6.46h-6.46zM124.85 842.36h6.46v6.46h-6.46zM157.15 848.82h6.46v6.46h-6.46zM163.61 848.82h6.46v6.46h-6.46zM189.45 848.82h6.46v6.46h-6.46zM163.61 855.28h6.46v6.46h-6.46zM105.47 861.74h6.46v6.46h-6.46zM124.85 874.66h6.46v6.46h-6.46zM131.31 887.58h6.46v6.46h-6.46zM157.15 894.04h6.46v6.46h-6.46zM182.99 894.04h6.46v6.46h-6.46zM157.15 900.50h6.46v6.46h-6.46zM163.61 900.50h6.46v6.46h-6.46zM144.23 906.96h6.46v6.46h-6.46zM170.07 906.96h6.46v6.46h-6.46zM189.45 906.96h6.46v6.46h-6.46zM170.07 926.34h6.46v6.46h-6.46zM170.07 939.26h6.46v6.46h-6.46z"/><path fill="#F2F5FA" d="M131.31 803.60h6.46v6.46h-6.46zM92.55 822.98h6.46v6.46h-6.46zM99.01 822.98h6.46v6.46h-6.46zM118.39 868.20h6.46v6.46h-6.46z"/><path fill="#FDEBEC" d="M144.23 803.60h6.46v6.46h-6.46zM86.09 810.06h6.46v6.46h-6.46zM170.07 810.06h6.46v6.46h-6.46zM60.25 816.52h6.46v6.46h-6.46zM176.53 816.52h6.46v6.46h-6.46zM53.79 822.98h6.46v6.46h-6.46zM105.47 822.98h6.46v6.46h-6.46zM111.93 822.98h6.46v6.46h-6.46zM92.55 829.44h6.46v6.46h-6.46zM86.09 842.36h6.46v6.46h-6.46zM182.99 842.36h6.46v6.46h-6.46zM86.09 848.82h6.46v6.46h-6.46zM131.31 848.82h6.46v6.46h-6.46zM150.69 848.82h6.46v6.46h-6.46zM99.01 855.28h6.46v6.46h-6.46zM150.69 855.28h6.46v6.46h-6.46zM176.53 855.28h6.46v6.46h-6.46zM176.53 861.74h6.46v6.46h-6.46zM124.85 868.20h6.46v6.46h-6.46zM131.31 874.66h6.46v6.46h-6.46zM144.23 874.66h6.46v6.46h-6.46zM157.15 881.12h6.46v6.46h-6.46zM144.23 894.04h6.46v6.46h-6.46zM176.53 913.42h6.46v6.46h-6.46zM189.45 926.34h6.46v6.46h-6.46zM189.45 952.18h6.46v6.46h-6.46z"/><path fill="#D1DAEB" d="M157.15 803.60h6.46v6.46h-6.46zM189.45 900.50h6.46v6.46h-6.46z"/><path fill="#FEF5F6" d="M163.61 803.60h6.46v6.46h-6.46zM176.53 803.60h6.46v6.46h-6.46zM105.47 810.06h6.46v6.46h-6.46zM176.53 810.06h6.46v6.46h-6.46zM189.45 816.52h6.46v6.46h-6.46zM66.71 829.44h6.46v6.46h-6.46zM150.69 829.44h6.46v6.46h-6.46zM144.23 835.90h6.46v6.46h-6.46zM170.07 835.90h6.46v6.46h-6.46zM105.47 842.36h6.46v6.46h-6.46zM105.47 848.82h6.46v6.46h-6.46zM176.53 848.82h6.46v6.46h-6.46zM111.93 861.74h6.46v6.46h-6.46zM170.07 861.74h6.46v6.46h-6.46zM105.47 868.20h6.46v6.46h-6.46zM176.53 868.20h6.46v6.46h-6.46zM137.77 874.66h6.46v6.46h-6.46z"/><path fill="#AEBEDD" d="M170.07 803.60h6.46v6.46h-6.46z"/><path fill="#9AAED4" d="M189.45 803.60h6.46v6.46h-6.46z"/><path fill="#B9C7E2" d="M60.25 810.06h6.46v6.46h-6.46zM66.71 835.90h6.46v6.46h-6.46zM99.01 835.90h6.46v6.46h-6.46z"/><path fill="#C5D0E6" d="M111.93 810.06h6.46v6.46h-6.46zM144.23 822.98h6.46v6.46h-6.46zM73.17 835.90h6.46v6.46h-6.46zM124.85 835.90h6.46v6.46h-6.46z"/><path fill="#FFFFFF" d="M137.77 810.06h6.46v6.46h-6.46zM144.23 810.06h6.46v6.46h-6.46zM92.55 816.52h6.46v6.46h-6.46zM99.01 816.52h6.46v6.46h-6.46zM79.63 822.98h6.46v6.46h-6.46zM124.85 822.98h6.46v6.46h-6.46zM170.07 822.98h6.46v6.46h-6.46zM176.53 822.98h6.46v6.46h-6.46zM189.45 861.74h6.46v6.46h-6.46z"/><path fill="#F6F8FB" d="M182.99 810.06h6.46v6.46h-6.46zM157.15 822.98h6.46v6.46h-6.46zM79.63 835.90h6.46v6.46h-6.46zM157.15 842.36h6.46v6.46h-6.46zM176.53 881.12h6.46v6.46h-6.46z"/><path fill="#ECF0F7" d="M189.45 810.06h6.46v6.46h-6.46zM170.07 816.52h6.46v6.46h-6.46zM60.25 822.98h6.46v6.46h-6.46zM137.77 822.98h6.46v6.46h-6.46zM182.99 822.98h6.46v6.46h-6.46zM189.45 822.98h6.46v6.46h-6.46zM182.99 835.90h6.46v6.46h-6.46zM176.53 842.36h6.46v6.46h-6.46zM92.55 848.82h6.46v6.46h-6.46zM111.93 848.82h6.46v6.46h-6.46zM92.55 855.28h6.46v6.46h-6.46zM99.01 861.74h6.46v6.46h-6.46zM150.69 861.74h6.46v6.46h-6.46zM99.01 868.20h6.46v6.46h-6.46zM170.07 881.12h6.46v6.46h-6.46zM124.85 887.58h6.46v6.46h-6.46z"/><path fill="#F6AAAE" d="M73.17 816.52h6.46v6.46h-6.46zM111.93 816.52h6.46v6.46h-6.46zM137.77 816.52h6.46v6.46h-6.46zM144.23 816.52h6.46v6.46h-6.46zM60.25 829.44h6.46v6.46h-6.46zM118.39 829.44h6.46v6.46h-6.46zM118.39 835.90h6.46v6.46h-6.46zM73.17 842.36h6.46v6.46h-6.46zM111.93 842.36h6.46v6.46h-6.46zM144.23 842.36h6.46v6.46h-6.46zM144.23 848.82h6.46v6.46h-6.46zM137.77 855.28h6.46v6.46h-6.46zM144.23 855.28h6.46v6.46h-6.46zM189.45 855.28h6.46v6.46h-6.46zM157.15 868.20h6.46v6.46h-6.46zM163.61 887.58h6.46v6.46h-6.46zM163.61 894.04h6.46v6.46h-6.46zM144.23 913.42h6.46v6.46h-6.46zM150.69 913.42h6.46v6.46h-6.46zM182.99 913.42h6.46v6.46h-6.46zM189.45 913.42h6.46v6.46h-6.46zM157.15 926.34h6.46v6.46h-6.46zM163.61 926.34h6.46v6.46h-6.46zM182.99 926.34h6.46v6.46h-6.46zM176.53 932.80h6.46v6.46h-6.46z"/><path fill="#DEE4F1" d="M131.31 816.52h6.46v6.46h-6.46zM170.07 842.36h6.46v6.46h-6.46zM111.93 874.66h6.46v6.46h-6.46zM189.45 874.66h6.46v6.46h-6.46zM124.85 881.12h6.46v6.46h-6.46z"/><path fill="#FACED0" d="M150.69 822.98h6.46v6.46h-6.46zM131.31 829.44h6.46v6.46h-6.46zM99.01 842.36h6.46v6.46h-6.46zM99.01 848.82h6.46v6.46h-6.46zM111.93 855.28h6.46v6.46h-6.46zM124.85 855.28h6.46v6.46h-6.46zM111.93 868.20h6.46v6.46h-6.46zM137.77 868.20h6.46v6.46h-6.46zM144.23 868.20h6.46v6.46h-6.46zM157.15 874.66h6.46v6.46h-6.46zM131.31 881.12h6.46v6.46h-6.46zM144.23 881.12h6.46v6.46h-6.46zM144.23 887.58h6.46v6.46h-6.46zM182.99 887.58h6.46v6.46h-6.46zM150.69 894.04h6.46v6.46h-6.46zM170.07 894.04h6.46v6.46h-6.46zM176.53 945.72h6.46v6.46h-6.46zM189.45 958.64h6.46v6.46h-6.46z"/><path fill="#FDE8E9" d="M170.07 829.44h6.46v6.46h-6.46zM144.23 861.74h6.46v6.46h-6.46zM163.61 861.74h6.46v6.46h-6.46zM182.99 861.74h6.46v6.46h-6.46zM150.69 868.20h6.46v6.46h-6.46zM170.07 874.66h6.46v6.46h-6.46zM176.53 874.66h6.46v6.46h-6.46zM144.23 900.50h6.46v6.46h-6.46zM150.69 900.50h6.46v6.46h-6.46z"/><path fill="#F3898F" d="M105.47 835.90h6.46v6.46h-6.46zM163.61 932.80h6.46v6.46h-6.46z"/><path fill="#FDEEEF" d="M150.69 835.90h6.46v6.46h-6.46zM157.15 835.90h6.46v6.46h-6.46zM176.53 835.90h6.46v6.46h-6.46z"/><path fill="#F1757B" d="M137.77 842.36h6.46v6.46h-6.46zM182.99 932.80h6.46v6.46h-6.46z"/><path fill="#E9EDF6" d="M189.45 842.36h6.46v6.46h-6.46z"/></g>
<g fill="#2a2a2a"><path fill-opacity="0.6" d="M29.82 805.96h2.71v1.10h-2.71zM42.74 805.96h2.71v1.10h-2.71zM68.58 805.96h2.71v1.10h-2.71zM75.04 805.96h2.71v1.10h-2.71zM81.50 805.96h2.71v1.10h-2.71zM126.72 805.96h2.71v1.10h-2.71zM139.64 805.96h2.71v1.10h-2.71zM171.94 805.96h2.71v1.10h-2.71zM191.32 805.96h2.71v1.10h-2.71zM36.28 812.42h2.71v1.10h-2.71zM42.74 812.42h2.71v1.10h-2.71zM49.20 812.42h2.71v1.10h-2.71zM55.66 812.42h2.71v1.10h-2.71zM62.12 812.42h2.71v1.10h-2.71zM68.58 812.42h2.71v1.10h-2.71zM75.04 812.42h2.71v1.10h-2.71zM81.50 812.42h2.71v1.10h-2.71zM100.88 812.42h2.71v1.10h-2.71zM113.80 812.42h2.71v1.10h-2.71zM126.72 812.42h2.71v1.10h-2.71zM42.74 818.88h2.71v1.10h-2.71zM55.66 818.88h2.71v1.10h-2.71zM68.58 818.88h2.71v1.10h-2.71zM75.04 818.88h2.71v1.10h-2.71zM81.50 818.88h2.71v1.10h-2.71zM113.80 818.88h2.71v1.10h-2.71zM126.72 818.88h2.71v1.10h-2.71zM139.64 818.88h2.71v1.10h-2.71zM146.10 818.88h2.71v1.10h-2.71zM49.20 825.34h2.71v1.10h-2.71zM87.96 825.34h2.71v1.10h-2.71zM120.26 825.34h2.71v1.10h-2.71zM146.10 825.34h2.71v1.10h-2.71zM55.66 831.80h2.71v1.10h-2.71zM62.12 831.80h2.71v1.10h-2.71zM81.50 831.80h2.71v1.10h-2.71zM107.34 831.80h2.71v1.10h-2.71zM120.26 831.80h2.71v1.10h-2.71zM62.12 838.26h2.71v1.10h-2.71zM68.58 838.26h2.71v1.10h-2.71zM75.04 838.26h2.71v1.10h-2.71zM87.96 838.26h2.71v1.10h-2.71zM100.88 838.26h2.71v1.10h-2.71zM107.34 838.26h2.71v1.10h-2.71zM120.26 838.26h2.71v1.10h-2.71zM126.72 838.26h2.71v1.10h-2.71zM68.58 844.72h2.71v1.10h-2.71zM75.04 844.72h2.71v1.10h-2.71zM81.50 844.72h2.71v1.10h-2.71zM113.80 844.72h2.71v1.10h-2.71zM126.72 844.72h2.71v1.10h-2.71zM139.64 844.72h2.71v1.10h-2.71zM146.10 844.72h2.71v1.10h-2.71zM75.04 851.18h2.71v1.10h-2.71zM81.50 851.18h2.71v1.10h-2.71zM126.72 851.18h2.71v1.10h-2.71zM146.10 851.18h2.71v1.10h-2.71zM159.02 851.18h2.71v1.10h-2.71zM165.48 851.18h2.71v1.10h-2.71zM81.50 857.64h2.71v1.10h-2.71zM139.64 857.64h2.71v1.10h-2.71zM146.10 857.64h2.71v1.10h-2.71zM159.02 857.64h2.71v1.10h-2.71zM165.48 857.64h2.71v1.10h-2.71zM184.86 857.64h2.71v1.10h-2.71zM191.32 857.64h2.71v1.10h-2.71zM87.96 864.10h2.71v1.10h-2.71zM107.34 864.10h2.71v1.10h-2.71zM120.26 864.10h2.71v1.10h-2.71zM94.42 870.56h2.71v1.10h-2.71zM159.02 870.56h2.71v1.10h-2.71zM100.88 877.02h2.71v1.10h-2.71zM126.72 877.02h2.71v1.10h-2.71zM152.56 877.02h2.71v1.10h-2.71zM107.34 883.48h2.71v1.10h-2.71zM120.26 883.48h2.71v1.10h-2.71zM113.80 889.94h2.71v1.10h-2.71zM133.18 889.94h2.71v1.10h-2.71zM139.64 889.94h2.71v1.10h-2.71zM152.56 889.94h2.71v1.10h-2.71zM165.48 889.94h2.71v1.10h-2.71zM120.26 896.40h2.71v1.10h-2.71zM133.18 896.40h2.71v1.10h-2.71zM159.02 896.40h2.71v1.10h-2.71zM165.48 896.40h2.71v1.10h-2.71zM184.86 896.40h2.71v1.10h-2.71zM126.72 902.86h2.71v1.10h-2.71zM159.02 902.86h2.71v1.10h-2.71zM165.48 902.86h2.71v1.10h-2.71zM133.18 909.32h2.71v1.10h-2.71zM146.10 909.32h2.71v1.10h-2.71zM152.56 909.32h2.71v1.10h-2.71zM159.02 909.32h2.71v1.10h-2.71zM165.48 909.32h2.71v1.10h-2.71zM171.94 909.32h2.71v1.10h-2.71zM178.40 909.32h2.71v1.10h-2.71zM184.86 909.32h2.71v1.10h-2.71zM139.64 915.78h2.71v1.10h-2.71zM146.10 915.78h2.71v1.10h-2.71zM152.56 915.78h2.71v1.10h-2.71zM159.02 915.78h2.71v1.10h-2.71zM165.48 915.78h2.71v1.10h-2.71zM184.86 915.78h2.71v1.10h-2.71zM191.32 915.78h2.71v1.10h-2.71zM146.10 922.24h2.71v1.10h-2.71zM159.02 922.24h2.71v1.10h-2.71zM165.48 922.24h2.71v1.10h-2.71zM171.94 922.24h2.71v1.10h-2.71zM178.40 922.24h2.71v1.10h-2.71zM184.86 922.24h2.71v1.10h-2.71zM191.32 922.24h2.71v1.10h-2.71zM152.56 928.70h2.71v1.10h-2.71zM159.02 928.70h2.71v1.10h-2.71zM165.48 928.70h2.71v1.10h-2.71zM171.94 928.70h2.71v1.10h-2.71zM178.40 928.70h2.71v1.10h-2.71zM184.86 928.70h2.71v1.10h-2.71zM159.02 935.16h2.71v1.10h-2.71zM165.48 935.16h2.71v1.10h-2.71zM171.94 935.16h2.71v1.10h-2.71zM178.40 935.16h2.71v1.10h-2.71zM184.86 935.16h2.71v1.10h-2.71zM191.32 935.16h2.71v1.10h-2.71zM165.48 941.62h2.71v1.10h-2.71zM171.94 941.62h2.71v1.10h-2.71zM178.40 941.62h2.71v1.10h-2.71zM184.86 941.62h2.71v1.10h-2.71zM171.94 948.08h2.71v1.10h-2.71zM184.86 948.08h2.71v1.10h-2.71zM191.32 948.08h2.71v1.10h-2.71zM178.40 954.54h2.71v1.10h-2.71zM184.86 954.54h2.71v1.10h-2.71zM184.86 961.00h2.71v1.10h-2.71zM191.32 967.46h2.71v1.10h-2.71z"/><path fill-opacity="0.3" d="M49.20 805.96h2.71v1.10h-2.71zM55.66 805.96h2.71v1.10h-2.71zM62.12 805.96h2.71v1.10h-2.71zM87.96 805.96h2.71v1.10h-2.71zM100.88 805.96h2.71v1.10h-2.71zM107.34 805.96h2.71v1.10h-2.71zM113.80 805.96h2.71v1.10h-2.71zM159.02 805.96h2.71v1.10h-2.71zM152.56 812.42h2.71v1.10h-2.71zM165.48 812.42h2.71v1.10h-2.71zM49.20 818.88h2.71v1.10h-2.71zM87.96 818.88h2.71v1.10h-2.71zM107.34 818.88h2.71v1.10h-2.71zM120.26 818.88h2.71v1.10h-2.71zM133.18 818.88h2.71v1.10h-2.71zM152.56 818.88h2.71v1.10h-2.71zM159.02 818.88h2.71v1.10h-2.71zM165.48 818.88h2.71v1.10h-2.71zM68.58 825.34h2.71v1.10h-2.71zM75.04 825.34h2.71v1.10h-2.71zM152.56 825.34h2.71v1.10h-2.71zM87.96 831.80h2.71v1.10h-2.71zM113.80 831.80h2.71v1.10h-2.71zM133.18 831.80h2.71v1.10h-2.71zM139.64 831.80h2.71v1.10h-2.71zM146.10 831.80h2.71v1.10h-2.71zM159.02 831.80h2.71v1.10h-2.71zM165.48 831.80h2.71v1.10h-2.71zM178.40 831.80h2.71v1.10h-2.71zM94.42 838.26h2.71v1.10h-2.71zM113.80 838.26h2.71v1.10h-2.71zM133.18 838.26h2.71v1.10h-2.71zM100.88 844.72h2.71v1.10h-2.71zM152.56 844.72h2.71v1.10h-2.71zM165.48 844.72h2.71v1.10h-2.71zM171.94 844.72h2.71v1.10h-2.71zM100.88 851.18h2.71v1.10h-2.71zM120.26 851.18h2.71v1.10h-2.71zM139.64 851.18h2.71v1.10h-2.71zM171.94 851.18h2.71v1.10h-2.71zM87.96 857.64h2.71v1.10h-2.71zM107.34 857.64h2.71v1.10h-2.71zM113.80 857.64h2.71v1.10h-2.71zM126.72 857.64h2.71v1.10h-2.71zM133.18 857.64h2.71v1.10h-2.71zM171.94 857.64h2.71v1.10h-2.71zM113.80 870.56h2.71v1.10h-2.71zM133.18 870.56h2.71v1.10h-2.71zM139.64 870.56h2.71v1.10h-2.71zM146.10 870.56h2.71v1.10h-2.71zM165.48 870.56h2.71v1.10h-2.71zM171.94 870.56h2.71v1.10h-2.71zM184.86 870.56h2.71v1.10h-2.71zM107.34 877.02h2.71v1.10h-2.71zM113.80 877.02h2.71v1.10h-2.71zM159.02 877.02h2.71v1.10h-2.71zM113.80 883.48h2.71v1.10h-2.71zM126.72 883.48h2.71v1.10h-2.71zM133.18 883.48h2.71v1.10h-2.71zM139.64 883.48h2.71v1.10h-2.71zM146.10 883.48h2.71v1.10h-2.71zM165.48 883.48h2.71v1.10h-2.71zM146.10 889.94h2.71v1.10h-2.71zM159.02 889.94h2.71v1.10h-2.71zM171.94 889.94h2.71v1.10h-2.71zM178.40 889.94h2.71v1.10h-2.71zM184.86 889.94h2.71v1.10h-2.71zM126.72 896.40h2.71v1.10h-2.71zM152.56 896.40h2.71v1.10h-2.71zM171.94 896.40h2.71v1.10h-2.71zM178.40 902.86h2.71v1.10h-2.71zM184.86 902.86h2.71v1.10h-2.71zM139.64 909.32h2.71v1.10h-2.71zM171.94 915.78h2.71v1.10h-2.71zM152.56 922.24h2.71v1.10h-2.71zM178.40 948.08h2.71v1.10h-2.71z"/></g>
<text transform="translate(26.15,807.95) scale(0.1)" text-anchor="end" class="hl" font-size="32.0" font-weight="bold">IL32</text>
<text transform="translate(26.15,814.41) scale(0.1)" text-anchor="end" class="hl" font-size="32.0" font-weight="bold">IL33</text>
<text transform="translate(26.15,820.87) scale(0.1)" text-anchor="end" class="hl" font-size="32.0" font-weight="bold">IL18</text>
<text transform="translate(26.15,827.33) scale(0.1)" text-anchor="end" class="hl" font-size="32.0" font-weight="bold">IL15</text>
<text transform="translate(26.15,833.79) scale(0.1)" text-anchor="end" class="hl" font-size="32.0" font-weight="bold">IL6</text>
<text transform="translate(26.15,840.25) scale(0.1)" text-anchor="end" class="hl" font-size="32.0" font-weight="bold">IL11</text>
<text transform="translate(26.15,846.71) scale(0.1)" text-anchor="end" class="hl" font-size="32.0" font-weight="bold">IL16</text>
<text transform="translate(26.15,853.17) scale(0.1)" text-anchor="end" class="hl" font-size="32.0" font-weight="bold">IL7</text>
<text transform="translate(26.15,859.63) scale(0.1)" text-anchor="end" class="hl" font-size="32.0" font-weight="bold">IL12A</text>
<text transform="translate(26.15,866.09) scale(0.1)" text-anchor="end" class="hl" font-size="32.0" font-weight="bold">IL10</text>
<text transform="translate(26.15,872.55) scale(0.1)" text-anchor="end" class="hl" font-size="32.0" font-weight="bold">IL37</text>
<text transform="translate(26.15,879.01) scale(0.1)" text-anchor="end" class="hl" font-size="32.0" font-weight="bold">IL2</text>
<text transform="translate(26.15,885.47) scale(0.1)" text-anchor="end" class="hl" font-size="32.0" font-weight="bold">IL34</text>
<text transform="translate(26.15,891.93) scale(0.1)" text-anchor="end" class="hl" font-size="32.0" font-weight="bold">IL27</text>
<text transform="translate(26.15,898.39) scale(0.1)" text-anchor="end" class="hl" font-size="32.0" font-weight="bold">IL20</text>
<text transform="translate(26.15,904.85) scale(0.1)" text-anchor="end" class="hl" font-size="32.0" font-weight="bold">IL4</text>
<text transform="translate(26.15,911.31) scale(0.1)" text-anchor="end" class="hl" font-size="32.0" font-weight="bold">IL24</text>
<text transform="translate(26.15,917.77) scale(0.1)" text-anchor="end" class="hl" font-size="32.0" font-weight="bold">IL21</text>
<text transform="translate(26.15,924.23) scale(0.1)" text-anchor="end" class="hl" font-size="32.0" font-weight="bold">IL26</text>
<text transform="translate(26.15,930.69) scale(0.1)" text-anchor="end" class="hl" font-size="32.0" font-weight="bold">IL13</text>
<text transform="translate(26.15,937.15) scale(0.1)" text-anchor="end" class="hl" font-size="32.0" font-weight="bold">IL5</text>
<text transform="translate(26.15,943.61) scale(0.1)" text-anchor="end" class="hl" font-size="32.0" font-weight="bold">IL22</text>
<text transform="translate(26.15,950.07) scale(0.1)" text-anchor="end" class="hl" font-size="32.0" font-weight="bold">IL9</text>
<text transform="translate(26.15,956.53) scale(0.1)" text-anchor="end" class="hl" font-size="32.0" font-weight="bold">IL25</text>
<text transform="translate(26.15,962.99) scale(0.1)" text-anchor="end" class="hl" font-size="32.0" font-weight="bold">IL3</text>
<text transform="translate(26.15,969.45) scale(0.1)" text-anchor="end" class="hl" font-size="32.0" font-weight="bold">ZNF score</text>
<text transform="translate(31.18,802.30) rotate(-45) scale(0.1)" class="hl" font-size="32.0" font-weight="bold">IL32</text>
<text transform="translate(37.64,802.30) rotate(-45) scale(0.1)" class="hl" font-size="32.0" font-weight="bold">IL33</text>
<text transform="translate(44.10,802.30) rotate(-45) scale(0.1)" class="hl" font-size="32.0" font-weight="bold">IL18</text>
<text transform="translate(50.56,802.30) rotate(-45) scale(0.1)" class="hl" font-size="32.0" font-weight="bold">IL15</text>
<text transform="translate(57.02,802.30) rotate(-45) scale(0.1)" class="hl" font-size="32.0" font-weight="bold">IL6</text>
<text transform="translate(63.48,802.30) rotate(-45) scale(0.1)" class="hl" font-size="32.0" font-weight="bold">IL11</text>
<text transform="translate(69.94,802.30) rotate(-45) scale(0.1)" class="hl" font-size="32.0" font-weight="bold">IL16</text>
<text transform="translate(76.40,802.30) rotate(-45) scale(0.1)" class="hl" font-size="32.0" font-weight="bold">IL7</text>
<text transform="translate(82.86,802.30) rotate(-45) scale(0.1)" class="hl" font-size="32.0" font-weight="bold">IL12A</text>
<text transform="translate(89.32,802.30) rotate(-45) scale(0.1)" class="hl" font-size="32.0" font-weight="bold">IL10</text>
<text transform="translate(95.78,802.30) rotate(-45) scale(0.1)" class="hl" font-size="32.0" font-weight="bold">IL37</text>
<text transform="translate(102.24,802.30) rotate(-45) scale(0.1)" class="hl" font-size="32.0" font-weight="bold">IL2</text>
<text transform="translate(108.70,802.30) rotate(-45) scale(0.1)" class="hl" font-size="32.0" font-weight="bold">IL34</text>
<text transform="translate(115.16,802.30) rotate(-45) scale(0.1)" class="hl" font-size="32.0" font-weight="bold">IL27</text>
<text transform="translate(121.62,802.30) rotate(-45) scale(0.1)" class="hl" font-size="32.0" font-weight="bold">IL20</text>
<text transform="translate(128.08,802.30) rotate(-45) scale(0.1)" class="hl" font-size="32.0" font-weight="bold">IL4</text>
<text transform="translate(134.54,802.30) rotate(-45) scale(0.1)" class="hl" font-size="32.0" font-weight="bold">IL24</text>
<text transform="translate(141.00,802.30) rotate(-45) scale(0.1)" class="hl" font-size="32.0" font-weight="bold">IL21</text>
<text transform="translate(147.46,802.30) rotate(-45) scale(0.1)" class="hl" font-size="32.0" font-weight="bold">IL26</text>
<text transform="translate(153.92,802.30) rotate(-45) scale(0.1)" class="hl" font-size="32.0" font-weight="bold">IL13</text>
<text transform="translate(160.38,802.30) rotate(-45) scale(0.1)" class="hl" font-size="32.0" font-weight="bold">IL5</text>
<text transform="translate(166.84,802.30) rotate(-45) scale(0.1)" class="hl" font-size="32.0" font-weight="bold">IL22</text>
<text transform="translate(173.30,802.30) rotate(-45) scale(0.1)" class="hl" font-size="32.0" font-weight="bold">IL9</text>
<text transform="translate(179.76,802.30) rotate(-45) scale(0.1)" class="hl" font-size="32.0" font-weight="bold">IL25</text>
<text transform="translate(186.22,802.30) rotate(-45) scale(0.1)" class="hl" font-size="32.0" font-weight="bold">IL3</text>
<text transform="translate(192.68,802.30) rotate(-45) scale(0.1)" class="hl" font-size="32.0" font-weight="bold">ZNF score</text>
<defs><linearGradient id="g27803" x1="0" y1="0" x2="0" y2="1"><stop offset="0.0" stop-color="#E8202A"/><stop offset="0.05" stop-color="#EA323B"/><stop offset="0.1" stop-color="#EC444D"/><stop offset="0.15" stop-color="#EE575F"/><stop offset="0.2" stop-color="#F06B71"/><stop offset="0.25" stop-color="#F27F85"/><stop offset="0.3" stop-color="#F49499"/><stop offset="0.35" stop-color="#F6AAAE"/><stop offset="0.4" stop-color="#F9C1C4"/><stop offset="0.45" stop-color="#FBDCDD"/><stop offset="0.5" stop-color="#FFFFFF"/><stop offset="0.55" stop-color="#DEE4F1"/><stop offset="0.6" stop-color="#C5D0E6"/><stop offset="0.65" stop-color="#AEBEDD"/><stop offset="0.7" stop-color="#9AAED4"/><stop offset="0.75" stop-color="#869ECC"/><stop offset="0.8" stop-color="#738FC4"/><stop offset="0.85" stop-color="#6080BC"/><stop offset="0.9" stop-color="#4E72B5"/><stop offset="0.95" stop-color="#3D64AD"/><stop offset="1.0" stop-color="#2C56A6"/></linearGradient></defs>
<rect x="199.6" y="803.6" width="6.4" height="167.8" fill="url(#g27803)" stroke="#222" stroke-width="0.8"/>
<line x1="205.7" y1="803.60" x2="206.9" y2="803.60" stroke="#222" stroke-width="0.6"/>
<text transform="translate(213.40,805.00) scale(0.1)" class="hl" text-anchor="middle" font-size="39.0">1</text>
<line x1="205.7" y1="820.38" x2="206.9" y2="820.38" stroke="#222" stroke-width="0.6"/>
<text transform="translate(213.40,821.78) scale(0.1)" class="hl" text-anchor="middle" font-size="39.0">0.8</text>
<line x1="205.7" y1="837.16" x2="206.9" y2="837.16" stroke="#222" stroke-width="0.6"/>
<text transform="translate(213.40,838.56) scale(0.1)" class="hl" text-anchor="middle" font-size="39.0">0.6</text>
<line x1="205.7" y1="853.94" x2="206.9" y2="853.94" stroke="#222" stroke-width="0.6"/>
<text transform="translate(213.40,855.34) scale(0.1)" class="hl" text-anchor="middle" font-size="39.0">0.4</text>
<line x1="205.7" y1="870.72" x2="206.9" y2="870.72" stroke="#222" stroke-width="0.6"/>
<text transform="translate(213.40,872.12) scale(0.1)" class="hl" text-anchor="middle" font-size="39.0">0.2</text>
<line x1="205.7" y1="887.50" x2="206.9" y2="887.50" stroke="#222" stroke-width="0.6"/>
<text transform="translate(213.40,888.90) scale(0.1)" class="hl" text-anchor="middle" font-size="39.0">0</text>
<line x1="205.7" y1="904.28" x2="206.9" y2="904.28" stroke="#222" stroke-width="0.6"/>
<text transform="translate(213.40,905.68) scale(0.1)" class="hl" text-anchor="middle" font-size="39.0">−0.2</text>
<line x1="205.7" y1="921.06" x2="206.9" y2="921.06" stroke="#222" stroke-width="0.6"/>
<text transform="translate(213.40,922.46) scale(0.1)" class="hl" text-anchor="middle" font-size="39.0">−0.4</text>
<line x1="205.7" y1="937.84" x2="206.9" y2="937.84" stroke="#222" stroke-width="0.6"/>
<text transform="translate(213.40,939.24) scale(0.1)" class="hl" text-anchor="middle" font-size="39.0">−0.6</text>
<line x1="205.7" y1="954.62" x2="206.9" y2="954.62" stroke="#222" stroke-width="0.6"/>
<text transform="translate(213.40,956.02) scale(0.1)" class="hl" text-anchor="middle" font-size="39.0">−0.8</text>
<line x1="205.7" y1="971.40" x2="206.9" y2="971.40" stroke="#222" stroke-width="0.6"/>
<text transform="translate(213.40,972.80) scale(0.1)" class="hl" text-anchor="middle" font-size="39.0">−1</text>
</svg></body></html>
